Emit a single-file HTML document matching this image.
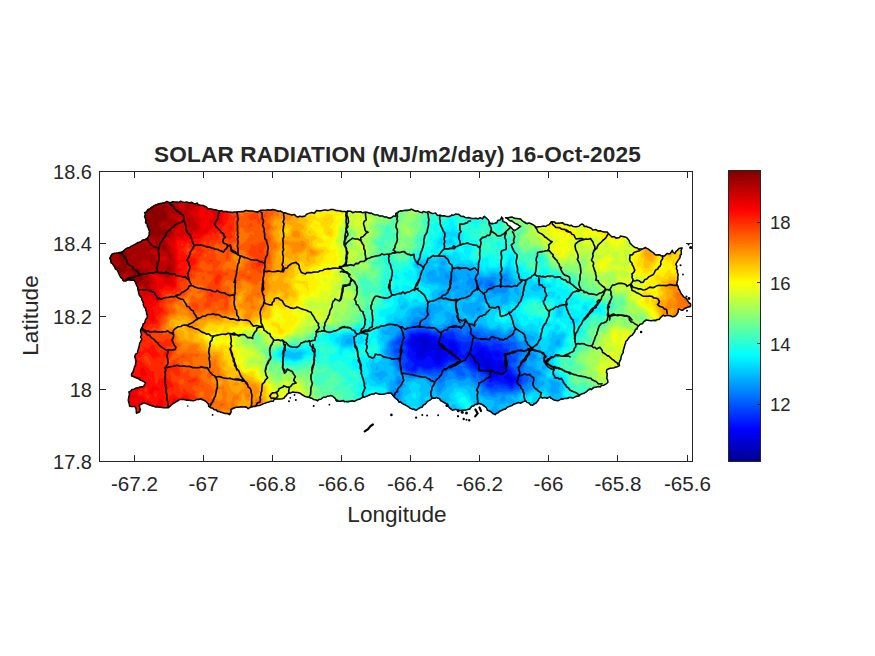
<!DOCTYPE html>
<html><head><meta charset="utf-8">
<style>
html,body{margin:0;padding:0;background:#fff;}
body{width:875px;height:656px;overflow:hidden;position:relative;font-family:"Liberation Sans",sans-serif;}
svg{position:absolute;left:0;top:0;}
text{font-family:"Liberation Sans",sans-serif;fill:#262626;}
</style></head><body>
<svg width="875" height="656" viewBox="0 0 875 656">
<defs>
<linearGradient id="jet" x1="0" y1="1" x2="0" y2="0">
<stop offset="0" stop-color="#00008f"/>
<stop offset="0.11" stop-color="#0000ff"/>
<stop offset="0.365" stop-color="#00ffff"/>
<stop offset="0.49" stop-color="#80ff80"/>
<stop offset="0.615" stop-color="#ffff00"/>
<stop offset="0.865" stop-color="#ff0000"/>
<stop offset="1" stop-color="#800000"/>
</linearGradient>
</defs>
<rect width="875" height="656" fill="#fff"/>
<clipPath id="cl"><path d="M109.9,256.7 112,254.1 120.6,252.4 130.9,246.4 139.4,242.1 147.1,237.9 149.7,234.4 148.9,229.3 146.3,222.4 144.9,216.4 146.3,211.3 151.4,207 158.3,203.6 168.6,201.9 180.6,201.9 192.6,202.7 201.1,205.3 209.7,208.7 220,210.8 232,212.1 240,212.1 246.9,210.4 257.1,211.3 265.7,210.4 274.3,209.6 282.9,212.1 289.7,214.7 298.3,216.4 306,215.6 307.7,213 313.7,213 315.4,210.8 325.7,210.4 333.4,209.6 341.1,210.8 346.3,212.1 354.9,211.3 361.7,213 366.9,212.1 375.4,214.7 384,216.4 388.6,218.1 395.4,216.4 397.1,212.1 404,210.1 411.7,209.6 419.4,212.1 428,212.1 433.1,213.9 440,215.6 448.6,216.4 455.4,214.7 462.3,216.4 469.1,218.1 476,219 482.9,218.1 484.6,215.6 487.1,219 489.7,222.4 494.9,223.3 500,219.9 501.7,216.4 503.4,220.7 506.9,224.1 510.3,226.7 513.7,230.1 517.1,229.3 520.6,226.7 515.4,223.3 508.6,219.9 505.1,217.3 512,217.3 518.9,219 524,221.6 531.4,224.1 536.6,226.7 545.1,226.7 550.3,223.3 552,221.6 560.6,223.3 569.1,225.9 577.7,226.7 582,224.1 586.3,226.7 593.1,229.3 600,231 606.8,232.6 611.8,236.8 618.5,238.4 621,235.9 626.9,237.6 630.2,243.5 635.2,247.7 640.3,249.3 645.3,246.8 650.3,251 657,255.2 663.7,256 669.6,253.5 672.1,251 674.6,253.5 678.8,248.5 681.8,248.5 681.3,253.5 678,260.2 676.3,264.4 677.1,270.3 678,277 677.1,283.7 678.8,288.7 681.3,293.7 685.5,298.8 689.7,303.8 690.6,307.1 686.4,308 683,310.5 678.8,309.7 677.1,313.8 673.8,316.4 668.8,315.5 663.7,314.7 660.4,317.2 656.2,321.4 652,320.6 647,320.6 642,322.2 638.6,325.6 634.9,331.7 629.1,337.5 625.2,343.3 623.3,351.1 620.3,358.9 619.4,365.7 613.5,367.6 606.7,369.5 606.7,375.4 607.7,382.2 603.8,385.1 594.1,388 584.4,392.9 576.6,396.7 565,398.7 556.2,400.6 549.4,397.7 540.7,396.7 535.7,403.4 532.5,405.3 525.4,400.9 518.6,402.6 510,406 501.4,410.3 494.6,414.6 489.4,411.1 485.1,406.9 479.1,403.4 475.7,404.3 470.6,407.7 465.4,410.3 458.6,410.3 450,408.6 446.6,403.4 441.4,400 436.3,397.4 431.1,399.1 422.6,405.1 415.7,411.1 405.4,405.1 396.9,400 390.6,393.1 382,394 373.4,394 363.1,397.4 356.3,400 347.7,402.6 342.6,400.9 336.6,401.7 334.9,398.3 330.6,395.7 323.7,397.4 316.9,400.9 311.7,398.3 304.9,396.6 299.7,393.1 292.9,392.3 286.9,394 284.3,398.3 277.4,399.1 267.1,402.6 256.9,406 250,407.7 248.6,408.6 245.1,406.9 236.6,406.9 231.4,409.4 229.7,414.6 222.9,412.9 216,410.3 209.1,406 205.7,400.9 197.1,399.1 188.6,400 180,399.1 173.1,403.4 168,407.7 159.4,407.7 150.9,406 144,402.6 139.7,405.1 139.7,412 137.1,412.9 135.4,406.9 129.4,406 128.6,399.1 129.4,392.3 135.4,388 144,386.3 145.7,382.9 138.9,378.6 131.1,376 133.4,370.3 136,363.4 135.1,356.6 138.6,349.7 141.1,339.4 141.1,329.1 144.6,322.3 148,315.4 145.4,308.6 142,300 139.4,294.4 136.9,285.9 134.3,280.7 127.4,279.9 123.1,280.7 119.7,275.6 116.3,268.7 111.1,261.9Z"/></clipPath>
<g clip-path="url(#cl)">
<rect x="100" y="195" width="600" height="225" fill="#0000bf"/>
<path fill="#0000d9" d="M108.8,255.8 108.8,258.8 109.8,262.2 114.8,269.2 118.2,276.8 122.2,282.2 131.2,281.8 133.8,283.2 136.2,288.2 136.2,289.8 137.8,293.2 138.2,296.2 141.8,302.8 144.2,310.8 146.8,315.2 140.2,327.8 140.2,339.2 139.8,339.8 137.8,348.8 134.2,355.2 134.8,363.8 132.2,368.8 130.2,374.8 130.2,377.8 136.8,379.8 143.2,383.2 143.8,384.2 141.8,385.8 137.8,386.2 133.2,387.8 128.2,391.2 128.2,394.2 127.8,394.8 127.8,404.2 128.2,404.8 128.2,407.8 133.8,408.2 134.8,409.2 136.2,414.2 141.2,413.8 141.2,406.8 143.8,405.2 145.2,405.2 151.2,408.2 153.8,408.2 157.2,409.2 169.8,409.2 175.2,404.2 180.8,401.2 192.2,401.8 192.8,401.2 196.2,401.2 197.2,400.8 197.8,401.2 200.2,401.2 200.8,401.8 204.8,402.2 208.8,408.2 217.2,412.8 226.2,415.8 231.2,416.2 232.2,411.8 233.8,410.2 237.8,408.2 244.2,408.2 247.8,410.2 250.2,410.2 251.8,409.2 258.8,407.8 273.8,402.8 278.2,400.8 285.8,399.8 288.2,395.8 292.2,394.2 296.8,394.2 299.8,395.2 303.8,398.2 311.2,399.8 315.8,402.2 318.8,402.2 325.2,398.8 330.8,397.8 334.2,400.2 335.8,403.2 343.2,402.8 346.2,404.2 349.8,404.2 355.2,402.2 356.8,402.2 364.2,398.8 367.2,398.2 374.2,395.8 385.8,395.8 386.2,395.2 390.2,395.2 396.2,402.2 414.8,412.8 417.2,412.8 426.8,404.8 430.2,402.8 431.8,401.2 436.2,399.2 440.8,402.2 445.2,404.2 448.8,409.8 450.8,410.8 453.2,410.8 456.8,411.8 467.2,411.8 473.2,408.8 476.2,406.2 479.2,405.2 483.8,407.8 486.2,410.8 490.2,414.2 493.8,416.2 496.2,416.2 501.8,412.2 506.8,409.8 507.8,409.8 511.2,407.8 512.2,407.8 522.8,403.2 525.2,402.8 531.8,406.8 534.2,406.8 538.2,403.8 541.8,398.8 548.8,399.2 554.8,402.2 558.8,402.2 559.2,401.8 563.2,401.2 568.2,399.8 576.8,398.8 595.2,389.8 599.8,388.2 601.2,388.2 606.2,386.2 609.2,383.8 608.2,371.8 609.2,370.8 614.2,369.8 620.8,367.2 621.8,359.8 624.8,353.2 626.2,345.8 627.2,343.8 633.2,336.2 636.8,332.8 639.8,327.8 643.8,323.8 648.2,322.2 657.8,322.8 664.2,316.8 670.2,317.2 670.8,317.8 675.2,317.8 678.8,315.2 680.2,311.8 681.2,312.2 684.8,312.2 687.8,309.8 692.2,308.8 692.2,305.8 691.2,302.8 682.2,292.2 679.2,285.2 679.8,274.8 679.2,274.2 679.2,271.2 678.2,267.8 678.2,264.2 682.8,255.8 683.2,247.8 677.8,247.8 674.8,251.2 673.8,250.2 671.2,250.2 668.8,252.8 665.8,254.2 660.8,254.8 660.2,254.2 658.8,254.2 652.2,250.8 646.8,245.8 644.2,245.8 640.8,247.8 636.8,246.8 631.2,242.2 628.8,237.2 627.2,236.2 626.2,236.2 623.2,234.8 620.2,234.8 618.2,236.8 614.8,236.2 611.8,234.8 608.2,231.8 592.8,227.8 591.2,226.8 588.8,226.2 583.8,223.2 581.2,223.2 577.8,225.2 573.2,225.2 572.8,224.8 568.2,224.2 560.8,221.8 558.2,221.8 554.8,220.8 551.2,220.8 544.2,225.8 537.8,225.8 533.2,223.2 525.2,220.8 520.8,218.2 517.8,217.2 516.2,217.2 514.2,216.2 503.8,216.2 503.2,215.2 500.8,215.2 499.2,218.8 494.8,221.8 491.2,221.2 486.2,214.8 483.8,214.8 481.8,217.2 476.2,218.2 475.8,217.8 470.2,217.2 466.2,215.8 464.8,215.8 460.2,214.2 458.2,214.2 457.8,213.8 453.2,213.8 448.8,215.2 441.2,214.8 430.2,211.2 420.2,211.2 413.8,208.8 402.8,209.2 398.8,210.8 397.2,210.8 395.8,211.8 394.8,214.2 393.2,215.8 388.8,216.8 386.2,215.2 376.2,213.8 368.8,211.2 360.8,211.8 356.8,210.2 351.8,210.2 351.2,210.8 347.8,210.8 347.2,211.2 343.2,209.8 337.2,209.2 336.8,208.8 328.8,208.8 328.2,209.2 314.2,209.8 312.8,212.2 306.8,212.2 305.2,214.8 298.8,215.2 298.2,214.8 290.8,213.8 287.8,212.2 276.2,208.8 262.8,209.2 262.2,209.8 258.8,209.8 258.2,210.2 251.2,209.8 250.8,209.2 245.2,209.2 239.8,211.2 232.2,211.2 231.8,210.8 224.2,210.2 223.8,209.8 220.8,209.8 220.2,209.2 210.8,207.8 203.2,204.2 200.2,203.8 194.8,201.8 185.8,201.2 185.2,200.8 166.8,200.8 166.2,201.2 157.2,202.8 150.2,206.2 145.2,210.2 143.8,214.8 143.8,218.8 148.2,232.2 148.2,234.2 145.8,237.2 127.8,246.2 119.8,251.2 111.2,253.2ZM424.2,339.8 426.8,341.8 426.8,344.2 425.2,345.2 424.2,345.2 422.2,343.8 422.2,341.8ZM506.2,221.2 507.2,220.8 508.2,221.8 513.8,224.2 517.8,227.2 514.8,228.8Z"/>
<path fill="#0000f2" d="M108.8,255.8 108.8,258.8 109.8,262.2 114.8,269.2 118.2,276.8 122.2,282.2 131.2,281.8 133.8,283.2 136.2,288.2 136.2,289.8 137.8,293.2 138.2,296.2 141.8,302.8 144.2,310.8 146.8,315.2 140.2,327.8 140.2,339.2 139.8,339.8 137.8,348.8 134.2,355.2 134.8,363.8 132.2,368.8 130.2,374.8 130.2,377.8 136.8,379.8 143.2,383.2 143.8,384.2 141.8,385.8 137.8,386.2 133.2,387.8 128.2,391.2 128.2,394.2 127.8,394.8 127.8,404.2 128.2,404.8 128.2,407.8 133.8,408.2 134.8,409.2 136.2,414.2 141.2,413.8 141.2,406.8 143.8,405.2 145.2,405.2 151.2,408.2 153.8,408.2 157.2,409.2 169.8,409.2 175.2,404.2 180.8,401.2 192.2,401.8 192.8,401.2 196.2,401.2 197.2,400.8 197.8,401.2 200.2,401.2 200.8,401.8 204.8,402.2 208.8,408.2 217.2,412.8 226.2,415.8 231.2,416.2 232.2,411.8 233.8,410.2 237.8,408.2 244.2,408.2 247.8,410.2 250.2,410.2 251.8,409.2 258.8,407.8 273.8,402.8 278.2,400.8 285.8,399.8 288.2,395.8 292.2,394.2 296.8,394.2 299.8,395.2 303.8,398.2 311.2,399.8 315.8,402.2 318.8,402.2 325.2,398.8 330.8,397.8 334.2,400.2 335.8,403.2 343.2,402.8 346.2,404.2 349.8,404.2 355.2,402.2 356.8,402.2 364.2,398.8 367.2,398.2 374.2,395.8 385.8,395.8 386.2,395.2 390.2,395.2 396.2,402.2 414.8,412.8 417.2,412.8 426.8,404.8 430.2,402.8 431.8,401.2 436.2,399.2 440.8,402.2 445.2,404.2 448.8,409.8 450.8,410.8 453.2,410.8 456.8,411.8 467.2,411.8 473.2,408.8 476.2,406.2 479.2,405.2 483.8,407.8 486.2,410.8 490.2,414.2 493.8,416.2 496.2,416.2 501.8,412.2 506.8,409.8 507.8,409.8 511.2,407.8 512.2,407.8 522.8,403.2 525.2,402.8 531.8,406.8 534.2,406.8 538.2,403.8 541.8,398.8 548.8,399.2 554.8,402.2 558.8,402.2 559.2,401.8 563.2,401.2 568.2,399.8 576.8,398.8 595.2,389.8 599.8,388.2 601.2,388.2 606.2,386.2 609.2,383.8 608.2,371.8 609.2,370.8 614.2,369.8 620.8,367.2 621.8,359.8 624.8,353.2 626.2,345.8 627.2,343.8 633.2,336.2 636.8,332.8 639.8,327.8 643.8,323.8 648.2,322.2 657.8,322.8 664.2,316.8 670.2,317.2 670.8,317.8 675.2,317.8 678.8,315.2 680.2,311.8 681.2,312.2 684.8,312.2 687.8,309.8 692.2,308.8 692.2,305.8 691.2,302.8 682.2,292.2 679.2,285.2 679.8,274.8 679.2,274.2 679.2,271.2 678.2,267.8 678.2,264.2 682.8,255.8 683.2,247.8 677.8,247.8 674.8,251.2 673.8,250.2 671.2,250.2 668.8,252.8 665.8,254.2 660.8,254.8 660.2,254.2 658.8,254.2 652.2,250.8 646.8,245.8 644.2,245.8 640.8,247.8 636.8,246.8 631.2,242.2 628.8,237.2 627.2,236.2 626.2,236.2 623.2,234.8 620.2,234.8 618.2,236.8 614.8,236.2 611.8,234.8 608.2,231.8 592.8,227.8 591.2,226.8 588.8,226.2 583.8,223.2 581.2,223.2 577.8,225.2 573.2,225.2 572.8,224.8 568.2,224.2 560.8,221.8 558.2,221.8 554.8,220.8 551.2,220.8 544.2,225.8 537.8,225.8 533.2,223.2 525.2,220.8 520.8,218.2 517.8,217.2 516.2,217.2 514.2,216.2 503.8,216.2 503.2,215.2 500.8,215.2 499.2,218.8 494.8,221.8 491.2,221.2 486.2,214.8 483.8,214.8 481.8,217.2 476.2,218.2 475.8,217.8 470.2,217.2 466.2,215.8 464.8,215.8 460.2,214.2 458.2,214.2 457.8,213.8 453.2,213.8 448.8,215.2 441.2,214.8 430.2,211.2 420.2,211.2 413.8,208.8 402.8,209.2 398.8,210.8 397.2,210.8 395.8,211.8 394.8,214.2 393.2,215.8 388.8,216.8 386.2,215.2 376.2,213.8 368.8,211.2 360.8,211.8 356.8,210.2 351.8,210.2 351.2,210.8 347.8,210.8 347.2,211.2 343.2,209.8 337.2,209.2 336.8,208.8 328.8,208.8 328.2,209.2 314.2,209.8 312.8,212.2 306.8,212.2 305.2,214.8 298.8,215.2 298.2,214.8 290.8,213.8 287.8,212.2 276.2,208.8 262.8,209.2 262.2,209.8 258.8,209.8 258.2,210.2 251.2,209.8 250.8,209.2 245.2,209.2 239.8,211.2 232.2,211.2 231.8,210.8 224.2,210.2 223.8,209.8 220.8,209.8 220.2,209.2 210.8,207.8 203.2,204.2 200.2,203.8 194.8,201.8 185.8,201.2 185.2,200.8 166.8,200.8 166.2,201.2 157.2,202.8 150.2,206.2 145.2,210.2 143.8,214.8 143.8,218.8 148.2,232.2 148.2,234.2 145.8,237.2 127.8,246.2 119.8,251.2 111.2,253.2ZM499.2,362.8 500.8,363.2 503.8,366.8 503.8,368.8 502.2,370.2 499.2,370.8 498.2,369.2 498.2,363.8ZM478.2,359.8 479.2,360.2 480.2,361.8 478.8,363.8 477.8,363.8 476.8,362.8 476.8,360.8ZM481.2,353.8 483.2,353.8 484.2,354.8 484.2,357.2 484.8,358.2 487.8,358.8 489.2,360.2 489.8,362.2 491.2,364.8 493.8,366.8 493.8,368.2 491.8,370.8 487.8,369.8 485.8,367.8 484.8,364.8 481.8,360.8 481.8,359.2 482.2,358.8 480.2,356.2 480.2,354.8ZM411.8,340.2 413.8,338.2 418.2,338.8 419.2,336.8 421.2,335.8 421.8,336.2 424.8,336.2 425.2,336.8 430.2,337.8 431.8,339.2 430.2,342.8 430.2,343.8 431.2,344.8 437.2,344.8 441.2,347.2 442.8,349.2 442.8,351.8 440.8,354.2 441.2,356.2 442.2,357.2 441.8,358.8 439.2,361.2 437.8,361.2 436.2,359.2 435.8,353.8 437.8,351.2 437.8,349.2 431.8,349.8 428.8,351.2 425.2,351.8 424.8,352.2 424.8,356.2 422.8,358.2 419.8,357.8 418.8,356.8 418.8,353.2 419.2,352.8 419.2,350.8 418.2,348.8 418.8,347.8 418.8,343.2 418.2,342.2 415.2,343.8 413.8,345.8 411.8,345.2 410.8,343.8 410.8,342.2ZM506.2,221.2 507.2,220.8 508.2,221.8 513.8,224.2 517.8,227.2 514.8,228.8Z"/>
<path fill="#000dff" d="M108.8,255.8 108.8,258.8 109.8,262.2 114.8,269.2 118.2,276.8 122.2,282.2 131.2,281.8 133.8,283.2 136.2,288.2 136.2,289.8 137.8,293.2 138.2,296.2 141.8,302.8 144.2,310.8 146.8,315.2 140.2,327.8 140.2,339.2 139.8,339.8 137.8,348.8 134.2,355.2 134.8,363.8 132.2,368.8 130.2,374.8 130.2,377.8 136.8,379.8 143.2,383.2 143.8,384.2 141.8,385.8 137.8,386.2 133.2,387.8 128.2,391.2 128.2,394.2 127.8,394.8 127.8,404.2 128.2,404.8 128.2,407.8 133.8,408.2 134.8,409.2 136.2,414.2 141.2,413.8 141.2,406.8 143.8,405.2 145.2,405.2 151.2,408.2 153.8,408.2 157.2,409.2 169.8,409.2 175.2,404.2 180.8,401.2 192.2,401.8 192.8,401.2 196.2,401.2 197.2,400.8 197.8,401.2 200.2,401.2 200.8,401.8 204.8,402.2 208.8,408.2 217.2,412.8 226.2,415.8 231.2,416.2 232.2,411.8 233.8,410.2 237.8,408.2 244.2,408.2 247.8,410.2 250.2,410.2 251.8,409.2 258.8,407.8 273.8,402.8 278.2,400.8 285.8,399.8 288.2,395.8 292.2,394.2 296.8,394.2 299.8,395.2 303.8,398.2 311.2,399.8 315.8,402.2 318.8,402.2 325.2,398.8 330.8,397.8 334.2,400.2 335.8,403.2 343.2,402.8 346.2,404.2 349.8,404.2 355.2,402.2 356.8,402.2 364.2,398.8 367.2,398.2 374.2,395.8 385.8,395.8 386.2,395.2 390.2,395.2 396.2,402.2 414.8,412.8 417.2,412.8 426.8,404.8 430.2,402.8 431.8,401.2 436.2,399.2 440.8,402.2 445.2,404.2 448.8,409.8 450.8,410.8 453.2,410.8 456.8,411.8 467.2,411.8 473.2,408.8 476.2,406.2 479.2,405.2 483.8,407.8 486.2,410.8 490.2,414.2 493.8,416.2 496.2,416.2 501.8,412.2 506.8,409.8 507.8,409.8 511.2,407.8 512.2,407.8 522.8,403.2 525.2,402.8 531.8,406.8 534.2,406.8 538.2,403.8 541.8,398.8 548.8,399.2 554.8,402.2 558.8,402.2 559.2,401.8 563.2,401.2 568.2,399.8 576.8,398.8 595.2,389.8 599.8,388.2 601.2,388.2 606.2,386.2 609.2,383.8 608.2,371.8 609.2,370.8 614.2,369.8 620.8,367.2 621.8,359.8 624.8,353.2 626.2,345.8 627.2,343.8 633.2,336.2 636.8,332.8 639.8,327.8 643.8,323.8 648.2,322.2 657.8,322.8 664.2,316.8 670.2,317.2 670.8,317.8 675.2,317.8 678.8,315.2 680.2,311.8 681.2,312.2 684.8,312.2 687.8,309.8 692.2,308.8 692.2,305.8 691.2,302.8 682.2,292.2 679.2,285.2 679.8,274.8 679.2,274.2 679.2,271.2 678.2,267.8 678.2,264.2 682.8,255.8 683.2,247.8 677.8,247.8 674.8,251.2 673.8,250.2 671.2,250.2 668.8,252.8 665.8,254.2 660.8,254.8 660.2,254.2 658.8,254.2 652.2,250.8 646.8,245.8 644.2,245.8 640.8,247.8 636.8,246.8 631.2,242.2 628.8,237.2 627.2,236.2 626.2,236.2 623.2,234.8 620.2,234.8 618.2,236.8 614.8,236.2 611.8,234.8 608.2,231.8 592.8,227.8 591.2,226.8 588.8,226.2 583.8,223.2 581.2,223.2 577.8,225.2 573.2,225.2 572.8,224.8 568.2,224.2 560.8,221.8 558.2,221.8 554.8,220.8 551.2,220.8 544.2,225.8 537.8,225.8 533.2,223.2 525.2,220.8 520.8,218.2 517.8,217.2 516.2,217.2 514.2,216.2 503.8,216.2 503.2,215.2 500.8,215.2 499.2,218.8 494.8,221.8 491.2,221.2 486.2,214.8 483.8,214.8 481.8,217.2 476.2,218.2 475.8,217.8 470.2,217.2 466.2,215.8 464.8,215.8 460.2,214.2 458.2,214.2 457.8,213.8 453.2,213.8 448.8,215.2 441.2,214.8 430.2,211.2 420.2,211.2 413.8,208.8 402.8,209.2 398.8,210.8 397.2,210.8 395.8,211.8 394.8,214.2 393.2,215.8 388.8,216.8 386.2,215.2 376.2,213.8 368.8,211.2 360.8,211.8 356.8,210.2 351.8,210.2 351.2,210.8 347.8,210.8 347.2,211.2 343.2,209.8 337.2,209.2 336.8,208.8 328.8,208.8 328.2,209.2 314.2,209.8 312.8,212.2 306.8,212.2 305.2,214.8 298.8,215.2 298.2,214.8 290.8,213.8 287.8,212.2 276.2,208.8 262.8,209.2 262.2,209.8 258.8,209.8 258.2,210.2 251.2,209.8 250.8,209.2 245.2,209.2 239.8,211.2 232.2,211.2 231.8,210.8 224.2,210.2 223.8,209.8 220.8,209.8 220.2,209.2 210.8,207.8 203.2,204.2 200.2,203.8 194.8,201.8 185.8,201.2 185.2,200.8 166.8,200.8 166.2,201.2 157.2,202.8 150.2,206.2 145.2,210.2 143.8,214.8 143.8,218.8 148.2,232.2 148.2,234.2 145.8,237.2 127.8,246.2 119.8,251.2 111.2,253.2ZM504.2,376.8 505.8,375.2 507.8,374.2 509.2,374.2 511.2,376.8 513.2,377.2 515.2,379.2 511.8,382.2 509.8,382.8 507.8,381.2 507.2,379.2 505.2,378.8 504.2,377.8ZM492.8,353.8 494.8,352.2 496.2,352.2 499.2,353.2 500.2,354.8 498.8,356.8 496.2,357.2 493.2,355.2ZM480.2,348.8 481.8,348.2 484.2,348.2 485.2,348.8 487.2,351.8 491.8,353.8 492.8,354.8 492.2,355.8 492.2,358.8 493.8,360.2 495.2,360.2 495.8,359.8 499.8,360.2 501.8,361.2 504.8,364.2 505.8,367.2 505.2,370.2 502.8,372.2 500.8,374.8 499.8,374.8 496.2,377.8 491.8,378.8 490.8,377.8 490.8,374.2 489.2,372.2 486.2,370.8 482.8,367.2 478.2,367.2 474.8,364.2 473.8,361.2 472.2,359.8 471.8,356.8 473.2,355.2 475.8,354.2 476.8,352.2ZM408.2,342.8 410.8,339.2 411.8,336.8 413.2,335.8 416.8,336.2 419.2,334.2 427.8,334.8 430.2,336.2 434.2,337.2 435.8,338.8 436.8,341.8 443.2,343.8 444.2,344.8 448.2,352.2 448.8,352.2 449.2,350.8 448.8,349.8 448.8,342.2 450.2,340.8 452.8,340.8 455.2,343.2 457.2,347.2 458.2,353.2 454.2,356.8 451.2,355.8 448.8,353.2 446.2,358.8 440.2,364.2 436.8,364.8 434.2,362.8 432.2,357.8 429.8,355.8 427.8,356.2 423.2,360.2 419.2,360.2 417.8,360.8 414.8,356.8 414.8,355.8 416.2,354.2 416.2,352.8 414.8,351.8 413.2,351.8 411.8,350.2 411.2,348.2 408.2,344.8ZM506.2,221.2 507.2,220.8 508.2,221.8 513.8,224.2 517.8,227.2 514.8,228.8Z"/>
<path fill="#0026ff" d="M108.8,255.8 108.8,258.8 109.8,262.2 114.8,269.2 118.2,276.8 122.2,282.2 131.2,281.8 133.8,283.2 136.2,288.2 136.2,289.8 137.8,293.2 138.2,296.2 141.8,302.8 144.2,310.8 146.8,315.2 140.2,327.8 140.2,339.2 139.8,339.8 137.8,348.8 134.2,355.2 134.8,363.8 132.2,368.8 130.2,374.8 130.2,377.8 136.8,379.8 143.2,383.2 143.8,384.2 141.8,385.8 137.8,386.2 133.2,387.8 128.2,391.2 128.2,394.2 127.8,394.8 127.8,404.2 128.2,404.8 128.2,407.8 133.8,408.2 134.8,409.2 136.2,414.2 141.2,413.8 141.2,406.8 143.8,405.2 145.2,405.2 151.2,408.2 153.8,408.2 157.2,409.2 169.8,409.2 175.2,404.2 180.8,401.2 192.2,401.8 192.8,401.2 196.2,401.2 197.2,400.8 197.8,401.2 200.2,401.2 200.8,401.8 204.8,402.2 208.8,408.2 217.2,412.8 226.2,415.8 231.2,416.2 232.2,411.8 233.8,410.2 237.8,408.2 244.2,408.2 247.8,410.2 250.2,410.2 251.8,409.2 258.8,407.8 273.8,402.8 278.2,400.8 285.8,399.8 288.2,395.8 292.2,394.2 296.8,394.2 299.8,395.2 303.8,398.2 311.2,399.8 315.8,402.2 318.8,402.2 325.2,398.8 330.8,397.8 334.2,400.2 335.8,403.2 343.2,402.8 346.2,404.2 349.8,404.2 355.2,402.2 356.8,402.2 364.2,398.8 367.2,398.2 374.2,395.8 385.8,395.8 386.2,395.2 390.2,395.2 396.2,402.2 414.8,412.8 417.2,412.8 426.8,404.8 430.2,402.8 431.8,401.2 436.2,399.2 440.8,402.2 445.2,404.2 448.8,409.8 450.8,410.8 453.2,410.8 456.8,411.8 467.2,411.8 473.2,408.8 476.2,406.2 479.2,405.2 483.8,407.8 486.2,410.8 490.2,414.2 493.8,416.2 496.2,416.2 501.8,412.2 506.8,409.8 507.8,409.8 511.2,407.8 512.2,407.8 522.8,403.2 525.2,402.8 531.8,406.8 534.2,406.8 538.2,403.8 541.8,398.8 548.8,399.2 554.8,402.2 558.8,402.2 559.2,401.8 563.2,401.2 568.2,399.8 576.8,398.8 595.2,389.8 599.8,388.2 601.2,388.2 606.2,386.2 609.2,383.8 608.2,371.8 609.2,370.8 614.2,369.8 620.8,367.2 621.8,359.8 624.8,353.2 626.2,345.8 627.2,343.8 633.2,336.2 636.8,332.8 639.8,327.8 643.8,323.8 648.2,322.2 657.8,322.8 664.2,316.8 670.2,317.2 670.8,317.8 675.2,317.8 678.8,315.2 680.2,311.8 681.2,312.2 684.8,312.2 687.8,309.8 692.2,308.8 692.2,305.8 691.2,302.8 682.2,292.2 679.2,285.2 679.8,274.8 679.2,274.2 679.2,271.2 678.2,267.8 678.2,264.2 682.8,255.8 683.2,247.8 677.8,247.8 674.8,251.2 673.8,250.2 671.2,250.2 668.8,252.8 665.8,254.2 660.8,254.8 660.2,254.2 658.8,254.2 652.2,250.8 646.8,245.8 644.2,245.8 640.8,247.8 636.8,246.8 631.2,242.2 628.8,237.2 627.2,236.2 626.2,236.2 623.2,234.8 620.2,234.8 618.2,236.8 614.8,236.2 611.8,234.8 608.2,231.8 592.8,227.8 591.2,226.8 588.8,226.2 583.8,223.2 581.2,223.2 577.8,225.2 573.2,225.2 572.8,224.8 568.2,224.2 560.8,221.8 558.2,221.8 554.8,220.8 551.2,220.8 544.2,225.8 537.8,225.8 533.2,223.2 525.2,220.8 520.8,218.2 517.8,217.2 516.2,217.2 514.2,216.2 503.8,216.2 503.2,215.2 500.8,215.2 499.2,218.8 494.8,221.8 491.2,221.2 486.2,214.8 483.8,214.8 481.8,217.2 476.2,218.2 475.8,217.8 470.2,217.2 466.2,215.8 464.8,215.8 460.2,214.2 458.2,214.2 457.8,213.8 453.2,213.8 448.8,215.2 441.2,214.8 430.2,211.2 420.2,211.2 413.8,208.8 402.8,209.2 398.8,210.8 397.2,210.8 395.8,211.8 394.8,214.2 393.2,215.8 388.8,216.8 386.2,215.2 376.2,213.8 368.8,211.2 360.8,211.8 356.8,210.2 351.8,210.2 351.2,210.8 347.8,210.8 347.2,211.2 343.2,209.8 337.2,209.2 336.8,208.8 328.8,208.8 328.2,209.2 314.2,209.8 312.8,212.2 306.8,212.2 305.2,214.8 298.8,215.2 298.2,214.8 290.8,213.8 287.8,212.2 276.2,208.8 262.8,209.2 262.2,209.8 258.8,209.8 258.2,210.2 251.2,209.8 250.8,209.2 245.2,209.2 239.8,211.2 232.2,211.2 231.8,210.8 224.2,210.2 223.8,209.8 220.8,209.8 220.2,209.2 210.8,207.8 203.2,204.2 200.2,203.8 194.8,201.8 185.8,201.2 185.2,200.8 166.8,200.8 166.2,201.2 157.2,202.8 150.2,206.2 145.2,210.2 143.8,214.8 143.8,218.8 148.2,232.2 148.2,234.2 145.8,237.2 127.8,246.2 119.8,251.2 111.2,253.2ZM405.8,343.2 409.2,338.8 410.8,334.8 412.2,333.8 415.8,333.8 417.8,332.8 420.2,332.8 420.8,333.2 428.8,333.2 432.8,335.8 435.8,335.8 438.8,337.8 444.8,335.8 445.2,336.2 444.8,337.2 445.2,338.8 453.2,338.8 454.2,339.2 460.2,345.2 460.8,346.2 460.2,349.2 461.8,354.2 463.2,355.2 464.8,355.2 467.2,351.2 470.2,350.8 473.8,346.8 475.2,343.8 476.8,342.8 477.8,342.8 481.8,345.8 485.2,345.2 487.2,346.2 489.2,350.2 490.2,350.8 491.8,350.8 493.8,349.8 497.8,349.8 502.8,352.2 503.8,353.2 503.8,354.2 502.2,356.8 502.2,358.2 502.8,359.2 505.2,361.2 507.8,368.2 510.8,370.8 512.8,374.2 514.8,376.2 518.8,378.2 519.2,380.2 517.2,382.8 514.2,383.2 511.8,386.2 507.2,383.8 499.8,382.8 496.8,380.8 493.8,380.8 490.8,382.8 489.2,381.2 488.8,379.8 488.8,374.8 487.2,372.8 485.2,372.2 481.2,369.2 477.8,369.8 476.8,369.2 474.8,366.8 473.2,366.2 471.8,364.8 471.2,362.8 469.2,360.2 469.2,357.2 468.2,356.2 466.8,356.2 465.2,358.8 462.8,358.8 460.8,357.8 459.2,357.8 456.2,360.2 450.8,360.2 448.8,359.2 442.2,366.2 438.2,367.8 435.2,366.8 432.8,366.8 431.8,367.8 429.2,368.8 428.8,368.2 423.8,368.2 420.8,366.2 417.8,366.2 416.2,367.8 416.2,368.8 414.8,370.8 412.8,370.8 411.2,368.8 414.2,365.2 414.2,362.8 410.8,360.2 408.8,358.2 407.8,356.2 407.8,353.2 407.2,352.2 408.2,350.2 408.2,347.8ZM506.2,221.2 507.2,220.8 508.2,221.8 513.8,224.2 517.8,227.2 514.8,228.8Z"/>
<path fill="#0040ff" d="M108.8,255.8 108.8,258.8 109.8,262.2 114.8,269.2 118.2,276.8 122.2,282.2 131.2,281.8 133.8,283.2 136.2,288.2 136.2,289.8 137.8,293.2 138.2,296.2 141.8,302.8 144.2,310.8 146.8,315.2 140.2,327.8 140.2,339.2 139.8,339.8 137.8,348.8 134.2,355.2 134.8,363.8 132.2,368.8 130.2,374.8 130.2,377.8 136.8,379.8 143.2,383.2 143.8,384.2 141.8,385.8 137.8,386.2 133.2,387.8 128.2,391.2 128.2,394.2 127.8,394.8 127.8,404.2 128.2,404.8 128.2,407.8 133.8,408.2 134.8,409.2 136.2,414.2 141.2,413.8 141.2,406.8 143.8,405.2 145.2,405.2 151.2,408.2 153.8,408.2 157.2,409.2 169.8,409.2 175.2,404.2 180.8,401.2 192.2,401.8 192.8,401.2 196.2,401.2 197.2,400.8 197.8,401.2 200.2,401.2 200.8,401.8 204.8,402.2 208.8,408.2 217.2,412.8 226.2,415.8 231.2,416.2 232.2,411.8 233.8,410.2 237.8,408.2 244.2,408.2 247.8,410.2 250.2,410.2 251.8,409.2 258.8,407.8 273.8,402.8 278.2,400.8 285.8,399.8 288.2,395.8 292.2,394.2 296.8,394.2 299.8,395.2 303.8,398.2 311.2,399.8 315.8,402.2 318.8,402.2 325.2,398.8 330.8,397.8 334.2,400.2 335.8,403.2 343.2,402.8 346.2,404.2 349.8,404.2 355.2,402.2 356.8,402.2 364.2,398.8 367.2,398.2 374.2,395.8 385.8,395.8 386.2,395.2 390.2,395.2 396.2,402.2 414.8,412.8 417.2,412.8 426.8,404.8 430.2,402.8 431.8,401.2 436.2,399.2 440.8,402.2 445.2,404.2 448.8,409.8 450.8,410.8 453.2,410.8 456.8,411.8 467.2,411.8 473.2,408.8 476.2,406.2 479.2,405.2 483.8,407.8 486.2,410.8 490.2,414.2 493.8,416.2 496.2,416.2 501.8,412.2 506.8,409.8 507.8,409.8 511.2,407.8 512.2,407.8 522.8,403.2 525.2,402.8 531.8,406.8 534.2,406.8 538.2,403.8 541.8,398.8 548.8,399.2 554.8,402.2 558.8,402.2 559.2,401.8 563.2,401.2 568.2,399.8 576.8,398.8 595.2,389.8 599.8,388.2 601.2,388.2 606.2,386.2 609.2,383.8 608.2,371.8 609.2,370.8 614.2,369.8 620.8,367.2 621.8,359.8 624.8,353.2 626.2,345.8 627.2,343.8 633.2,336.2 636.8,332.8 639.8,327.8 643.8,323.8 648.2,322.2 657.8,322.8 664.2,316.8 670.2,317.2 670.8,317.8 675.2,317.8 678.8,315.2 680.2,311.8 681.2,312.2 684.8,312.2 687.8,309.8 692.2,308.8 692.2,305.8 691.2,302.8 682.2,292.2 679.2,285.2 679.8,274.8 679.2,274.2 679.2,271.2 678.2,267.8 678.2,264.2 682.8,255.8 683.2,247.8 677.8,247.8 674.8,251.2 673.8,250.2 671.2,250.2 668.8,252.8 665.8,254.2 660.8,254.8 660.2,254.2 658.8,254.2 652.2,250.8 646.8,245.8 644.2,245.8 640.8,247.8 636.8,246.8 631.2,242.2 628.8,237.2 627.2,236.2 626.2,236.2 623.2,234.8 620.2,234.8 618.2,236.8 614.8,236.2 611.8,234.8 608.2,231.8 592.8,227.8 591.2,226.8 588.8,226.2 583.8,223.2 581.2,223.2 577.8,225.2 573.2,225.2 572.8,224.8 568.2,224.2 560.8,221.8 558.2,221.8 554.8,220.8 551.2,220.8 544.2,225.8 537.8,225.8 533.2,223.2 525.2,220.8 520.8,218.2 517.8,217.2 516.2,217.2 514.2,216.2 503.8,216.2 503.2,215.2 500.8,215.2 499.2,218.8 494.8,221.8 491.2,221.2 486.2,214.8 483.8,214.8 481.8,217.2 476.2,218.2 475.8,217.8 470.2,217.2 466.2,215.8 464.8,215.8 460.2,214.2 458.2,214.2 457.8,213.8 453.2,213.8 448.8,215.2 441.2,214.8 430.2,211.2 420.2,211.2 413.8,208.8 402.8,209.2 398.8,210.8 397.2,210.8 395.8,211.8 394.8,214.2 393.2,215.8 388.8,216.8 386.2,215.2 376.2,213.8 368.8,211.2 360.8,211.8 356.8,210.2 351.8,210.2 351.2,210.8 347.8,210.8 347.2,211.2 343.2,209.8 337.2,209.2 336.8,208.8 328.8,208.8 328.2,209.2 314.2,209.8 312.8,212.2 306.8,212.2 305.2,214.8 298.8,215.2 298.2,214.8 290.8,213.8 287.8,212.2 276.2,208.8 262.8,209.2 262.2,209.8 258.8,209.8 258.2,210.2 251.2,209.8 250.8,209.2 245.2,209.2 239.8,211.2 232.2,211.2 231.8,210.8 224.2,210.2 223.8,209.8 220.8,209.8 220.2,209.2 210.8,207.8 203.2,204.2 200.2,203.8 194.8,201.8 185.8,201.2 185.2,200.8 166.8,200.8 166.2,201.2 157.2,202.8 150.2,206.2 145.2,210.2 143.8,214.8 143.8,218.8 148.2,232.2 148.2,234.2 145.8,237.2 127.8,246.2 119.8,251.2 111.2,253.2ZM400.2,350.2 401.2,348.8 402.8,348.8 404.2,349.8 405.2,349.8 406.2,348.8 405.8,346.8 403.8,344.8 403.8,341.8 408.2,337.8 408.8,334.2 411.2,332.2 415.2,332.2 416.8,331.2 429.2,331.8 432.2,333.8 434.8,333.8 439.8,335.2 441.8,334.8 444.2,333.2 448.8,333.2 449.8,332.2 452.8,332.2 454.2,333.8 456.2,338.2 458.2,340.2 460.2,340.8 462.2,342.2 470.2,341.8 471.8,340.8 473.2,340.8 473.8,341.2 476.2,341.2 477.2,340.8 479.8,341.8 482.2,343.8 483.2,343.2 485.8,343.2 489.8,346.2 491.2,346.2 493.8,342.8 494.8,342.8 496.2,343.8 500.2,343.8 503.2,346.2 503.2,349.2 503.8,348.8 506.8,348.8 508.2,350.8 508.2,354.2 506.2,356.8 506.8,358.8 509.2,360.8 508.2,363.8 508.8,366.2 511.8,369.2 515.8,375.2 517.8,375.8 520.8,377.8 520.8,380.8 519.8,383.2 518.2,384.8 515.8,385.2 512.2,388.8 510.2,388.8 507.8,386.2 506.2,385.8 502.8,386.2 499.8,384.8 496.2,384.8 494.8,383.8 494.2,385.2 492.2,387.2 489.2,387.2 486.8,384.8 486.8,383.2 487.2,382.8 487.2,376.2 485.8,374.2 483.2,373.8 479.8,370.8 476.2,370.8 473.8,368.8 470.8,368.2 468.8,366.2 468.2,364.2 466.8,362.8 461.8,360.2 460.2,360.2 457.8,361.8 449.2,362.2 445.2,365.8 444.8,367.2 443.2,368.8 439.2,370.2 437.8,370.2 434.8,368.8 433.2,368.8 431.2,370.8 427.8,370.8 427.2,370.2 424.8,370.8 419.8,367.8 417.2,369.8 416.2,371.8 415.2,372.2 411.8,372.2 410.2,371.2 408.2,371.2 406.2,369.8 404.8,364.2 408.2,361.8 408.2,360.8 406.2,357.8 406.2,356.2 405.2,353.8 401.8,352.8ZM506.2,221.2 507.2,220.8 508.2,221.8 513.8,224.2 517.8,227.2 514.8,228.8Z"/>
<path fill="#0059ff" d="M108.8,255.8 108.8,258.8 109.8,262.2 114.8,269.2 118.2,276.8 122.2,282.2 131.2,281.8 133.8,283.2 136.2,288.2 136.2,289.8 137.8,293.2 138.2,296.2 141.8,302.8 144.2,310.8 146.8,315.2 140.2,327.8 140.2,339.2 139.8,339.8 137.8,348.8 134.2,355.2 134.8,363.8 132.2,368.8 130.2,374.8 130.2,377.8 136.8,379.8 143.2,383.2 143.8,384.2 141.8,385.8 137.8,386.2 133.2,387.8 128.2,391.2 128.2,394.2 127.8,394.8 127.8,404.2 128.2,404.8 128.2,407.8 133.8,408.2 134.8,409.2 136.2,414.2 141.2,413.8 141.2,406.8 143.8,405.2 145.2,405.2 151.2,408.2 153.8,408.2 157.2,409.2 169.8,409.2 175.2,404.2 180.8,401.2 192.2,401.8 192.8,401.2 196.2,401.2 197.2,400.8 197.8,401.2 200.2,401.2 200.8,401.8 204.8,402.2 208.8,408.2 217.2,412.8 226.2,415.8 231.2,416.2 232.2,411.8 233.8,410.2 237.8,408.2 244.2,408.2 247.8,410.2 250.2,410.2 251.8,409.2 258.8,407.8 273.8,402.8 278.2,400.8 285.8,399.8 288.2,395.8 292.2,394.2 296.8,394.2 299.8,395.2 303.8,398.2 311.2,399.8 315.8,402.2 318.8,402.2 325.2,398.8 330.8,397.8 334.2,400.2 335.8,403.2 343.2,402.8 346.2,404.2 349.8,404.2 355.2,402.2 356.8,402.2 364.2,398.8 367.2,398.2 374.2,395.8 385.8,395.8 386.2,395.2 390.2,395.2 396.2,402.2 414.8,412.8 417.2,412.8 426.8,404.8 430.2,402.8 431.8,401.2 436.2,399.2 440.8,402.2 445.2,404.2 448.8,409.8 450.8,410.8 453.2,410.8 456.8,411.8 467.2,411.8 473.2,408.8 476.2,406.2 479.2,405.2 483.8,407.8 486.2,410.8 490.2,414.2 493.8,416.2 496.2,416.2 501.8,412.2 506.8,409.8 507.8,409.8 511.2,407.8 512.2,407.8 522.8,403.2 525.2,402.8 531.8,406.8 534.2,406.8 538.2,403.8 541.8,398.8 548.8,399.2 554.8,402.2 558.8,402.2 559.2,401.8 563.2,401.2 568.2,399.8 576.8,398.8 595.2,389.8 599.8,388.2 601.2,388.2 606.2,386.2 609.2,383.8 608.2,371.8 609.2,370.8 614.2,369.8 620.8,367.2 621.8,359.8 624.8,353.2 626.2,345.8 627.2,343.8 633.2,336.2 636.8,332.8 639.8,327.8 643.8,323.8 648.2,322.2 657.8,322.8 664.2,316.8 670.2,317.2 670.8,317.8 675.2,317.8 678.8,315.2 680.2,311.8 681.2,312.2 684.8,312.2 687.8,309.8 692.2,308.8 692.2,305.8 691.2,302.8 682.2,292.2 679.2,285.2 679.8,274.8 679.2,274.2 679.2,271.2 678.2,267.8 678.2,264.2 682.8,255.8 683.2,247.8 677.8,247.8 674.8,251.2 673.8,250.2 671.2,250.2 668.8,252.8 665.8,254.2 660.8,254.8 660.2,254.2 658.8,254.2 652.2,250.8 646.8,245.8 644.2,245.8 640.8,247.8 636.8,246.8 631.2,242.2 628.8,237.2 627.2,236.2 626.2,236.2 623.2,234.8 620.2,234.8 618.2,236.8 614.8,236.2 611.8,234.8 608.2,231.8 592.8,227.8 591.2,226.8 588.8,226.2 583.8,223.2 581.2,223.2 577.8,225.2 573.2,225.2 572.8,224.8 568.2,224.2 560.8,221.8 558.2,221.8 554.8,220.8 551.2,220.8 544.2,225.8 537.8,225.8 533.2,223.2 525.2,220.8 520.8,218.2 517.8,217.2 516.2,217.2 514.2,216.2 503.8,216.2 503.2,215.2 500.8,215.2 499.2,218.8 494.8,221.8 491.2,221.2 486.2,214.8 483.8,214.8 481.8,217.2 476.2,218.2 475.8,217.8 470.2,217.2 466.2,215.8 464.8,215.8 460.2,214.2 458.2,214.2 457.8,213.8 453.2,213.8 448.8,215.2 441.2,214.8 430.2,211.2 420.2,211.2 413.8,208.8 402.8,209.2 398.8,210.8 397.2,210.8 395.8,211.8 394.8,214.2 393.2,215.8 388.8,216.8 386.2,215.2 376.2,213.8 368.8,211.2 360.8,211.8 356.8,210.2 351.8,210.2 351.2,210.8 347.8,210.8 347.2,211.2 343.2,209.8 337.2,209.2 336.8,208.8 328.8,208.8 328.2,209.2 314.2,209.8 312.8,212.2 306.8,212.2 305.2,214.8 298.8,215.2 298.2,214.8 290.8,213.8 287.8,212.2 276.2,208.8 262.8,209.2 262.2,209.8 258.8,209.8 258.2,210.2 251.2,209.8 250.8,209.2 245.2,209.2 239.8,211.2 232.2,211.2 231.8,210.8 224.2,210.2 223.8,209.8 220.8,209.8 220.2,209.2 210.8,207.8 203.2,204.2 200.2,203.8 194.8,201.8 185.8,201.2 185.2,200.8 166.8,200.8 166.2,201.2 157.2,202.8 150.2,206.2 145.2,210.2 143.8,214.8 143.8,218.8 148.2,232.2 148.2,234.2 145.8,237.2 127.8,246.2 119.8,251.2 111.2,253.2ZM394.8,342.8 396.2,341.8 398.2,339.2 400.8,338.2 403.2,335.8 405.8,335.8 406.8,334.2 406.8,333.2 408.8,331.2 409.8,330.8 414.8,330.8 416.8,329.2 421.2,329.2 421.8,328.8 425.8,328.8 431.8,331.8 436.8,332.2 439.8,333.8 444.2,332.2 447.8,330.2 452.2,330.2 456.2,331.8 461.2,337.2 463.8,337.2 464.2,337.8 467.2,337.2 469.2,335.2 471.2,334.2 473.2,334.2 473.8,334.8 475.8,334.8 476.8,335.8 476.2,336.8 474.8,337.2 474.8,338.8 478.8,339.2 479.2,339.8 481.2,339.8 483.8,337.8 485.8,337.8 489.2,339.8 490.8,339.8 493.2,337.8 494.2,337.8 497.8,340.8 500.2,341.2 503.2,343.2 504.8,343.8 508.8,343.2 510.2,344.8 510.2,346.8 509.8,347.2 509.8,353.2 512.2,356.8 514.8,357.8 516.2,359.8 516.2,360.8 514.8,362.2 511.8,362.2 510.8,363.8 510.8,365.2 516.2,371.8 517.2,373.8 521.2,375.2 522.8,376.8 522.8,380.2 520.8,384.8 518.2,387.2 516.2,387.2 512.2,390.2 509.8,390.2 507.2,388.8 501.8,388.8 499.8,387.2 496.8,389.8 494.8,389.8 494.2,389.2 491.8,389.2 490.8,389.8 487.8,388.2 482.8,382.8 482.8,381.8 485.2,378.8 485.2,376.8 484.2,376.2 481.2,376.2 480.2,375.2 480.2,373.8 479.2,372.2 473.8,372.2 469.2,369.2 465.8,365.8 465.2,364.2 463.8,362.8 461.8,361.8 459.2,362.2 457.8,363.2 453.8,363.8 452.2,364.8 452.2,366.8 451.2,368.2 447.8,368.2 444.2,370.8 438.8,373.2 435.8,371.8 433.8,371.8 432.8,372.8 430.2,373.8 427.8,372.8 423.8,372.8 420.8,370.2 419.2,370.2 416.8,373.2 415.2,373.2 414.8,373.8 410.8,373.2 410.2,372.8 407.8,372.8 404.2,369.8 400.8,368.2 400.8,364.8 403.2,360.8 401.2,358.8 401.2,357.8 402.2,357.2 402.8,356.2 400.8,355.2 398.8,353.2 396.2,353.8 394.8,352.8 394.2,351.2 396.2,348.8 398.2,348.2 399.8,346.2 399.2,344.8 396.2,344.8 394.8,343.8ZM506.2,221.2 507.2,220.8 508.2,221.8 513.8,224.2 517.8,227.2 514.8,228.8Z"/>
<path fill="#0073ff" d="M108.8,255.8 108.8,258.8 109.8,262.2 114.8,269.2 118.2,276.8 122.2,282.2 131.2,281.8 133.8,283.2 136.2,288.2 136.2,289.8 137.8,293.2 138.2,296.2 141.8,302.8 144.2,310.8 146.8,315.2 140.2,327.8 140.2,339.2 139.8,339.8 137.8,348.8 134.2,355.2 134.8,363.8 132.2,368.8 130.2,374.8 130.2,377.8 136.8,379.8 143.2,383.2 143.8,384.2 141.8,385.8 137.8,386.2 133.2,387.8 128.2,391.2 128.2,394.2 127.8,394.8 127.8,404.2 128.2,404.8 128.2,407.8 133.8,408.2 134.8,409.2 136.2,414.2 141.2,413.8 141.2,406.8 143.8,405.2 145.2,405.2 151.2,408.2 153.8,408.2 157.2,409.2 169.8,409.2 175.2,404.2 180.8,401.2 192.2,401.8 192.8,401.2 196.2,401.2 197.2,400.8 197.8,401.2 200.2,401.2 200.8,401.8 204.8,402.2 208.8,408.2 217.2,412.8 226.2,415.8 231.2,416.2 232.2,411.8 233.8,410.2 237.8,408.2 244.2,408.2 247.8,410.2 250.2,410.2 251.8,409.2 258.8,407.8 273.8,402.8 278.2,400.8 285.8,399.8 288.2,395.8 292.2,394.2 296.8,394.2 299.8,395.2 303.8,398.2 311.2,399.8 315.8,402.2 318.8,402.2 325.2,398.8 330.8,397.8 334.2,400.2 335.8,403.2 343.2,402.8 346.2,404.2 349.8,404.2 355.2,402.2 356.8,402.2 364.2,398.8 367.2,398.2 374.2,395.8 385.8,395.8 386.2,395.2 390.2,395.2 396.2,402.2 414.8,412.8 417.2,412.8 426.8,404.8 430.2,402.8 431.8,401.2 436.2,399.2 440.8,402.2 445.2,404.2 448.8,409.8 450.8,410.8 453.2,410.8 456.8,411.8 467.2,411.8 473.2,408.8 476.2,406.2 479.2,405.2 483.8,407.8 486.2,410.8 490.2,414.2 493.8,416.2 496.2,416.2 501.8,412.2 506.8,409.8 507.8,409.8 511.2,407.8 512.2,407.8 522.8,403.2 525.2,402.8 531.8,406.8 534.2,406.8 538.2,403.8 541.8,398.8 548.8,399.2 554.8,402.2 558.8,402.2 559.2,401.8 563.2,401.2 568.2,399.8 576.8,398.8 595.2,389.8 599.8,388.2 601.2,388.2 606.2,386.2 609.2,383.8 608.2,371.8 609.2,370.8 614.2,369.8 620.8,367.2 621.8,359.8 624.8,353.2 626.2,345.8 627.2,343.8 633.2,336.2 636.8,332.8 639.8,327.8 643.8,323.8 648.2,322.2 657.8,322.8 664.2,316.8 670.2,317.2 670.8,317.8 675.2,317.8 678.8,315.2 680.2,311.8 681.2,312.2 684.8,312.2 687.8,309.8 692.2,308.8 692.2,305.8 691.2,302.8 682.2,292.2 679.2,285.2 679.8,274.8 679.2,274.2 679.2,271.2 678.2,267.8 678.2,264.2 682.8,255.8 683.2,247.8 677.8,247.8 674.8,251.2 673.8,250.2 671.2,250.2 668.8,252.8 665.8,254.2 660.8,254.8 660.2,254.2 658.8,254.2 652.2,250.8 646.8,245.8 644.2,245.8 640.8,247.8 636.8,246.8 631.2,242.2 628.8,237.2 627.2,236.2 626.2,236.2 623.2,234.8 620.2,234.8 618.2,236.8 614.8,236.2 611.8,234.8 608.2,231.8 592.8,227.8 591.2,226.8 588.8,226.2 583.8,223.2 581.2,223.2 577.8,225.2 573.2,225.2 572.8,224.8 568.2,224.2 560.8,221.8 558.2,221.8 554.8,220.8 551.2,220.8 544.2,225.8 537.8,225.8 533.2,223.2 525.2,220.8 520.8,218.2 517.8,217.2 516.2,217.2 514.2,216.2 503.8,216.2 503.2,215.2 500.8,215.2 499.2,218.8 494.8,221.8 491.2,221.2 486.2,214.8 483.8,214.8 481.8,217.2 476.2,218.2 475.8,217.8 470.2,217.2 466.2,215.8 464.8,215.8 460.2,214.2 458.2,214.2 457.8,213.8 453.2,213.8 448.8,215.2 441.2,214.8 430.2,211.2 420.2,211.2 413.8,208.8 402.8,209.2 398.8,210.8 397.2,210.8 395.8,211.8 394.8,214.2 393.2,215.8 388.8,216.8 386.2,215.2 376.2,213.8 368.8,211.2 360.8,211.8 356.8,210.2 351.8,210.2 351.2,210.8 347.8,210.8 347.2,211.2 343.2,209.8 337.2,209.2 336.8,208.8 328.8,208.8 328.2,209.2 314.2,209.8 312.8,212.2 306.8,212.2 305.2,214.8 298.8,215.2 298.2,214.8 290.8,213.8 287.8,212.2 276.2,208.8 262.8,209.2 262.2,209.8 258.8,209.8 258.2,210.2 251.2,209.8 250.8,209.2 245.2,209.2 239.8,211.2 232.2,211.2 231.8,210.8 224.2,210.2 223.8,209.8 220.8,209.8 220.2,209.2 210.8,207.8 203.2,204.2 200.2,203.8 194.8,201.8 185.8,201.2 185.2,200.8 166.8,200.8 166.2,201.2 157.2,202.8 150.2,206.2 145.2,210.2 143.8,214.8 143.8,218.8 148.2,232.2 148.2,234.2 145.8,237.2 127.8,246.2 119.8,251.2 111.2,253.2ZM391.8,343.2 392.2,342.2 394.8,340.8 397.8,337.2 399.8,336.2 402.2,333.2 405.2,331.8 407.2,329.8 409.2,328.8 412.2,328.2 414.8,324.8 417.2,326.8 420.2,326.8 420.8,326.2 421.2,326.8 427.2,326.8 429.2,328.8 433.2,330.8 437.2,330.8 439.2,331.8 442.2,331.8 444.2,330.8 446.2,328.8 452.8,328.8 454.8,327.2 455.8,327.2 458.2,329.8 459.8,330.2 461.8,332.2 463.2,334.8 464.8,334.8 468.2,330.8 471.8,330.8 474.2,331.8 478.8,332.2 480.2,333.8 481.2,336.2 484.8,335.2 487.2,336.2 488.2,337.2 490.2,337.2 491.8,335.8 493.2,335.2 494.8,335.8 497.8,338.2 500.8,339.2 503.8,341.2 505.8,341.2 507.2,339.8 508.8,339.8 511.2,342.2 515.2,342.2 516.8,343.2 516.2,346.2 518.2,348.8 518.2,351.2 519.2,353.8 517.8,356.2 517.8,362.2 515.8,364.8 515.8,366.2 517.8,366.2 520.8,363.8 522.8,363.2 523.8,364.2 523.8,365.8 520.8,369.8 521.8,373.2 523.2,374.2 524.2,374.2 527.8,376.2 529.2,378.2 527.2,381.2 525.2,383.2 522.8,384.8 518.2,389.8 515.2,389.8 512.2,391.8 505.2,391.2 504.8,391.8 495.2,391.8 493.2,392.8 491.2,392.8 487.2,389.2 485.8,388.8 481.8,384.8 480.8,381.8 480.8,379.8 477.8,377.2 477.8,374.2 476.2,374.8 476.2,377.8 475.2,378.8 474.2,378.2 472.2,376.2 470.2,372.2 469.8,372.2 466.8,368.8 463.8,367.8 462.8,366.8 463.2,364.8 462.2,363.8 460.2,363.8 458.8,365.2 456.2,365.2 455.2,366.2 455.8,367.8 456.8,367.8 458.8,365.2 460.2,365.2 463.2,367.2 461.8,369.8 461.8,371.2 464.8,373.2 465.2,374.2 463.8,375.8 462.2,376.2 460.2,375.2 457.2,374.8 455.8,372.8 455.8,370.2 447.8,370.2 441.2,376.2 436.8,376.2 434.8,377.2 432.8,375.8 429.2,375.2 427.2,374.2 421.2,374.2 420.2,373.8 419.8,374.2 416.8,374.2 416.2,374.8 411.8,374.8 411.2,374.2 406.8,373.8 403.2,370.8 402.2,370.8 399.2,368.8 399.2,364.2 398.8,363.8 398.2,360.2 397.2,358.2 393.2,354.2 392.8,352.8 392.8,349.8 393.8,347.2 393.2,346.2 391.8,345.2ZM490.2,282.8 491.2,282.8 492.8,283.8 492.8,285.8 491.2,287.2 488.8,285.8 488.8,284.2ZM506.2,221.2 507.2,220.8 508.2,221.8 513.8,224.2 517.8,227.2 514.8,228.8Z"/>
<path fill="#008cff" d="M108.8,255.8 108.8,258.8 109.8,262.2 114.8,269.2 118.2,276.8 122.2,282.2 131.2,281.8 133.8,283.2 136.2,288.2 136.2,289.8 137.8,293.2 138.2,296.2 141.8,302.8 144.2,310.8 146.8,315.2 140.2,327.8 140.2,339.2 139.8,339.8 137.8,348.8 134.2,355.2 134.8,363.8 132.2,368.8 130.2,374.8 130.2,377.8 136.8,379.8 143.2,383.2 143.8,384.2 141.8,385.8 137.8,386.2 133.2,387.8 128.2,391.2 128.2,394.2 127.8,394.8 127.8,404.2 128.2,404.8 128.2,407.8 133.8,408.2 134.8,409.2 136.2,414.2 141.2,413.8 141.2,406.8 143.8,405.2 145.2,405.2 151.2,408.2 153.8,408.2 157.2,409.2 169.8,409.2 175.2,404.2 180.8,401.2 192.2,401.8 192.8,401.2 196.2,401.2 197.2,400.8 197.8,401.2 200.2,401.2 200.8,401.8 204.8,402.2 208.8,408.2 217.2,412.8 226.2,415.8 231.2,416.2 232.2,411.8 233.8,410.2 237.8,408.2 244.2,408.2 247.8,410.2 250.2,410.2 251.8,409.2 258.8,407.8 273.8,402.8 278.2,400.8 285.8,399.8 288.2,395.8 292.2,394.2 296.8,394.2 299.8,395.2 303.8,398.2 311.2,399.8 315.8,402.2 318.8,402.2 325.2,398.8 330.8,397.8 334.2,400.2 335.8,403.2 343.2,402.8 346.2,404.2 349.8,404.2 355.2,402.2 356.8,402.2 364.2,398.8 367.2,398.2 374.2,395.8 385.8,395.8 386.2,395.2 390.2,395.2 396.2,402.2 414.8,412.8 417.2,412.8 426.8,404.8 430.2,402.8 431.8,401.2 436.2,399.2 440.8,402.2 445.2,404.2 448.8,409.8 450.8,410.8 453.2,410.8 456.8,411.8 467.2,411.8 473.2,408.8 476.2,406.2 479.2,405.2 483.8,407.8 486.2,410.8 490.2,414.2 493.8,416.2 496.2,416.2 501.8,412.2 506.8,409.8 507.8,409.8 511.2,407.8 512.2,407.8 522.8,403.2 525.2,402.8 531.8,406.8 534.2,406.8 538.2,403.8 541.8,398.8 548.8,399.2 554.8,402.2 558.8,402.2 559.2,401.8 563.2,401.2 568.2,399.8 576.8,398.8 595.2,389.8 599.8,388.2 601.2,388.2 606.2,386.2 609.2,383.8 608.2,371.8 609.2,370.8 614.2,369.8 620.8,367.2 621.8,359.8 624.8,353.2 626.2,345.8 627.2,343.8 633.2,336.2 636.8,332.8 639.8,327.8 643.8,323.8 648.2,322.2 657.8,322.8 664.2,316.8 670.2,317.2 670.8,317.8 675.2,317.8 678.8,315.2 680.2,311.8 681.2,312.2 684.8,312.2 687.8,309.8 692.2,308.8 692.2,305.8 691.2,302.8 682.2,292.2 679.2,285.2 679.8,274.8 679.2,274.2 679.2,271.2 678.2,267.8 678.2,264.2 682.8,255.8 683.2,247.8 677.8,247.8 674.8,251.2 673.8,250.2 671.2,250.2 668.8,252.8 665.8,254.2 660.8,254.8 660.2,254.2 658.8,254.2 652.2,250.8 646.8,245.8 644.2,245.8 640.8,247.8 636.8,246.8 631.2,242.2 628.8,237.2 627.2,236.2 626.2,236.2 623.2,234.8 620.2,234.8 618.2,236.8 614.8,236.2 611.8,234.8 608.2,231.8 592.8,227.8 591.2,226.8 588.8,226.2 583.8,223.2 581.2,223.2 577.8,225.2 573.2,225.2 572.8,224.8 568.2,224.2 560.8,221.8 558.2,221.8 554.8,220.8 551.2,220.8 544.2,225.8 537.8,225.8 533.2,223.2 525.2,220.8 520.8,218.2 517.8,217.2 516.2,217.2 514.2,216.2 503.8,216.2 503.2,215.2 500.8,215.2 499.2,218.8 494.8,221.8 491.2,221.2 486.2,214.8 483.8,214.8 481.8,217.2 476.2,218.2 475.8,217.8 470.2,217.2 466.2,215.8 464.8,215.8 460.2,214.2 458.2,214.2 457.8,213.8 453.2,213.8 448.8,215.2 441.2,214.8 430.2,211.2 420.2,211.2 413.8,208.8 402.8,209.2 398.8,210.8 397.2,210.8 395.8,211.8 394.8,214.2 393.2,215.8 388.8,216.8 386.2,215.2 376.2,213.8 368.8,211.2 360.8,211.8 356.8,210.2 351.8,210.2 351.2,210.8 347.8,210.8 347.2,211.2 343.2,209.8 337.2,209.2 336.8,208.8 328.8,208.8 328.2,209.2 314.2,209.8 312.8,212.2 306.8,212.2 305.2,214.8 298.8,215.2 298.2,214.8 290.8,213.8 287.8,212.2 276.2,208.8 262.8,209.2 262.2,209.8 258.8,209.8 258.2,210.2 251.2,209.8 250.8,209.2 245.2,209.2 239.8,211.2 232.2,211.2 231.8,210.8 224.2,210.2 223.8,209.8 220.8,209.8 220.2,209.2 210.8,207.8 203.2,204.2 200.2,203.8 194.8,201.8 185.8,201.2 185.2,200.8 166.8,200.8 166.2,201.2 157.2,202.8 150.2,206.2 145.2,210.2 143.8,214.8 143.8,218.8 148.2,232.2 148.2,234.2 145.8,237.2 127.8,246.2 119.8,251.2 111.2,253.2ZM398.8,379.8 400.8,381.2 400.8,383.2 399.8,384.2 398.2,383.8 397.2,382.2ZM389.2,344.2 390.8,341.8 392.2,340.2 394.8,339.2 395.8,337.2 401.2,331.8 404.8,330.2 406.8,328.2 409.8,326.8 412.2,323.8 415.2,321.8 417.2,321.8 423.2,324.8 426.8,322.8 428.2,324.8 433.8,329.2 437.8,329.2 439.8,330.2 442.2,330.2 443.2,329.8 445.2,327.2 448.8,326.8 452.8,324.2 456.8,324.2 460.8,327.8 463.2,327.8 466.8,325.2 468.8,325.2 473.2,329.2 476.2,329.8 476.8,329.2 479.2,329.2 480.2,328.8 484.8,332.8 487.8,333.8 490.8,332.8 494.2,333.2 497.2,335.8 501.2,337.8 503.8,337.8 506.2,336.2 509.2,336.2 510.8,335.2 513.2,335.2 514.8,336.8 515.2,339.2 520.2,343.8 521.2,345.2 521.2,346.2 523.2,348.8 523.2,350.2 521.8,353.2 522.2,354.8 521.8,355.8 519.8,357.2 519.2,359.2 519.8,360.2 523.2,359.8 525.2,362.2 525.2,367.2 523.8,369.2 523.8,371.2 526.8,372.8 530.8,372.8 532.2,374.2 532.2,377.2 533.2,380.2 531.8,381.8 528.8,382.8 524.8,387.2 522.8,387.2 518.2,391.8 516.2,391.8 513.2,393.2 505.8,393.2 505.2,393.8 502.8,393.8 499.2,392.8 498.8,393.2 497.2,393.2 494.8,395.2 491.2,395.2 489.8,394.2 487.2,391.2 485.8,391.2 484.2,393.2 483.2,393.2 482.2,392.2 481.8,387.8 480.2,385.8 479.2,382.8 478.8,382.2 475.8,382.2 473.8,381.2 469.8,376.2 467.8,376.2 464.8,378.2 459.8,379.2 454.8,375.8 454.2,373.8 452.8,371.8 451.2,371.8 450.8,371.2 449.2,371.2 447.2,372.8 447.2,376.2 444.8,377.8 443.2,381.2 440.8,383.8 437.2,380.8 434.8,380.8 432.8,379.8 429.2,376.8 425.2,375.2 423.8,375.2 423.2,375.8 414.8,375.8 411.8,376.8 408.8,375.2 405.8,374.8 402.8,371.8 400.8,371.2 398.2,369.8 397.8,366.8 395.2,362.8 395.8,361.2 395.2,358.8 392.8,356.8 390.2,353.8 390.8,347.8 389.2,345.8ZM483.8,281.2 483.8,282.2 480.8,285.2 479.8,285.8 477.8,285.8 477.2,285.2 477.8,283.2 479.8,280.8 481.2,280.2ZM486.2,280.2 489.2,279.8 492.8,281.2 494.2,282.8 494.2,289.2 493.2,290.2 488.8,288.8 486.2,288.8 484.8,287.2 484.2,285.2 485.2,283.8 485.2,281.2ZM504.8,278.2 506.8,279.8 506.2,281.2 504.8,281.2 503.8,280.2 503.8,279.2ZM506.2,221.2 507.2,220.8 508.2,221.8 513.8,224.2 517.8,227.2 514.8,228.8Z"/>
<path fill="#00a6ff" d="M108.8,255.8 108.8,258.8 109.8,262.2 114.8,269.2 118.2,276.8 122.2,282.2 131.2,281.8 133.8,283.2 136.2,288.2 136.2,289.8 137.8,293.2 138.2,296.2 141.8,302.8 144.2,310.8 146.8,315.2 140.2,327.8 140.2,339.2 139.8,339.8 137.8,348.8 134.2,355.2 134.8,363.8 132.2,368.8 130.2,374.8 130.2,377.8 136.8,379.8 143.2,383.2 143.8,384.2 141.8,385.8 137.8,386.2 133.2,387.8 128.2,391.2 128.2,394.2 127.8,394.8 127.8,404.2 128.2,404.8 128.2,407.8 133.8,408.2 134.8,409.2 136.2,414.2 141.2,413.8 141.2,406.8 143.8,405.2 145.2,405.2 151.2,408.2 153.8,408.2 157.2,409.2 169.8,409.2 175.2,404.2 180.8,401.2 192.2,401.8 192.8,401.2 196.2,401.2 197.2,400.8 197.8,401.2 200.2,401.2 200.8,401.8 204.8,402.2 208.8,408.2 217.2,412.8 226.2,415.8 231.2,416.2 232.2,411.8 233.8,410.2 237.8,408.2 244.2,408.2 247.8,410.2 250.2,410.2 251.8,409.2 258.8,407.8 273.8,402.8 278.2,400.8 285.8,399.8 288.2,395.8 292.2,394.2 296.8,394.2 299.8,395.2 303.8,398.2 311.2,399.8 315.8,402.2 318.8,402.2 325.2,398.8 330.8,397.8 334.2,400.2 335.8,403.2 343.2,402.8 346.2,404.2 349.8,404.2 355.2,402.2 356.8,402.2 364.2,398.8 367.2,398.2 374.2,395.8 385.8,395.8 386.2,395.2 390.2,395.2 396.2,402.2 414.8,412.8 417.2,412.8 426.8,404.8 430.2,402.8 431.8,401.2 436.2,399.2 440.8,402.2 445.2,404.2 448.8,409.8 450.8,410.8 453.2,410.8 456.8,411.8 467.2,411.8 473.2,408.8 476.2,406.2 479.2,405.2 483.8,407.8 486.2,410.8 490.2,414.2 493.8,416.2 496.2,416.2 498.8,414.8 500.2,413.2 499.8,412.8 500.2,412.2 503.2,411.8 511.2,407.8 512.2,407.8 522.8,403.2 525.2,402.8 531.8,406.8 534.2,406.8 538.2,403.8 541.8,398.8 548.8,399.2 554.8,402.2 558.8,402.2 559.2,401.8 563.2,401.2 568.2,399.8 576.8,398.8 595.2,389.8 599.8,388.2 601.2,388.2 606.2,386.2 609.2,383.8 608.2,371.8 609.2,370.8 614.2,369.8 620.8,367.2 621.8,359.8 624.8,353.2 626.2,345.8 627.2,343.8 633.2,336.2 636.8,332.8 639.8,327.8 643.8,323.8 648.2,322.2 657.8,322.8 664.2,316.8 670.2,317.2 670.8,317.8 675.2,317.8 678.8,315.2 680.2,311.8 681.2,312.2 684.8,312.2 687.8,309.8 692.2,308.8 692.2,305.8 691.2,302.8 682.2,292.2 679.2,285.2 679.8,274.8 679.2,274.2 679.2,271.2 678.2,267.8 678.2,264.2 682.8,255.8 683.2,247.8 677.8,247.8 674.8,251.2 673.8,250.2 671.2,250.2 668.8,252.8 665.8,254.2 660.8,254.8 660.2,254.2 658.8,254.2 652.2,250.8 646.8,245.8 644.2,245.8 640.8,247.8 636.8,246.8 631.2,242.2 628.8,237.2 627.2,236.2 626.2,236.2 623.2,234.8 620.2,234.8 618.2,236.8 614.8,236.2 611.8,234.8 608.2,231.8 592.8,227.8 591.2,226.8 588.8,226.2 583.8,223.2 581.2,223.2 577.8,225.2 573.2,225.2 572.8,224.8 568.2,224.2 560.8,221.8 558.2,221.8 554.8,220.8 551.2,220.8 544.2,225.8 537.8,225.8 533.2,223.2 525.2,220.8 520.8,218.2 517.8,217.2 516.2,217.2 514.2,216.2 503.8,216.2 503.2,215.2 500.8,215.2 499.2,218.8 494.8,221.8 491.2,221.2 486.2,214.8 483.8,214.8 481.8,217.2 476.2,218.2 475.8,217.8 470.2,217.2 466.2,215.8 464.8,215.8 460.2,214.2 458.2,214.2 457.8,213.8 453.2,213.8 448.8,215.2 441.2,214.8 430.2,211.2 420.2,211.2 413.8,208.8 402.8,209.2 398.8,210.8 397.2,210.8 395.8,211.8 394.8,214.2 393.2,215.8 388.8,216.8 386.2,215.2 376.2,213.8 368.8,211.2 360.8,211.8 356.8,210.2 351.8,210.2 351.2,210.8 347.8,210.8 347.2,211.2 343.2,209.8 337.2,209.2 336.8,208.8 328.8,208.8 328.2,209.2 314.2,209.8 312.8,212.2 306.8,212.2 305.2,214.8 298.8,215.2 298.2,214.8 290.8,213.8 287.8,212.2 276.2,208.8 262.8,209.2 262.2,209.8 258.8,209.8 258.2,210.2 251.2,209.8 250.8,209.2 245.2,209.2 239.8,211.2 232.2,211.2 231.8,210.8 224.2,210.2 223.8,209.8 220.8,209.8 220.2,209.2 210.8,207.8 203.2,204.2 200.2,203.8 194.8,201.8 185.8,201.2 185.2,200.8 166.8,200.8 166.2,201.2 157.2,202.8 150.2,206.2 145.2,210.2 143.8,214.8 143.8,218.8 148.2,232.2 148.2,234.2 145.8,237.2 127.8,246.2 119.8,251.2 111.2,253.2ZM394.8,388.2 397.8,388.2 398.8,388.8 400.2,390.8 400.2,396.2 398.2,398.2 397.8,397.8 393.8,397.2 390.8,393.8 391.2,390.8ZM397.2,375.8 399.2,375.8 401.8,377.8 402.8,384.8 402.2,385.8 400.8,386.8 398.8,386.8 397.2,385.8 395.8,385.8 394.8,384.8 394.8,383.2 396.2,380.2 396.8,376.2ZM387.2,344.2 389.8,340.8 394.2,336.8 398.2,330.8 403.2,329.8 406.8,326.2 408.2,325.8 409.8,324.2 410.2,322.8 415.2,317.2 416.8,316.8 419.8,317.8 424.8,317.2 422.8,314.8 421.2,314.2 419.2,312.2 419.8,311.2 423.8,312.8 428.2,308.8 429.8,308.8 430.8,310.2 430.2,316.2 431.2,317.8 429.2,321.2 429.2,322.8 431.2,325.2 432.8,325.8 435.2,327.8 442.2,328.2 444.8,325.2 447.2,324.8 449.8,322.8 452.2,318.8 451.8,316.8 452.8,315.8 454.2,315.8 455.2,316.8 454.2,318.2 454.2,319.8 456.2,322.2 458.2,322.8 461.8,321.2 464.8,322.2 467.8,322.2 471.2,323.8 473.2,326.2 475.2,327.8 475.8,327.2 480.8,326.2 483.2,328.2 487.2,329.2 489.8,330.8 498.2,330.2 501.2,333.2 502.2,335.2 504.2,335.2 505.8,334.2 507.8,333.8 510.2,330.8 512.2,330.8 516.2,335.2 516.8,337.8 518.8,340.8 521.2,342.2 525.8,341.8 526.8,342.8 527.2,345.2 530.8,348.8 530.8,349.8 532.2,352.8 534.8,354.2 536.2,356.2 536.2,357.8 532.2,361.2 531.2,361.2 528.8,358.2 528.2,354.2 526.8,353.2 525.2,353.8 526.8,356.8 526.2,357.2 526.2,360.2 526.8,360.8 527.2,365.8 528.8,366.8 530.2,366.8 530.8,366.2 532.8,366.8 535.2,370.8 539.2,371.2 541.2,373.8 540.2,375.2 538.2,375.8 537.2,377.2 536.8,383.2 535.2,384.2 532.8,384.8 532.2,385.2 532.2,387.2 530.8,388.8 529.2,389.2 526.8,391.8 525.8,392.2 522.2,390.8 516.2,394.8 508.8,394.8 508.2,395.2 506.8,395.2 504.8,396.2 505.8,399.2 505.2,400.2 503.2,401.8 501.8,401.8 500.2,400.2 500.2,397.8 501.8,396.2 501.2,395.2 499.2,395.2 496.8,397.8 492.2,397.8 488.8,395.8 485.2,396.2 481.2,394.8 480.2,393.2 480.2,389.2 479.8,388.2 476.8,386.2 474.2,383.8 471.8,382.8 469.8,378.2 467.8,378.2 464.2,380.8 461.8,380.8 461.2,381.2 458.2,381.2 457.2,380.2 453.8,378.8 451.2,378.8 449.8,380.2 446.2,380.2 445.2,381.8 444.8,385.2 443.8,387.2 438.8,392.8 436.8,390.8 436.8,388.2 437.2,387.8 436.8,385.2 434.8,383.8 433.2,383.8 430.8,382.8 427.8,379.8 426.2,377.2 423.8,376.8 423.2,377.2 415.2,377.2 413.2,378.2 408.2,378.2 407.2,377.2 405.2,376.8 401.2,372.2 398.2,371.8 396.2,369.8 395.2,366.2 392.8,363.2 392.8,359.2 390.2,357.8 385.8,352.8 385.8,350.8 387.8,348.2ZM479.8,307.8 480.2,308.8 478.8,310.8 477.2,310.8 476.2,309.8 478.2,307.8ZM464.8,291.8 465.8,290.8 466.8,290.8 467.8,291.8 467.8,292.8 467.2,293.2 465.8,293.2ZM454.2,287.2 455.8,285.8 458.2,285.8 459.2,286.8 457.8,288.8 455.2,288.8ZM466.2,275.2 467.8,273.8 469.2,273.8 470.2,274.8 469.8,277.2 475.2,279.8 477.2,277.8 489.2,277.8 491.2,276.8 494.8,276.8 496.2,278.2 496.2,283.8 495.8,284.2 495.8,285.8 496.8,287.2 497.8,287.2 501.8,284.8 502.2,285.2 503.8,285.2 504.2,284.8 503.8,283.8 502.2,283.8 500.8,282.2 500.2,278.2 499.2,276.8 501.8,274.8 506.2,273.8 507.8,274.8 508.8,278.8 512.2,282.2 512.2,283.2 508.2,286.8 507.8,290.8 506.2,292.8 505.2,293.2 497.2,292.8 495.2,294.2 493.8,294.2 490.8,291.2 486.2,290.8 484.2,289.8 482.2,287.8 475.2,288.2 472.8,289.2 470.8,288.8 469.8,287.2 469.8,286.2 470.8,285.8 471.8,284.2 470.2,283.8 468.8,286.2 466.2,283.2 466.8,281.8 468.8,279.2 468.8,277.2ZM444.8,274.2 445.2,273.8 447.2,273.8 449.2,275.2 451.2,275.8 451.8,275.2 451.8,273.8 451.2,273.2 452.2,271.2 453.8,271.2 454.8,272.2 454.8,274.2 457.2,277.2 457.8,279.2 456.2,281.2 454.2,282.2 451.2,282.2 448.2,278.8 446.2,278.2 444.8,276.8ZM506.2,221.2 507.2,220.8 508.2,221.8 513.8,224.2 517.8,227.2 514.8,228.8Z"/>
<path fill="#00bfff" d="M513.8,403.2 509.8,403.8 506.8,402.2 503.2,403.8 500.8,403.8 498.2,405.2 497.2,408.2 499.8,409.8 504.2,409.2 506.2,410.2 513.8,406.8ZM397.2,402.8 410.8,410.2 411.8,411.2 414.8,412.8 417.2,412.8 424.8,406.2 431.8,401.2 436.2,399.2 439.8,401.2 439.8,399.8 441.2,398.8 444.2,398.8 445.8,400.2 446.2,404.8 447.8,406.8 448.8,409.8 450.8,410.8 451.8,410.8 453.8,408.2 455.8,408.2 457.8,410.8 457.2,411.8 467.2,411.8 473.2,408.8 476.2,406.2 479.2,405.2 483.8,407.8 488.8,413.2 490.2,413.8 493.8,416.2 496.2,416.2 497.2,415.8 494.8,415.2 490.8,412.8 490.8,409.2 494.2,406.2 494.2,401.2 492.8,400.2 486.2,399.8 483.2,397.2 480.2,396.2 478.2,394.2 478.2,390.2 477.8,389.8 475.8,389.8 473.8,387.2 470.2,386.2 468.8,385.2 466.2,385.2 464.8,386.2 459.2,386.2 456.8,382.8 453.2,382.8 450.2,386.8 447.8,386.2 446.2,387.8 444.8,390.8 443.8,391.2 439.8,395.8 437.8,395.8 436.2,394.2 435.8,392.2 434.2,389.8 434.2,386.8 432.2,386.8 431.8,387.2 429.8,386.8 428.2,385.2 427.2,382.2 423.2,379.2 421.8,378.8 413.8,379.2 413.2,379.8 411.8,379.8 408.8,381.8 407.2,381.8 405.2,379.8 404.2,379.8 403.8,380.2 403.8,382.2 405.2,384.2 405.8,386.2 402.2,389.2 402.8,393.8 401.8,396.2 401.2,400.8 398.8,402.8ZM486.8,293.8 486.8,294.8 489.8,294.8 489.2,293.2ZM461.8,278.8 460.2,279.8 459.2,282.8 460.8,282.8 462.2,280.8 462.2,279.2ZM108.8,255.8 108.8,258.8 109.8,262.2 114.8,269.2 118.2,276.8 122.2,282.2 131.2,281.8 133.8,283.2 136.2,288.2 136.2,289.8 137.8,293.2 138.2,296.2 141.8,302.8 144.2,310.8 146.8,315.2 140.2,327.8 140.2,339.2 139.8,339.8 137.8,348.8 134.2,355.2 134.8,363.8 132.2,368.8 130.2,374.8 130.2,377.8 136.8,379.8 143.2,383.2 143.8,384.2 141.8,385.8 137.8,386.2 133.2,387.8 128.2,391.2 128.2,394.2 127.8,394.8 127.8,404.2 128.2,404.8 128.2,407.8 133.8,408.2 134.8,409.2 136.2,414.2 141.2,413.8 141.2,406.8 143.8,405.2 145.2,405.2 151.2,408.2 153.8,408.2 157.2,409.2 169.8,409.2 175.2,404.2 180.8,401.2 192.2,401.8 192.8,401.2 196.2,401.2 197.2,400.8 197.8,401.2 203.2,401.8 205.2,402.8 208.8,408.2 211.2,409.2 212.2,410.2 222.8,414.8 224.2,414.8 228.2,416.2 231.2,416.2 232.2,411.8 233.8,410.2 237.8,408.2 244.2,408.2 247.8,410.2 250.2,410.2 251.8,409.2 258.8,407.8 273.8,402.8 278.2,400.8 285.8,399.8 288.2,395.8 292.2,394.2 298.8,394.8 303.8,398.2 311.2,399.8 315.8,402.2 318.8,402.2 325.2,398.8 330.8,397.8 334.2,400.2 335.8,403.2 343.2,402.8 346.2,404.2 349.8,404.2 355.2,402.2 356.8,402.2 364.2,398.8 367.2,398.2 374.2,395.8 385.8,395.8 386.2,395.2 388.8,395.2 388.8,392.2 390.2,387.8 389.8,385.8 388.8,384.8 388.8,383.2 390.8,379.2 391.8,379.8 391.8,381.2 393.8,380.8 394.8,379.2 394.8,376.2 393.2,372.8 393.8,372.2 393.8,368.2 391.8,365.8 388.2,364.2 388.2,363.2 389.2,362.8 390.2,361.2 390.2,360.2 384.8,355.2 383.8,352.8 383.8,351.2 385.8,347.8 385.8,342.8 389.2,338.8 389.8,336.2 388.2,335.2 386.2,335.2 382.8,333.2 381.8,332.2 381.8,330.8 382.8,329.8 383.8,329.8 385.2,330.8 386.8,330.2 390.2,326.8 396.2,323.8 396.2,323.2 398.8,321.2 401.8,321.2 404.2,323.2 406.2,322.8 406.8,322.2 406.8,318.2 407.8,316.8 409.8,316.2 410.8,315.2 410.8,312.8 411.8,310.2 412.8,309.2 416.2,307.8 418.8,307.8 419.2,307.2 425.2,307.8 430.8,303.8 434.8,304.2 435.8,304.8 437.2,306.8 437.8,306.8 438.2,305.2 439.8,304.2 443.8,307.8 443.8,309.2 442.2,310.8 440.2,311.2 437.8,313.2 435.2,313.2 434.2,314.2 434.2,317.8 433.8,319.2 431.8,321.2 431.8,323.2 434.2,324.2 435.2,325.2 441.2,324.8 445.2,322.2 445.8,319.8 446.8,318.8 448.2,318.8 448.2,318.2 446.8,318.2 444.8,315.8 444.2,313.2 445.8,311.8 447.2,311.2 451.2,313.2 455.2,313.2 457.8,314.2 463.8,319.8 468.2,320.2 470.2,321.8 474.8,322.2 478.2,323.8 481.2,323.8 483.8,325.8 487.2,326.8 489.8,329.2 491.2,329.8 494.8,329.2 499.2,327.8 500.2,328.2 503.8,332.2 505.2,332.2 510.2,328.8 516.2,329.2 517.8,330.8 517.8,334.2 518.8,336.2 518.8,338.2 519.2,339.2 520.8,340.2 522.2,340.2 524.2,338.8 525.2,338.8 524.8,337.8 523.2,337.8 522.2,336.8 522.2,335.8 523.8,334.2 528.2,334.2 533.8,336.8 534.8,338.2 534.8,339.2 533.2,340.8 530.2,340.8 529.8,341.2 529.8,343.8 534.2,346.8 533.8,350.2 537.8,352.8 538.2,356.8 539.2,357.8 540.8,357.8 542.2,355.8 544.2,354.2 546.8,354.8 547.8,356.2 547.8,357.8 545.8,359.2 541.8,359.2 539.8,360.8 537.2,360.8 536.2,361.8 536.2,363.8 537.2,364.8 537.2,367.2 536.8,368.2 537.8,369.2 540.8,369.8 542.8,371.8 543.8,373.8 543.8,375.8 542.8,376.8 540.8,377.2 539.2,379.2 539.8,380.2 542.2,380.2 544.2,381.8 544.8,383.8 539.8,388.2 533.8,389.2 529.8,391.2 529.2,392.2 527.2,393.8 525.8,393.8 523.8,392.8 521.2,392.8 515.8,397.8 514.2,397.8 512.8,396.8 510.8,396.8 510.2,397.8 513.2,399.2 514.2,400.8 514.2,401.8 519.8,401.8 522.2,403.2 525.2,402.8 531.8,406.8 534.2,406.8 536.8,405.2 541.8,398.8 548.8,399.2 554.8,402.2 558.8,402.2 565.8,400.2 578.2,398.2 595.2,389.8 604.2,387.2 609.2,383.8 608.2,371.8 609.2,370.8 614.2,369.8 620.8,367.2 621.8,359.8 624.8,353.2 626.2,345.8 627.2,343.8 633.2,336.2 636.8,332.8 639.8,327.8 643.8,323.8 648.2,322.2 657.8,322.8 664.2,316.8 670.2,317.2 670.8,317.8 675.2,317.8 678.8,315.2 680.2,311.8 681.2,312.2 684.8,312.2 687.8,309.8 692.2,308.8 692.2,305.8 691.2,302.8 682.2,292.2 679.2,285.2 679.8,274.8 679.2,274.2 679.2,271.2 678.2,267.8 678.2,264.2 682.8,255.8 683.2,247.8 677.8,247.8 674.8,251.2 673.8,250.2 671.2,250.2 668.8,252.8 665.8,254.2 660.8,254.8 660.2,254.2 658.8,254.2 652.2,250.8 646.8,245.8 644.2,245.8 640.8,247.8 636.8,246.8 631.2,242.2 628.8,237.2 627.2,236.2 626.2,236.2 623.2,234.8 620.2,234.8 618.2,236.8 614.8,236.2 611.8,234.8 608.2,231.8 592.8,227.8 591.2,226.8 588.8,226.2 583.8,223.2 581.2,223.2 577.8,225.2 573.2,225.2 572.8,224.8 568.2,224.2 560.8,221.8 558.2,221.8 554.8,220.8 551.2,220.8 544.2,225.8 537.8,225.8 533.2,223.2 525.2,220.8 520.8,218.2 517.8,217.2 516.2,217.2 514.2,216.2 503.8,216.2 503.2,215.2 500.8,215.2 499.2,218.8 494.8,221.8 491.2,221.2 486.2,214.8 483.8,214.8 481.8,217.2 476.2,218.2 475.8,217.8 470.2,217.2 466.2,215.8 464.8,215.8 460.2,214.2 458.2,214.2 457.8,213.8 453.2,213.8 448.8,215.2 441.2,214.8 430.2,211.2 420.2,211.2 413.8,208.8 402.8,209.2 398.8,210.8 397.2,210.8 395.8,211.8 394.8,214.2 393.2,215.8 388.8,216.8 386.2,215.2 376.2,213.8 368.8,211.2 360.8,211.8 356.8,210.2 351.8,210.2 351.2,210.8 347.8,210.8 347.2,211.2 343.2,209.8 337.2,209.2 336.8,208.8 328.8,208.8 328.2,209.2 314.2,209.8 312.8,212.2 306.8,212.2 305.2,214.8 298.8,215.2 298.2,214.8 290.8,213.8 287.8,212.2 276.2,208.8 262.8,209.2 262.2,209.8 258.8,209.8 258.2,210.2 251.2,209.8 250.8,209.2 245.2,209.2 239.8,211.2 232.2,211.2 231.8,210.8 224.2,210.2 223.8,209.8 220.8,209.8 220.2,209.2 210.8,207.8 203.2,204.2 200.2,203.8 194.8,201.8 185.8,201.2 185.2,200.8 166.8,200.8 166.2,201.2 157.2,202.8 150.2,206.2 145.2,210.2 143.8,214.8 143.8,218.8 148.2,232.2 148.2,234.2 145.8,237.2 127.8,246.2 119.8,251.2 111.2,253.2ZM549.8,380.2 552.8,380.2 553.2,380.8 556.8,381.2 558.8,382.2 559.8,383.8 559.8,385.2 558.8,387.8 559.2,392.2 557.8,393.8 554.8,394.2 552.8,396.2 551.8,395.2 549.8,390.8 549.8,388.2 550.8,386.2 550.8,384.2 549.2,382.8 549.2,380.8ZM383.2,370.8 385.8,371.8 387.2,373.2 387.8,374.8 386.8,376.2 383.8,377.2 381.2,380.8 380.2,380.8 378.8,379.2 378.2,377.8 374.2,374.8 374.2,373.8 375.2,372.8 377.8,373.2 380.8,370.8ZM376.8,366.8 378.2,367.8 378.2,369.2 377.8,369.8 376.2,369.8 375.8,369.2 375.8,367.8ZM542.8,365.2 545.8,365.2 546.8,367.2 545.2,369.2 543.2,369.8 541.8,368.2 541.8,366.2ZM557.8,339.2 559.2,339.2 560.2,340.8 560.2,343.8 558.8,345.2 555.8,345.2 554.8,343.8 556.2,340.2ZM345.2,341.2 347.8,338.8 350.8,338.2 352.2,339.8 352.8,342.2 351.2,343.8 345.8,343.8 345.2,343.2ZM425.8,274.2 429.2,270.8 432.8,269.8 434.8,269.8 436.2,271.2 436.2,275.2 436.8,276.2 438.8,276.8 439.8,274.8 439.2,274.2 439.2,272.2 437.8,269.8 440.8,265.8 440.2,262.2 442.2,260.2 444.8,260.2 446.2,262.2 445.2,265.2 445.2,267.8 446.2,270.8 447.8,271.8 450.8,269.2 453.2,268.8 456.2,266.8 458.2,266.8 459.8,268.2 460.8,268.2 461.8,267.2 465.2,267.2 467.2,268.8 471.8,269.2 473.2,270.2 474.2,270.2 482.2,275.8 483.8,276.2 488.2,276.2 490.2,275.2 492.2,273.2 494.8,273.2 496.2,274.2 498.2,274.2 502.2,272.8 503.8,272.8 507.8,269.8 509.2,271.2 511.2,277.2 514.2,280.8 515.2,282.8 515.2,285.8 516.2,286.2 518.8,289.2 519.2,294.8 518.8,295.2 516.8,294.8 514.2,291.8 514.2,289.2 513.8,288.2 512.2,287.2 510.8,287.2 509.2,289.8 510.2,291.8 510.2,294.8 508.2,296.8 508.2,300.8 506.8,302.2 503.8,303.8 501.8,303.8 500.2,301.8 500.2,299.8 501.2,297.8 501.2,296.2 500.8,295.8 497.2,295.8 493.8,297.8 490.8,297.8 487.8,300.8 485.8,301.8 483.2,301.8 481.2,302.8 481.2,304.2 483.8,307.2 483.8,310.2 481.8,312.2 481.8,314.2 480.8,315.2 478.2,315.2 476.2,313.8 474.8,313.8 473.8,317.2 472.2,317.8 468.2,314.2 466.2,313.8 463.8,312.2 461.8,309.2 461.8,304.8 462.2,303.2 463.8,302.2 466.8,303.8 467.8,303.8 469.2,302.8 474.8,302.8 476.8,300.8 479.2,296.2 479.2,294.8 480.8,292.2 480.8,290.8 480.2,290.2 475.8,291.2 474.2,294.2 471.8,295.8 469.8,296.2 468.8,299.8 467.8,300.8 466.2,300.8 464.8,298.2 462.2,296.8 459.8,296.8 455.8,299.2 453.8,297.8 454.8,293.2 453.8,292.2 451.8,291.8 451.2,292.2 451.8,298.2 449.8,300.2 446.8,301.2 442.2,300.2 439.2,303.8 437.8,302.2 437.8,296.8 438.2,296.2 437.8,293.2 438.8,292.2 441.2,291.8 443.2,289.8 448.8,290.2 450.2,289.2 449.8,287.2 447.2,285.2 442.2,285.2 438.8,282.8 432.2,282.8 430.8,281.8 429.8,281.8 428.2,280.2 428.2,278.8 425.8,276.2ZM506.2,221.2 507.2,220.8 508.2,221.8 513.8,224.2 517.8,227.2 514.8,228.8Z"/>
<path fill="#00d9ff" d="M480.2,405.8 483.8,407.8 487.2,411.8 488.8,410.8 488.8,407.2 487.8,406.8 487.2,407.2 484.8,407.2 482.2,405.8ZM480.8,399.2 480.2,400.8 481.2,402.2 482.2,402.2 482.8,400.8ZM427.8,396.8 425.2,396.8 423.8,398.2 423.8,398.8 426.8,401.2 425.2,403.8 425.8,405.8 432.2,401.2 431.2,399.8 431.2,398.8 430.2,397.8ZM549.8,395.2 546.2,390.2 545.8,388.2 544.2,388.2 544.2,389.8 542.2,391.2 536.8,391.2 534.8,392.2 531.2,392.2 527.2,395.8 526.2,395.8 523.8,394.2 522.2,394.2 520.2,396.2 518.8,399.2 522.8,401.2 524.2,402.8 525.2,402.8 528.2,404.2 531.8,406.8 534.2,406.8 534.8,406.2 533.2,405.2 533.2,403.2 535.2,401.2 538.8,402.8 541.8,398.8 545.8,398.8 546.2,399.2 548.8,399.2 549.8,399.8ZM449.2,394.8 449.8,397.8 451.8,400.2 449.2,401.2 448.2,402.2 448.2,404.2 449.8,405.8 451.2,405.8 453.2,403.8 454.8,404.2 456.2,406.2 460.2,409.2 460.2,411.2 459.8,411.8 467.2,411.8 473.2,408.8 476.8,406.2 476.8,405.8 475.8,405.8 474.2,404.2 473.2,401.8 471.2,399.2 471.2,396.2 467.2,392.8 467.8,390.8 462.8,388.2 457.8,388.8 456.2,387.8 454.8,387.8 453.8,389.2 453.8,391.8 452.2,393.2 450.2,393.8ZM413.2,381.2 411.2,382.8 408.8,387.2 409.2,389.2 410.2,389.2 411.2,390.2 411.2,391.8 404.2,397.2 404.2,398.2 406.2,400.8 406.2,405.8 407.2,407.8 406.8,408.2 414.8,412.8 417.2,412.8 419.2,411.2 419.2,408.8 419.8,408.2 419.2,406.8 419.8,401.2 418.8,399.8 418.8,396.8 420.8,395.2 421.8,393.2 418.8,390.8 419.2,388.8 420.8,386.8 420.8,385.2 419.2,383.8 416.8,383.2ZM548.2,351.8 548.8,353.8 550.2,353.8 550.2,352.8 549.2,351.8ZM463.8,316.8 464.8,317.8 466.2,317.8 466.8,317.2 465.8,316.2 464.2,316.2ZM448.2,303.2 447.8,305.8 450.8,306.2 451.2,305.8 451.2,303.8 450.2,302.8ZM475.2,297.2 472.2,297.8 471.8,298.2 471.8,300.2 472.2,300.8 473.8,300.8 475.2,299.2ZM437.8,263.8 436.8,263.2 434.2,263.8 433.2,265.2 433.8,266.8 435.8,267.2 437.8,266.2 438.2,265.2ZM108.8,255.8 108.8,258.8 109.8,262.2 114.8,269.2 118.2,276.8 122.2,282.2 131.2,281.8 133.8,283.2 136.2,288.2 136.2,289.8 137.8,293.2 138.2,296.2 141.8,302.8 144.2,310.8 146.8,315.2 140.2,327.8 140.2,339.2 139.8,339.8 137.8,348.8 134.2,355.2 134.8,363.8 132.2,368.8 130.2,374.8 130.2,377.8 136.8,379.8 143.2,383.2 143.8,384.2 141.8,385.8 137.8,386.2 133.2,387.8 128.2,391.2 128.2,394.2 127.8,394.8 127.8,404.2 128.2,404.8 128.2,407.8 133.8,408.2 134.8,409.2 136.2,414.2 141.2,413.8 141.2,406.8 143.8,405.2 145.2,405.2 151.2,408.2 153.8,408.2 157.2,409.2 169.8,409.2 175.2,404.2 180.8,401.2 192.2,401.8 192.8,401.2 196.2,401.2 197.2,400.8 197.8,401.2 203.2,401.8 205.2,402.8 208.8,408.2 211.2,409.2 212.2,410.2 222.8,414.8 224.2,414.8 228.2,416.2 231.2,416.2 232.2,411.8 233.8,410.2 237.8,408.2 244.2,408.2 247.8,410.2 250.2,410.2 251.8,409.2 258.8,407.8 273.8,402.8 278.2,400.8 285.8,399.8 288.2,395.8 292.2,394.2 298.8,394.8 303.8,398.2 311.2,399.8 315.8,402.2 318.8,402.2 325.2,398.8 330.8,397.8 334.2,400.2 335.8,403.2 343.2,402.8 346.2,404.2 349.8,404.2 355.2,402.2 356.8,402.2 364.2,398.8 367.2,398.2 374.2,395.8 385.8,395.8 386.8,394.8 388.2,390.2 387.2,387.2 385.8,385.8 385.8,381.8 384.8,381.8 383.8,382.8 380.2,384.2 377.8,384.8 375.8,383.2 375.2,381.2 374.8,380.8 372.8,380.8 370.8,378.8 370.2,377.2 370.2,374.8 371.8,371.2 371.8,368.2 370.8,367.2 370.2,365.2 371.8,362.8 372.2,360.8 373.2,360.2 374.2,361.2 373.8,361.8 374.2,363.2 377.8,363.2 382.8,358.8 382.8,357.2 383.2,356.8 381.8,352.2 381.8,350.2 383.8,347.2 383.8,343.2 382.8,341.8 381.8,341.8 380.2,340.2 380.2,338.8 381.8,336.2 379.8,333.2 379.8,330.2 381.8,327.2 384.2,325.8 386.2,325.2 389.8,321.8 392.8,321.8 393.8,320.8 394.2,318.2 395.2,317.2 396.8,317.2 398.2,318.8 401.2,318.8 403.2,317.8 404.2,316.8 406.8,311.2 409.2,308.2 412.8,307.2 415.8,305.2 416.2,305.8 418.2,305.8 421.8,304.8 424.8,304.8 428.2,302.2 431.2,300.8 432.2,300.8 432.2,299.2 431.8,298.8 431.8,294.2 432.2,292.8 434.2,290.2 438.8,288.8 438.2,286.2 436.8,284.8 432.8,285.8 430.2,283.8 425.8,284.2 424.2,282.8 422.8,282.2 418.8,277.8 418.8,271.2 419.2,270.8 422.8,270.8 423.2,270.2 423.2,268.2 421.8,266.8 420.2,266.8 419.8,267.8 418.2,268.8 415.2,266.2 414.8,264.2 418.8,261.2 426.8,261.2 428.8,259.2 430.8,259.2 433.8,261.2 434.2,260.8 435.8,260.8 438.2,258.8 442.2,257.2 444.2,255.2 448.8,256.8 449.8,257.8 448.2,260.2 448.2,265.2 447.8,265.8 448.2,267.2 451.8,266.8 456.8,263.8 461.8,263.8 462.2,263.2 463.8,263.2 465.8,264.8 467.8,264.8 469.2,263.2 471.2,263.2 473.8,265.8 474.8,268.8 480.2,270.8 484.8,274.8 486.8,274.2 488.2,271.2 491.2,271.2 494.8,270.2 497.8,271.8 498.8,271.8 501.2,270.8 503.2,270.8 506.2,267.2 508.2,267.2 510.2,268.8 511.8,272.8 514.2,275.8 514.8,278.2 515.8,279.2 519.2,279.2 520.8,280.8 521.8,283.2 520.8,285.8 520.8,291.2 521.2,292.8 523.2,294.2 524.2,295.8 522.2,298.8 518.8,302.2 516.8,303.2 511.8,300.2 508.8,304.8 507.8,305.2 505.2,305.2 503.2,306.2 501.2,308.8 496.8,310.2 495.2,309.2 496.2,307.8 496.2,305.8 495.2,306.2 494.2,307.8 491.2,308.2 489.8,307.8 488.8,306.2 488.8,304.2 489.2,303.8 488.8,302.8 485.8,303.2 484.8,304.2 485.2,306.8 488.2,309.8 489.2,312.8 487.8,314.2 485.8,314.8 484.8,316.2 484.8,317.2 486.8,320.2 486.8,323.2 490.2,327.8 491.8,328.2 492.2,327.8 495.2,327.2 497.8,324.8 499.2,324.8 504.2,329.2 506.8,329.2 509.8,326.8 514.2,326.8 515.2,325.8 515.8,323.8 517.2,323.2 518.2,324.8 518.2,325.8 523.2,329.8 527.8,331.2 529.8,331.2 531.2,330.2 532.8,331.2 535.2,331.8 537.2,333.2 538.8,335.8 540.2,336.2 541.8,337.8 541.8,339.8 540.8,340.8 537.8,340.8 537.8,341.8 541.2,347.2 541.2,349.2 542.2,350.8 543.2,351.2 546.8,351.2 547.8,350.2 547.8,347.2 550.2,342.8 549.2,339.2 551.8,336.8 551.8,333.2 553.2,331.8 556.8,334.8 559.2,334.8 561.8,333.2 562.8,333.2 564.8,334.8 564.8,336.8 562.2,340.8 562.2,344.2 561.8,345.2 559.8,347.2 556.2,347.8 554.2,350.2 554.2,352.8 552.8,354.8 551.8,357.8 548.8,361.2 549.2,362.8 548.8,368.2 548.2,369.8 546.2,371.8 546.2,377.2 547.2,378.2 552.2,378.2 554.8,376.2 556.2,376.2 559.2,378.2 563.8,383.2 562.8,385.2 563.2,389.8 561.8,391.8 561.2,395.2 560.8,395.8 562.8,398.2 562.8,399.8 561.2,400.8 557.8,399.8 557.8,402.2 561.2,401.2 563.2,401.2 565.8,400.2 567.8,400.2 568.2,399.8 570.8,399.8 571.2,399.2 573.8,399.2 574.2,398.8 578.2,398.2 595.2,389.8 604.2,387.2 609.2,383.8 608.2,371.8 609.2,370.8 614.2,369.8 620.8,367.2 621.8,359.8 624.8,353.2 626.2,345.8 627.2,343.8 633.2,336.2 636.8,332.8 639.8,327.8 643.8,323.8 648.2,322.2 657.8,322.8 664.2,316.8 670.2,317.2 670.8,317.8 675.2,317.8 678.8,315.2 680.2,311.8 681.2,312.2 684.8,312.2 687.8,309.8 692.2,308.8 692.2,305.8 691.2,302.8 682.2,292.2 679.2,285.2 679.8,274.8 679.2,274.2 679.2,271.2 678.2,267.8 678.2,264.2 682.8,255.8 683.2,247.8 677.8,247.8 674.8,251.2 673.8,250.2 671.2,250.2 668.8,252.8 665.8,254.2 660.8,254.8 660.2,254.2 658.8,254.2 652.2,250.8 646.8,245.8 644.2,245.8 640.8,247.8 636.8,246.8 631.2,242.2 628.8,237.2 627.2,236.2 626.2,236.2 623.2,234.8 620.2,234.8 618.2,236.8 614.8,236.2 611.8,234.8 608.2,231.8 592.8,227.8 591.2,226.8 588.8,226.2 583.8,223.2 581.2,223.2 577.8,225.2 573.2,225.2 572.8,224.8 568.2,224.2 560.8,221.8 558.2,221.8 554.8,220.8 551.2,220.8 544.2,225.8 537.8,225.8 533.2,223.2 525.2,220.8 520.8,218.2 517.8,217.2 516.2,217.2 514.2,216.2 503.8,216.2 503.2,215.2 500.8,215.2 499.2,218.8 494.8,221.8 491.2,221.2 486.2,214.8 483.8,214.8 481.8,217.2 476.2,218.2 475.8,217.8 470.2,217.2 466.2,215.8 464.8,215.8 460.2,214.2 458.2,214.2 457.8,213.8 453.2,213.8 448.8,215.2 441.2,214.8 430.2,211.2 420.2,211.2 413.8,208.8 402.8,209.2 398.8,210.8 397.2,210.8 395.8,211.8 394.8,214.2 393.2,215.8 388.8,216.8 386.2,215.2 376.2,213.8 368.8,211.2 360.8,211.8 356.8,210.2 351.8,210.2 351.2,210.8 347.8,210.8 347.2,211.2 343.2,209.8 337.2,209.2 336.8,208.8 328.8,208.8 328.2,209.2 314.2,209.8 312.8,212.2 306.8,212.2 305.2,214.8 298.8,215.2 298.2,214.8 290.8,213.8 287.8,212.2 276.2,208.8 262.8,209.2 262.2,209.8 258.8,209.8 258.2,210.2 251.2,209.8 250.8,209.2 245.2,209.2 239.8,211.2 232.2,211.2 231.8,210.8 224.2,210.2 223.8,209.8 220.8,209.8 220.2,209.2 210.8,207.8 203.2,204.2 200.2,203.8 194.8,201.8 185.8,201.2 185.2,200.8 166.8,200.8 166.2,201.2 157.2,202.8 150.2,206.2 145.2,210.2 143.8,214.8 143.8,218.8 148.2,232.2 148.2,234.2 145.8,237.2 127.8,246.2 119.8,251.2 111.2,253.2ZM282.8,354.2 282.8,353.2 285.8,350.8 289.8,350.8 293.8,353.2 295.2,353.2 297.2,351.8 300.2,351.2 301.8,351.8 302.8,353.2 301.2,356.2 301.2,357.2 300.2,358.2 297.8,358.2 295.8,359.2 292.8,359.2 287.8,356.8 285.2,356.8 284.2,356.2ZM342.8,336.2 343.8,335.2 345.8,335.2 346.2,334.8 352.2,334.8 353.8,336.2 354.2,337.8 354.2,343.8 351.8,345.8 348.2,345.8 344.8,346.8 342.2,346.2 341.2,344.8 340.8,339.8ZM559.2,309.2 561.2,310.8 561.2,313.8 560.2,314.8 558.8,314.8 557.8,313.2 557.8,310.8ZM406.2,301.8 407.8,304.8 407.8,306.8 404.2,309.2 401.2,309.2 400.2,308.2 400.2,306.2 403.8,303.8 403.8,302.2 404.2,301.8ZM530.8,288.8 531.2,286.8 533.8,284.8 541.8,284.2 543.2,285.2 543.2,287.2 541.8,288.8 540.2,289.2 537.8,292.2 531.8,290.2ZM448.8,241.2 450.2,240.2 451.8,241.2 451.8,242.2 451.2,242.8 449.2,242.8ZM506.2,221.2 507.2,220.8 508.2,221.8 513.8,224.2 517.8,227.2 514.8,228.8Z"/>
<path fill="#00f2ff" d="M413.2,406.8 414.8,408.8 415.8,408.8 416.8,407.8 416.2,406.2 413.8,406.2ZM532.2,395.8 530.8,395.8 527.8,397.8 525.2,398.2 524.8,398.8 524.8,400.2 527.2,402.2 530.8,402.2 532.2,400.2ZM539.8,395.2 540.2,400.2 540.8,400.2 541.8,398.8 548.2,399.2 548.2,397.8 545.8,396.8 543.8,393.8 540.8,393.8ZM414.8,392.2 411.8,394.8 411.8,396.8 415.2,398.8 416.2,397.8 416.2,394.8ZM457.2,392.2 454.2,396.2 456.8,397.8 456.8,401.8 457.2,402.8 463.2,408.2 463.2,410.2 463.8,410.8 468.2,411.2 472.8,408.8 472.2,404.2 469.8,400.8 468.2,397.2 460.8,392.2 459.2,391.8ZM494.8,315.2 494.8,320.8 495.2,321.8 498.8,321.8 503.2,324.2 507.2,322.2 511.2,322.8 512.2,321.2 511.8,315.2 504.8,309.8 503.2,309.8 498.2,311.8 496.8,312.8ZM108.8,255.8 108.8,258.8 109.8,262.2 114.8,269.2 118.2,276.8 122.2,282.2 131.2,281.8 133.8,283.2 136.2,288.2 136.2,289.8 137.8,293.2 138.2,296.2 141.8,302.8 144.2,310.8 146.8,315.2 140.2,327.8 140.2,339.2 139.8,339.8 137.8,348.8 134.2,355.2 134.8,363.8 132.2,368.8 130.2,374.8 130.2,377.8 136.8,379.8 143.2,383.2 143.8,384.2 141.8,385.8 137.8,386.2 133.2,387.8 128.2,391.2 128.2,394.2 127.8,394.8 127.8,404.2 128.2,404.8 128.2,407.8 133.8,408.2 134.8,409.2 136.2,414.2 141.2,413.8 141.2,406.8 143.8,405.2 145.2,405.2 151.2,408.2 153.8,408.2 157.2,409.2 169.8,409.2 175.2,404.2 180.8,401.2 192.2,401.8 192.8,401.2 196.2,401.2 197.2,400.8 197.8,401.2 203.2,401.8 205.2,402.8 208.8,408.2 211.2,409.2 212.2,410.2 222.8,414.8 224.2,414.8 228.2,416.2 231.2,416.2 232.2,411.8 233.8,410.2 237.8,408.2 244.2,408.2 247.8,410.2 250.2,410.2 251.8,409.2 258.8,407.8 273.8,402.8 278.2,400.8 285.8,399.8 288.2,395.8 292.2,394.2 298.8,394.8 303.8,398.2 311.2,399.8 315.8,402.2 318.8,402.2 325.2,398.8 330.8,397.8 334.2,400.2 335.8,403.2 343.2,402.8 346.2,404.2 349.8,404.2 355.2,402.2 356.8,402.2 364.2,398.8 367.2,398.2 374.2,395.8 384.2,395.8 384.8,393.8 386.8,390.8 385.2,388.2 381.8,386.8 376.8,387.8 373.8,386.2 370.2,386.2 368.8,384.8 368.2,382.2 367.8,383.8 366.2,385.2 365.2,385.2 363.8,383.8 364.2,378.8 365.8,376.8 367.8,377.8 368.2,377.2 368.2,374.2 368.8,373.8 368.8,370.2 365.8,366.2 365.8,363.2 366.2,362.2 368.2,361.2 370.2,358.8 372.2,357.2 375.2,357.2 377.8,359.2 378.8,359.2 380.2,358.2 381.2,356.8 381.2,354.2 379.8,351.2 380.2,345.8 378.2,342.2 377.8,338.2 377.2,337.8 377.2,335.8 378.2,332.8 378.2,329.2 381.8,325.2 384.8,324.2 386.8,321.8 386.2,315.8 387.8,314.2 393.2,313.8 395.8,311.2 396.8,306.8 398.2,304.8 398.2,302.2 397.2,300.8 397.2,299.8 400.8,295.8 401.8,295.2 402.8,295.8 405.2,298.8 406.8,299.2 408.8,301.2 409.2,303.2 410.8,305.2 411.8,304.8 411.8,301.8 412.2,300.8 415.2,298.8 417.2,299.2 419.2,302.2 420.2,302.8 423.2,302.8 425.8,298.8 427.2,298.8 429.2,297.8 430.2,288.8 429.8,288.2 427.2,288.2 426.2,288.8 422.2,285.8 420.8,286.2 419.8,285.8 419.2,283.2 416.2,279.8 416.2,277.2 416.8,276.8 416.2,269.8 413.2,265.8 413.2,263.2 419.8,258.2 421.8,259.2 424.2,259.2 426.2,257.2 430.2,257.2 430.8,257.8 435.2,258.2 437.8,256.2 439.8,255.2 441.2,255.2 443.8,253.2 445.2,253.2 448.2,254.8 450.2,254.8 450.8,255.2 452.2,254.8 455.8,251.8 457.8,253.2 458.8,255.2 460.8,257.2 460.2,258.2 460.2,260.2 460.8,260.8 461.8,260.2 469.8,260.2 474.2,263.2 475.8,263.2 477.2,262.2 478.2,262.2 479.8,264.2 480.8,267.8 484.2,271.8 485.2,270.8 485.2,267.2 485.8,266.8 487.2,266.8 489.8,268.8 496.8,268.2 498.2,267.2 502.8,267.8 504.8,266.8 506.8,264.8 508.8,260.8 510.8,258.2 511.8,257.8 512.2,258.8 511.2,260.2 510.8,265.2 516.2,272.2 517.2,275.8 519.2,275.8 519.8,275.2 521.2,275.8 522.2,276.8 523.2,279.2 524.8,280.8 525.8,280.8 528.2,278.8 530.8,278.8 532.2,279.8 533.8,282.2 535.2,282.2 537.2,281.2 539.8,277.8 541.2,277.8 542.8,279.2 543.2,282.2 544.2,283.2 546.8,284.2 549.2,284.2 551.8,285.8 551.8,286.8 550.8,287.8 545.8,288.2 543.8,290.8 543.8,292.8 544.8,293.8 545.8,293.8 547.8,291.8 554.8,291.8 555.8,292.8 555.8,294.8 553.8,297.2 551.8,297.2 548.8,296.2 547.2,297.2 547.2,298.2 545.8,300.2 542.2,300.2 541.2,299.8 538.8,296.8 535.8,296.2 533.8,297.2 527.8,297.2 527.2,297.8 525.8,297.8 524.8,298.2 517.8,305.8 515.2,306.2 512.8,304.8 511.8,305.2 510.8,307.2 510.8,309.2 512.8,313.2 514.8,313.2 516.2,314.8 516.8,317.2 519.2,320.8 519.8,323.8 521.2,325.8 525.8,326.2 529.8,323.2 532.8,323.2 536.2,326.2 537.8,326.2 538.8,324.8 538.8,321.8 539.8,321.2 540.8,322.2 540.8,323.2 539.2,327.2 537.8,328.2 537.8,329.8 539.2,331.2 540.2,334.2 541.2,334.8 544.8,338.8 548.2,333.8 549.2,330.8 551.2,328.8 553.8,328.8 554.8,327.8 554.8,325.8 556.8,324.2 558.2,324.8 559.8,326.2 559.8,328.8 559.2,329.8 558.2,330.2 557.8,331.2 558.2,331.8 559.2,331.2 563.8,331.2 566.2,332.8 566.8,335.8 564.2,340.8 564.8,342.2 564.2,344.8 560.2,349.2 559.2,349.2 557.2,350.8 556.8,353.2 552.8,360.2 552.8,362.2 553.8,363.8 553.8,365.8 551.2,367.8 551.2,371.2 548.8,373.8 548.8,375.2 549.8,376.2 550.8,376.2 551.8,375.2 551.8,372.8 552.2,372.2 554.2,372.2 558.2,375.8 561.2,376.8 565.2,381.8 565.2,383.8 564.8,384.2 565.2,389.8 562.8,393.2 563.2,395.8 565.2,398.2 565.2,400.2 564.8,400.8 578.2,398.2 595.2,389.8 604.2,387.2 609.2,383.8 608.2,371.8 609.2,370.8 614.2,369.8 620.8,367.2 621.8,359.8 624.8,353.2 626.2,345.8 627.2,343.8 633.2,336.2 636.8,332.8 639.8,327.8 643.8,323.8 648.2,322.2 657.8,322.8 664.2,316.8 670.2,317.2 670.8,317.8 675.2,317.8 678.8,315.2 680.2,311.8 681.2,312.2 684.8,312.2 687.8,309.8 692.2,308.8 692.2,305.8 691.2,302.8 682.2,292.2 679.2,285.2 679.8,274.8 679.2,274.2 679.2,271.2 678.2,267.8 678.2,264.2 682.8,255.8 683.2,247.8 677.8,247.8 674.8,251.2 673.8,250.2 671.2,250.2 668.8,252.8 665.8,254.2 660.8,254.8 660.2,254.2 658.8,254.2 652.2,250.8 646.8,245.8 644.2,245.8 640.8,247.8 636.8,246.8 631.2,242.2 628.8,237.2 627.2,236.2 626.2,236.2 623.2,234.8 620.2,234.8 618.2,236.8 614.8,236.2 611.8,234.8 608.2,231.8 592.8,227.8 591.2,226.8 588.8,226.2 583.8,223.2 581.2,223.2 577.8,225.2 573.2,225.2 572.8,224.8 568.2,224.2 560.8,221.8 558.2,221.8 554.8,220.8 551.2,220.8 544.2,225.8 537.8,225.8 533.2,223.2 525.2,220.8 520.8,218.2 517.8,217.2 516.2,217.2 514.2,216.2 503.8,216.2 503.2,215.2 500.8,215.2 499.2,218.8 494.8,221.8 491.2,221.2 486.2,214.8 483.8,214.8 481.8,217.2 476.2,218.2 475.8,217.8 470.2,217.2 466.2,215.8 464.8,215.8 460.2,214.2 458.2,214.2 457.8,213.8 453.2,213.8 448.8,215.2 441.2,214.8 430.2,211.2 420.2,211.2 413.8,208.8 402.8,209.2 398.8,210.8 397.2,210.8 395.8,211.8 394.8,214.2 393.2,215.8 388.8,216.8 386.2,215.2 376.2,213.8 368.8,211.2 360.8,211.8 356.8,210.2 351.8,210.2 351.2,210.8 347.8,210.8 347.2,211.2 343.2,209.8 337.2,209.2 336.8,208.8 328.8,208.8 328.2,209.2 314.2,209.8 312.8,212.2 306.8,212.2 305.2,214.8 298.8,215.2 298.2,214.8 290.8,213.8 287.8,212.2 276.2,208.8 262.8,209.2 262.2,209.8 258.8,209.8 258.2,210.2 251.2,209.8 250.8,209.2 245.2,209.2 239.8,211.2 232.2,211.2 231.8,210.8 224.2,210.2 223.8,209.8 220.8,209.8 220.2,209.2 210.8,207.8 203.2,204.2 200.2,203.8 194.8,201.8 185.8,201.2 185.2,200.8 166.8,200.8 166.2,201.2 157.2,202.8 150.2,206.2 145.2,210.2 143.8,214.8 143.8,218.8 148.2,232.2 148.2,234.2 145.8,237.2 127.8,246.2 119.8,251.2 111.2,253.2ZM280.2,354.2 280.8,352.8 283.2,350.2 284.2,350.2 285.8,349.2 290.2,349.2 290.8,349.8 296.8,349.2 297.2,349.8 301.2,349.8 301.8,350.2 305.2,350.8 307.2,352.2 305.2,354.8 303.8,355.2 302.8,357.8 300.8,359.8 297.8,359.8 295.8,360.8 293.2,360.8 289.8,359.2 284.8,359.2 281.8,356.8ZM361.2,334.8 363.2,336.2 363.8,341.2 363.2,342.2 361.2,343.8 358.8,343.8 357.2,342.8 357.2,341.2 359.8,338.8 359.2,335.8 360.2,334.8ZM334.8,339.8 336.8,337.8 339.2,337.2 340.2,335.2 342.8,333.2 344.8,333.2 345.2,332.8 353.8,332.8 355.2,334.2 356.2,336.8 356.8,343.2 352.8,347.8 351.2,348.2 345.8,347.8 345.2,348.2 341.8,348.8 340.2,347.2 339.2,344.2 338.2,343.2 336.2,343.2 335.8,342.8ZM545.8,324.2 547.2,323.2 549.8,323.2 550.8,324.2 550.8,325.2 549.8,326.2 547.8,326.8 545.8,325.8ZM578.8,318.2 578.8,319.8 576.2,322.8 574.2,323.8 570.8,323.8 570.2,323.2 570.2,321.2 573.2,317.2 575.8,318.2 577.2,318.2 577.8,317.8ZM584.8,304.8 586.8,306.2 587.2,307.8 587.2,310.2 585.8,311.8 583.2,308.8 583.2,306.8ZM562.8,302.8 564.2,304.2 563.8,309.8 563.2,310.2 563.2,315.8 561.2,317.2 556.2,317.2 554.8,315.8 555.8,313.8 555.8,309.8 557.2,307.8 557.2,306.8 559.2,303.2 560.8,302.2ZM558.2,294.8 559.8,294.8 560.8,296.2 560.2,298.8 559.2,300.2 557.2,298.8 557.2,295.8ZM517.8,269.2 518.8,269.8 518.2,271.2 516.8,270.8ZM442.2,237.8 443.2,239.2 444.2,243.8 443.2,244.8 440.2,245.8 439.2,247.8 438.2,248.8 437.2,248.8 436.8,248.2 436.8,246.8 437.2,246.2 437.2,241.2 439.2,238.8ZM453.2,228.2 454.8,231.2 455.8,231.8 458.8,231.8 460.2,233.2 460.8,236.2 459.2,239.2 458.2,239.2 455.8,236.8 453.2,236.8 451.8,237.8 455.8,243.2 455.8,244.8 454.8,246.2 451.8,244.8 446.8,244.8 444.8,243.2 445.2,240.8 446.2,239.8 450.8,237.8 450.2,236.8 444.2,238.8 442.8,238.2 441.8,236.2 442.2,233.8 444.2,231.8 445.2,231.2 450.2,231.8ZM506.2,221.2 507.2,220.8 508.2,221.8 513.8,224.2 517.8,227.2 514.8,228.8Z"/>
<path fill="#0dfff2" d="M461.2,397.2 459.8,398.8 459.2,401.2 461.2,402.2 463.8,404.8 465.2,407.8 467.2,409.8 468.8,409.8 470.2,407.2 470.2,404.2 464.8,397.2ZM366.8,391.2 366.8,394.2 368.8,397.2 372.2,396.8 374.2,395.8 380.2,395.8 377.2,391.2 374.8,389.8 372.8,389.2 370.2,390.8 367.2,390.8ZM555.8,320.2 555.8,321.2 556.8,322.2 559.8,322.2 561.8,326.2 564.2,328.8 566.2,328.8 566.8,326.2 564.2,322.8 563.2,322.2 560.8,322.2 559.8,321.2 559.8,320.2 558.2,319.2ZM521.2,317.8 520.8,318.8 521.8,320.2 522.2,323.2 523.2,322.8 522.8,318.2ZM502.2,312.2 500.8,312.8 499.2,314.2 497.8,317.2 497.8,318.2 501.8,321.2 503.2,321.8 508.2,319.2 508.2,317.8 507.8,317.2 505.8,317.2 505.2,316.8 505.2,313.8 504.2,312.8ZM562.8,299.2 565.2,301.2 566.8,300.8 566.8,299.8 564.2,298.8ZM555.2,301.8 554.2,300.2 550.8,298.8 548.8,298.8 548.2,300.2 546.8,301.8 541.2,301.8 537.2,299.2 536.2,299.8 530.2,299.2 525.8,300.8 521.2,304.8 520.2,307.2 520.2,309.2 518.8,310.8 518.8,311.8 521.2,312.8 523.8,314.8 526.2,315.2 527.2,316.2 528.8,319.8 529.8,320.2 532.8,320.2 535.2,317.8 540.8,317.8 541.8,318.2 544.2,321.2 551.8,321.2 553.2,320.2 553.2,317.8 552.2,315.8 553.2,312.8 552.8,309.8 554.8,306.2ZM417.2,293.8 413.2,292.2 411.2,292.8 410.8,293.2 411.2,293.8 411.2,295.8 410.2,296.8 410.2,298.2 411.8,298.2 417.2,295.2ZM453.2,250.8 452.8,249.2 451.2,247.8 449.8,247.2 447.8,248.2 443.8,248.8 442.2,250.2 440.8,250.8 440.2,252.2 441.8,252.8 443.8,251.2 445.8,251.2 448.2,252.8 451.2,253.2ZM458.8,247.2 458.2,249.2 459.2,251.2 460.2,252.2 462.2,252.8 463.8,254.2 464.2,255.8 465.8,256.2 465.2,254.8 463.8,253.2 463.8,250.8 464.2,250.2 463.8,247.8 460.8,246.8ZM108.8,255.8 108.8,258.8 109.8,262.2 114.8,269.2 118.2,276.8 122.2,282.2 131.2,281.8 133.8,283.2 136.2,288.2 136.2,289.8 137.8,293.2 138.2,296.2 141.8,302.8 144.2,310.8 146.8,315.2 140.2,327.8 140.2,339.2 139.8,339.8 137.8,348.8 134.2,355.2 134.8,363.8 132.2,368.8 130.2,374.8 130.2,377.8 136.8,379.8 143.2,383.2 143.8,384.2 141.8,385.8 137.8,386.2 133.2,387.8 128.2,391.2 128.2,394.2 127.8,394.8 127.8,404.2 128.2,404.8 128.2,407.8 133.8,408.2 134.8,409.2 136.2,414.2 141.2,413.8 141.2,406.8 143.8,405.2 145.2,405.2 151.2,408.2 153.8,408.2 157.2,409.2 169.8,409.2 175.2,404.2 180.8,401.2 192.2,401.8 192.8,401.2 196.2,401.2 197.2,400.8 197.8,401.2 203.2,401.8 205.2,402.8 208.8,408.2 211.2,409.2 212.2,410.2 222.8,414.8 224.2,414.8 228.2,416.2 231.2,416.2 232.2,411.8 233.8,410.2 237.8,408.2 244.2,408.2 247.8,410.2 250.2,410.2 251.8,409.2 258.8,407.8 273.8,402.8 278.2,400.8 285.8,399.8 288.2,395.8 292.2,394.2 298.8,394.8 303.8,398.2 311.2,399.8 315.8,402.2 318.8,402.2 325.2,398.8 330.8,397.8 334.2,400.2 335.8,403.2 343.2,402.8 346.2,404.2 349.8,404.2 355.2,402.2 358.2,401.8 364.2,398.8 361.8,395.8 362.8,391.2 364.2,389.2 364.2,387.8 361.8,385.2 361.8,382.8 362.2,382.2 361.8,374.2 357.8,368.8 356.2,367.8 353.8,367.2 351.8,364.8 352.2,363.8 352.2,360.2 353.2,359.2 358.2,359.2 360.2,357.2 361.8,357.2 363.8,358.2 366.8,358.2 368.2,356.2 369.8,355.2 378.2,354.8 378.2,352.2 377.8,351.8 378.2,346.2 375.8,338.8 374.2,337.8 371.8,338.2 370.8,340.8 370.8,342.2 368.2,345.8 366.8,345.8 364.2,344.2 358.2,347.2 357.2,347.2 355.8,350.8 353.2,352.8 349.8,351.2 347.8,349.8 345.2,349.8 343.8,350.8 342.2,354.2 341.2,355.2 339.8,355.2 338.8,354.2 338.8,347.8 337.2,346.2 334.8,345.8 332.8,342.8 329.2,339.8 329.2,335.2 332.8,332.8 334.2,332.8 338.2,334.2 341.8,332.2 343.2,332.2 343.8,331.8 350.2,331.8 351.8,331.2 355.8,327.8 358.2,327.8 361.2,330.2 361.8,332.8 365.2,334.8 366.2,337.8 367.2,338.2 370.8,337.8 371.8,336.2 372.2,332.2 373.8,330.8 375.8,330.8 376.2,330.2 376.2,327.2 376.8,326.2 379.8,324.2 383.8,322.8 384.8,321.8 384.8,319.2 383.2,316.8 380.8,316.8 379.2,315.2 379.2,312.2 379.8,311.2 382.2,309.8 387.8,308.8 389.2,307.2 390.8,306.8 394.2,303.2 392.2,297.8 393.8,296.8 395.2,294.8 394.8,293.8 392.8,292.8 391.2,290.8 394.8,288.2 395.2,286.2 397.2,284.8 398.8,286.2 398.8,290.2 399.8,291.2 401.2,291.2 402.2,290.2 401.8,286.2 403.2,284.8 405.2,284.8 406.8,285.8 411.8,286.2 413.8,288.2 415.2,287.8 415.8,285.8 413.2,283.8 412.2,281.8 413.2,280.2 413.2,278.2 412.2,279.2 412.2,281.2 411.8,281.8 407.2,280.8 405.8,279.2 405.2,276.8 403.2,274.2 403.2,272.8 403.8,272.2 405.2,272.2 406.8,273.2 409.2,269.8 410.8,269.8 413.2,271.8 413.8,276.2 414.2,276.2 414.8,275.2 414.2,273.8 414.2,269.8 411.8,265.8 411.8,262.2 412.2,261.2 414.2,260.2 415.8,258.2 419.2,255.2 425.2,255.2 425.8,254.8 427.8,254.8 429.2,255.8 434.2,255.8 434.8,255.2 433.2,253.2 431.2,252.8 430.2,251.8 430.8,249.8 433.8,247.2 433.8,244.2 432.8,241.2 438.2,236.8 440.2,232.2 444.8,227.8 446.2,227.2 448.8,225.2 449.2,224.2 448.8,223.2 448.8,220.2 450.2,218.2 452.2,218.2 453.2,219.2 453.8,223.8 455.8,226.8 456.2,229.2 459.2,230.2 463.2,235.2 463.2,241.2 464.2,242.8 467.2,242.8 468.2,243.2 471.2,246.2 471.8,247.2 471.8,249.8 470.8,251.8 470.2,254.8 469.2,256.2 469.2,257.8 472.8,260.8 474.8,261.2 476.8,260.2 482.2,260.2 484.8,258.2 487.2,258.2 488.8,260.2 488.8,263.8 489.2,264.8 491.8,266.8 495.8,266.2 497.2,263.8 498.8,263.8 501.2,265.8 503.2,265.8 504.2,265.2 505.2,263.8 505.2,262.8 508.2,257.2 508.8,255.2 511.2,253.8 512.8,253.8 514.8,256.8 514.8,259.8 513.2,262.8 514.2,266.2 516.2,267.2 517.2,266.8 520.2,266.8 522.8,268.8 522.8,270.2 523.8,271.8 527.2,272.2 528.8,273.8 529.2,275.8 534.8,279.2 539.2,275.8 542.2,275.8 543.8,277.2 545.2,281.8 547.2,282.8 550.2,282.8 551.8,280.8 552.8,277.2 554.8,276.2 555.8,277.2 555.8,279.2 556.2,279.8 555.8,286.8 556.2,287.2 559.8,286.8 563.2,289.2 566.8,289.2 567.8,289.8 572.2,294.8 571.8,297.2 575.8,299.8 578.2,300.2 579.8,302.2 579.2,303.2 577.8,304.2 574.8,304.2 571.8,305.8 569.8,305.8 569.2,306.2 569.8,307.8 572.8,308.2 575.8,310.2 577.2,310.2 580.8,311.8 581.2,311.2 581.2,307.8 582.2,304.2 585.2,302.2 590.2,302.2 592.2,303.8 591.8,304.8 589.8,305.2 588.8,306.2 588.8,307.2 590.2,309.2 594.2,308.8 596.2,305.8 598.2,305.8 601.2,307.8 601.2,311.8 600.2,312.8 598.8,312.8 596.2,311.8 593.8,312.8 588.8,312.8 586.8,314.8 585.8,316.8 580.8,321.2 577.8,325.8 574.2,325.8 572.8,326.8 569.8,333.2 569.8,335.2 567.2,337.8 566.2,339.8 566.2,340.8 567.8,343.8 567.8,346.2 566.8,347.2 564.2,347.8 561.2,351.2 559.8,351.8 558.2,353.2 557.2,356.2 554.8,360.8 555.8,363.2 555.2,368.8 556.2,370.8 559.2,374.2 563.2,375.2 566.2,379.8 566.2,386.2 567.8,389.8 567.2,390.8 564.8,392.8 564.8,394.8 567.2,398.2 567.8,399.8 567.2,400.2 578.2,398.2 595.2,389.8 604.2,387.2 609.2,383.8 608.2,371.8 609.2,370.8 614.2,369.8 620.8,367.2 621.8,359.8 624.8,353.2 626.2,345.8 627.2,343.8 633.2,336.2 636.8,332.8 639.8,327.8 643.8,323.8 648.2,322.2 657.8,322.8 664.2,316.8 670.2,317.2 670.8,317.8 675.2,317.8 678.8,315.2 680.2,311.8 681.2,312.2 684.8,312.2 687.8,309.8 692.2,308.8 692.2,305.8 691.2,302.8 682.2,292.2 679.2,285.2 679.8,274.8 679.2,274.2 679.2,271.2 678.2,267.8 678.2,264.2 682.8,255.8 683.2,247.8 677.8,247.8 674.8,251.2 673.8,250.2 671.2,250.2 668.8,252.8 665.8,254.2 660.8,254.8 660.2,254.2 658.8,254.2 652.2,250.8 646.8,245.8 644.2,245.8 640.8,247.8 636.8,246.8 631.2,242.2 628.8,237.2 627.2,236.2 626.2,236.2 623.2,234.8 620.2,234.8 618.2,236.8 614.8,236.2 611.8,234.8 608.2,231.8 592.8,227.8 591.2,226.8 588.8,226.2 583.8,223.2 581.2,223.2 577.8,225.2 573.2,225.2 572.8,224.8 568.2,224.2 560.8,221.8 558.2,221.8 554.8,220.8 551.2,220.8 544.2,225.8 537.8,225.8 533.2,223.2 525.2,220.8 520.8,218.2 517.8,217.2 516.2,217.2 514.2,216.2 503.8,216.2 503.2,215.2 500.8,215.2 499.2,218.8 494.8,221.8 491.2,221.2 485.8,214.8 483.8,214.8 481.8,217.2 476.2,218.2 475.8,217.8 470.2,217.2 466.2,215.8 464.8,215.8 460.2,214.2 458.2,214.2 457.8,213.8 453.2,213.8 448.8,215.2 441.2,214.8 430.2,211.2 420.2,211.2 413.8,208.8 402.8,209.2 398.8,210.8 397.2,210.8 395.8,211.8 394.8,214.2 393.2,215.8 388.8,216.8 386.2,215.2 376.2,213.8 368.8,211.2 360.8,211.8 356.8,210.2 351.8,210.2 351.2,210.8 347.8,210.8 347.2,211.2 343.2,209.8 337.2,209.2 336.8,208.8 328.8,208.8 328.2,209.2 314.2,209.8 312.8,212.2 306.8,212.2 305.2,214.8 298.8,215.2 298.2,214.8 290.8,213.8 287.8,212.2 276.2,208.8 262.8,209.2 262.2,209.8 258.8,209.8 258.2,210.2 251.2,209.8 250.8,209.2 245.2,209.2 239.8,211.2 232.2,211.2 231.8,210.8 224.2,210.2 223.8,209.8 220.8,209.8 220.2,209.2 210.8,207.8 203.2,204.2 200.2,203.8 194.8,201.8 185.8,201.2 185.2,200.8 166.8,200.8 166.2,201.2 157.2,202.8 150.2,206.2 145.2,210.2 143.8,214.8 143.8,218.8 148.2,232.2 148.2,234.2 145.8,237.2 127.8,246.2 119.8,251.2 111.2,253.2ZM277.8,353.8 280.8,350.2 283.8,348.8 287.2,347.8 295.8,347.2 296.2,347.8 302.8,348.2 303.2,348.8 305.8,348.8 307.8,347.8 310.2,347.8 311.8,349.2 312.2,350.8 315.2,353.2 315.2,354.8 314.8,355.2 309.2,355.2 306.2,356.2 301.2,360.8 298.2,360.8 294.8,362.2 293.2,362.2 290.8,360.8 286.8,360.8 286.2,361.2 283.8,361.2 282.8,360.8 277.8,355.2ZM391.8,297.2 391.8,298.2 388.8,301.2 385.8,301.8 384.2,300.2 384.2,298.8 388.8,295.8 389.8,295.8ZM394.2,274.2 396.2,274.2 398.2,276.2 398.8,278.8 397.8,279.8 395.2,279.2 393.2,277.2 392.8,275.8ZM506.2,221.2 507.2,220.8 508.2,221.8 513.8,224.2 517.8,227.2 514.8,228.8Z"/>
<path fill="#26ffd9" d="M376.2,345.8 374.2,342.8 370.2,348.2 367.8,349.2 365.8,349.2 362.8,348.2 362.2,348.8 362.2,351.2 361.2,352.8 357.2,352.8 354.2,354.8 347.8,354.2 345.2,356.2 345.2,357.2 347.2,356.2 349.2,357.2 356.8,357.2 360.2,353.2 361.2,353.2 364.2,354.8 367.2,351.2 370.8,351.2 372.2,350.2 375.8,350.2 376.8,348.2ZM523.2,306.2 523.2,308.2 524.8,311.2 527.2,312.8 530.8,316.8 533.8,314.8 536.2,314.8 537.8,315.8 541.8,316.2 543.8,317.2 546.2,317.2 547.8,316.2 547.2,312.8 549.8,311.2 550.8,309.8 551.2,306.2 551.8,305.8 551.8,302.2 550.2,301.2 547.8,303.2 546.2,303.8 541.2,303.8 537.8,301.2 532.2,300.8 529.8,302.2 527.2,304.8ZM402.2,278.2 401.8,278.2 401.2,281.8 402.8,281.2ZM503.2,259.2 502.2,259.2 500.8,260.8 500.8,262.2 501.2,263.2 502.2,263.8 503.2,263.2 503.8,261.8 503.8,259.8ZM455.8,218.2 455.8,221.2 457.2,224.2 457.2,226.8 457.8,227.8 460.8,228.8 463.8,232.2 465.8,232.8 469.2,236.8 470.2,239.2 471.2,240.2 474.2,240.2 474.8,239.8 476.2,240.2 479.2,244.8 479.2,245.8 476.8,249.2 474.2,250.2 473.2,251.8 473.2,253.2 471.8,256.2 471.8,257.8 473.2,259.2 475.2,259.2 478.2,258.2 482.2,255.8 482.8,256.2 486.2,256.2 489.2,254.2 492.8,254.2 494.8,256.2 495.2,258.8 497.8,258.2 498.8,257.2 501.2,251.2 503.2,248.8 502.8,242.2 503.8,241.2 504.8,241.2 507.2,243.8 507.8,247.2 509.8,250.2 510.8,250.2 512.2,248.8 513.8,248.8 514.8,250.2 514.8,253.8 517.2,261.2 516.2,263.2 516.2,264.8 516.8,265.2 518.2,265.2 518.8,264.8 523.8,265.2 524.8,266.2 524.8,267.8 525.8,269.8 530.8,271.2 533.2,273.8 539.8,273.8 541.2,272.2 541.2,268.2 541.8,267.8 547.2,268.8 549.8,271.8 548.2,273.8 546.2,274.2 545.2,275.8 545.8,278.8 547.2,280.8 548.2,281.2 549.8,280.2 550.2,277.8 552.2,274.8 554.8,273.8 556.8,273.8 558.8,276.2 558.8,278.2 562.2,281.2 562.2,283.2 563.2,283.8 565.8,286.8 570.2,288.8 572.8,291.2 574.2,293.8 576.8,296.2 578.8,296.8 582.2,300.8 583.2,301.2 586.2,299.8 593.2,300.2 597.8,303.8 602.8,304.8 604.8,306.2 605.2,307.2 603.8,309.8 603.8,310.8 605.8,312.2 604.2,313.8 602.2,314.8 598.8,314.8 597.2,313.8 595.2,313.8 593.2,314.8 590.2,314.8 589.2,315.2 588.8,317.8 586.8,319.8 581.8,322.8 580.8,324.8 580.8,327.8 583.2,331.2 581.8,333.2 579.2,333.8 576.8,336.8 572.8,336.2 570.2,337.8 568.2,339.8 568.2,341.2 570.2,345.8 569.2,350.2 567.8,351.8 565.2,350.2 563.2,352.8 559.8,353.8 558.2,356.8 557.2,368.2 558.2,370.2 560.2,372.2 564.2,372.2 565.8,373.8 567.8,379.8 567.8,383.8 569.2,386.2 570.2,393.2 572.8,394.8 574.8,396.8 576.8,395.2 579.8,394.2 581.8,394.2 583.2,395.8 595.2,389.8 604.2,387.2 609.2,383.8 608.2,371.8 609.2,370.8 614.2,369.8 620.8,367.2 621.8,359.8 624.8,353.2 626.2,345.8 627.2,343.8 633.2,336.2 636.8,332.8 639.8,327.8 643.8,323.8 648.2,322.2 657.8,322.8 664.2,316.8 670.2,317.2 670.8,317.8 675.2,317.8 678.8,315.2 680.2,311.8 681.2,312.2 684.8,312.2 687.8,309.8 692.2,308.8 692.2,305.8 691.2,302.8 682.2,292.2 679.2,285.2 679.8,274.8 679.2,274.2 679.2,271.2 678.2,267.8 678.2,264.2 682.8,255.8 683.2,247.8 677.8,247.8 674.8,251.2 673.8,250.2 671.2,250.2 668.8,252.8 665.8,254.2 660.8,254.8 660.2,254.2 658.8,254.2 652.2,250.8 646.8,245.8 644.2,245.8 640.8,247.8 636.8,246.8 631.2,242.2 628.8,237.2 627.2,236.2 626.2,236.2 623.2,234.8 620.2,234.8 618.2,236.8 614.8,236.2 611.8,234.8 608.2,231.8 592.8,227.8 591.2,226.8 588.8,226.2 583.8,223.2 581.2,223.2 577.8,225.2 573.2,225.2 572.8,224.8 568.2,224.2 560.8,221.8 558.2,221.8 554.8,220.8 551.2,220.8 544.2,225.8 537.8,225.8 533.2,223.2 525.2,220.8 520.8,218.2 516.2,217.2 514.2,216.2 503.8,216.2 503.2,215.2 500.8,215.2 500.2,216.2 500.8,220.8 499.2,223.2 497.8,223.2 495.8,221.2 494.8,221.8 491.2,221.2 489.8,219.2 484.2,219.2 482.8,220.2 481.8,220.2 481.2,218.8 482.2,217.8 482.2,216.8 479.8,217.8 477.2,217.8 477.8,218.8 480.2,219.2 480.8,220.2 479.2,222.8 479.2,226.2 478.2,227.8 476.8,228.2 473.8,227.2 473.2,226.8 473.2,224.2 472.8,223.2 470.8,222.2 468.2,223.2 465.2,222.8 464.8,222.2 465.2,218.2 463.8,216.8 463.8,215.2 459.2,214.2 458.8,215.8ZM574.2,343.8 575.8,344.8 575.8,346.8 574.8,347.8 573.2,347.2 572.2,345.8 572.8,344.8ZM540.8,257.2 542.8,258.8 542.8,259.8 541.2,261.8 539.2,262.2 537.8,260.8 537.8,258.8 538.8,257.8ZM500.2,242.2 501.2,243.8 500.8,246.8 499.2,248.2 498.2,248.2 497.2,247.2 497.2,243.8 498.8,242.2ZM469.8,227.8 471.2,228.2 471.2,229.2 470.2,230.2 468.8,229.8 468.8,228.8ZM498.8,226.2 499.8,226.8 499.8,228.2 499.2,228.8 498.2,228.2 498.2,226.8ZM460.8,222.2 462.2,222.2 463.2,223.2 462.2,226.2 461.8,226.2 460.2,224.2 460.2,222.8ZM506.2,221.2 507.2,220.8 508.2,221.8 513.8,224.2 517.8,227.2 514.8,228.8ZM128.2,407.8 133.8,408.2 134.8,409.2 136.2,414.2 139.8,414.2 141.2,413.8 141.2,406.8 143.8,405.2 145.2,405.2 151.2,408.2 153.8,408.2 157.2,409.2 169.8,409.2 175.2,404.2 180.8,401.2 192.2,401.8 192.8,401.2 196.2,401.2 197.2,400.8 197.8,401.2 200.2,401.2 200.8,401.8 204.8,402.2 208.8,408.2 217.2,412.8 226.2,415.8 231.2,416.2 232.2,411.8 233.8,410.2 237.8,408.2 244.2,408.2 247.8,410.2 250.2,410.2 251.8,409.2 258.8,407.8 273.8,402.8 278.2,400.8 285.8,399.8 288.2,395.8 292.2,394.2 298.8,394.8 303.8,398.2 311.2,399.8 315.8,402.2 318.8,402.2 325.2,398.8 328.8,398.2 329.2,397.8 330.8,397.8 333.2,399.2 335.8,403.2 343.2,402.8 346.2,404.2 349.8,404.2 357.8,401.8 356.2,400.8 356.2,399.8 357.8,398.8 359.2,396.8 358.2,394.2 358.2,392.2 359.8,388.8 359.2,387.8 356.2,385.8 356.2,384.2 357.8,382.8 358.8,382.8 360.8,381.2 360.8,379.8 359.8,378.2 359.2,375.2 357.8,372.8 355.8,370.8 351.8,370.8 348.2,366.8 347.8,364.2 346.8,362.8 343.2,362.8 342.2,361.2 340.8,360.2 337.2,359.8 333.2,362.8 331.2,362.8 329.2,360.8 329.8,355.2 330.8,354.2 334.8,353.8 336.8,351.2 336.8,348.8 334.8,347.2 328.8,345.8 327.2,343.8 327.2,341.8 326.8,341.2 325.2,341.2 324.8,341.8 319.8,341.8 317.2,343.2 316.2,343.2 315.2,341.8 316.2,339.8 317.8,338.2 321.8,338.8 323.2,337.2 323.8,335.8 326.8,332.8 328.2,332.8 330.8,331.8 335.8,331.8 338.2,332.8 342.8,330.8 349.8,330.2 352.8,327.8 355.8,326.2 359.8,326.2 361.2,327.2 363.2,327.2 365.8,325.2 366.2,323.2 369.8,319.2 375.2,319.8 376.8,318.2 376.8,314.2 377.2,313.8 377.8,310.2 380.2,308.2 382.8,308.2 385.2,307.2 388.2,304.8 387.8,303.8 386.8,303.2 384.2,303.2 383.2,302.2 382.8,298.2 384.2,296.2 387.2,294.8 387.8,293.8 387.8,291.2 387.2,290.2 389.2,288.2 391.8,287.2 394.8,282.8 394.8,281.2 390.8,277.8 389.2,275.8 389.2,274.2 391.2,272.8 394.8,271.2 398.8,271.2 399.2,271.8 400.8,271.2 401.8,270.2 402.2,268.2 403.8,266.8 409.8,266.8 410.2,265.8 410.2,263.8 409.8,263.2 410.2,261.2 412.2,257.8 414.8,255.2 419.8,252.2 422.8,252.8 423.8,251.8 424.2,248.8 425.8,246.8 430.8,247.2 431.8,245.8 430.2,242.8 429.8,238.2 427.8,234.8 429.2,232.8 430.8,232.8 433.8,234.2 435.2,232.8 436.2,229.2 434.2,230.2 431.8,230.2 430.2,228.2 430.2,225.2 431.2,224.2 435.2,223.2 436.8,221.8 437.8,222.2 441.2,222.2 441.8,221.8 445.2,221.2 447.2,219.8 448.2,217.2 450.2,215.2 451.2,215.2 452.8,214.2 451.2,214.2 448.8,215.2 441.2,214.8 430.2,211.2 420.2,211.2 413.8,208.8 407.2,208.8 406.8,209.2 402.8,209.2 398.8,210.8 397.2,210.8 395.8,211.8 394.8,214.2 393.2,215.8 388.8,216.8 386.2,215.2 376.2,213.8 368.8,211.2 360.8,211.8 356.8,210.2 351.8,210.2 351.2,210.8 347.8,210.8 347.2,211.2 345.2,210.2 341.2,209.8 340.8,209.2 328.8,208.8 328.2,209.2 314.2,209.8 312.8,212.2 306.8,212.2 305.2,214.8 298.8,215.2 298.2,214.8 290.8,213.8 287.8,212.2 276.2,208.8 262.8,209.2 262.2,209.8 258.8,209.8 258.2,210.2 251.2,209.8 250.8,209.2 245.2,209.2 239.8,211.2 232.2,211.2 231.8,210.8 224.2,210.2 223.8,209.8 220.8,209.8 220.2,209.2 210.8,207.8 203.2,204.2 200.2,203.8 194.8,201.8 185.8,201.2 185.2,200.8 166.8,200.8 163.8,201.8 158.8,202.2 150.2,206.2 145.2,210.2 143.8,214.8 143.8,218.8 144.2,219.2 144.8,222.8 148.2,232.2 148.2,234.2 146.8,236.2 142.2,239.2 127.8,246.2 119.8,251.2 111.2,253.2 108.8,255.8 108.8,258.8 109.8,262.2 114.8,269.2 118.2,276.8 122.2,282.2 131.2,281.8 133.8,283.2 136.2,288.2 136.2,289.8 137.8,293.2 138.2,296.2 141.8,302.8 144.2,310.8 146.8,315.2 140.2,327.8 140.2,339.2 139.8,339.8 137.8,348.8 134.2,355.2 134.8,363.8 132.2,368.8 130.2,374.8 130.2,377.8 136.8,379.8 143.2,383.2 143.8,384.2 141.8,385.8 134.2,387.2 128.2,391.2 128.2,394.2 127.8,394.8 127.8,404.2 128.2,404.8ZM348.2,377.2 349.8,376.8 351.8,378.8 351.8,379.8 350.8,380.8 349.2,380.8 347.8,378.2ZM319.8,352.8 319.8,354.2 318.2,355.8 318.2,356.8 316.8,358.8 315.2,358.8 313.8,357.8 311.2,357.2 307.8,358.8 305.8,358.8 302.2,361.8 297.2,362.2 294.2,363.8 290.8,363.8 288.8,362.8 283.8,362.8 277.8,357.2 275.8,356.8 274.2,355.2 274.2,354.2 280.8,348.8 281.8,348.8 285.8,346.8 293.2,345.8 293.8,345.2 296.8,346.2 299.2,346.2 302.2,344.8 307.2,345.2 309.2,342.8 311.2,342.8 315.8,346.8 314.8,349.2 318.2,350.8ZM383.8,281.8 385.2,282.8 384.2,283.8 382.8,282.8ZM387.8,259.8 389.2,260.8 390.8,263.2 392.8,263.8 394.2,265.2 394.2,267.2 393.2,268.2 390.8,267.8 389.2,265.8 387.2,264.2 386.8,263.2 386.8,260.8Z"/>
<path fill="#40ffbf" d="M345.2,368.2 346.2,370.8 348.2,372.2 351.8,376.2 353.8,377.2 355.2,377.2 356.8,376.2 356.2,374.8 354.8,373.2 348.8,372.2 346.8,369.2ZM327.2,355.8 326.8,355.2 324.8,355.8 323.2,358.2 323.8,358.8 326.2,358.2 327.2,357.2ZM330.8,349.2 330.8,350.8 331.8,351.2 333.8,351.2 334.2,350.8 334.2,349.8 332.8,348.8 331.2,348.8ZM319.8,347.2 319.8,349.2 321.2,351.2 322.8,351.8 324.8,350.2 324.8,348.2 323.8,347.2 322.2,346.8ZM573.2,339.8 571.8,339.8 570.8,340.8 570.8,341.8 571.2,342.2 573.2,340.8ZM531.8,304.2 535.2,306.8 534.8,308.8 533.2,310.2 533.2,311.8 533.8,312.2 537.2,312.2 540.8,314.8 544.2,314.8 544.8,311.2 545.8,310.2 548.2,309.8 549.2,308.8 549.2,305.8 548.8,305.2 546.2,305.2 544.8,308.8 543.2,310.2 540.2,310.2 539.2,309.2 539.2,306.2 536.8,303.2 532.8,302.8ZM486.2,241.8 483.8,243.8 482.2,246.8 485.8,248.2 486.8,249.2 488.2,249.2 490.2,246.2 490.2,244.2 489.2,242.8ZM487.2,221.2 481.8,225.2 480.2,229.8 480.2,231.8 478.8,234.2 478.8,235.2 479.8,236.2 483.2,236.2 485.8,234.2 488.8,234.8 492.2,237.8 492.8,241.8 494.8,242.8 497.8,238.8 497.8,236.8 496.8,234.8 496.8,231.8 494.8,228.8 493.2,227.2 491.8,227.8 488.8,230.2 486.8,230.2 485.2,231.8 483.8,231.2 483.8,230.2 485.8,228.8 487.2,224.8 490.2,222.8 489.8,221.2ZM500.8,215.2 503.2,218.2 502.2,221.2 502.2,231.2 502.8,232.2 505.2,232.8 507.8,236.8 509.8,237.8 511.8,239.8 509.2,243.2 509.8,245.8 510.2,246.2 511.8,246.2 513.2,245.2 514.8,246.2 517.2,250.2 516.8,254.2 518.2,258.8 521.8,260.2 522.8,261.8 523.8,262.2 525.8,262.2 527.2,264.2 527.2,267.2 528.2,268.2 530.8,268.8 535.8,271.8 538.2,271.8 538.8,270.2 536.8,267.2 535.8,263.8 535.8,260.8 533.8,256.2 536.2,253.8 537.8,253.8 539.2,255.2 541.8,255.2 545.2,258.2 545.8,261.2 544.2,263.2 544.2,264.2 546.8,265.8 552.8,272.2 555.2,272.2 555.8,271.8 558.2,272.2 560.8,274.8 561.8,277.2 564.2,279.8 566.2,280.8 567.2,280.2 571.8,280.2 574.2,281.8 574.8,284.2 573.2,286.8 573.8,289.8 574.2,290.2 579.2,289.8 581.2,292.2 581.2,294.8 582.8,298.2 583.8,298.2 584.8,296.8 587.8,296.8 590.2,298.2 594.8,299.2 598.2,302.8 601.8,302.8 605.2,304.2 609.8,304.2 611.8,305.8 611.8,307.2 609.8,309.2 609.2,311.8 606.8,314.2 603.8,316.2 599.2,317.2 596.2,315.2 594.2,315.8 591.8,317.2 591.2,318.8 587.8,321.8 586.8,323.8 586.8,325.2 585.8,326.2 585.2,334.2 583.8,336.2 581.8,336.8 580.8,337.8 580.2,341.8 578.2,344.2 577.2,346.8 577.2,348.8 575.2,350.2 574.2,349.8 571.8,349.8 570.2,353.8 566.8,356.8 564.8,357.2 562.2,355.8 560.8,355.8 559.8,357.8 560.2,359.2 560.2,363.2 560.8,363.8 560.2,368.8 561.2,369.8 566.2,370.2 568.2,372.2 568.8,373.2 568.8,380.8 569.2,381.2 569.2,382.8 571.8,386.2 571.8,391.8 572.8,392.8 580.2,392.8 583.2,391.2 587.2,393.8 595.2,389.8 604.2,387.2 609.2,383.8 608.2,371.8 609.2,370.8 614.2,369.8 620.8,367.2 621.8,359.8 624.8,353.2 626.2,345.8 627.2,343.8 633.2,336.2 636.8,332.8 639.8,327.8 643.8,323.8 648.2,322.2 657.8,322.8 664.2,316.8 670.2,317.2 670.8,317.8 675.2,317.8 678.8,315.2 680.2,311.8 681.2,312.2 684.8,312.2 687.8,309.8 692.2,308.8 692.2,305.8 691.2,302.8 682.2,292.2 679.2,285.2 679.8,274.8 679.2,274.2 679.2,271.2 678.2,267.8 678.2,264.2 682.8,255.8 683.2,247.8 677.8,247.8 674.8,251.2 673.8,250.2 671.2,250.2 668.8,252.8 665.8,254.2 660.8,254.8 660.2,254.2 658.8,254.2 652.2,250.8 646.8,245.8 644.2,245.8 640.8,247.8 636.8,246.8 631.2,242.2 628.8,237.2 627.2,236.2 626.2,236.2 623.2,234.8 620.2,234.8 618.2,236.8 614.8,236.2 611.8,234.8 608.2,231.8 592.8,227.8 591.2,226.8 588.8,226.2 583.8,223.2 581.2,223.2 577.8,225.2 573.2,225.2 572.8,224.8 568.2,224.2 560.8,221.8 558.2,221.8 554.8,220.8 551.2,220.8 544.2,225.8 537.8,225.8 533.2,223.2 525.2,220.8 520.8,218.2 516.2,217.2 514.2,216.2 503.8,216.2 503.2,215.2ZM506.2,221.2 507.2,220.8 508.2,221.8 513.8,224.2 517.8,227.2 514.8,228.8ZM446.8,215.2 443.8,214.8 443.2,215.8 443.2,218.2 444.2,218.8 446.2,217.2ZM108.8,255.8 108.8,258.8 109.8,262.2 114.8,269.2 118.2,276.8 122.2,282.2 131.2,281.8 133.8,283.2 136.2,288.2 136.2,289.8 137.8,293.2 138.2,296.2 141.8,302.8 144.2,310.8 146.8,315.2 140.2,327.8 140.2,339.2 139.8,339.8 137.8,348.8 134.2,355.2 134.8,363.8 132.2,368.8 130.2,374.8 130.2,377.8 136.8,379.8 143.2,383.2 143.8,384.2 141.8,385.8 137.8,386.2 133.2,387.8 128.2,391.2 128.2,394.2 127.8,394.8 127.8,404.2 128.2,404.8 128.2,407.8 133.8,408.2 134.8,409.2 136.2,414.2 141.2,413.8 141.2,406.8 143.8,405.2 145.2,405.2 151.2,408.2 153.8,408.2 157.2,409.2 169.8,409.2 175.2,404.2 180.8,401.2 192.2,401.8 192.8,401.2 196.2,401.2 197.2,400.8 197.8,401.2 200.2,401.2 200.8,401.8 204.8,402.2 208.8,408.2 217.2,412.8 226.2,415.8 231.2,416.2 232.2,411.8 233.8,410.2 237.8,408.2 244.2,408.2 247.8,410.2 250.2,410.2 251.8,409.2 258.8,407.8 273.8,402.8 278.2,400.8 285.8,399.8 288.2,395.8 292.2,394.2 298.8,394.8 303.8,398.2 311.2,399.8 315.8,402.2 318.8,402.2 325.2,398.8 330.8,397.8 334.2,400.2 335.8,403.2 343.2,402.8 346.2,404.2 349.8,404.2 354.8,402.8 353.8,401.8 353.8,398.2 354.8,396.8 353.8,394.8 353.8,392.2 353.2,391.2 352.2,391.2 350.2,389.8 350.2,387.2 352.8,385.2 352.8,383.2 350.8,383.2 346.8,385.2 344.2,385.2 343.2,383.2 345.2,381.8 346.2,380.2 345.2,377.8 344.2,376.8 342.2,376.8 337.8,371.2 330.2,369.2 329.8,368.8 329.8,366.2 328.2,364.8 326.2,363.8 318.2,363.8 314.8,361.8 310.2,362.8 307.2,360.8 305.8,360.8 304.2,361.8 302.8,363.8 300.2,364.2 298.2,365.8 291.2,365.8 290.8,366.2 288.8,366.2 283.8,364.2 277.8,359.2 274.2,358.2 271.8,355.8 271.2,353.8 272.2,352.8 274.2,352.2 276.8,350.8 279.2,348.2 285.2,345.8 291.2,344.8 291.8,344.2 299.2,344.8 303.8,342.8 306.2,342.8 309.2,340.8 312.8,340.2 316.8,335.8 318.8,334.8 321.8,335.2 325.2,331.8 327.8,330.8 333.8,330.2 334.2,330.8 338.8,331.2 339.8,330.2 342.2,329.2 344.2,329.8 344.8,329.2 349.2,328.8 351.8,326.8 357.8,324.2 361.8,324.2 365.8,319.8 366.8,317.8 368.8,316.8 370.2,316.8 371.2,315.8 371.2,313.2 370.8,312.8 371.2,311.2 372.2,310.2 375.8,309.2 377.2,306.8 381.2,302.8 381.8,301.2 381.2,298.2 381.8,297.8 382.2,294.2 381.2,293.2 380.2,293.2 378.8,291.8 378.8,290.8 383.8,286.8 386.8,286.8 387.8,285.8 387.8,284.8 386.8,284.8 385.2,286.2 383.8,286.8 382.8,286.2 380.8,283.8 381.2,281.2 383.2,278.8 383.2,274.8 384.2,272.8 384.2,271.2 386.8,269.2 386.8,268.2 385.8,267.2 384.2,263.8 384.2,260.2 383.8,259.2 382.2,258.8 380.8,257.2 380.8,254.8 381.8,253.8 382.8,253.8 385.2,256.2 386.8,256.2 388.8,255.2 390.8,256.8 391.2,259.2 398.2,264.8 399.8,264.2 402.2,262.2 406.8,261.8 408.2,260.8 409.8,258.8 410.2,256.2 414.2,252.2 416.2,251.2 418.8,248.8 420.8,248.2 422.2,246.8 422.2,244.8 420.8,242.2 420.8,238.8 427.8,230.2 427.8,226.8 427.2,226.2 427.2,224.8 425.8,222.2 427.2,220.8 430.2,219.8 430.2,216.8 431.2,215.8 435.2,215.8 435.8,214.2 434.8,212.8 430.2,211.2 420.2,211.2 413.8,208.8 407.2,208.8 406.8,209.2 402.8,209.2 398.8,210.8 397.2,210.8 395.8,211.8 394.8,214.2 393.2,215.8 388.8,216.8 386.2,215.2 376.2,213.8 368.8,211.2 360.8,211.8 356.8,210.2 351.8,210.2 351.2,210.8 347.8,210.8 347.2,211.2 345.2,210.2 341.2,209.8 340.8,209.2 328.8,208.8 328.2,209.2 314.2,209.8 312.8,212.2 306.8,212.2 305.2,214.8 298.8,215.2 298.2,214.8 290.8,213.8 287.8,212.2 276.2,208.8 262.8,209.2 262.2,209.8 258.8,209.8 258.2,210.2 251.2,209.8 250.8,209.2 245.2,209.2 239.8,211.2 232.2,211.2 231.8,210.8 224.2,210.2 223.8,209.8 220.8,209.8 220.2,209.2 210.8,207.8 203.2,204.2 200.2,203.8 194.8,201.8 185.8,201.2 185.2,200.8 166.8,200.8 166.2,201.2 157.2,202.8 150.2,206.2 145.2,210.2 143.8,214.8 143.8,218.8 148.2,232.2 148.2,234.2 145.8,237.2 127.8,246.2 119.8,251.2 111.2,253.2Z"/>
<path fill="#59ffa6" d="M529.8,259.2 528.8,260.2 528.8,264.8 529.2,266.2 534.2,268.8 534.8,268.2 534.8,265.2 533.2,262.8 533.2,260.8 532.8,259.8 531.8,259.2ZM504.2,216.2 504.8,217.2 504.8,223.8 505.8,226.2 505.8,229.2 509.2,235.2 512.8,236.8 516.8,239.8 516.2,246.2 521.2,251.8 522.2,254.2 526.8,254.2 527.8,254.8 529.2,253.8 533.2,253.8 536.8,250.8 539.8,251.2 545.8,256.2 547.2,258.8 547.8,261.8 550.2,267.2 552.8,269.8 553.8,270.2 556.8,269.8 558.8,270.8 565.2,276.8 571.8,277.2 572.8,276.2 574.2,276.2 577.8,279.8 577.2,284.2 579.8,283.8 580.8,284.8 581.2,287.8 582.8,290.2 582.8,293.2 583.2,294.2 587.2,294.2 590.8,295.2 594.2,297.2 598.8,301.8 610.8,301.8 613.2,303.8 614.2,305.8 613.8,308.8 611.8,310.2 610.8,312.2 608.8,314.2 607.2,314.8 604.8,317.2 605.2,320.8 602.2,322.8 601.2,325.2 600.2,326.2 598.2,326.2 597.8,325.8 596.8,322.2 593.8,322.2 592.8,321.8 590.2,323.2 590.2,327.2 587.2,330.2 586.8,332.8 587.8,335.8 590.8,339.2 589.2,340.8 586.2,339.8 584.2,341.2 584.2,343.8 583.2,344.8 580.2,345.2 579.2,346.2 578.2,350.8 573.2,355.2 573.2,356.2 571.8,358.2 571.2,360.2 572.8,363.8 572.2,366.2 570.2,367.2 568.8,365.8 565.8,360.8 564.2,360.8 563.8,361.2 563.8,365.8 564.2,367.2 565.8,368.2 568.2,368.8 571.2,372.8 571.2,376.8 570.2,378.8 570.2,381.2 570.8,382.2 574.2,385.2 575.2,385.2 578.8,387.2 579.8,386.8 581.2,384.2 583.2,383.8 584.8,384.8 586.2,387.2 589.2,387.2 591.2,388.8 591.2,390.2 590.2,392.2 595.2,389.8 599.8,388.2 601.2,388.2 606.2,386.2 609.2,383.8 608.2,371.8 609.2,370.8 614.2,369.8 620.8,367.2 621.8,359.8 624.8,353.2 626.2,345.8 627.2,343.8 633.2,336.2 636.8,332.8 639.8,327.8 643.8,323.8 648.2,322.2 657.8,322.8 664.2,316.8 670.2,317.2 670.8,317.8 675.2,317.8 678.8,315.2 680.2,311.8 681.2,312.2 684.8,312.2 687.8,309.8 692.2,308.8 692.2,305.8 691.2,302.8 682.2,292.2 679.2,285.2 679.8,274.8 679.2,274.2 679.2,271.2 678.2,267.8 678.2,264.2 682.8,255.8 683.2,247.8 677.8,247.8 674.8,251.2 673.8,250.2 671.2,250.2 668.8,252.8 665.8,254.2 660.8,254.8 660.2,254.2 658.8,254.2 652.2,250.8 646.8,245.8 644.2,245.8 640.8,247.8 636.8,246.8 631.2,242.2 628.8,237.2 627.2,236.2 626.2,236.2 623.2,234.8 620.2,234.8 618.2,236.8 614.8,236.2 611.8,234.8 608.2,231.8 592.8,227.8 591.2,226.8 588.8,226.2 583.8,223.2 581.2,223.2 577.8,225.2 573.2,225.2 572.8,224.8 568.2,224.2 560.8,221.8 558.2,221.8 554.8,220.8 551.2,220.8 544.2,225.8 537.8,225.8 533.2,223.2 525.2,220.8 520.8,218.2 516.2,217.2 514.2,216.2ZM506.2,221.2 507.2,220.8 508.2,221.8 513.8,224.2 517.8,227.2 514.8,228.8ZM108.8,255.8 108.8,258.8 109.8,262.2 114.8,269.2 118.2,276.8 122.2,282.2 131.2,281.8 133.8,283.2 136.2,288.2 136.2,289.8 137.8,293.2 138.2,296.2 141.8,302.8 144.2,310.8 146.8,315.2 140.2,327.8 140.2,339.2 139.8,339.8 137.8,348.8 134.2,355.2 134.8,363.8 132.2,368.8 130.2,374.8 130.2,377.8 136.8,379.8 143.2,383.2 143.8,384.2 141.8,385.8 137.8,386.2 133.2,387.8 128.2,391.2 128.2,394.2 127.8,394.8 127.8,404.2 128.2,404.8 128.2,407.8 133.8,408.2 134.8,409.2 136.2,414.2 141.2,413.8 141.2,406.8 143.8,405.2 145.2,405.2 151.2,408.2 153.8,408.2 157.2,409.2 169.8,409.2 175.2,404.2 180.8,401.2 192.2,401.8 192.8,401.2 196.2,401.2 197.2,400.8 197.8,401.2 200.2,401.2 200.8,401.8 204.8,402.2 208.8,408.2 217.2,412.8 226.2,415.8 231.2,416.2 232.2,411.8 233.8,410.2 237.8,408.2 244.2,408.2 247.8,410.2 250.2,410.2 251.8,409.2 258.8,407.8 273.8,402.8 278.2,400.8 285.8,399.8 288.2,395.8 292.2,394.2 298.8,394.8 303.8,398.2 311.2,399.8 315.8,402.2 318.8,402.2 325.2,398.8 330.8,397.8 334.2,400.2 335.8,403.2 339.2,403.2 338.8,400.8 340.2,398.2 342.8,397.8 345.2,398.8 345.8,397.8 343.2,394.8 342.8,392.8 340.2,390.8 335.8,391.2 334.8,389.8 335.2,386.8 339.2,383.2 339.2,380.2 338.2,378.8 338.2,376.2 332.8,372.8 329.2,372.8 329.2,375.2 329.8,375.8 329.2,378.8 327.2,380.2 325.2,380.2 324.8,380.8 324.8,384.2 324.2,384.8 322.8,384.8 322.2,385.2 321.2,384.8 316.8,384.8 315.8,384.2 314.2,382.2 314.2,380.2 314.8,379.8 314.2,376.8 314.8,375.2 318.8,371.8 319.8,372.2 322.8,372.2 325.2,370.8 326.2,370.8 326.8,369.2 325.8,367.2 323.2,369.2 318.8,370.2 316.8,367.2 315.8,367.2 313.8,365.8 311.2,365.8 310.8,366.2 306.8,365.8 304.2,367.2 301.2,367.2 298.2,368.8 294.8,368.8 294.2,368.2 291.2,368.2 290.8,367.8 285.8,367.8 282.2,364.2 277.2,360.8 272.8,360.2 268.2,354.8 268.2,352.2 270.2,350.8 271.2,351.2 274.8,350.8 277.8,347.8 285.2,344.8 286.8,344.8 290.8,343.2 299.2,343.2 304.2,341.2 305.8,341.2 308.8,339.2 310.8,338.8 312.8,336.2 314.8,335.2 318.2,332.2 321.8,331.8 326.8,329.2 334.8,329.2 335.2,329.8 337.8,329.8 341.2,326.8 348.2,327.2 351.2,325.2 355.2,324.2 360.2,320.2 361.8,317.2 364.8,314.8 364.8,313.2 363.8,311.8 363.8,309.8 365.8,308.2 368.8,304.8 369.8,304.8 371.2,306.2 372.2,306.2 375.2,303.8 376.8,303.2 378.8,301.2 379.8,297.8 379.8,296.2 378.8,296.2 378.2,296.8 378.8,299.8 377.2,301.2 375.2,301.2 374.2,300.2 374.2,298.2 375.8,295.2 375.8,293.2 373.8,291.8 372.2,291.8 369.8,292.8 367.2,296.8 364.8,296.2 362.8,294.8 362.8,292.2 364.2,290.2 364.2,288.8 361.8,286.8 359.8,282.2 360.2,280.2 362.2,278.2 364.8,278.2 371.2,282.2 372.2,283.2 372.8,285.2 371.2,286.8 369.8,287.2 369.2,288.8 370.2,289.8 370.8,289.8 373.8,286.2 375.8,286.2 378.2,285.2 380.2,279.8 379.8,278.8 379.8,275.8 380.8,273.2 381.2,267.2 375.8,265.2 374.8,264.2 374.8,263.2 377.2,260.8 378.8,257.8 379.2,252.8 380.2,251.8 382.2,251.8 384.2,253.2 386.2,253.8 388.2,252.8 390.8,249.2 392.2,249.2 393.8,251.2 392.8,252.8 392.8,253.8 395.8,256.2 395.8,259.2 399.2,260.8 404.2,260.2 406.2,259.2 407.8,257.2 408.2,254.8 411.2,251.8 414.2,250.8 416.2,248.2 419.2,245.8 416.2,243.2 416.2,241.2 416.8,239.8 422.2,232.8 425.2,230.2 425.2,227.2 423.2,224.2 423.2,219.2 424.8,217.8 426.8,217.2 428.2,215.8 428.8,213.2 426.2,211.2 420.2,211.2 413.8,208.8 407.2,208.8 406.8,209.2 402.8,209.2 398.8,210.8 397.2,210.8 395.8,211.8 394.8,214.2 393.2,215.8 388.8,216.8 386.2,215.2 376.2,213.8 368.8,211.2 360.8,211.8 356.8,210.2 351.8,210.2 351.2,210.8 347.8,210.8 347.2,211.2 345.2,210.2 341.2,209.8 340.8,209.2 328.8,208.8 328.2,209.2 314.2,209.8 312.8,212.2 306.8,212.2 305.2,214.8 298.8,215.2 298.2,214.8 290.8,213.8 287.8,212.2 276.2,208.8 262.8,209.2 262.2,209.8 258.8,209.8 258.2,210.2 251.2,209.8 250.8,209.2 245.2,209.2 239.8,211.2 232.2,211.2 231.8,210.8 224.2,210.2 223.8,209.8 220.8,209.8 220.2,209.2 210.8,207.8 203.2,204.2 200.2,203.8 194.8,201.8 185.8,201.2 185.2,200.8 166.8,200.8 166.2,201.2 157.2,202.8 150.2,206.2 145.2,210.2 143.8,214.8 143.8,218.8 148.2,232.2 148.2,234.2 145.8,237.2 127.8,246.2 119.8,251.2 111.2,253.2ZM391.2,225.8 392.2,226.8 392.2,229.2 391.2,232.2 392.2,233.2 395.2,233.2 396.2,234.2 396.2,235.2 394.2,238.2 392.2,238.8 389.2,240.8 386.8,239.8 385.2,240.2 384.8,241.2 384.8,245.8 383.2,247.8 381.8,248.8 380.8,248.8 378.8,246.8 375.8,242.2 377.2,240.8 379.2,240.2 380.2,237.8 381.8,236.2 383.8,235.8 384.2,234.8 383.8,233.2 384.2,228.2 385.8,226.8 386.8,226.8 388.2,225.8Z"/>
<path fill="#73ff8c" d="M339.2,394.2 337.2,394.8 336.2,395.8 335.2,398.2 333.8,399.2 332.2,398.8 330.2,396.2 328.2,396.8 327.2,398.2 328.8,398.2 329.2,397.8 331.8,398.2 334.2,400.2 335.8,403.2 336.8,402.2 337.2,397.8 339.2,395.2ZM372.8,295.2 371.2,294.8 370.2,295.8 370.2,298.2 371.8,298.2 372.2,297.8ZM399.8,256.2 399.8,257.8 400.8,258.2 403.2,258.2 404.2,257.2 401.2,257.2ZM505.8,216.2 506.8,217.8 507.2,220.8 508.2,221.8 513.8,224.2 517.8,227.2 515.8,228.2 516.2,228.8 516.2,230.2 517.8,231.8 519.8,231.8 520.2,229.8 521.8,228.2 523.2,229.8 522.8,232.2 521.8,232.8 519.8,235.2 519.2,239.8 517.8,243.2 517.8,246.2 520.2,248.8 521.8,249.2 524.2,251.8 526.2,251.8 528.8,250.2 533.2,250.8 535.8,248.8 537.8,248.8 540.8,249.8 546.2,254.8 548.2,258.2 548.8,261.2 552.2,266.8 553.2,267.2 555.8,267.2 560.8,270.8 564.2,270.8 566.2,272.8 567.8,273.2 571.8,273.2 575.2,274.2 579.8,279.2 583.2,282.2 583.2,286.2 584.2,287.8 587.2,287.2 588.8,288.2 590.2,290.8 591.2,291.2 594.2,291.2 595.8,292.2 595.2,295.8 598.8,300.2 604.8,299.8 607.8,298.2 610.8,295.8 613.2,296.2 614.8,297.2 616.2,299.2 616.2,300.2 615.2,301.8 615.2,303.2 617.8,305.8 617.8,306.8 616.2,309.8 610.8,314.8 608.8,315.2 606.8,316.8 606.8,318.2 608.2,320.2 608.2,321.8 601.2,328.2 600.2,328.8 597.2,328.8 594.8,326.8 593.8,326.8 593.2,327.2 593.2,330.2 592.8,330.8 590.2,330.8 588.8,331.8 589.2,334.2 591.2,335.8 593.2,338.2 593.2,341.8 592.2,343.2 589.8,345.2 589.2,346.8 587.2,348.8 584.8,349.2 581.8,351.8 579.2,352.2 574.8,359.2 574.8,360.2 576.8,363.8 576.2,364.2 576.2,365.8 579.2,364.2 581.8,365.8 581.8,367.2 576.8,371.8 574.2,372.8 572.2,378.2 572.2,380.8 575.8,383.2 578.8,383.8 581.2,381.8 584.8,381.2 587.2,384.8 594.2,384.8 595.8,386.8 595.8,389.2 595.2,389.8 599.8,388.2 601.2,388.2 606.2,386.2 609.2,383.8 608.2,371.8 609.2,370.8 614.2,369.8 620.8,367.2 621.8,359.8 624.8,353.2 626.2,345.8 627.2,343.8 633.2,336.2 636.8,332.8 639.8,327.8 643.8,323.8 648.2,322.2 657.8,322.8 664.2,316.8 670.2,317.2 670.8,317.8 675.2,317.8 678.8,315.2 680.2,311.8 681.2,312.2 684.8,312.2 687.8,309.8 692.2,308.8 692.2,305.8 691.2,302.8 682.2,292.2 679.2,285.2 679.8,274.8 679.2,274.2 679.2,271.2 678.2,267.8 678.2,264.2 682.8,255.8 683.2,247.8 677.8,247.8 674.8,251.2 673.8,250.2 671.2,250.2 668.8,252.8 665.8,254.2 660.8,254.8 660.2,254.2 658.8,254.2 652.2,250.8 646.8,245.8 644.2,245.8 640.8,247.8 636.8,246.8 631.2,242.2 628.8,237.2 627.2,236.2 626.2,236.2 623.2,234.8 620.2,234.8 618.2,236.8 614.8,236.2 611.8,234.8 608.2,231.8 592.8,227.8 591.2,226.8 588.8,226.2 583.8,223.2 581.2,223.2 577.8,225.2 573.2,225.2 572.8,224.8 568.2,224.2 560.8,221.8 558.2,221.8 554.8,220.8 551.2,220.8 544.2,225.8 537.8,225.8 533.2,223.2 525.2,220.8 520.8,218.2 517.8,217.2 516.2,217.2 514.2,216.2ZM577.2,376.8 579.2,374.8 581.2,374.8 583.2,375.8 586.8,379.8 585.8,380.8 582.8,379.8 579.2,380.2 577.2,378.8ZM622.8,298.2 623.8,299.8 623.8,303.2 623.2,304.2 621.8,305.2 619.2,305.2 618.2,304.2 618.8,301.2 621.2,298.2ZM423.2,211.2 420.2,211.2 413.8,208.8 407.2,208.8 406.8,209.2 400.8,209.8 398.8,210.8 397.2,210.8 395.8,211.8 395.2,212.8 396.8,213.2 396.8,214.8 394.2,218.2 397.8,218.2 398.8,219.8 396.2,224.2 394.8,228.8 395.2,229.8 398.8,232.8 399.2,234.2 398.8,234.8 397.8,240.2 393.2,244.2 393.8,247.2 396.2,249.8 396.8,251.8 398.8,254.8 399.8,254.8 402.8,252.2 405.2,253.2 408.8,251.8 411.2,249.2 414.2,248.2 413.8,238.2 415.8,235.8 416.2,234.2 418.8,232.2 421.2,227.8 421.2,221.8 419.8,220.2 419.2,217.8 422.2,215.2 422.8,211.8ZM145.2,210.2 144.2,212.8 143.8,218.8 148.2,232.2 148.2,234.2 146.8,236.2 142.2,239.2 127.8,246.2 119.8,251.2 111.2,253.2 108.8,255.8 108.8,258.8 109.8,262.2 114.8,269.2 118.2,276.8 122.2,282.2 131.2,281.8 133.8,283.2 136.2,288.2 136.2,289.8 137.8,293.2 138.2,296.2 141.8,302.8 144.2,310.8 146.8,315.2 140.2,327.8 140.2,339.2 139.8,339.8 137.8,348.8 134.2,355.2 134.8,363.8 132.2,368.8 130.2,374.8 130.2,377.8 136.8,379.8 143.2,383.2 143.8,384.2 141.8,385.8 134.2,387.2 128.2,391.2 128.2,394.2 127.8,394.8 127.8,404.2 128.2,404.8 128.2,407.8 133.8,408.2 134.8,409.2 136.2,414.2 139.8,414.2 141.2,413.8 141.2,406.8 143.8,405.2 145.2,405.2 151.2,408.2 153.8,408.2 157.2,409.2 169.8,409.2 175.2,404.2 180.8,401.2 192.2,401.8 192.8,401.2 196.2,401.2 197.2,400.8 197.8,401.2 200.2,401.2 200.8,401.8 204.8,402.2 208.8,408.2 217.2,412.8 226.2,415.8 231.2,416.2 232.2,411.8 233.8,410.2 237.8,408.2 244.2,408.2 247.8,410.2 250.2,410.2 251.8,409.2 258.8,407.8 273.8,402.8 278.2,400.8 285.8,399.8 288.2,395.8 292.2,394.2 298.8,394.8 303.8,398.2 311.2,399.8 315.8,402.2 318.8,402.2 322.8,400.2 322.2,399.2 322.2,394.8 322.8,393.2 325.8,389.8 324.8,388.8 323.8,388.8 323.8,391.2 322.2,392.8 319.8,392.8 318.8,391.8 318.8,388.2 318.2,387.2 315.2,386.2 312.2,382.2 312.2,380.8 311.8,380.2 312.2,372.8 308.2,368.8 306.2,368.8 303.2,370.2 300.2,370.2 296.8,372.2 294.2,372.2 290.8,369.8 285.2,369.8 282.8,367.8 282.2,366.2 279.2,363.8 274.2,363.2 272.8,364.8 271.8,364.8 270.8,363.8 270.8,361.8 269.2,358.8 266.8,355.2 266.2,351.2 268.8,348.8 274.2,349.2 278.2,346.2 282.2,345.2 285.2,343.8 286.8,343.8 289.8,342.2 291.8,342.2 293.8,341.2 300.8,341.2 305.8,339.2 307.8,336.8 309.8,336.2 311.8,334.8 312.8,334.8 316.8,331.2 320.2,330.2 324.2,327.2 333.2,327.2 336.2,328.2 337.8,327.8 340.8,324.8 348.8,325.2 351.2,323.2 353.8,323.2 356.2,321.2 357.2,319.2 357.2,315.8 360.8,313.2 361.2,309.8 363.8,307.2 365.2,304.8 365.2,302.8 364.2,301.2 364.2,298.8 363.8,297.8 362.2,297.2 358.2,292.2 358.2,289.8 358.8,289.2 358.2,281.2 359.8,277.8 361.8,275.8 364.2,274.2 365.2,274.2 366.2,275.2 366.2,276.2 367.8,278.2 370.2,279.2 371.2,280.2 372.2,280.2 373.2,278.8 376.2,276.2 377.8,273.8 377.2,269.2 376.8,268.8 375.8,268.8 373.8,271.2 372.8,271.2 371.2,269.8 371.8,265.8 370.8,263.8 370.8,262.2 376.8,256.2 377.2,255.2 377.2,251.2 377.8,250.8 377.8,247.8 374.2,243.2 373.8,240.8 374.8,239.8 377.2,238.8 381.2,234.2 381.2,230.2 380.2,228.8 379.2,228.2 378.8,226.2 379.8,225.2 386.2,224.8 389.8,223.2 391.8,219.2 391.8,218.2 390.2,216.2 388.8,216.8 386.2,215.2 376.2,213.8 368.8,211.2 360.8,211.8 356.8,210.2 351.8,210.2 351.2,210.8 347.8,210.8 347.2,211.2 343.2,209.8 337.2,209.2 336.8,208.8 328.8,208.8 328.2,209.2 314.2,209.8 312.8,212.2 306.8,212.2 305.2,214.8 301.8,214.8 301.2,215.2 298.8,215.2 298.2,214.8 290.8,213.8 287.8,212.2 276.2,208.8 262.8,209.2 262.2,209.8 258.8,209.8 258.2,210.2 251.2,209.8 250.8,209.2 245.2,209.2 239.8,211.2 232.2,211.2 231.8,210.8 224.2,210.2 223.8,209.8 220.8,209.8 217.8,208.8 212.8,208.2 208.2,206.8 203.2,204.2 200.2,203.8 196.8,202.2 191.8,201.8 191.2,201.2 185.8,201.2 185.2,200.8 166.8,200.8 163.8,201.8 158.8,202.2 150.2,206.2Z"/>
<path fill="#8cff73" d="M525.8,220.8 527.2,223.2 526.2,226.2 526.2,230.8 525.2,233.2 522.2,235.8 521.8,239.2 519.2,243.2 519.2,245.8 519.8,246.8 522.2,247.8 523.8,247.2 524.8,243.8 525.8,243.2 528.8,246.8 531.8,246.8 532.2,246.2 535.8,245.8 539.8,248.2 542.2,248.8 546.8,253.2 548.8,256.8 549.8,260.8 550.8,262.2 553.2,264.2 556.8,265.2 560.2,268.8 564.2,268.2 567.8,270.8 571.2,270.2 573.8,271.8 574.8,271.8 576.8,272.8 581.2,277.8 582.2,278.2 583.8,278.2 584.2,277.8 587.2,278.2 588.2,279.2 588.2,280.8 586.8,282.8 586.8,284.2 589.8,285.2 592.2,288.8 593.2,288.2 593.2,287.2 591.2,285.8 591.2,283.2 592.8,282.2 598.8,288.8 598.8,289.8 600.8,293.8 599.8,295.8 599.8,297.8 600.2,298.2 603.2,297.8 605.2,295.2 609.2,293.2 611.8,293.2 617.2,296.8 618.8,296.8 620.2,295.2 622.2,295.2 623.2,295.8 624.8,297.8 625.2,301.8 625.8,302.2 625.8,305.8 623.2,308.2 624.8,311.2 624.2,312.8 620.2,315.2 618.8,315.2 617.2,314.2 616.2,314.2 615.2,315.2 615.2,319.2 613.2,321.2 608.8,323.2 606.8,325.8 606.2,327.2 603.8,329.8 602.2,329.8 597.8,331.2 594.2,335.2 595.2,337.2 595.2,342.2 591.8,345.8 591.2,347.8 589.2,349.8 585.8,351.2 583.2,353.2 580.8,353.8 579.2,355.2 577.2,358.8 577.2,359.8 578.2,361.2 579.2,361.8 582.2,361.8 583.8,363.2 584.8,365.8 587.2,367.8 587.2,368.8 585.8,369.8 581.8,370.2 580.8,371.2 580.8,372.2 586.8,376.2 589.8,376.2 591.2,377.8 592.2,381.2 594.8,381.8 595.8,382.8 598.2,388.8 604.2,387.2 609.2,383.8 609.2,379.8 608.8,379.2 608.8,376.2 608.2,375.8 608.2,371.8 609.2,370.8 614.2,369.8 620.8,367.2 621.8,359.8 624.8,353.2 626.2,345.8 627.2,343.8 633.2,336.2 636.8,332.8 639.2,328.8 639.8,326.2 643.2,322.8 644.2,322.2 645.8,322.2 646.2,322.8 647.8,322.8 648.2,322.2 657.8,322.8 664.2,316.8 670.2,317.2 670.8,317.8 675.2,317.8 678.8,315.2 680.2,311.8 681.2,312.2 684.8,312.2 687.8,309.8 692.2,308.8 692.2,305.8 691.2,302.8 682.2,292.2 679.2,285.2 679.8,274.8 679.2,274.2 679.2,271.2 678.2,267.8 678.2,264.2 682.8,255.8 683.2,247.8 677.8,247.8 674.8,251.2 673.8,250.2 671.2,250.2 668.8,252.8 665.8,254.2 660.8,254.8 660.2,254.2 658.8,254.2 652.2,250.8 646.8,245.8 644.2,245.8 640.8,247.8 636.8,246.8 631.2,242.2 628.8,237.2 627.2,236.2 626.2,236.2 623.2,234.8 620.2,234.8 618.2,236.8 614.8,236.2 611.8,234.8 608.2,231.8 592.8,227.8 591.2,226.8 588.8,226.2 583.8,223.2 581.2,223.2 577.8,225.2 573.2,225.2 572.8,224.8 568.2,224.2 560.8,221.8 558.2,221.8 554.8,220.8 551.2,220.8 544.2,225.8 537.8,225.8 533.2,223.2ZM641.8,315.2 643.8,316.8 644.2,317.8 643.2,319.2 641.8,319.2 640.2,318.2 640.2,316.2ZM508.2,216.2 510.8,218.8 512.8,223.8 514.8,225.2 516.2,225.2 516.8,224.8 521.2,225.2 522.8,224.2 521.8,221.8 521.8,220.2 522.2,219.8 521.8,218.8 514.2,216.2ZM419.8,210.8 413.8,208.8 407.2,208.8 406.8,209.2 400.8,209.8 402.8,212.8 405.8,214.2 405.8,215.2 405.2,215.8 402.2,215.8 401.8,216.8 402.2,217.8 402.2,220.8 398.8,224.8 399.2,229.2 401.2,232.8 401.2,234.8 400.2,237.2 401.8,240.8 399.8,243.2 396.8,244.2 395.8,245.2 396.2,247.2 399.2,249.8 400.8,249.8 403.8,248.2 405.2,248.2 406.8,249.8 408.2,248.8 408.8,245.8 405.2,243.2 404.8,242.2 404.8,238.2 405.2,237.2 406.8,236.2 410.8,238.2 411.8,237.8 413.2,235.8 414.2,233.2 414.2,230.8 414.8,229.8 413.2,226.8 410.2,224.2 414.2,220.8 415.2,218.8 420.2,213.8 420.2,211.2ZM145.2,210.2 144.2,212.8 143.8,218.8 148.2,232.2 148.2,234.2 146.8,236.2 142.2,239.2 127.8,246.2 119.8,251.2 111.2,253.2 108.8,255.8 108.8,258.8 109.8,262.2 114.8,269.2 118.2,276.8 122.2,282.2 131.2,281.8 133.8,283.2 136.2,288.2 136.2,289.8 137.8,293.2 138.2,296.2 141.8,302.8 144.2,310.8 146.8,315.2 140.2,327.8 140.2,339.2 139.8,339.8 137.8,348.8 134.2,355.2 134.8,363.8 132.2,368.8 130.2,374.8 130.2,377.8 136.8,379.8 143.2,383.2 143.8,384.2 141.8,385.8 134.2,387.2 128.2,391.2 128.2,394.2 127.8,394.8 127.8,404.2 128.2,404.8 128.2,407.8 133.8,408.2 134.8,409.2 136.2,414.2 139.8,414.2 141.2,413.8 141.2,406.8 143.8,405.2 145.2,405.2 151.2,408.2 153.8,408.2 157.2,409.2 169.8,409.2 175.2,404.2 180.8,401.2 192.2,401.8 192.8,401.2 196.2,401.2 197.2,400.8 197.8,401.2 200.2,401.2 200.8,401.8 204.8,402.2 208.8,408.2 217.2,412.8 226.2,415.8 231.2,416.2 232.2,411.8 233.8,410.2 237.8,408.2 244.2,408.2 247.8,410.2 250.2,410.2 251.8,409.2 258.8,407.8 273.8,402.8 278.2,400.8 285.8,399.8 288.2,395.8 292.2,394.2 298.8,394.8 303.8,398.2 311.2,399.8 315.8,402.2 318.8,402.2 318.2,399.8 314.2,395.2 314.8,389.8 312.2,387.2 312.2,385.2 310.2,381.2 310.2,377.2 309.8,376.2 308.8,375.8 304.8,376.2 302.8,374.8 296.8,374.8 296.2,375.2 294.8,375.2 289.8,371.2 284.2,371.8 282.8,372.2 279.8,374.8 277.2,375.2 276.2,374.2 275.8,371.8 277.2,370.8 278.2,370.8 279.8,368.8 279.2,366.2 277.2,365.8 275.8,367.8 275.8,371.2 275.2,371.8 272.8,372.2 270.2,371.2 269.2,370.2 268.8,366.8 268.2,366.2 268.2,360.8 264.8,354.2 261.8,351.2 261.8,350.2 263.2,348.8 264.8,348.8 267.8,346.8 273.8,347.2 277.8,345.2 285.2,343.2 289.8,340.8 291.8,340.2 294.2,337.8 296.8,337.2 300.2,338.8 302.8,338.8 303.8,338.2 306.8,334.8 311.2,333.8 313.2,332.8 315.2,330.2 319.2,328.8 323.2,325.2 326.8,325.2 327.2,325.8 330.8,325.8 332.8,324.8 336.8,325.2 339.8,323.2 343.2,323.2 345.2,320.2 346.2,320.2 347.8,321.2 349.2,320.2 350.8,317.8 350.8,315.8 352.2,313.8 356.2,313.2 357.8,312.2 358.2,310.2 356.8,308.2 353.2,308.2 352.2,307.2 352.2,305.8 353.2,303.8 355.8,302.2 359.2,297.8 359.2,296.2 356.8,293.2 355.8,289.2 354.8,287.8 356.2,285.2 356.2,282.2 357.2,280.2 356.8,277.2 354.8,273.8 355.8,272.8 361.8,273.2 364.2,271.8 365.8,271.8 366.2,271.2 369.2,272.2 369.8,264.8 368.2,262.2 368.2,260.8 370.8,257.2 370.8,254.8 372.2,253.2 373.8,252.8 375.2,251.2 375.8,249.8 375.2,247.2 371.2,242.2 371.2,239.8 372.8,238.2 375.8,237.2 378.2,233.8 378.2,232.2 374.8,228.8 374.8,226.8 377.2,223.2 378.8,222.8 382.8,222.8 383.8,223.2 384.2,222.8 386.8,222.8 387.8,222.2 388.8,220.8 388.8,219.2 387.8,218.2 385.8,218.2 385.2,218.8 382.8,218.2 381.2,214.2 376.2,213.8 368.8,211.2 360.8,211.8 356.8,210.2 351.8,210.2 351.2,210.8 347.8,210.8 347.2,211.2 343.2,209.8 337.2,209.2 336.8,208.8 328.8,208.8 328.2,209.2 314.2,209.8 312.8,212.2 306.8,212.2 305.2,214.8 301.8,214.8 301.2,215.2 298.8,215.2 298.2,214.8 290.8,213.8 287.8,212.2 276.2,208.8 262.8,209.2 262.2,209.8 258.8,209.8 258.2,210.2 251.2,209.8 250.8,209.2 245.2,209.2 239.8,211.2 232.2,211.2 231.8,210.8 224.2,210.2 223.8,209.8 220.8,209.8 217.8,208.8 212.8,208.2 208.2,206.8 203.2,204.2 200.2,203.8 196.8,202.2 191.8,201.8 191.2,201.2 185.8,201.2 185.2,200.8 166.8,200.8 163.8,201.8 158.8,202.2 150.2,206.2ZM255.8,334.2 258.8,335.2 260.2,336.8 260.2,342.8 258.2,344.2 255.8,342.2 254.2,339.2 254.2,335.8ZM349.8,231.8 351.8,233.2 351.8,235.2 351.2,235.8 350.2,235.8 348.8,233.8 348.8,232.8Z"/>
<path fill="#a6ff59" d="M640.2,321.8 635.2,320.2 633.8,323.2 631.2,325.8 625.2,327.2 621.2,325.8 619.2,323.8 618.8,322.8 621.8,320.2 621.8,319.2 618.8,319.2 616.2,321.8 613.2,323.8 609.8,324.8 608.2,328.2 607.8,331.2 605.8,333.2 603.8,333.2 602.2,332.2 600.8,332.2 599.2,333.2 600.2,335.2 600.2,337.8 599.8,338.8 597.8,340.2 597.8,343.8 596.8,345.2 593.8,345.8 592.8,347.8 592.8,349.2 590.8,351.2 589.2,351.8 589.2,353.8 590.2,355.2 589.2,356.2 586.2,357.2 585.2,362.2 586.2,364.2 589.2,365.2 591.2,367.2 590.8,368.8 586.8,372.2 586.8,373.2 587.2,373.8 591.2,373.8 593.8,371.8 595.8,372.8 595.8,374.2 593.8,376.2 593.8,377.8 594.2,378.8 597.8,381.8 598.2,384.8 600.8,388.2 606.2,386.2 609.2,383.8 608.2,371.8 609.2,370.8 614.2,369.8 620.8,367.2 621.8,359.8 624.8,353.2 626.2,345.8 630.2,339.8 637.8,331.2 638.2,330.2 637.2,329.2 637.2,327.2 640.8,322.8ZM402.2,224.8 402.2,227.2 402.8,227.8 402.8,230.8 404.2,232.8 409.2,235.2 411.2,235.2 411.2,233.2 409.8,231.8 407.8,227.8 405.2,225.2ZM529.2,223.8 529.2,229.2 527.2,233.8 525.8,235.8 525.8,236.8 527.2,237.8 528.2,237.8 530.2,239.8 530.2,242.8 530.8,243.2 535.2,243.2 536.8,243.8 540.8,246.8 543.2,246.8 544.2,247.2 547.8,252.2 549.8,256.2 550.8,260.2 551.8,260.8 554.2,260.8 560.8,266.8 561.8,266.8 565.8,265.2 567.2,263.8 568.2,263.8 571.2,266.2 573.2,265.8 575.2,262.8 577.2,262.8 579.2,264.2 580.8,260.2 582.2,258.8 583.8,258.8 585.2,260.2 586.2,263.2 586.2,265.8 583.8,268.8 584.2,271.8 585.2,272.8 587.8,273.8 592.8,273.2 593.2,273.8 593.2,278.8 594.8,280.2 596.8,281.2 598.2,281.2 599.8,282.2 599.8,284.8 600.8,288.2 603.2,290.8 611.8,290.8 612.8,291.2 615.2,294.2 618.2,294.2 620.2,293.2 624.8,294.2 625.8,295.2 626.8,301.8 627.8,303.2 627.2,314.2 624.8,317.8 625.8,317.8 628.8,314.2 630.2,313.8 634.8,313.8 636.2,316.8 638.8,313.8 639.8,313.2 642.2,313.2 645.2,315.2 646.2,317.8 649.2,320.8 649.8,322.2 657.8,322.8 664.2,316.8 670.2,317.2 670.8,317.8 675.2,317.8 678.8,315.2 680.2,311.8 681.2,312.2 684.8,312.2 687.8,309.8 692.2,308.8 692.2,305.8 691.2,302.8 682.2,292.2 679.2,285.2 679.8,274.8 679.2,274.2 679.2,271.2 678.2,267.8 678.2,264.2 682.8,255.8 683.2,247.8 677.8,247.8 674.8,251.2 673.8,250.2 671.2,250.2 668.8,252.8 665.8,254.2 660.8,254.8 660.2,254.2 658.8,254.2 652.2,250.8 646.8,245.8 644.2,245.8 640.8,247.8 636.8,246.8 631.2,242.2 628.8,237.2 627.2,236.2 626.2,236.2 623.2,234.8 620.2,234.8 618.2,236.8 614.8,236.2 611.8,234.8 608.2,231.8 592.8,227.8 591.2,226.8 588.8,226.2 583.8,223.2 581.2,223.2 577.8,225.2 573.2,225.2 572.8,224.8 568.2,224.2 560.8,221.8 558.2,221.8 554.8,220.8 551.2,220.8 544.2,225.8 537.8,225.8 533.2,223.2 530.2,222.2ZM405.2,218.2 404.8,219.8 406.2,220.2 407.2,218.8ZM511.2,216.2 513.8,217.8 515.2,217.8 515.8,216.8 514.2,216.2ZM403.8,209.2 404.2,210.8 406.2,210.8 406.2,209.2ZM416.8,209.8 413.8,208.8 408.8,208.8 408.8,210.2 407.8,211.2 407.8,212.2 408.8,214.2 409.2,217.2 410.2,217.8 411.8,217.2 414.8,213.8 416.2,213.2 417.2,212.2ZM145.2,210.2 144.2,212.8 143.8,218.8 148.2,232.2 148.2,234.2 146.8,236.2 142.2,239.2 127.8,246.2 119.8,251.2 111.2,253.2 108.8,255.8 108.8,258.8 109.8,262.2 114.8,269.2 118.2,276.8 122.2,282.2 131.2,281.8 133.8,283.2 136.2,288.2 136.2,289.8 137.8,293.2 138.2,296.2 141.8,302.8 144.2,310.8 146.8,315.2 140.2,327.8 140.2,339.2 139.8,339.8 137.8,348.8 134.2,355.2 134.8,363.8 132.2,368.8 130.2,374.8 130.2,377.8 136.8,379.8 143.2,383.2 143.8,384.2 141.8,385.8 134.2,387.2 128.2,391.2 128.2,394.2 127.8,394.8 127.8,404.2 128.2,404.8 128.2,407.8 133.8,408.2 134.8,409.2 136.2,414.2 139.8,414.2 141.2,413.8 141.2,406.8 143.8,405.2 145.2,405.2 151.2,408.2 153.8,408.2 157.2,409.2 169.8,409.2 175.2,404.2 180.8,401.2 192.2,401.8 192.8,401.2 196.2,401.2 197.2,400.8 197.8,401.2 200.2,401.2 200.8,401.8 204.8,402.2 208.8,408.2 217.2,412.8 226.2,415.8 231.2,416.2 232.2,411.8 233.8,410.2 237.8,408.2 244.2,408.2 247.8,410.2 250.2,410.2 251.8,409.2 258.8,407.8 273.8,402.8 278.2,400.8 285.8,399.8 288.2,395.8 292.2,394.2 298.8,394.8 303.8,398.2 311.2,399.8 312.8,400.8 312.8,398.8 310.8,396.2 310.2,394.8 310.2,391.8 309.2,390.8 308.8,385.8 305.8,385.8 304.8,384.8 303.8,380.2 301.8,378.2 299.8,378.8 297.8,377.2 291.2,376.8 288.8,374.2 285.2,373.8 283.2,375.2 283.2,378.8 280.8,380.8 275.8,381.2 273.2,378.8 270.8,374.2 268.2,372.2 266.8,370.2 266.2,363.8 265.8,363.2 264.2,356.2 258.2,349.8 255.2,347.2 252.2,342.8 252.2,337.8 251.8,336.8 252.2,335.2 255.2,332.2 256.2,332.2 262.8,336.2 262.8,340.8 264.8,344.8 265.8,345.2 275.2,345.2 280.2,343.2 283.8,342.8 285.8,341.8 288.2,338.8 290.2,338.2 294.2,335.8 299.2,335.8 302.2,336.8 303.2,336.2 305.8,333.2 311.8,331.8 314.2,328.8 319.8,326.2 322.8,323.8 329.2,324.8 333.8,323.2 336.8,321.2 338.2,321.8 340.8,321.8 341.2,321.2 340.8,316.8 342.8,315.2 345.8,314.8 344.8,313.2 344.8,312.2 348.2,307.2 348.2,304.8 347.2,303.2 347.2,301.2 349.2,300.2 353.8,301.2 356.8,297.8 356.2,295.2 354.2,293.2 353.8,291.2 352.2,289.8 348.2,287.8 346.2,287.8 344.2,286.2 344.2,281.8 346.2,279.2 348.8,278.8 352.2,281.2 353.8,281.2 354.8,280.2 354.8,278.2 353.8,277.2 351.2,276.8 350.2,275.2 351.2,272.2 350.8,270.2 346.8,268.8 345.8,267.2 347.2,265.2 354.8,265.2 356.8,267.8 357.8,267.2 360.2,267.2 360.8,266.8 362.8,266.8 364.8,268.8 367.2,268.8 368.2,267.8 368.2,265.2 366.8,263.8 365.2,263.8 364.2,262.8 364.2,261.2 368.8,256.2 368.2,244.8 368.8,244.2 368.8,241.8 370.2,236.8 371.8,234.8 374.2,233.8 374.8,231.8 370.8,228.2 370.8,225.8 372.2,224.8 373.2,224.8 376.2,220.2 376.2,218.8 374.2,216.2 373.8,214.8 374.2,213.2 368.8,211.2 360.8,211.8 356.8,210.2 351.8,210.2 351.2,210.8 347.8,210.8 347.2,211.2 343.2,209.8 337.2,209.2 336.8,208.8 328.8,208.8 328.2,209.2 314.2,209.8 312.8,212.2 306.8,212.2 305.2,214.8 301.8,214.8 301.2,215.2 298.8,215.2 298.2,214.8 290.8,213.8 287.8,212.2 276.2,208.8 262.8,209.2 262.2,209.8 258.8,209.8 258.2,210.2 251.2,209.8 250.8,209.2 245.2,209.2 239.8,211.2 232.2,211.2 231.8,210.8 224.2,210.2 223.8,209.8 220.8,209.8 217.8,208.8 212.8,208.2 208.2,206.8 203.2,204.2 200.2,203.8 196.8,202.2 191.8,201.8 191.2,201.2 185.8,201.2 185.2,200.8 166.8,200.8 163.8,201.8 158.8,202.2 150.2,206.2ZM247.2,337.8 249.2,338.8 250.2,341.2 248.8,343.2 245.8,343.8 244.8,342.2 245.2,339.2ZM336.2,312.2 337.2,312.2 339.2,313.8 339.2,317.2 337.2,319.2 335.8,319.2 333.8,317.2 334.2,313.8ZM345.8,229.2 350.8,229.2 354.2,232.2 355.2,234.2 355.2,235.8 354.2,237.8 350.2,240.8 350.2,242.2 352.2,244.8 352.2,245.8 350.8,247.2 346.8,247.2 344.8,245.2 343.2,242.2 343.2,237.2 342.8,235.8 343.8,233.8 343.8,231.2 344.2,230.2Z"/>
<path fill="#bfff40" d="M635.8,331.2 632.8,330.8 629.2,328.2 623.8,328.2 620.2,326.8 618.8,326.8 617.2,325.8 613.8,325.8 612.2,326.2 610.8,327.8 609.8,330.8 607.2,334.8 605.8,336.2 603.8,336.8 602.8,337.8 602.8,341.8 600.2,343.8 600.2,346.8 601.2,349.2 600.8,349.8 600.8,351.2 598.8,354.2 599.8,355.8 599.8,358.2 598.8,360.2 598.2,364.2 594.8,368.2 594.8,369.8 598.8,373.2 598.8,375.2 597.2,376.8 597.2,378.2 599.8,379.8 605.2,379.2 607.8,381.2 606.2,383.8 604.2,383.8 601.8,385.2 602.8,387.8 606.2,386.2 609.2,383.8 608.2,371.8 609.2,370.8 614.2,369.8 620.8,367.2 621.8,359.8 624.8,353.2 626.2,345.8 630.2,339.8 634.8,334.8 634.8,333.2ZM342.8,302.2 342.2,302.8 342.2,304.8 344.2,307.2 345.8,306.8 346.2,305.8 345.8,303.8 344.8,302.8ZM602.2,281.2 602.2,285.8 603.2,286.8 604.8,286.8 606.8,284.8 608.8,284.8 604.8,279.8 603.2,279.8ZM532.2,224.8 531.8,231.8 534.8,232.8 535.8,234.8 535.8,236.2 540.2,239.2 541.2,241.2 541.2,243.8 542.8,244.8 544.2,244.8 546.2,246.2 548.2,250.8 549.2,251.8 550.2,254.8 552.2,256.8 554.2,257.2 557.8,261.8 559.8,262.8 562.2,261.8 564.8,262.2 566.2,261.8 568.8,259.8 570.2,259.8 571.8,261.8 573.2,261.8 574.8,260.8 578.2,259.8 583.2,254.8 587.2,252.2 588.8,253.8 588.8,255.8 589.2,256.2 588.2,258.8 588.2,260.2 589.2,262.8 589.2,265.8 589.8,266.8 588.2,269.8 594.2,270.8 596.2,272.8 597.8,276.2 597.2,277.2 598.8,275.8 603.2,275.8 604.2,274.8 609.2,272.2 614.2,271.8 614.8,272.2 614.8,276.2 615.8,278.2 615.8,281.8 616.8,283.8 616.8,286.8 615.2,289.2 615.2,291.8 616.2,292.8 617.8,292.8 620.8,291.2 623.2,291.2 625.8,289.2 628.2,295.2 627.8,295.8 628.2,300.8 629.8,302.2 632.8,302.2 638.8,308.8 643.8,311.8 646.2,314.2 647.2,316.8 651.2,320.2 651.8,322.2 657.8,322.8 664.2,316.8 670.2,317.2 670.8,317.8 675.2,317.8 678.8,315.2 680.2,311.8 681.2,312.2 684.8,312.2 687.8,309.8 692.2,308.8 692.2,305.8 691.2,302.8 682.2,292.2 679.2,285.2 679.8,274.8 679.2,274.2 679.2,271.2 678.2,267.8 678.2,264.2 682.8,255.8 683.2,247.8 677.8,247.8 674.8,251.2 673.8,250.2 671.2,250.2 668.8,252.8 665.8,254.2 660.8,254.8 660.2,254.2 658.8,254.2 652.2,250.8 646.8,245.8 644.2,245.8 640.8,247.8 636.8,246.8 631.2,242.2 628.8,237.2 627.2,236.2 626.2,236.2 623.2,234.8 620.2,234.8 618.2,236.8 614.8,236.2 611.8,234.8 608.2,231.8 592.8,227.8 591.2,226.8 588.8,226.2 583.8,223.2 581.2,223.2 577.8,225.2 573.2,225.2 572.8,224.8 568.2,224.2 560.8,221.8 558.2,221.8 554.8,220.8 551.2,220.8 544.2,225.8 537.8,225.8 534.2,223.8ZM593.8,249.8 595.2,251.2 595.8,253.8 592.8,256.8 592.2,258.2 590.8,258.2 590.2,257.8 590.8,256.2 590.8,251.2 592.2,249.8ZM145.2,210.2 144.2,212.8 143.8,218.8 148.2,232.2 148.2,234.2 146.8,236.2 142.2,239.2 127.8,246.2 119.8,251.2 111.2,253.2 108.8,255.8 108.8,258.8 109.8,262.2 114.8,269.2 118.2,276.8 122.2,282.2 131.2,281.8 133.8,283.2 136.2,288.2 136.2,289.8 137.8,293.2 138.2,296.2 141.8,302.8 144.2,310.8 146.8,315.2 140.2,327.8 140.2,339.2 139.8,339.8 137.8,348.8 134.2,355.2 134.8,363.8 132.2,368.8 130.2,374.8 130.2,377.8 136.8,379.8 143.2,383.2 143.8,384.2 141.8,385.8 134.2,387.2 128.2,391.2 128.2,394.2 127.8,394.8 127.8,404.2 128.2,404.8 128.2,407.8 133.8,408.2 134.8,409.2 136.2,414.2 139.8,414.2 141.2,413.8 141.2,406.8 143.8,405.2 145.2,405.2 151.2,408.2 153.8,408.2 157.2,409.2 169.8,409.2 175.2,404.2 180.8,401.2 192.2,401.8 192.8,401.2 196.2,401.2 197.2,400.8 197.8,401.2 200.2,401.2 200.8,401.8 204.8,402.2 208.8,408.2 217.2,412.8 226.2,415.8 231.2,416.2 232.2,411.8 233.8,410.2 237.8,408.2 244.2,408.2 247.8,410.2 250.2,410.2 251.8,409.2 258.8,407.8 273.8,402.8 278.2,400.8 285.8,399.8 288.2,395.8 292.2,394.2 298.8,394.8 303.8,398.2 309.2,399.2 308.8,398.8 308.2,395.2 306.2,392.8 305.2,389.8 302.8,386.8 301.2,381.8 299.8,381.8 295.2,379.2 293.8,379.8 292.2,382.2 291.2,381.8 290.8,380.2 289.2,379.8 285.2,379.8 281.2,382.8 279.8,383.2 277.8,385.2 276.2,385.2 275.2,383.8 270.8,379.8 268.8,374.8 265.2,371.8 263.2,370.8 263.2,367.2 258.2,363.2 255.2,363.2 254.8,362.8 251.8,362.8 250.8,363.2 250.2,362.8 250.2,360.8 252.2,359.2 254.8,359.2 257.8,360.8 261.2,360.8 262.8,359.8 263.2,357.8 261.8,355.8 258.8,354.2 257.8,352.2 255.2,349.8 250.2,346.8 246.8,346.8 241.8,342.8 241.8,339.2 240.2,337.2 240.2,335.8 243.2,334.2 247.8,335.8 249.8,335.8 253.2,331.8 256.2,330.2 259.2,332.8 264.8,334.8 265.2,335.8 264.8,336.8 264.8,340.8 267.2,343.2 274.2,344.2 278.8,341.8 283.2,341.8 284.2,341.2 285.2,339.2 287.8,336.8 292.2,335.8 296.2,333.8 301.8,334.2 302.8,331.2 304.8,329.8 305.8,327.2 306.8,326.2 311.2,326.8 314.8,324.8 318.2,324.2 322.2,322.2 324.2,322.2 326.2,323.2 330.2,323.2 331.8,322.8 333.2,321.2 333.2,319.8 331.2,317.8 331.2,314.8 333.2,311.2 333.2,309.2 331.8,307.2 331.8,304.8 336.2,302.8 335.8,299.8 336.2,299.2 340.2,299.2 343.2,296.8 345.2,296.8 347.8,298.8 353.2,299.2 354.2,298.2 354.2,297.2 350.8,291.8 348.2,291.2 345.2,289.8 342.8,289.8 340.2,288.2 339.2,286.8 339.2,285.8 341.8,283.8 344.2,277.8 344.2,276.2 343.2,274.2 340.8,272.2 341.2,270.2 345.8,263.8 354.8,262.2 356.2,260.2 356.2,256.8 357.8,254.2 357.8,252.2 356.2,250.2 354.2,250.2 353.8,249.8 351.8,249.8 348.8,248.8 345.8,248.8 342.8,246.2 340.2,240.8 341.2,238.2 341.8,230.8 342.2,229.2 347.2,225.2 353.2,228.8 356.8,232.2 356.8,236.8 353.8,240.8 353.8,241.8 355.8,243.8 356.2,247.2 358.8,248.8 361.2,251.2 363.2,252.2 364.8,252.2 366.2,250.8 366.2,245.8 365.8,244.8 362.2,241.8 361.8,239.2 363.2,234.8 365.2,233.2 366.2,233.8 366.8,236.2 367.8,236.8 367.8,234.2 366.2,233.2 366.2,230.2 368.2,227.8 368.2,224.2 368.8,223.2 370.8,221.8 371.8,220.2 371.8,217.8 370.2,217.8 367.8,215.8 368.2,214.8 368.2,211.2 360.8,211.8 356.8,210.2 351.8,210.2 351.2,210.8 347.8,210.8 347.2,211.2 343.2,209.8 337.2,209.2 336.8,208.8 319.8,209.2 319.2,209.8 314.2,209.8 312.8,212.2 306.8,212.2 305.2,214.8 298.8,215.2 298.2,214.8 290.8,213.8 287.8,212.2 276.2,208.8 262.8,209.2 262.2,209.8 258.8,209.8 258.2,210.2 251.2,209.8 250.8,209.2 245.2,209.2 239.8,211.2 232.2,211.2 231.8,210.8 224.2,210.2 223.8,209.8 220.8,209.8 220.2,209.2 210.8,207.8 203.2,204.2 200.2,203.8 194.8,201.8 185.8,201.2 185.2,200.8 166.8,200.8 163.8,201.8 158.8,202.2 150.2,206.2Z"/>
<path fill="#d9ff26" d="M628.2,329.8 618.2,329.2 616.8,328.2 613.8,328.2 611.8,329.8 608.8,335.8 610.8,338.8 610.8,342.2 609.8,343.2 609.2,342.8 606.8,342.8 605.8,345.8 605.8,347.8 606.2,348.2 608.2,348.2 610.8,345.2 614.2,347.8 615.8,350.8 615.2,351.2 612.2,351.2 611.8,351.8 608.2,352.2 605.8,350.8 604.8,348.2 603.2,349.2 603.2,351.2 604.8,353.2 603.2,356.8 603.8,357.2 607.2,357.8 608.8,359.8 608.8,362.8 608.2,363.2 606.8,363.2 603.2,361.8 602.2,360.8 601.2,360.8 600.2,361.8 599.8,365.2 597.8,367.8 597.8,369.8 601.8,373.2 608.2,375.2 608.2,371.8 609.2,370.8 614.2,369.8 620.8,367.2 620.8,365.8 619.8,364.2 619.8,363.2 617.2,360.2 616.8,358.8 617.2,357.8 619.2,356.2 619.2,353.8 622.2,350.2 624.8,350.2 625.2,350.8 626.2,345.8 627.2,343.8 633.2,336.8 632.2,333.8 630.8,331.8ZM327.2,320.2 327.2,321.2 329.2,321.8 330.2,320.8ZM327.2,305.2 326.8,306.8 328.2,309.2 328.2,310.8 327.2,312.2 327.2,313.2 327.8,313.2 330.2,311.2 330.2,309.8 329.2,308.2 329.2,307.2 328.2,305.8ZM360.2,244.2 359.8,244.8 359.8,246.2 362.2,249.2 363.8,249.8 364.8,248.8 364.2,246.2 363.2,245.2ZM359.8,233.8 358.8,235.2 359.2,236.2 360.8,235.8 360.8,234.2ZM535.8,225.8 535.2,228.2 537.8,233.8 541.2,237.2 542.8,239.8 543.2,239.8 546.2,243.2 548.2,244.2 551.2,253.2 552.2,254.2 555.2,255.2 557.2,257.2 558.8,259.8 560.2,259.8 562.2,258.8 563.2,259.2 565.8,259.2 571.8,253.2 573.8,253.2 574.8,254.2 576.2,257.2 577.8,257.2 579.2,255.8 580.2,252.2 578.2,250.8 573.8,245.8 576.8,243.2 577.2,241.2 579.2,239.2 580.2,239.2 581.8,240.8 583.2,244.8 586.8,245.8 588.2,248.2 589.8,248.2 591.2,246.8 594.2,247.2 595.8,248.8 597.8,253.2 598.8,254.2 600.2,254.8 603.2,253.8 607.2,249.2 608.8,249.2 609.8,250.2 609.8,253.2 608.8,254.2 605.8,254.2 604.8,254.8 602.8,257.2 600.8,257.8 597.2,261.8 593.2,261.8 592.2,264.2 593.2,266.8 598.8,272.2 601.8,272.2 602.2,271.8 605.2,272.2 612.2,268.8 617.2,270.2 618.8,271.8 617.8,273.8 617.8,281.2 619.2,283.2 622.2,283.2 625.8,284.2 627.2,285.2 627.8,287.2 629.2,289.8 629.2,292.2 630.8,294.8 630.8,298.8 634.2,300.8 639.8,306.8 643.2,308.2 646.8,311.8 648.2,315.8 652.8,319.8 653.8,322.8 657.8,322.8 664.2,316.8 670.2,317.2 670.8,317.8 675.2,317.8 678.8,315.2 680.2,311.8 681.2,312.2 684.8,312.2 687.8,309.8 692.2,308.8 692.2,305.8 691.2,302.8 682.2,292.2 679.2,285.2 679.8,274.8 679.2,274.2 679.2,271.2 678.2,267.8 678.2,264.2 682.8,255.8 683.2,247.8 677.8,247.8 674.8,251.2 673.8,250.2 671.2,250.2 668.8,252.8 665.8,254.2 660.8,254.8 660.2,254.2 658.8,254.2 652.2,250.8 646.8,245.8 644.2,245.8 640.8,247.8 636.8,246.8 632.8,243.8 630.2,246.8 627.8,247.2 626.2,244.8 626.2,241.2 627.8,239.8 629.8,239.8 630.2,240.2 628.2,236.8 623.2,234.8 620.2,234.8 618.2,236.8 614.8,236.2 611.8,234.8 608.2,231.8 592.8,227.8 591.2,226.8 588.8,226.2 583.8,223.2 581.2,223.2 577.8,225.2 573.2,225.2 572.8,224.8 568.2,224.2 560.8,221.8 558.2,221.8 554.8,220.8 551.2,220.8 544.2,225.8 537.8,225.8 537.2,225.2ZM635.8,278.8 637.8,280.2 636.2,282.2 635.2,282.2 633.8,281.2ZM622.8,269.2 624.8,270.8 627.2,271.2 628.8,272.8 628.8,275.2 626.2,278.2 622.2,278.2 621.2,277.8 620.2,276.2 619.2,272.2ZM611.2,253.8 613.2,251.8 614.8,251.8 615.2,252.2 618.8,251.8 619.8,253.8 617.8,257.2 617.8,259.2 619.8,262.8 621.2,262.8 621.8,262.2 625.2,261.8 627.8,259.8 629.2,261.8 629.2,263.8 627.2,265.8 623.8,266.2 623.2,266.8 621.2,265.8 619.2,263.8 612.2,265.8 610.8,263.8 613.8,260.2 614.8,258.2 614.2,257.2 611.2,254.8ZM625.8,247.8 627.8,249.2 630.2,252.8 630.2,253.8 628.2,257.8 626.8,259.2 625.2,258.8 623.2,256.8 623.2,255.8 624.8,253.2 624.8,248.8ZM605.8,242.2 607.2,243.8 607.2,246.2 605.2,249.2 603.2,249.2 602.8,248.8 602.8,247.2 603.8,245.2 603.8,243.8ZM597.2,238.2 597.2,238.8 593.2,242.2 591.8,242.2 590.2,240.8 591.8,238.8 593.2,238.8 595.8,237.8ZM145.2,210.2 144.2,212.8 143.8,218.8 148.2,232.2 148.2,234.2 146.8,236.2 142.2,239.2 127.8,246.2 119.8,251.2 111.2,253.2 108.8,255.8 108.8,258.8 109.8,262.2 114.8,269.2 118.2,276.8 122.2,282.2 131.2,281.8 133.8,283.2 136.2,288.2 136.2,289.8 137.8,293.2 138.2,296.2 141.8,302.8 144.2,310.8 146.8,315.2 140.2,327.8 140.2,339.2 139.8,339.8 137.8,348.8 134.2,355.2 134.8,363.8 132.2,368.8 130.2,374.8 130.2,377.8 136.8,379.8 143.2,383.2 143.8,384.2 141.8,385.8 134.2,387.2 128.2,391.2 128.2,394.2 127.8,394.8 127.8,404.2 128.2,404.8 128.2,407.8 133.8,408.2 134.8,409.2 136.2,414.2 139.8,414.2 141.2,413.8 141.2,406.8 143.8,405.2 145.2,405.2 151.2,408.2 153.8,408.2 157.2,409.2 169.8,409.2 175.2,404.2 180.8,401.2 192.2,401.8 192.8,401.2 196.2,401.2 197.2,400.8 197.8,401.2 200.2,401.2 200.8,401.8 204.8,402.2 208.8,408.2 217.2,412.8 226.2,415.8 231.2,416.2 232.2,411.8 233.8,410.2 237.8,408.2 244.2,408.2 247.8,410.2 250.2,410.2 251.8,409.2 258.8,407.8 273.8,402.8 278.2,400.8 285.8,399.8 288.2,395.8 292.2,394.2 298.8,394.8 302.8,397.8 305.2,398.8 305.2,396.2 303.2,392.8 302.2,388.2 297.8,383.2 296.2,382.8 292.8,386.2 292.2,388.2 290.8,389.8 287.8,389.8 286.8,388.2 289.2,385.2 288.8,383.2 286.8,381.8 284.8,381.8 283.8,382.2 281.8,384.8 281.8,386.2 282.8,387.8 282.8,388.8 279.2,391.2 277.2,391.8 275.8,388.2 274.2,386.8 272.2,383.2 269.8,382.2 268.2,380.8 267.2,376.2 266.2,375.2 265.2,375.2 263.8,376.2 262.2,375.2 260.2,370.8 260.2,368.2 258.8,366.2 256.2,365.2 253.8,365.2 250.2,367.2 247.8,366.8 246.8,365.8 246.8,364.8 247.8,363.2 247.8,358.8 248.2,357.2 249.8,356.2 252.8,355.8 254.2,354.8 255.2,353.2 254.2,351.8 248.2,349.2 245.2,349.8 242.2,345.8 241.2,345.8 238.8,347.2 237.2,347.2 235.2,345.2 235.2,344.2 238.8,341.2 238.8,339.8 237.2,338.8 236.2,337.2 240.2,333.8 242.2,332.8 244.8,332.2 246.2,331.2 247.8,331.2 248.2,331.8 251.8,331.2 254.8,329.2 257.2,328.8 260.8,331.8 266.2,331.8 267.2,332.2 268.2,333.8 268.2,336.2 266.8,338.8 269.8,337.8 270.8,338.8 271.8,341.2 273.8,342.8 275.2,342.2 278.8,339.2 282.8,339.2 287.2,335.2 289.8,335.2 292.8,334.2 298.2,328.2 299.2,327.8 299.8,328.2 301.8,328.2 303.2,326.8 303.8,324.2 306.2,321.8 307.8,317.2 310.8,313.8 311.8,313.8 313.8,316.8 313.2,320.2 311.2,322.2 311.2,323.2 312.8,323.2 316.8,320.8 321.2,320.8 323.2,319.2 323.2,317.8 321.8,314.8 322.8,312.2 322.8,310.2 321.8,309.2 317.8,309.2 317.2,309.8 313.8,308.8 312.8,309.2 309.8,309.2 306.8,305.2 306.8,303.8 309.8,300.8 311.2,300.8 313.8,302.8 316.2,302.8 316.8,303.2 319.8,303.2 321.8,301.2 322.2,301.8 323.8,301.8 325.8,303.2 327.2,303.2 327.2,302.8 329.8,301.2 331.2,299.2 329.8,294.8 331.2,293.2 332.8,293.2 337.8,296.8 339.8,296.8 341.8,295.2 342.8,292.8 340.8,291.2 337.8,291.2 335.8,292.2 334.2,292.2 333.2,291.2 333.2,286.8 334.8,285.2 335.8,285.2 339.8,282.8 341.8,280.2 341.8,276.8 338.8,275.2 337.2,273.8 337.2,272.8 341.8,266.2 343.8,262.2 342.2,258.2 342.2,256.8 343.2,255.2 347.8,253.2 348.8,252.2 348.8,251.2 342.8,250.2 341.2,248.8 340.2,245.2 338.2,242.2 338.2,239.2 339.8,236.8 339.8,233.8 340.2,233.2 340.8,228.8 342.8,225.2 343.2,221.2 344.2,219.8 346.8,217.8 349.8,220.2 353.2,220.2 354.2,222.2 354.2,224.2 355.8,226.8 356.8,226.8 358.8,225.2 364.2,224.8 366.8,220.2 366.2,219.2 363.8,218.2 362.8,217.2 359.2,216.8 358.8,215.8 360.2,214.8 361.8,214.8 363.8,213.8 365.8,211.2 360.8,211.8 356.8,210.2 353.8,210.2 355.2,215.8 357.2,216.8 357.2,217.8 355.8,219.2 353.8,219.8 352.8,217.8 349.2,214.8 347.8,210.8 347.2,211.2 343.2,209.8 337.2,209.2 336.8,208.8 328.8,208.8 328.2,209.2 314.2,209.8 312.8,212.2 306.8,212.2 305.2,214.8 298.8,215.2 298.2,214.8 290.8,213.8 287.8,212.2 276.2,208.8 262.8,209.2 262.2,209.8 258.8,209.8 258.2,210.2 251.2,209.8 250.8,209.2 245.2,209.2 239.8,211.2 232.2,211.2 231.8,210.8 224.2,210.2 223.8,209.8 220.8,209.8 220.2,209.2 210.8,207.8 203.2,204.2 200.2,203.8 194.8,201.8 185.8,201.2 185.2,200.8 166.8,200.8 163.8,201.8 158.8,202.2 150.2,206.2Z"/>
<path fill="#f2ff0d" d="M299.2,388.2 298.2,389.8 298.2,393.2 297.2,394.8 298.8,394.8 300.8,396.2 301.2,395.8 300.8,389.2ZM615.8,362.2 615.2,362.8 615.2,364.8 616.8,365.2 617.2,364.8 617.2,363.2ZM611.2,353.8 609.2,354.8 609.2,355.8 610.8,357.8 611.2,360.2 612.8,360.2 613.8,357.8 614.8,356.8 614.8,354.8 613.2,353.8ZM626.8,333.2 624.2,333.2 623.2,333.8 622.2,335.8 622.2,339.2 622.8,339.8 618.2,344.8 617.8,345.8 617.8,347.2 618.2,347.8 619.8,347.8 622.8,344.8 624.2,345.2 624.8,346.2 626.2,347.2 626.2,345.8 628.2,342.8 626.8,340.8 626.2,338.8 627.2,337.8 629.8,337.8 630.2,337.2ZM614.8,330.2 612.8,331.8 611.8,333.8 612.2,340.2 613.8,343.2 615.8,342.8 618.2,340.2 618.8,338.8 618.2,335.8 616.8,333.2 616.2,331.2ZM324.2,297.8 324.2,298.8 326.8,298.8 327.2,298.2 326.8,296.8 325.2,296.8ZM615.2,266.8 616.2,268.2 617.8,268.8 619.2,268.2 619.2,267.2 618.2,266.2ZM612.2,258.8 610.8,257.8 606.8,257.2 603.2,259.2 601.8,259.2 600.2,260.8 599.2,262.8 599.2,264.2 597.8,266.2 597.8,267.2 599.2,268.8 602.2,269.8 603.8,269.8 604.2,270.2 605.8,269.8 607.8,267.8 607.8,267.2 605.8,265.8 605.8,264.2 607.2,262.8 611.8,260.2ZM635.2,245.8 632.8,250.8 630.8,257.2 631.8,264.8 629.8,267.2 629.2,269.2 632.2,274.8 630.2,276.8 629.8,278.8 631.2,278.8 632.8,277.2 632.8,275.8 634.8,274.2 636.2,274.8 638.2,276.8 641.8,276.8 643.8,278.8 643.8,280.2 640.2,282.8 640.2,284.2 642.2,286.2 642.2,287.8 640.2,290.8 640.8,298.8 638.2,299.8 637.2,300.8 637.2,301.8 639.8,304.8 644.8,307.2 649.2,311.8 649.8,315.2 650.8,316.2 652.8,316.8 654.2,318.2 655.2,322.2 655.8,322.8 657.8,322.8 664.2,316.8 670.2,317.2 670.8,317.8 675.2,317.8 678.8,315.2 680.2,311.8 681.2,312.2 684.8,312.2 687.8,309.8 692.2,308.8 692.2,305.8 691.2,302.8 682.2,292.2 679.2,285.2 679.8,274.8 679.2,274.2 679.2,271.2 678.2,267.8 678.2,264.2 682.8,255.8 683.2,247.8 677.8,247.8 674.8,251.2 673.8,250.2 671.2,250.2 668.8,252.8 665.8,254.2 660.8,254.8 660.2,254.2 658.8,254.2 652.2,250.8 646.8,245.8 644.2,245.8 640.8,247.8 637.8,247.2ZM581.2,223.2 582.2,223.2 584.8,226.2 584.2,227.2 582.2,227.8 581.2,228.8 583.2,231.8 582.8,236.2 584.2,238.2 584.8,242.2 585.8,242.8 585.8,239.8 586.8,237.8 588.8,235.8 589.2,236.2 591.8,236.2 592.8,236.8 596.8,235.2 599.2,236.8 600.2,239.2 600.2,241.8 598.2,243.8 596.8,243.2 594.8,243.8 594.8,244.8 595.8,245.2 597.2,244.8 598.2,245.2 600.8,245.2 601.8,243.8 601.8,242.8 603.8,240.8 608.8,239.8 609.8,240.8 609.8,242.2 611.2,244.2 612.2,244.2 614.8,246.2 616.2,246.8 620.2,243.2 623.2,244.8 624.2,243.8 624.2,242.2 626.2,237.8 627.8,236.8 623.2,234.8 620.2,234.8 618.2,236.8 614.8,236.2 611.8,234.8 608.2,231.8 599.2,229.8 597.2,228.8 595.8,228.8 591.2,226.8 588.8,226.2 583.8,223.2ZM551.2,220.8 545.2,225.2 542.8,225.8 542.8,227.2 545.2,229.2 548.2,229.8 550.2,231.8 549.8,234.8 550.8,235.8 552.8,235.8 554.2,237.2 557.8,237.8 559.2,239.2 558.8,240.8 555.8,243.8 555.2,245.8 552.8,247.8 552.2,250.2 553.2,252.2 555.8,253.2 560.2,256.8 563.2,256.2 564.8,255.2 565.2,253.2 566.8,251.8 568.8,251.8 570.8,249.8 570.8,246.2 569.8,243.8 568.2,242.2 568.2,240.8 570.8,239.2 574.2,240.2 575.8,238.8 577.8,235.2 577.8,233.2 575.2,227.2 575.8,225.8 575.2,225.2 570.2,224.8 569.8,224.2 568.8,224.2 567.2,225.8 564.8,225.8 563.2,224.2 562.8,222.2 555.2,221.2 554.8,220.8ZM148.8,207.2 145.2,210.2 143.8,214.8 143.8,218.8 144.2,219.2 144.8,222.8 148.2,232.2 148.2,234.2 146.8,236.2 142.2,239.2 127.8,246.2 119.8,251.2 111.2,253.2 108.8,255.8 108.8,258.8 109.8,262.2 114.8,269.2 118.2,276.8 122.2,282.2 131.2,281.8 133.8,283.2 136.2,288.2 136.2,289.8 137.8,293.2 138.2,296.2 141.8,302.8 144.2,310.8 146.8,315.2 140.2,327.8 140.2,339.2 139.8,339.8 137.8,348.8 134.2,355.2 134.8,363.8 132.2,368.8 130.2,374.8 130.2,377.8 136.8,379.8 143.2,383.2 143.8,384.2 141.8,385.8 134.2,387.2 128.2,391.2 128.2,394.2 127.8,394.8 127.8,404.2 128.2,404.8 128.2,407.8 133.8,408.2 134.8,409.2 136.2,414.2 139.8,414.2 141.2,413.8 141.2,406.8 143.8,405.2 145.2,405.2 151.2,408.2 153.8,408.2 157.2,409.2 169.8,409.2 175.2,404.2 180.8,401.2 192.2,401.8 192.8,401.2 196.2,401.2 197.2,400.8 197.8,401.2 200.2,401.2 200.8,401.8 204.8,402.2 208.8,408.2 217.2,412.8 226.2,415.8 231.2,416.2 232.2,411.8 233.8,410.2 237.8,408.2 244.2,408.2 247.8,410.2 250.2,410.2 251.8,409.2 258.8,407.8 273.8,402.8 278.2,400.8 285.8,399.8 287.8,396.2 289.2,395.2 290.2,395.2 288.8,393.8 287.2,393.8 284.8,392.8 282.2,392.8 280.8,393.8 280.8,395.2 281.2,395.2 282.2,396.8 280.8,397.8 278.8,395.2 277.2,394.8 274.8,392.2 274.2,390.8 271.2,387.8 270.2,384.2 267.2,382.8 264.2,379.8 262.8,379.2 260.8,377.2 258.8,372.2 258.8,370.2 257.8,368.8 256.2,368.2 249.8,368.2 249.2,368.8 244.8,369.2 243.2,367.8 241.8,362.8 242.2,361.8 243.8,360.8 243.8,359.2 241.8,355.8 240.8,355.2 239.8,353.8 241.2,351.2 241.2,349.8 240.8,349.2 236.8,348.8 233.8,346.8 233.2,343.8 234.8,340.8 232.8,337.8 232.2,335.2 233.8,333.8 234.8,334.2 237.2,334.2 240.2,331.8 242.8,331.2 245.8,328.8 247.8,328.8 249.8,329.8 252.2,329.8 257.2,326.8 258.2,326.8 260.8,329.2 266.2,329.2 269.2,330.8 272.2,335.8 273.8,337.2 281.8,337.2 284.2,336.2 287.2,333.8 290.2,333.8 292.2,332.2 292.8,330.2 297.8,324.8 299.8,323.8 301.2,320.2 301.2,317.8 301.8,317.2 304.2,318.8 305.8,317.2 306.2,307.8 304.2,305.2 304.2,299.8 305.8,298.8 307.8,298.8 310.2,297.2 316.2,297.8 316.8,298.2 318.2,297.8 320.2,293.8 323.2,291.2 324.8,290.8 329.2,290.8 330.2,290.2 330.8,289.2 329.2,285.8 330.8,282.8 331.2,279.8 333.8,275.8 333.2,272.8 337.8,269.2 339.2,265.8 339.2,264.2 340.8,261.8 340.2,256.2 338.2,252.8 338.8,247.8 336.2,244.2 336.2,242.2 335.8,241.8 335.8,239.2 338.2,235.8 338.2,233.2 338.8,232.8 338.8,230.8 337.8,228.2 340.8,224.2 342.8,218.2 346.2,214.2 346.2,210.8 343.2,209.8 341.2,209.8 340.8,209.2 337.2,209.2 336.8,208.8 328.8,208.8 328.2,209.2 314.2,209.8 312.8,212.2 306.8,212.2 305.2,214.8 301.8,214.8 301.2,215.2 298.8,215.2 298.2,214.8 290.8,213.8 287.8,212.2 276.2,208.8 262.8,209.2 262.2,209.8 258.8,209.8 258.2,210.2 251.2,209.8 250.8,209.2 245.2,209.2 239.8,211.2 232.2,211.2 231.8,210.8 224.2,210.2 223.8,209.8 220.8,209.8 217.8,208.8 212.8,208.2 208.2,206.8 203.2,204.2 200.2,203.8 196.8,202.2 191.8,201.8 191.2,201.2 185.8,201.2 185.2,200.8 166.8,200.8 166.2,201.2 157.2,202.8ZM215.8,337.8 216.8,337.8 217.8,338.8 217.8,339.8 216.8,340.8 214.8,339.2ZM299.8,309.8 301.2,309.8 302.2,310.8 302.2,312.2 300.8,314.2 299.8,314.2 298.2,312.2 298.2,311.2ZM324.8,277.2 325.8,277.2 327.2,278.8 326.2,281.2 325.2,282.2 324.2,282.2 323.2,281.2 323.2,278.8Z"/>
<path fill="#fff200" d="M330.8,269.2 328.2,267.8 322.2,269.2 321.2,271.2 321.8,276.2 324.8,274.8 327.8,274.8 329.2,275.8 330.8,275.8 330.8,274.8 329.8,273.2 330.8,271.2ZM559.8,250.2 558.8,251.8 558.8,253.2 559.8,254.2 561.2,254.2 561.8,253.8 561.8,251.2 560.8,250.2ZM637.2,247.2 635.2,250.8 635.2,252.8 634.2,255.2 634.2,258.8 633.8,259.2 634.2,267.2 633.8,267.8 633.8,269.8 635.8,270.8 638.2,273.8 643.2,274.8 646.2,276.8 647.8,276.8 649.8,278.8 649.8,280.8 648.8,281.8 643.8,283.8 644.2,287.8 641.2,292.8 641.2,294.8 643.2,297.8 643.2,299.8 641.8,301.2 640.2,301.8 640.2,302.2 642.8,303.8 645.8,306.8 650.2,309.2 656.2,314.8 656.8,315.8 656.8,319.2 658.2,322.2 664.2,316.8 670.2,317.2 670.8,317.8 675.2,317.8 678.8,315.2 680.2,311.8 681.2,312.2 684.8,312.2 687.8,309.8 692.2,308.8 692.2,305.8 691.2,302.8 682.2,292.2 679.2,285.2 679.8,274.8 679.2,274.2 679.2,271.2 678.2,267.8 678.2,264.2 682.8,255.8 682.8,252.8 683.2,252.2 683.2,248.8 682.8,247.8 677.8,247.8 674.8,251.2 673.8,250.2 671.2,250.2 668.8,252.8 665.8,254.2 660.8,254.8 660.2,254.2 658.8,254.2 652.2,250.8 646.8,245.8 644.2,245.8 640.8,247.8ZM655.8,284.2 657.2,285.8 657.2,288.8 655.8,290.8 654.2,290.8 652.8,289.2 652.8,287.8 653.8,285.8ZM656.8,267.8 659.2,265.2 660.8,265.2 661.2,264.8 662.8,265.2 664.8,267.2 664.8,268.2 663.8,269.2 657.2,268.8ZM590.8,226.8 592.8,229.2 594.8,229.8 596.2,231.2 596.8,232.8 599.2,234.8 602.8,238.8 605.2,238.8 607.2,237.2 609.2,237.2 613.8,239.8 618.2,240.2 620.8,238.8 622.2,238.8 622.8,239.2 623.8,238.8 625.8,235.8 623.2,234.8 620.2,234.8 618.2,236.8 614.8,236.2 611.8,234.8 608.2,231.8 599.2,229.8ZM555.8,225.8 555.8,230.8 556.8,232.8 562.8,232.2 563.8,233.8 563.8,235.8 563.2,236.2 563.8,237.2 565.2,237.2 567.8,233.8 569.2,234.8 569.2,235.8 570.2,237.2 573.2,236.8 575.8,234.2 575.8,232.2 574.8,231.2 572.2,231.2 571.8,231.8 569.8,231.8 569.2,231.2 569.2,229.2 570.2,227.2 563.8,227.8 559.2,224.2 557.2,224.2ZM553.8,220.8 551.2,220.8 549.8,221.8 548.2,224.2 546.2,224.8 545.8,225.8 546.2,226.8 547.2,227.2 551.8,227.2 552.8,226.8 553.2,225.8 553.2,221.2ZM148.8,207.2 145.2,210.2 143.8,214.8 143.8,218.8 144.2,219.2 144.8,222.8 148.2,232.2 148.2,234.2 146.8,236.2 142.2,239.2 127.8,246.2 119.8,251.2 111.2,253.2 108.8,255.8 108.8,258.8 109.8,262.2 114.8,269.2 118.2,276.8 122.2,282.2 131.2,281.8 133.8,283.2 136.2,288.2 136.2,289.8 137.8,293.2 138.2,296.2 141.8,302.8 144.2,310.8 146.8,315.2 140.2,327.8 140.2,339.2 139.8,339.8 137.8,348.8 134.2,355.2 134.8,363.8 132.2,368.8 130.2,374.8 130.2,377.8 136.8,379.8 143.2,383.2 143.8,384.2 141.8,385.8 134.2,387.2 128.2,391.2 128.2,394.2 127.8,394.8 127.8,404.2 128.2,404.8 128.2,407.8 133.8,408.2 134.8,409.2 136.2,414.2 139.8,414.2 141.2,413.8 141.2,406.8 143.8,405.2 145.2,405.2 151.2,408.2 153.8,408.2 157.2,409.2 169.8,409.2 175.2,404.2 180.8,401.2 192.2,401.8 192.8,401.2 196.2,401.2 197.2,400.8 197.8,401.2 200.2,401.2 200.8,401.8 204.8,402.2 208.8,408.2 217.2,412.8 226.2,415.8 231.2,416.2 232.2,411.8 233.8,410.2 237.8,408.2 244.2,408.2 247.8,410.2 250.2,410.2 251.8,409.2 258.8,407.8 273.8,402.8 278.2,400.8 285.8,399.8 287.8,396.2 286.8,396.8 284.2,399.8 281.8,400.2 278.8,399.2 269.8,389.8 268.8,385.2 267.8,384.2 265.2,383.2 259.8,378.8 258.2,375.8 256.2,373.8 255.2,370.2 254.2,369.8 249.8,369.8 247.2,371.2 244.8,371.2 242.2,369.8 240.2,364.2 238.2,363.8 236.2,362.2 236.2,359.8 236.8,359.2 236.8,351.2 236.2,350.2 232.2,348.2 231.2,344.2 230.2,343.2 226.2,343.2 224.2,341.8 219.8,343.8 214.2,343.2 212.2,342.2 209.8,338.8 207.8,338.8 206.2,336.8 208.2,334.8 210.2,333.8 213.2,333.8 215.2,334.8 218.8,335.2 221.8,338.8 223.8,339.8 230.2,339.8 230.8,339.2 230.8,334.8 230.2,333.8 230.8,333.2 230.8,331.8 233.2,329.8 235.2,330.2 237.8,328.8 242.2,329.2 245.8,327.2 247.8,327.2 251.2,328.8 253.8,327.8 258.2,323.8 264.2,324.2 269.2,327.2 272.2,327.8 273.2,328.8 273.2,330.2 272.8,330.8 273.2,333.2 276.8,334.2 278.8,335.8 282.2,335.8 283.8,334.8 285.2,332.8 290.2,331.8 290.8,330.8 290.8,328.2 293.2,326.2 297.2,321.8 297.2,318.2 296.2,316.2 292.2,314.8 291.2,313.8 291.2,312.8 293.2,311.8 296.8,308.2 298.2,305.8 301.8,304.2 301.8,301.8 300.8,300.8 300.8,296.8 301.2,295.8 302.8,294.8 304.2,294.8 306.2,296.2 307.8,296.2 309.2,295.2 312.2,291.2 314.8,291.2 315.8,290.2 315.8,288.2 317.8,285.8 319.2,285.2 319.8,285.8 321.8,285.8 321.2,284.2 319.2,282.8 318.2,280.8 316.8,279.8 315.2,277.8 314.2,275.2 314.8,272.2 322.2,265.2 323.2,265.2 324.8,264.2 330.2,264.2 333.8,265.8 335.2,265.8 335.8,264.8 335.8,263.2 337.2,260.8 337.2,256.8 336.2,254.2 336.2,250.2 335.2,249.2 334.8,249.8 332.8,249.8 330.8,248.8 329.8,247.2 329.8,245.8 332.8,242.8 332.8,240.2 336.2,235.2 336.2,232.2 335.2,230.2 335.2,226.2 336.8,224.8 338.2,224.2 339.8,222.2 339.2,220.8 337.2,220.8 335.2,218.8 335.2,216.8 337.2,215.2 338.2,215.8 341.8,215.8 343.2,214.8 344.8,212.2 344.8,210.2 341.2,209.8 340.8,209.2 337.2,209.2 336.8,208.8 328.8,208.8 328.2,209.2 314.2,209.8 312.8,212.2 306.8,212.2 305.2,214.8 298.8,215.2 298.2,214.8 290.8,213.8 287.8,212.2 276.2,208.8 262.8,209.2 262.2,209.8 258.8,209.8 258.2,210.2 251.2,209.8 250.8,209.2 245.2,209.2 239.8,211.2 232.2,211.2 231.8,210.8 224.2,210.2 223.8,209.8 220.8,209.8 220.2,209.2 210.8,207.8 203.2,204.2 200.2,203.8 194.8,201.8 185.8,201.2 185.2,200.8 166.8,200.8 166.2,201.2 157.2,202.8ZM290.8,319.8 291.8,318.2 293.8,318.2 294.2,318.8 293.2,320.2 291.2,320.2ZM276.2,309.2 277.8,310.2 278.2,312.8 281.2,312.8 281.8,313.2 281.8,316.2 282.2,317.2 285.8,320.8 285.2,322.2 283.8,323.8 281.8,323.8 279.2,321.8 275.2,320.8 273.8,319.8 273.2,317.8 275.2,314.2 274.8,310.8ZM331.2,256.8 332.8,255.8 334.2,256.8 334.2,257.8 333.8,258.2 332.2,258.2ZM321.2,235.8 321.8,235.2 324.2,235.8 326.8,237.8 326.8,238.8 326.2,239.2 324.2,238.8 322.8,237.8Z"/>
<path fill="#ffd900" d="M271.2,322.8 270.8,324.2 271.8,325.2 275.8,326.8 277.8,328.8 278.2,332.8 279.8,334.2 281.8,334.2 282.8,332.8 282.8,330.8 279.8,327.2 280.2,326.2 279.8,324.8 278.8,323.8 276.2,322.8 274.2,322.8 273.8,322.2ZM644.8,291.8 643.2,293.2 643.2,294.8 645.8,297.8 645.2,301.2 646.2,303.2 647.8,303.8 649.2,301.8 648.8,297.8 650.8,294.8 650.8,293.2 647.2,292.8 646.2,291.8ZM641.2,247.2 639.8,249.8 640.2,252.8 638.8,256.2 638.2,259.8 636.8,262.2 636.8,266.2 637.2,266.8 640.2,266.8 642.2,268.8 643.2,272.2 645.2,273.8 647.2,272.8 650.8,272.2 652.2,271.2 652.8,270.2 652.8,267.8 655.8,264.8 656.2,262.2 658.2,259.8 658.8,256.8 661.2,254.8 662.8,254.8 663.8,255.8 664.8,260.2 669.8,260.2 670.8,260.8 671.8,262.2 671.8,264.8 674.2,266.8 675.8,268.8 675.8,271.2 673.8,273.8 672.2,273.8 671.2,272.8 670.8,270.8 669.8,269.8 668.8,269.8 667.2,270.8 663.8,276.2 661.2,276.2 658.8,274.8 657.2,274.8 655.2,276.2 654.8,277.8 654.8,279.8 656.8,280.2 659.8,284.8 659.8,286.8 658.2,290.2 658.2,293.2 658.8,294.2 656.2,297.2 652.8,297.8 651.2,299.2 650.8,301.2 652.8,305.8 653.8,306.8 653.8,309.2 658.2,314.8 658.2,318.8 659.2,320.8 664.2,316.8 670.2,317.2 670.8,317.8 675.2,317.8 678.8,315.2 680.2,311.8 681.2,312.2 684.8,312.2 687.8,309.8 692.2,308.8 692.2,305.8 691.2,302.8 682.2,292.2 679.2,285.2 679.8,274.8 679.2,274.2 679.2,271.2 678.2,267.8 678.2,264.2 682.8,255.8 682.8,252.8 681.2,252.8 679.8,251.2 679.2,247.8 677.8,247.8 674.8,251.2 673.8,250.2 671.2,250.2 668.8,252.8 665.8,254.2 660.8,254.8 660.2,254.2 658.8,254.2 652.2,250.8 646.8,245.8 644.2,245.8ZM603.8,232.2 603.8,234.8 604.8,235.8 605.2,235.2 607.8,235.2 614.2,237.8 618.2,237.8 624.2,235.2 623.2,234.8 620.2,234.8 618.2,236.8 617.2,236.8 616.8,236.2 613.2,235.8 608.2,231.8 604.2,230.8ZM314.2,224.8 314.2,225.8 315.2,226.2 317.8,226.2 317.2,224.8ZM328.8,208.8 330.2,209.8 332.8,210.2 335.2,212.2 336.8,212.2 338.2,209.2 336.8,208.8ZM150.2,206.2 145.2,210.2 143.8,214.8 143.8,218.8 144.2,219.2 144.8,222.8 148.2,232.2 148.2,234.2 146.8,236.2 142.2,239.2 127.8,246.2 119.8,251.2 111.2,253.2 108.8,255.8 108.8,258.8 109.8,262.2 114.8,269.2 118.2,276.8 122.2,282.2 131.2,281.8 133.8,283.2 136.2,288.2 136.2,289.8 137.8,293.2 138.2,296.2 141.8,302.8 144.2,310.8 146.8,315.2 140.2,327.8 140.2,339.2 139.8,339.8 137.8,348.8 134.2,355.2 134.8,363.8 132.2,368.8 130.2,374.8 130.2,377.8 136.8,379.8 143.2,383.2 143.8,384.2 141.8,385.8 134.2,387.2 128.2,391.2 128.2,394.2 127.8,394.8 127.8,404.2 128.2,404.8 128.2,407.8 133.8,408.2 134.8,409.2 136.2,414.2 139.8,414.2 141.2,413.8 141.2,406.8 143.8,405.2 145.2,405.2 151.2,408.2 153.8,408.2 157.2,409.2 169.8,409.2 175.2,404.2 180.8,401.2 192.2,401.8 192.8,401.2 196.2,401.2 197.2,400.8 197.8,401.2 200.2,401.2 200.8,401.8 204.8,402.2 208.8,408.2 217.2,412.8 226.2,415.8 231.2,416.2 232.2,411.8 233.8,410.2 237.8,408.2 244.2,408.2 247.8,410.2 250.2,410.2 253.2,408.8 258.8,407.8 272.2,403.2 272.8,402.8 272.8,401.2 272.2,400.8 273.8,398.2 273.2,397.8 270.8,397.8 269.2,395.8 268.8,392.8 267.2,389.2 267.2,386.2 256.8,378.2 254.2,374.8 253.8,372.2 252.8,371.2 250.2,371.2 248.2,373.2 244.8,372.8 241.8,371.2 239.8,369.2 239.8,366.8 238.8,365.8 236.2,365.2 233.8,363.2 233.8,353.8 232.2,351.8 228.8,349.8 229.8,347.8 229.8,346.2 229.2,345.8 226.8,345.8 225.8,346.2 223.2,344.8 221.2,344.8 217.2,347.2 214.8,345.2 212.2,344.2 210.2,342.2 206.2,340.8 204.2,338.2 203.2,335.2 204.8,333.8 207.2,333.2 211.2,331.2 213.2,331.2 215.2,332.2 216.8,332.2 217.2,331.8 217.2,329.2 222.2,326.2 223.8,326.2 224.2,326.8 221.8,330.8 221.8,332.2 222.8,333.8 227.2,333.8 229.2,330.2 229.2,328.8 230.2,326.2 232.2,326.2 233.8,327.2 236.2,327.2 240.8,323.8 241.8,323.8 243.8,325.8 247.8,325.8 250.8,327.2 251.8,327.2 257.2,322.2 260.8,320.8 261.8,319.8 264.2,319.8 264.8,320.2 268.2,320.2 269.2,319.8 272.8,315.2 272.2,310.2 273.8,306.2 275.8,304.8 277.2,304.8 279.2,306.8 284.2,309.2 285.2,309.2 288.2,307.2 290.2,307.2 291.2,308.2 292.8,308.2 293.2,307.8 292.8,304.2 295.2,301.8 297.8,301.2 298.2,300.2 298.2,297.8 298.8,297.2 298.8,291.2 298.2,290.2 294.2,286.8 294.2,284.2 295.2,283.2 302.2,283.8 305.8,286.8 307.8,290.8 308.8,290.2 308.8,288.8 308.2,288.2 308.2,281.8 307.2,280.8 300.8,281.2 298.8,280.2 296.2,280.2 295.2,279.2 295.8,276.8 299.2,273.2 300.8,273.8 302.2,276.2 304.2,276.8 305.8,273.2 308.2,271.2 308.2,270.2 309.8,268.2 314.8,265.8 318.2,265.8 319.2,265.2 321.2,263.2 322.2,259.8 323.8,257.8 324.2,255.8 326.8,253.2 329.8,252.2 329.8,251.2 327.2,248.8 326.2,246.8 321.2,247.2 317.8,246.2 316.8,245.2 316.8,243.8 317.8,242.8 322.8,243.2 323.8,242.2 323.8,240.8 317.8,235.8 316.8,233.2 309.8,226.8 309.8,225.2 312.8,223.2 312.8,222.2 314.2,220.2 315.2,219.8 316.8,220.2 318.8,222.2 320.2,222.2 320.8,222.8 320.2,225.8 323.8,228.2 323.8,230.8 323.2,231.2 323.8,232.8 326.2,235.2 329.8,236.8 331.8,236.8 333.8,234.2 333.2,233.8 333.2,229.8 332.8,228.8 330.2,228.2 329.8,226.8 334.2,221.8 332.8,217.2 332.8,215.8 331.8,214.8 328.8,213.8 326.2,213.8 323.8,216.8 321.8,217.8 317.2,217.8 315.2,215.8 314.8,214.2 316.2,210.8 315.8,210.2 313.8,211.2 313.2,212.2 313.8,215.2 312.8,216.2 311.8,215.2 311.8,213.8 309.8,212.2 306.8,212.2 305.2,214.8 298.8,215.2 298.2,214.8 290.8,213.8 287.8,212.2 276.2,208.8 262.8,209.2 262.2,209.8 258.8,209.8 258.2,210.2 251.2,209.8 250.8,209.2 245.2,209.2 239.8,211.2 232.2,211.2 231.8,210.8 224.2,210.2 223.8,209.8 220.8,209.8 217.8,208.8 212.8,208.2 208.2,206.8 203.2,204.2 200.2,203.8 196.8,202.2 191.8,201.8 191.2,201.2 185.8,201.2 185.2,200.8 166.8,200.8 163.8,201.8 158.8,202.2ZM225.2,349.2 226.8,348.8 227.8,349.8 227.8,350.8 226.2,351.8 225.2,350.8Z"/>
<path fill="#ffbf00" d="M679.8,275.8 677.2,276.8 672.2,276.8 669.2,275.8 668.2,279.2 666.2,280.8 664.8,280.2 661.8,280.2 661.2,280.8 661.2,282.8 662.2,284.2 662.2,286.2 660.8,288.2 660.2,290.2 663.2,292.8 663.2,294.8 660.2,296.2 659.2,297.8 654.8,301.8 654.8,304.8 656.2,307.2 656.8,309.8 659.2,313.2 659.2,318.2 660.2,319.8 664.2,316.8 670.2,317.2 670.8,317.8 675.2,317.8 678.8,315.2 680.2,311.8 681.2,312.2 684.8,312.2 687.8,309.8 692.2,308.8 692.2,305.8 691.2,302.8 682.2,292.2 680.2,288.2 679.2,285.2ZM677.2,257.2 678.2,258.2 680.8,259.2 682.8,255.2 677.8,255.2 677.2,255.8ZM676.2,250.8 674.8,251.2 673.8,250.2 671.2,250.2 668.8,252.8 666.2,253.8 666.2,255.2 670.2,257.8 671.8,257.8 672.2,255.2 673.8,253.8 676.2,253.2ZM644.2,245.8 642.8,246.8 642.8,251.8 641.2,255.2 641.2,257.8 642.2,257.8 644.2,259.2 644.2,260.8 643.8,261.2 643.8,266.8 645.2,268.2 646.8,268.2 648.8,267.2 648.8,266.2 650.2,263.8 653.2,262.8 654.8,261.2 656.2,257.2 659.8,254.2 658.8,254.2 652.2,250.8 646.8,245.8ZM329.2,231.8 327.8,232.8 327.8,233.8 328.8,234.2 330.2,233.2 330.2,232.2ZM308.2,230.8 308.2,232.8 308.8,233.2 310.2,233.2 310.8,232.8 310.8,231.2 309.2,230.2ZM330.2,218.8 328.8,217.8 327.2,218.8 324.8,219.2 324.2,220.8 324.8,221.2 325.8,220.8 325.8,220.2 327.8,218.8 330.2,219.8ZM150.2,206.2 145.2,210.2 143.8,214.8 143.8,218.8 144.2,219.2 144.8,222.8 148.2,232.2 148.2,234.2 146.8,236.2 142.2,239.2 127.8,246.2 119.8,251.2 111.2,253.2 108.8,255.8 108.8,258.8 109.8,262.2 114.8,269.2 118.2,276.8 122.2,282.2 131.2,281.8 133.8,283.2 136.2,288.2 136.2,289.8 137.8,293.2 138.2,296.2 141.8,302.8 144.2,310.8 146.8,315.2 140.2,327.8 140.2,339.2 139.8,339.8 137.8,348.8 134.2,355.2 134.8,363.8 132.2,368.8 130.2,374.8 130.2,377.8 136.8,379.8 143.2,383.2 143.8,384.2 141.8,385.8 134.2,387.2 128.2,391.2 128.2,394.2 127.8,394.8 127.8,404.2 128.2,404.8 128.2,407.8 133.8,408.2 134.8,409.2 136.2,414.2 139.8,414.2 141.2,413.8 141.2,406.8 143.8,405.2 145.2,405.2 151.2,408.2 153.8,408.2 157.2,409.2 169.8,409.2 175.2,404.2 180.8,401.2 192.2,401.8 192.8,401.2 196.2,401.2 197.2,400.8 197.8,401.2 200.2,401.2 200.8,401.8 204.8,402.2 208.8,408.2 217.2,412.8 226.2,415.8 231.2,416.2 232.2,411.8 233.8,410.2 237.8,408.2 244.2,408.2 247.8,410.2 250.2,410.2 253.2,408.8 258.8,407.8 269.2,404.2 268.2,403.8 267.2,401.8 266.8,397.8 264.8,394.8 264.8,393.8 265.8,392.2 265.8,390.2 265.2,389.8 265.2,387.8 263.8,385.8 259.8,382.2 257.8,381.8 255.2,380.2 252.8,377.2 249.2,376.8 244.8,373.8 238.2,371.2 236.2,368.2 235.2,367.8 232.8,367.8 228.8,366.2 227.8,364.8 227.8,361.8 226.2,359.8 224.8,359.8 223.8,358.8 223.8,355.8 224.2,354.8 221.8,349.8 222.2,349.2 222.2,347.2 221.2,347.8 221.2,348.8 219.8,350.2 217.8,350.2 213.8,348.8 211.8,348.8 210.2,347.8 209.2,345.8 207.8,345.2 205.8,343.2 202.8,338.8 201.8,338.2 198.8,338.2 197.8,336.2 198.2,334.8 203.8,329.8 205.2,326.8 209.2,323.2 211.8,323.2 215.2,325.2 218.2,325.2 221.8,324.2 223.2,323.2 225.8,323.2 226.2,323.8 232.8,323.2 234.8,325.2 236.2,325.2 238.2,323.2 238.8,320.2 239.8,319.2 240.8,319.2 245.8,323.8 252.2,324.8 256.2,320.2 262.8,317.2 265.2,318.2 268.2,318.2 269.8,316.8 270.8,313.8 270.2,313.2 270.2,306.2 269.8,305.2 271.2,303.8 273.2,303.2 275.8,301.2 278.2,301.2 281.8,300.2 287.8,300.2 289.2,299.2 289.2,297.8 290.8,296.2 294.2,298.2 296.2,296.8 296.2,293.2 295.2,291.2 294.8,291.2 292.2,288.2 291.8,284.2 290.2,280.8 290.2,279.8 292.8,277.8 294.8,274.2 294.8,272.2 293.8,269.2 294.2,267.8 297.8,265.2 298.8,262.2 300.2,261.2 302.2,261.2 304.2,263.8 304.2,265.8 306.8,266.8 308.2,266.8 311.8,263.8 313.8,263.8 316.8,262.2 314.8,260.2 315.2,258.2 319.2,255.8 324.2,251.2 324.2,249.8 321.2,249.8 320.8,249.2 315.8,248.2 312.8,245.8 312.2,242.8 313.2,240.8 314.8,239.2 317.2,239.2 317.2,238.2 315.2,235.8 313.8,235.2 311.2,236.2 308.2,236.2 304.8,232.2 307.2,229.8 307.2,228.2 305.8,223.8 308.2,221.8 308.2,220.8 305.8,217.8 304.8,214.8 298.8,215.2 298.2,214.8 292.8,214.2 276.2,208.8 262.8,209.2 262.2,209.8 258.8,209.8 258.2,210.2 251.2,209.8 250.8,209.2 245.2,209.2 239.8,211.2 232.2,211.2 231.8,210.8 224.2,210.2 223.8,209.8 220.8,209.8 217.8,208.8 212.8,208.2 208.2,206.8 203.2,204.2 200.2,203.8 196.8,202.2 191.8,201.8 191.2,201.2 185.8,201.2 185.2,200.8 166.8,200.8 163.8,201.8 158.8,202.2ZM279.8,293.2 280.8,294.2 280.8,295.2 276.2,298.2 275.8,297.2 277.8,294.8ZM287.2,278.2 288.8,277.2 290.2,279.2 289.8,279.8 288.2,279.8ZM288.8,228.2 289.2,228.8 289.2,231.2 287.2,233.8 283.8,233.8 282.8,232.8 282.8,231.8 285.2,229.2 287.2,228.2Z"/>
<path fill="#ffa600" d="M679.8,279.2 677.2,280.2 675.8,280.2 675.2,279.8 671.8,280.2 669.2,281.2 667.8,282.8 667.2,284.2 665.2,286.8 665.2,288.8 666.2,290.2 666.2,298.8 665.2,299.8 661.2,299.8 659.2,300.8 656.8,303.2 657.2,305.8 659.8,308.2 660.2,309.8 660.2,311.8 660.8,312.2 660.8,318.2 661.2,318.8 662.8,318.2 664.2,316.8 670.2,317.2 670.8,317.8 675.2,317.8 678.8,315.2 680.2,311.8 681.2,312.2 684.8,312.2 687.8,309.8 692.2,308.8 692.2,305.8 691.2,302.8 682.2,292.2 680.2,288.2 679.2,285.2 679.2,280.8ZM645.8,245.8 644.8,251.8 643.8,254.2 648.2,260.8 651.2,261.2 653.2,259.8 653.8,255.8 656.2,254.2 658.2,253.8 652.2,250.8 646.8,245.8ZM150.2,206.2 145.2,210.2 143.8,214.8 143.8,218.8 144.2,219.2 144.8,222.8 148.2,232.2 148.2,234.2 146.8,236.2 142.2,239.2 127.8,246.2 119.8,251.2 111.2,253.2 108.8,255.8 108.8,258.8 109.8,262.2 114.8,269.2 118.2,276.8 122.2,282.2 131.2,281.8 133.8,283.2 136.2,288.2 136.2,289.8 137.8,293.2 138.2,296.2 141.8,302.8 144.2,310.8 146.8,315.2 140.2,327.8 140.2,339.2 139.8,339.8 137.8,348.8 134.2,355.2 134.8,363.8 132.2,368.8 130.2,374.8 130.2,377.8 136.8,379.8 143.2,383.2 143.8,384.2 141.8,385.8 134.2,387.2 128.2,391.2 128.2,394.2 127.8,394.8 127.8,404.2 128.2,404.8 128.2,407.8 133.8,408.2 134.8,409.2 136.2,414.2 139.8,414.2 141.2,413.8 141.2,406.8 143.8,405.2 145.2,405.2 151.2,408.2 153.8,408.2 157.2,409.2 169.8,409.2 175.2,404.2 180.8,401.2 192.2,401.8 192.8,401.2 196.2,401.2 197.2,400.8 197.8,401.2 200.2,401.2 200.8,401.8 204.8,402.2 208.8,408.2 217.2,412.8 226.2,415.8 231.2,416.2 232.2,411.8 233.8,410.2 237.8,408.2 244.2,408.2 247.8,410.2 250.2,410.2 253.2,408.8 258.8,407.8 266.2,405.2 265.2,402.8 265.2,398.8 264.8,397.8 261.2,394.8 261.2,393.2 263.2,390.2 262.2,388.8 259.8,387.2 259.2,384.8 258.2,383.8 252.8,381.2 249.8,379.2 245.8,379.2 244.2,377.2 244.2,375.8 241.2,373.8 238.8,373.8 238.2,374.8 235.2,376.8 232.2,380.2 229.2,379.8 227.2,376.8 227.2,372.8 226.8,371.2 225.2,370.8 223.8,369.2 223.2,367.2 225.2,365.8 225.2,362.8 223.2,362.2 221.2,359.8 221.2,353.8 217.8,351.8 215.8,351.8 214.2,352.8 213.2,352.8 210.8,351.2 207.8,350.8 206.2,349.2 206.2,348.2 204.8,345.2 203.2,343.8 198.2,341.8 194.8,341.8 193.2,340.2 193.2,338.2 194.2,336.8 194.2,335.8 192.8,335.2 191.8,333.8 192.2,333.2 193.8,333.2 194.2,333.8 196.8,333.2 199.2,330.2 208.8,321.2 219.8,321.8 221.2,322.2 222.2,321.8 224.8,318.8 226.8,318.8 229.8,320.2 232.2,320.2 234.2,317.8 237.2,317.2 238.8,316.2 239.2,315.2 238.8,310.8 239.2,310.2 240.2,310.2 242.2,311.8 241.2,315.2 243.2,319.2 247.8,322.2 250.8,321.2 254.8,316.8 258.8,316.8 260.2,316.2 267.2,309.2 267.2,306.8 265.8,303.8 265.2,300.2 269.2,292.8 271.2,290.8 272.8,291.8 274.2,294.2 275.2,293.8 276.2,291.2 278.8,289.2 284.2,293.2 283.8,297.8 286.8,298.2 287.8,297.2 287.8,296.2 289.8,293.2 286.2,290.8 289.8,287.8 289.8,286.8 287.8,283.2 283.8,283.2 283.2,282.8 283.2,280.2 283.8,279.8 283.8,278.2 286.8,274.2 287.8,271.2 291.2,268.8 291.8,265.2 291.2,264.8 288.2,264.8 287.8,264.2 286.2,264.8 283.2,262.2 281.2,258.2 281.2,255.8 279.2,253.8 279.8,251.8 282.2,249.2 285.8,249.2 286.8,250.8 283.8,253.8 283.8,255.8 287.2,257.2 287.8,258.2 289.2,259.2 293.2,259.8 295.2,262.2 296.2,262.2 299.8,259.2 298.2,256.8 298.2,255.2 299.8,253.8 303.2,253.2 305.8,251.2 306.8,252.8 306.8,256.2 305.8,259.2 306.2,260.2 308.2,261.8 309.8,261.8 310.2,261.2 310.2,260.2 308.2,258.8 309.2,257.2 313.2,257.2 316.8,255.2 318.8,252.8 318.8,251.8 317.2,250.2 316.2,250.2 310.2,247.2 308.8,245.8 309.2,239.8 305.8,238.8 304.8,237.8 301.2,231.2 301.2,230.2 303.8,228.8 304.2,227.2 300.2,223.2 298.2,223.2 297.8,223.8 296.8,223.2 296.8,222.2 297.8,220.8 300.8,217.8 299.8,215.2 290.8,213.8 287.8,212.2 276.2,208.8 262.8,209.2 262.2,209.8 258.8,209.8 258.2,210.2 251.2,209.8 250.8,209.2 245.2,209.2 239.8,211.2 232.2,211.2 231.8,210.8 224.2,210.2 223.8,209.8 220.8,209.8 220.2,209.2 210.8,207.8 203.2,204.2 200.2,203.8 194.8,201.8 185.8,201.2 185.2,200.8 166.8,200.8 163.8,201.8 158.8,202.2ZM173.8,320.8 175.2,320.2 181.2,320.8 184.2,319.8 186.8,321.2 186.8,322.8 184.8,327.2 186.8,329.2 188.8,333.2 188.2,334.2 188.2,337.8 187.2,338.8 185.2,338.2 184.2,337.2 184.8,333.8 183.8,331.8 182.2,330.8 177.2,329.2 175.8,327.8 174.8,325.2 172.2,323.2 172.2,322.2ZM239.2,296.2 240.2,296.2 241.2,297.2 241.2,298.8 240.2,299.8 239.2,299.8 238.2,298.2ZM278.8,275.8 279.2,277.2 276.8,280.2 274.8,281.2 273.8,281.2 272.2,280.2 272.2,277.8 274.2,275.8 275.2,275.2 277.8,275.2ZM289.2,224.2 292.2,226.8 292.2,228.8 291.2,230.2 290.8,233.2 289.8,235.2 288.2,236.8 282.2,236.8 281.2,237.2 281.2,239.2 280.2,240.2 279.2,239.2 279.8,235.8 278.2,231.8 283.2,227.2 283.2,225.8 284.8,224.2 286.2,223.8Z"/>
<path fill="#ff8c00" d="M238.8,383.2 237.8,382.2 236.2,382.2 233.2,383.8 232.2,385.2 233.2,386.2 235.8,385.2 238.2,385.2 238.8,384.8ZM673.8,282.8 672.8,283.2 670.2,283.2 669.2,284.8 668.2,288.2 669.8,289.2 672.2,289.2 673.2,290.2 672.8,294.2 673.2,294.8 673.2,296.8 674.8,299.2 674.8,300.8 673.8,301.2 672.2,298.2 670.2,298.2 666.8,302.8 666.8,305.2 664.8,307.2 662.2,308.8 662.2,310.8 663.2,313.2 662.8,313.8 662.8,317.8 664.2,316.8 668.2,317.2 666.2,314.2 666.2,312.8 668.2,310.2 671.8,308.2 673.2,308.2 674.8,310.2 672.8,312.8 672.8,315.2 670.8,317.8 675.2,317.8 678.8,315.2 680.2,311.8 681.2,312.2 684.8,312.2 687.8,309.8 692.2,308.8 692.2,305.8 691.2,302.8 682.2,292.2 680.2,288.2 679.8,285.8 679.2,285.2 677.8,286.8 676.8,286.2 675.8,284.2ZM280.8,265.8 280.8,266.8 282.2,268.2 282.8,271.2 284.2,272.2 285.8,270.8 286.2,268.2 282.8,267.2 281.8,265.8ZM308.8,249.2 308.8,250.2 310.8,253.8 311.8,254.2 314.2,254.2 315.8,253.2 315.8,251.8 315.2,251.2 310.2,249.2ZM293.2,231.2 292.2,232.8 292.2,234.8 291.8,235.2 292.2,236.8 299.2,238.2 300.2,235.8 300.2,233.8 299.2,231.8 298.2,230.8ZM150.2,206.2 145.2,210.2 143.8,214.8 143.8,218.8 144.2,219.2 144.8,222.8 148.2,232.2 148.2,234.2 146.8,236.2 142.2,239.2 127.8,246.2 119.8,251.2 111.2,253.2 108.8,255.8 108.8,258.8 109.8,262.2 114.8,269.2 118.2,276.8 122.2,282.2 131.2,281.8 133.8,283.2 136.2,288.2 136.2,289.8 137.8,293.2 138.2,296.2 141.8,302.8 144.2,310.8 146.8,315.2 140.2,327.8 140.2,339.2 139.8,339.8 137.8,348.8 134.2,355.2 134.8,363.8 132.2,368.8 130.2,374.8 130.2,377.8 136.8,379.8 143.2,383.2 143.8,384.2 141.8,385.8 134.2,387.2 128.2,391.2 128.2,394.2 127.8,394.8 127.8,404.2 128.2,404.8 128.2,407.8 133.8,408.2 134.8,409.2 136.2,414.2 139.8,414.2 141.2,413.8 141.2,406.8 143.8,405.2 145.2,405.2 151.2,408.2 153.8,408.2 157.2,409.2 169.8,409.2 175.2,404.2 180.8,401.2 192.2,401.8 192.8,401.2 196.2,401.2 197.2,400.8 197.8,401.2 200.2,401.2 200.8,401.8 204.8,402.2 208.8,408.2 217.2,412.8 226.2,415.8 231.2,416.2 232.2,411.8 233.8,410.2 236.2,409.2 238.2,406.8 237.8,402.2 239.2,400.8 240.2,400.8 241.8,399.8 241.8,397.8 240.8,395.2 242.2,393.2 243.8,393.2 244.2,393.8 244.8,398.2 246.2,400.8 248.8,400.8 249.2,400.2 250.8,400.2 251.2,400.8 251.2,401.8 249.2,403.8 249.2,405.8 251.2,408.2 251.2,409.2 252.8,409.2 263.2,406.2 263.8,405.8 263.8,403.2 263.2,402.8 262.8,398.8 260.8,397.8 256.8,397.2 255.8,396.2 255.8,395.2 258.2,393.8 259.2,392.2 259.2,390.8 257.2,388.2 256.8,385.8 254.8,384.2 250.2,384.2 249.2,382.2 248.2,381.8 243.2,381.2 242.2,382.2 242.2,383.2 244.2,386.2 244.2,387.8 243.2,389.2 241.8,389.8 237.8,393.2 234.2,392.8 232.2,391.8 231.2,390.2 231.2,388.2 228.8,386.2 228.8,382.8 226.8,380.2 224.8,374.8 222.8,372.8 221.8,369.8 219.2,365.2 218.2,355.2 217.8,354.8 216.2,354.8 213.8,356.2 211.2,356.2 206.8,352.2 204.2,350.8 201.8,350.2 200.8,349.2 200.8,346.8 199.8,344.8 197.8,343.2 194.2,343.2 192.2,342.2 188.8,342.2 184.8,339.8 181.8,340.8 179.8,340.2 178.8,338.8 178.8,336.2 174.2,329.2 172.2,327.8 169.8,327.8 168.8,326.8 168.8,325.8 169.2,325.2 169.8,320.8 171.8,318.8 174.8,318.2 178.8,315.8 183.8,315.8 185.2,315.2 187.2,317.2 189.2,317.8 191.2,319.8 191.2,321.2 189.8,322.8 188.8,325.8 189.8,329.2 190.2,329.8 192.2,329.8 193.2,329.2 195.2,326.8 197.8,326.2 199.2,325.2 196.2,322.8 197.2,321.2 199.2,320.2 203.2,320.2 205.2,321.2 206.2,319.8 207.8,318.8 219.8,319.8 223.2,317.2 228.2,316.8 230.2,315.2 236.8,315.2 237.2,313.8 235.8,309.8 235.8,305.2 234.2,302.8 234.2,301.8 236.2,298.2 236.8,296.2 241.8,290.8 242.8,290.8 244.2,289.8 245.8,289.8 246.2,290.2 246.2,291.8 245.2,292.8 244.2,292.8 242.8,293.8 243.8,296.2 242.8,302.2 241.8,303.8 238.8,304.2 237.8,305.2 239.8,307.8 242.2,308.2 245.8,310.8 245.8,312.8 243.8,314.8 244.2,317.8 245.2,318.8 248.2,319.8 250.8,318.2 252.2,313.8 254.2,311.8 258.8,310.2 261.2,310.2 261.8,310.8 262.8,310.2 264.2,308.2 264.2,306.8 261.8,304.2 260.2,303.8 258.8,302.2 258.8,301.2 260.2,300.2 262.8,300.2 263.8,299.2 269.8,287.8 270.2,285.8 269.2,284.2 268.2,280.2 266.8,277.8 269.8,276.8 271.2,275.2 272.2,272.8 273.2,271.8 275.2,271.2 274.2,266.2 273.2,264.2 273.8,261.2 276.2,257.8 276.2,256.2 275.2,255.2 275.2,252.8 279.2,249.2 279.8,246.8 281.2,244.8 285.8,244.2 288.8,245.2 290.8,247.2 291.8,249.2 291.8,253.2 292.2,253.8 294.2,253.8 298.8,251.8 301.2,251.8 305.8,247.8 306.2,246.2 305.8,242.8 304.8,241.8 301.2,240.2 299.2,241.8 289.2,241.8 286.8,240.8 285.8,239.8 284.2,239.8 281.2,243.2 279.2,243.2 275.8,240.2 274.8,238.2 274.8,236.8 272.8,233.8 272.8,232.2 277.8,227.8 277.2,226.2 274.2,225.8 273.2,224.8 273.2,222.2 275.2,219.8 277.2,218.8 281.8,218.8 283.2,217.8 285.2,220.2 289.2,220.8 290.8,219.8 291.8,217.2 293.2,215.8 294.8,215.8 295.2,215.2 295.2,214.2 290.8,213.8 287.8,212.2 276.2,208.8 262.8,209.2 262.2,209.8 258.8,209.8 258.2,210.2 251.2,209.8 250.8,209.2 245.2,209.2 239.8,211.2 232.2,211.2 231.8,210.8 224.2,210.2 223.8,209.8 220.8,209.8 217.8,208.8 212.8,208.2 208.2,206.8 203.2,204.2 200.2,203.8 196.8,202.2 191.8,201.8 191.2,201.2 185.8,201.2 185.2,200.8 166.8,200.8 163.8,201.8 158.8,202.2ZM218.8,393.8 219.2,395.2 217.8,396.8 216.2,395.2 217.8,393.8ZM219.8,379.2 221.2,379.2 222.8,380.8 222.8,382.2 220.8,384.8 218.8,384.8 216.8,382.8 216.8,381.2Z"/>
<path fill="#ff7300" d="M221.8,412.2 221.2,414.2 226.2,415.2 226.2,413.2 225.8,412.8ZM260.2,400.2 258.2,399.2 256.8,399.2 255.2,400.2 254.2,402.8 254.2,404.2 254.8,404.8 254.2,405.8 254.2,408.8 258.8,407.8 260.8,406.8 261.8,404.8 261.8,402.8ZM249.2,393.8 247.2,393.8 246.2,395.2 247.8,397.8 248.8,397.2 250.2,395.2ZM677.8,311.2 676.8,311.8 676.2,313.8 677.8,313.8 678.2,313.2 678.2,311.8ZM676.2,292.2 675.2,293.2 675.2,295.8 677.8,301.2 677.8,302.2 676.2,304.8 676.2,306.2 678.2,308.2 683.2,308.2 684.2,308.8 685.2,310.2 685.2,311.2 686.2,311.2 687.8,309.8 692.2,308.8 692.2,305.8 691.2,304.2 691.2,302.8 682.2,291.8 681.2,292.8ZM302.2,243.2 301.2,244.8 301.8,246.2 303.2,246.8 303.8,246.2 303.8,244.2ZM157.2,202.8 148.8,207.2 145.2,210.2 144.2,212.8 143.8,218.8 148.2,232.2 148.2,234.2 146.8,236.2 142.2,239.2 127.8,246.2 119.8,251.2 111.2,253.2 108.8,255.8 108.8,258.8 109.8,262.2 114.8,269.2 118.2,276.8 122.2,282.2 131.2,281.8 133.8,283.2 136.2,288.2 136.2,289.8 137.8,293.2 138.2,296.2 141.8,302.8 144.2,310.8 146.8,315.2 140.2,327.8 140.2,339.2 139.8,339.8 137.8,348.8 134.2,355.2 134.8,363.8 132.2,368.8 130.2,374.8 130.2,377.8 136.8,379.8 143.2,383.2 143.8,384.2 141.8,385.8 134.2,387.2 128.2,391.2 128.2,394.2 127.8,394.8 127.8,404.2 128.2,404.8 128.2,407.8 133.8,408.2 134.8,409.2 136.2,414.2 139.8,414.2 141.2,413.8 141.2,406.8 143.8,405.2 145.2,405.2 151.2,408.2 153.8,408.2 157.2,409.2 169.8,409.2 175.2,404.2 180.8,401.2 192.2,401.8 192.8,401.2 196.2,401.2 197.2,400.8 197.8,401.2 200.2,401.2 200.8,401.8 204.8,402.2 208.8,408.2 217.2,412.8 219.8,411.2 222.2,408.8 223.8,408.2 225.8,408.8 227.2,410.2 233.2,409.8 235.8,406.8 235.8,405.2 233.8,403.2 233.8,401.8 234.8,400.8 237.2,399.8 238.8,398.2 238.8,396.2 237.8,395.2 234.2,395.2 233.2,396.2 231.2,401.8 231.2,406.2 230.2,407.8 229.2,407.8 228.2,406.8 227.8,402.8 225.8,399.2 226.8,396.8 226.8,392.8 224.2,390.2 224.2,386.8 223.8,386.2 221.8,386.2 220.2,387.2 219.2,387.2 216.8,385.8 215.2,383.8 212.2,382.8 211.2,381.8 211.2,380.8 215.2,376.8 215.2,375.8 216.2,374.8 216.8,374.8 218.2,376.8 221.8,376.8 221.8,375.8 219.8,372.8 218.8,368.2 216.2,365.2 216.2,358.8 215.2,358.8 213.2,361.8 211.8,361.8 210.2,360.2 209.8,357.8 207.2,354.8 204.2,353.2 201.2,353.2 196.2,349.2 197.8,347.8 197.8,345.8 196.8,344.8 190.2,344.8 188.8,345.8 188.2,347.2 186.2,349.2 185.2,349.8 182.2,349.2 181.2,348.2 181.2,346.2 182.8,342.8 179.8,342.2 177.2,340.2 177.2,337.2 173.8,331.2 171.8,329.8 167.2,329.8 165.8,329.2 164.8,327.8 167.2,324.8 168.2,318.8 169.2,317.2 171.2,315.8 174.8,315.2 177.2,313.2 177.2,309.8 174.2,306.2 175.8,304.2 177.2,304.2 179.8,306.8 186.8,309.8 187.8,311.2 188.8,314.8 190.8,315.2 192.8,317.2 193.2,318.8 194.2,319.2 196.2,318.8 198.8,315.8 201.8,316.8 203.8,315.2 208.8,314.8 211.2,316.8 214.8,317.2 216.2,316.8 220.2,313.2 223.8,314.8 227.2,314.2 230.2,312.2 231.8,312.2 233.8,313.2 234.8,312.2 233.2,309.2 233.2,306.2 231.2,303.2 231.8,300.2 235.2,296.8 235.8,295.2 237.2,293.8 237.2,291.2 235.2,291.2 233.2,292.2 231.8,290.2 233.8,288.2 236.2,288.2 237.8,289.2 241.2,288.2 241.8,286.8 240.8,283.8 241.2,282.2 242.8,280.8 244.2,280.8 249.8,284.8 252.8,286.2 252.8,288.2 251.2,290.2 251.2,293.8 250.2,294.8 247.8,295.2 246.8,296.2 245.2,301.2 245.8,302.2 249.2,301.8 251.8,303.8 250.2,306.8 250.2,308.2 251.8,309.2 255.2,308.8 255.2,306.8 253.2,304.2 253.2,302.2 253.8,301.8 253.2,301.2 252.8,297.8 253.8,296.2 254.8,296.2 257.2,297.8 260.2,297.8 260.8,298.2 262.8,297.2 264.2,293.2 264.2,291.8 263.8,291.2 264.2,290.2 264.2,287.8 265.8,285.2 265.8,281.2 263.8,278.2 263.8,276.8 266.2,274.2 267.2,274.2 269.2,272.2 269.8,270.8 272.2,267.8 271.8,261.2 272.2,260.8 272.8,249.8 274.2,248.2 276.2,248.2 277.2,247.2 277.2,245.2 273.8,242.2 272.8,238.8 272.8,236.8 270.8,234.2 270.8,231.8 273.2,228.8 273.2,227.8 271.2,224.8 271.2,220.8 274.8,216.2 275.8,215.8 276.8,216.2 278.8,215.8 278.8,212.8 280.2,210.2 276.2,208.8 269.2,208.8 268.8,209.2 262.8,209.2 262.2,209.8 258.8,209.8 258.2,210.2 251.2,209.8 250.8,209.2 245.2,209.2 239.8,211.2 232.2,211.2 231.8,210.8 224.2,210.2 223.8,209.8 220.8,209.8 217.8,208.8 212.8,208.2 201.8,203.8 200.2,203.8 194.8,201.8 191.8,201.8 191.2,201.2 185.8,201.2 185.2,200.8 166.8,200.8 166.2,201.2ZM219.8,388.8 222.2,390.2 222.2,394.8 222.8,395.2 222.8,399.2 220.2,401.2 218.2,400.8 214.8,397.8 213.8,396.2 214.8,393.8 217.2,390.8ZM208.8,364.2 210.2,364.2 211.2,365.8 211.2,367.2 209.8,368.8 207.8,368.8 206.8,367.2 206.8,366.2ZM188.2,298.8 189.2,300.8 188.2,302.8 185.8,304.8 183.2,304.2 182.2,302.8 182.8,300.2 186.8,298.2ZM236.8,253.8 241.8,254.2 243.2,256.2 243.8,261.8 242.2,265.2 239.8,267.2 237.8,267.2 236.8,266.2 236.2,262.8 232.8,258.8 232.8,256.2Z"/>
<path fill="#ff5900" d="M219.8,406.2 222.8,405.8 223.8,404.2 223.2,403.8 220.8,403.8 219.8,404.2ZM213.8,370.8 210.2,370.8 208.2,372.2 207.2,374.8 207.2,377.8 208.2,378.8 209.2,378.8 211.2,376.8 212.8,373.2 213.8,372.2ZM684.2,298.8 683.8,299.8 685.2,303.8 685.8,299.2ZM257.2,293.8 257.8,294.8 259.8,294.8 260.2,293.8 259.2,293.2 257.8,293.2ZM277.8,209.2 276.2,208.8 269.2,208.8 268.8,209.2 262.8,209.2 262.2,209.8 258.8,209.8 258.2,210.2 252.8,209.8 250.8,212.2 245.8,212.8 244.8,213.2 242.2,216.2 241.2,216.2 239.2,213.8 239.2,211.2 232.2,211.2 231.8,210.8 224.2,210.2 223.8,209.8 220.8,209.8 217.8,208.8 212.8,208.2 208.2,206.8 203.2,204.2 200.2,203.8 194.8,201.8 185.8,201.2 185.2,200.8 166.8,200.8 163.8,201.8 158.8,202.2 150.2,206.2 146.2,209.2 144.8,211.2 143.8,214.8 143.8,218.8 148.2,232.2 148.2,234.2 146.8,236.2 142.2,239.2 127.8,246.2 119.8,251.2 111.2,253.2 108.8,255.8 108.8,258.8 109.8,262.2 114.8,269.2 118.2,276.8 122.2,282.2 131.2,281.8 133.8,283.2 136.2,288.2 136.2,289.8 137.8,293.2 138.2,296.2 141.8,302.8 144.2,310.8 146.8,315.2 140.2,327.8 140.2,339.2 139.8,339.8 137.8,348.8 134.2,355.2 134.8,363.8 132.2,368.8 130.2,374.8 130.2,377.8 136.8,379.8 143.2,383.2 143.8,384.2 141.8,385.8 137.8,386.2 133.2,387.8 128.2,391.2 128.2,394.2 127.8,394.8 127.8,404.2 128.2,404.8 128.2,407.8 133.8,408.2 134.8,409.2 136.2,414.2 141.2,413.8 141.2,406.8 143.8,405.2 145.2,405.2 151.2,408.2 153.8,408.2 157.2,409.2 169.8,409.2 175.2,404.2 180.8,401.2 192.2,401.8 192.8,401.2 196.2,401.2 197.2,400.8 197.8,401.2 200.2,401.2 200.8,401.8 204.8,402.2 207.8,407.2 208.8,408.2 210.8,408.8 211.8,406.8 211.8,405.2 215.2,402.8 214.8,399.8 210.8,397.8 211.2,395.8 213.8,393.2 214.8,390.2 213.8,389.2 211.8,389.8 210.8,388.8 211.8,385.8 204.2,381.8 200.2,376.8 202.2,372.8 202.2,371.2 200.8,371.2 199.8,370.2 201.8,366.8 201.2,364.8 200.2,364.8 197.2,366.2 196.2,367.2 195.2,370.2 194.8,370.8 193.8,370.2 193.8,368.8 192.8,366.2 192.8,359.8 192.2,359.2 192.2,357.2 193.8,355.8 194.8,355.8 196.2,357.2 197.8,357.2 199.2,355.2 198.2,353.8 195.2,353.8 194.8,354.2 192.2,352.8 190.8,352.8 188.2,354.2 187.2,354.2 185.2,352.8 182.8,352.8 179.8,354.8 177.2,354.8 176.2,352.8 176.8,351.2 178.2,349.8 178.2,347.8 179.8,345.2 179.8,344.2 178.2,343.2 177.2,343.2 175.8,341.8 175.2,337.2 172.8,332.8 171.2,331.2 164.2,331.2 161.8,329.2 161.8,327.8 164.8,323.8 166.2,320.8 166.8,317.8 170.8,313.8 173.2,313.2 175.2,311.8 175.2,309.8 172.2,307.2 172.2,305.2 175.2,302.2 178.8,301.2 180.8,299.2 186.2,296.8 187.2,295.8 188.2,293.2 189.2,292.2 191.8,291.2 190.2,288.8 190.2,286.8 192.8,284.8 194.8,284.8 195.2,285.2 201.8,285.2 202.8,285.8 203.2,287.2 200.2,290.2 197.8,291.2 197.2,292.8 198.2,293.8 200.2,293.8 201.8,292.2 202.8,292.2 204.2,293.2 204.2,295.2 199.8,298.8 196.2,298.2 192.8,295.2 190.8,297.2 190.8,301.8 188.2,304.8 188.2,306.2 191.2,309.2 191.8,311.2 194.8,313.8 196.2,312.8 200.2,312.8 201.8,313.2 202.8,312.8 205.2,309.8 207.2,309.2 210.2,310.2 211.8,312.2 211.8,313.8 212.8,314.8 214.8,314.8 216.2,313.2 216.2,312.2 217.8,310.2 222.8,311.2 223.2,311.8 226.8,311.8 229.2,309.8 229.2,308.2 229.8,307.8 229.2,300.8 230.8,297.2 230.8,294.8 228.8,291.8 228.8,289.8 229.8,288.2 229.8,286.8 227.2,285.8 224.2,286.8 222.8,284.8 226.2,280.8 229.8,279.8 232.2,281.8 234.2,280.8 236.8,280.8 237.8,281.8 238.8,281.8 240.8,279.2 241.8,278.8 244.2,278.8 246.8,280.8 249.2,281.8 250.8,281.8 252.2,283.2 255.8,284.8 256.8,284.2 259.2,281.2 261.2,281.2 261.8,280.8 261.2,276.8 264.8,273.2 267.2,271.8 268.2,269.8 268.2,268.8 267.2,267.2 267.2,265.2 269.8,263.2 270.2,261.8 270.2,253.2 269.2,252.2 269.2,244.2 270.8,242.2 270.8,237.8 268.2,234.8 267.2,231.2 269.2,229.8 270.8,227.8 269.8,224.8 266.8,221.8 266.8,219.8ZM201.8,391.2 203.2,391.2 203.8,391.8 203.8,394.8 203.2,395.2 204.2,396.8 203.8,397.8 202.8,396.8 200.2,396.8 198.8,395.2 198.8,393.8ZM184.2,360.2 187.2,360.8 189.8,363.2 190.2,364.8 188.2,366.8 185.2,366.8 183.8,365.2 182.8,361.8ZM215.2,306.2 215.8,305.8 217.2,305.8 217.8,306.2 217.8,308.2 216.8,308.8ZM248.2,269.8 248.8,269.8 250.2,271.8 250.2,273.2 248.8,274.2 247.2,273.2 247.2,270.8ZM250.2,259.2 249.8,260.8 247.8,262.8 245.2,264.2 244.8,267.2 243.8,269.2 241.8,270.8 238.2,270.8 234.8,269.2 231.8,269.2 229.2,267.8 227.8,267.8 226.2,269.2 224.2,269.8 222.2,267.8 222.2,266.8 225.8,262.2 226.8,261.8 230.2,262.2 230.8,261.8 230.8,255.8 231.8,254.2 233.2,253.8 234.8,252.2 235.2,250.8 236.8,249.2 238.8,249.2 240.2,250.2 243.2,250.2 245.8,252.2 246.8,255.2 248.8,256.8ZM234.8,243.8 237.2,245.2 237.2,246.2 235.8,248.2 234.8,248.2 233.2,246.2 233.2,245.2ZM252.2,231.2 254.8,234.2 253.2,234.8 251.8,233.8 250.2,233.8 248.8,237.2 246.8,238.8 245.8,241.2 242.8,243.8 240.2,244.2 239.8,243.8 239.8,241.2 238.2,238.8 238.2,236.2 239.8,234.2 239.8,231.8 239.2,231.2 239.8,228.8 240.8,227.8 242.2,227.8 245.2,232.2 249.2,232.8 251.2,231.2ZM244.8,222.8 246.2,223.2 246.2,224.2 245.2,225.2 243.8,224.8 243.8,223.8Z"/>
<path fill="#ff4000" d="M200.8,386.2 201.2,387.2 203.8,387.2 204.2,386.8 203.8,385.8 201.2,385.8ZM193.2,302.8 191.2,304.8 191.2,305.8 193.2,307.8 194.8,310.2 197.8,310.2 198.8,309.2 198.8,307.2 197.8,304.2 196.2,302.8ZM204.2,275.8 202.8,276.2 201.8,278.2 201.8,279.8 203.8,279.2 205.2,277.8 205.2,276.8ZM241.2,274.2 241.8,275.8 244.8,276.2 248.8,279.2 249.8,279.2 251.2,278.2 250.2,276.2 246.2,276.8 244.2,274.2ZM266.8,237.8 265.8,237.8 264.8,240.2 263.8,241.2 260.2,242.2 256.8,245.2 254.2,245.8 251.8,244.2 250.8,244.2 250.2,244.8 250.8,247.8 248.8,250.2 248.8,253.8 250.8,256.2 253.2,256.8 254.2,257.8 253.2,260.8 251.2,263.2 250.8,264.8 251.2,266.8 252.8,268.8 255.8,269.2 257.2,270.2 259.2,273.2 261.8,273.2 262.8,271.8 261.2,270.2 261.2,268.2 264.8,265.2 266.2,258.8 267.2,257.2 267.2,255.8 264.2,253.8 264.2,248.8 266.2,246.8 267.2,242.2 268.2,241.2 268.2,239.2ZM251.8,222.8 250.8,222.8 249.2,226.2 247.2,228.8 248.8,228.8 249.8,227.2 252.8,225.8ZM265.8,210.8 264.2,215.2 261.8,217.8 258.8,217.8 257.8,216.2 258.2,212.8 259.8,209.8 258.2,210.2 256.2,210.2 255.8,209.8 254.2,213.2 252.8,214.2 250.2,214.8 248.2,216.2 248.2,217.2 250.8,220.8 251.8,220.8 253.8,219.2 256.2,219.2 257.2,220.2 257.2,223.2 257.8,224.2 259.2,224.2 266.8,214.8 266.8,211.8ZM235.8,212.8 232.2,212.8 231.2,211.8 231.2,210.8 220.8,209.8 220.2,209.2 210.8,207.8 203.2,204.2 200.2,203.8 196.8,202.2 191.8,201.8 191.2,201.2 185.8,201.2 185.2,200.8 166.8,200.8 166.2,201.2 157.2,202.8 148.8,207.2 145.2,210.2 144.2,212.8 143.8,218.8 148.2,232.2 148.2,234.2 146.8,236.2 142.2,239.2 127.8,246.2 119.8,251.2 111.2,253.2 108.8,255.8 108.8,258.8 109.8,262.2 114.8,269.2 118.2,276.8 122.2,282.2 131.2,281.8 133.8,283.2 136.2,288.2 136.2,289.8 137.8,293.2 138.2,296.2 141.8,302.8 144.2,310.8 146.8,315.2 140.2,327.8 140.2,339.2 139.8,339.8 137.8,348.8 134.2,355.2 134.8,363.8 132.2,368.8 130.2,374.8 130.2,377.8 136.8,379.8 143.2,383.2 143.8,384.2 141.8,385.8 137.8,386.2 133.2,387.8 128.2,391.2 128.2,394.2 127.8,394.8 127.8,404.2 128.2,404.8 128.2,407.8 133.8,408.2 134.8,409.2 136.2,414.2 141.2,413.8 141.2,406.8 143.8,405.2 145.2,405.2 151.2,408.2 153.8,408.2 157.2,409.2 169.8,409.2 175.2,404.2 180.8,401.2 185.2,401.2 185.8,401.8 192.2,401.8 192.8,401.2 196.2,401.2 196.8,400.8 198.8,401.2 198.8,399.2 195.8,394.2 195.8,391.8 192.2,388.8 192.8,386.8 194.2,385.2 197.8,385.8 198.8,384.8 199.8,382.8 199.8,380.2 198.2,377.2 196.8,375.8 195.8,375.8 192.8,377.2 190.2,376.8 189.2,375.8 189.8,369.8 188.8,369.2 187.2,369.8 184.8,372.8 183.2,371.8 181.8,366.2 180.8,364.8 178.2,363.2 177.2,360.8 180.8,357.8 181.8,358.2 184.8,357.8 184.8,356.2 183.8,355.2 181.8,355.8 179.8,357.8 177.2,357.8 175.8,359.8 172.2,359.8 169.8,363.2 168.2,363.2 167.8,362.8 167.8,361.8 171.2,358.2 171.8,356.2 173.8,353.8 173.8,349.8 174.8,347.8 174.8,345.8 173.8,343.2 173.8,340.2 171.8,337.2 170.8,334.2 169.8,333.2 166.8,333.8 164.8,335.2 163.8,335.2 160.2,331.2 159.8,328.2 161.8,324.2 161.8,323.2 163.8,320.2 164.2,317.2 165.8,315.8 167.2,315.2 169.2,312.2 169.2,310.8 166.2,306.2 166.2,303.8 168.2,302.2 169.8,303.8 171.8,303.2 174.2,301.2 176.2,298.2 180.8,295.2 181.8,295.8 184.2,295.8 185.8,293.2 185.2,292.8 185.2,291.2 187.2,288.8 188.2,283.2 191.2,279.2 192.2,278.8 194.8,278.8 195.2,278.2 195.2,274.2 195.8,273.2 197.2,272.2 202.2,272.2 203.8,272.8 204.8,271.8 198.8,266.8 198.8,265.8 199.8,264.8 200.8,262.2 202.2,260.8 204.8,261.2 207.2,264.8 208.8,264.8 209.8,263.8 211.8,263.8 212.8,265.2 212.8,270.2 211.8,271.2 206.8,270.8 205.8,271.8 209.2,274.8 212.8,274.2 213.8,275.2 213.8,276.2 211.2,281.2 209.2,283.2 205.8,288.8 205.8,290.8 207.2,292.8 206.8,301.2 204.2,303.2 203.8,304.2 203.8,306.8 209.8,307.8 210.8,307.2 210.8,302.8 211.8,301.8 214.2,301.2 216.2,302.2 217.8,302.2 218.8,301.2 218.8,300.2 219.8,298.8 223.8,298.8 225.2,300.2 224.2,302.8 224.2,307.2 225.2,308.8 226.2,308.8 227.2,307.8 227.2,306.2 228.2,303.8 228.2,301.8 227.8,301.2 228.2,296.8 227.8,295.8 224.2,294.2 222.2,292.2 221.8,290.2 220.2,287.8 220.2,285.2 220.8,284.8 220.8,282.8 223.2,278.2 223.8,276.2 224.8,275.2 227.8,275.8 228.2,274.8 228.2,271.8 227.2,271.8 224.8,273.2 221.2,270.2 218.2,270.2 216.2,271.2 214.8,270.2 214.8,269.2 219.2,265.2 221.2,261.8 220.8,261.2 217.8,261.2 215.8,258.8 215.8,253.8 214.8,251.8 215.2,250.8 215.2,248.2 214.2,246.8 214.2,245.2 215.8,243.8 218.2,243.8 220.2,244.8 222.8,244.2 224.8,241.8 226.8,241.8 227.8,242.8 228.2,244.8 226.2,246.8 226.8,251.8 225.8,252.8 225.8,257.8 225.2,258.8 225.8,259.2 227.8,259.2 228.8,258.2 228.8,252.8 232.8,251.2 232.8,248.2 231.8,246.2 231.8,243.8 232.8,242.2 236.8,241.2 236.8,239.8 234.8,236.8 234.8,234.2 237.2,231.2 237.8,224.8 236.2,223.8 236.2,222.2 238.8,219.2 238.8,216.8 237.8,214.8ZM181.8,378.8 182.8,378.8 183.8,379.8 183.8,383.2 182.2,384.8 181.2,384.8 179.2,382.8 179.2,380.8ZM172.2,295.8 173.2,296.8 173.2,298.2 172.2,299.2 169.2,300.2 168.8,299.8 168.8,296.8 170.2,295.2ZM206.2,253.8 207.2,254.8 206.2,256.2 204.2,257.8 203.8,256.2 204.2,255.2ZM210.8,250.2 211.2,250.8 210.8,252.8 209.8,253.8 208.8,253.8 208.2,253.2 209.2,250.8Z"/>
<path fill="#ff2600" d="M196.8,378.8 194.8,378.2 192.8,379.2 189.8,379.8 187.2,381.2 190.2,382.8 192.2,382.8 194.2,381.8 195.8,381.8 196.8,380.8ZM210.8,292.2 209.8,293.2 209.8,295.8 210.8,297.2 212.8,297.2 213.2,295.8 212.2,292.8ZM219.8,274.2 217.2,274.8 214.2,279.2 214.8,283.8 215.8,284.8 218.2,284.8 218.8,283.8 218.8,281.2 221.2,278.2 221.2,275.8ZM263.8,260.8 262.8,259.8 261.8,259.8 258.2,261.2 255.8,264.2 255.8,265.8 257.8,266.8 262.8,264.8 263.8,262.2ZM209.2,260.2 209.2,261.2 211.8,261.2 212.8,260.8 212.2,259.8ZM258.8,250.2 260.2,252.8 261.8,252.2 261.8,251.2 260.8,250.2ZM229.2,210.8 212.8,208.2 201.8,203.8 200.2,203.8 194.8,201.8 191.8,201.8 191.2,201.2 185.8,201.2 185.2,200.8 166.8,200.8 166.2,201.2 157.2,202.8 148.8,207.2 145.2,210.2 144.2,212.8 143.8,218.8 148.2,232.2 148.2,234.2 146.8,236.2 142.2,239.2 127.8,246.2 119.8,251.2 111.2,253.2 108.8,255.8 108.8,258.8 109.8,262.2 114.8,269.2 118.2,276.8 122.2,282.2 131.2,281.8 133.8,283.2 136.2,288.2 136.2,289.8 137.8,293.2 138.2,296.2 141.8,302.8 144.2,310.8 146.8,315.2 140.2,327.8 140.2,339.2 139.2,342.8 140.2,342.8 141.2,344.2 139.8,345.8 138.2,345.8 137.8,348.8 134.2,355.2 134.8,363.8 132.2,368.8 130.2,374.8 130.2,377.8 136.8,379.8 143.2,383.2 143.8,384.2 141.8,385.8 137.8,386.2 133.2,387.8 128.2,391.2 128.2,394.2 127.8,394.8 127.8,404.2 128.2,404.8 128.2,407.8 133.8,408.2 134.8,409.2 136.2,414.2 141.2,413.8 141.2,406.8 143.8,405.2 145.2,405.2 151.2,408.2 153.8,408.2 157.2,409.2 169.8,409.2 175.2,404.2 180.8,401.2 185.2,401.2 185.8,401.8 196.2,401.2 196.2,398.2 194.8,396.2 189.8,392.8 188.8,392.8 186.2,391.2 184.8,388.2 183.2,388.2 182.8,388.8 182.8,391.8 180.8,392.8 179.8,391.8 179.8,388.8 178.8,387.8 178.2,384.2 177.2,382.8 176.2,382.2 173.2,382.2 170.8,379.8 171.2,375.8 169.8,373.8 169.8,372.2 171.8,371.2 174.2,373.2 175.2,375.2 176.2,375.2 177.2,376.2 179.2,376.8 180.8,373.8 179.2,368.2 176.8,366.2 176.2,364.8 174.8,363.2 173.8,363.2 172.8,364.2 172.2,366.8 170.8,367.8 169.2,367.8 166.2,364.8 163.8,363.2 166.8,359.2 170.2,355.8 171.8,353.2 172.2,351.2 170.8,348.8 167.8,348.8 165.2,347.2 166.2,346.2 170.8,346.2 171.8,345.8 172.2,344.8 171.8,341.2 169.2,339.2 166.2,339.2 163.2,342.2 162.2,342.2 159.2,340.8 155.8,342.2 154.2,342.2 152.2,340.8 151.2,337.8 149.8,336.2 152.8,332.8 152.8,330.2 151.8,329.2 151.8,327.8 153.2,326.8 155.2,327.2 156.8,329.2 157.8,329.2 159.8,325.2 159.8,321.8 161.2,318.2 161.2,316.2 163.2,314.2 165.2,314.2 166.8,313.2 166.8,312.2 164.2,309.2 163.2,306.2 163.2,303.8 165.8,300.2 165.8,297.2 164.8,295.8 164.8,294.8 165.8,293.8 169.2,293.8 169.8,293.2 171.2,293.2 175.8,294.8 177.2,292.2 179.2,291.2 181.8,291.2 179.8,288.2 179.2,282.8 184.8,280.2 187.8,279.8 190.8,276.2 191.8,275.8 191.8,274.8 190.8,273.8 190.8,271.8 192.2,270.2 193.8,270.2 194.2,270.8 197.2,270.2 197.2,268.8 195.8,266.8 195.8,265.8 198.2,263.2 198.2,260.8 199.2,257.8 201.8,255.2 202.8,252.8 205.2,250.2 205.2,249.8 202.2,249.8 201.2,248.2 201.8,246.8 203.2,245.2 204.8,245.2 205.8,246.2 207.2,246.2 209.2,245.2 208.8,242.8 210.8,240.2 214.2,240.8 214.8,241.2 217.8,240.2 219.2,238.8 218.8,235.2 219.8,234.2 220.8,234.2 221.8,235.2 222.2,237.2 227.2,237.8 228.2,238.2 229.8,240.8 230.2,240.8 230.2,239.2 232.2,237.2 231.8,232.8 233.8,230.8 233.8,220.8 235.8,217.8 235.8,216.2 235.2,215.8 232.2,215.8 229.8,213.2ZM144.8,355.8 146.8,355.8 148.2,357.2 149.2,360.2 151.2,362.8 151.2,363.8 150.2,365.2 149.2,365.2 147.8,362.8 143.8,359.2 143.8,356.8ZM159.8,348.8 161.8,347.8 163.2,347.8 163.8,348.8 161.8,350.2ZM185.8,249.2 188.2,247.2 190.8,249.8 195.2,249.8 196.2,251.8 195.2,253.8 193.2,254.2 189.8,252.2 187.2,251.8 185.8,250.2ZM204.2,240.8 205.8,241.2 206.8,242.8 205.2,244.2 203.8,244.2 203.2,243.8 203.2,241.8Z"/>
<path fill="#ff0d00" d="M168.8,351.8 166.2,351.2 164.2,352.2 163.2,354.2 163.8,355.8 164.8,356.8 166.8,356.8 169.2,353.8 169.2,352.2ZM154.2,344.8 150.8,344.8 150.2,347.2 149.2,348.2 145.2,347.8 142.8,351.2 138.2,352.2 136.2,354.2 134.8,354.2 134.2,355.2 134.8,363.8 132.2,368.8 130.2,374.8 132.2,376.2 132.2,378.2 132.8,378.8 136.8,379.8 143.8,383.8 143.8,384.2 141.8,385.8 134.2,387.2 128.2,391.2 128.2,394.2 127.8,394.8 127.8,404.2 128.2,404.8 128.2,407.8 133.8,408.2 134.8,409.2 136.2,414.2 139.2,414.2 140.2,411.8 141.2,410.8 141.2,406.8 143.8,405.2 145.2,405.2 151.2,408.2 153.8,408.2 157.2,409.2 167.8,409.2 168.2,408.2 170.2,408.8 175.2,404.2 180.8,401.2 189.8,401.8 190.2,400.8 189.8,398.2 186.2,395.2 184.2,395.2 181.2,397.8 178.2,397.8 174.2,394.2 171.8,394.2 168.8,396.8 168.8,398.8 167.8,399.8 166.8,399.8 166.2,399.2 166.2,396.2 164.8,392.8 167.8,390.2 169.2,387.8 172.8,386.8 173.2,385.8 172.8,384.8 168.8,380.8 166.8,376.8 163.8,378.2 159.2,378.2 157.8,380.8 157.8,383.2 156.2,383.8 154.8,381.8 154.8,380.2 153.8,377.8 154.2,371.8 153.8,371.2 151.2,371.2 150.2,370.8 141.2,360.8 139.2,360.8 137.8,359.2 137.8,358.2 138.8,357.2 140.2,357.2 143.8,353.2 146.2,352.2 148.2,352.8 150.8,355.2 151.8,358.2 152.8,358.8 154.2,358.8 156.8,357.2 159.2,357.2 160.2,356.2 160.2,355.2 155.2,349.8 154.8,348.8 154.8,345.2ZM155.2,393.8 156.2,393.8 157.2,395.2 155.8,397.2 155.2,397.2 154.2,395.8ZM145.2,394.2 146.8,393.8 149.8,397.2 148.2,398.8 146.8,398.2 144.8,395.2ZM141.8,390.8 142.8,391.8 142.2,392.8 140.2,394.2 139.2,393.2 139.2,392.2 140.8,390.8ZM145.8,387.8 147.8,388.8 147.8,390.2 146.2,392.2 144.2,390.8 144.2,389.2ZM143.8,332.8 143.8,333.8 145.8,333.8 146.2,333.2 146.2,332.2 144.2,332.2ZM230.2,226.2 229.8,226.8 229.8,228.2 231.2,228.8 231.8,228.2 231.8,226.8ZM227.2,210.2 224.2,210.2 223.8,209.8 220.8,209.8 217.8,208.8 212.8,208.2 201.8,203.8 200.2,203.8 194.8,201.8 191.8,201.8 191.2,201.2 185.8,201.2 185.2,200.8 166.8,200.8 166.2,201.2 157.2,202.8 148.8,207.2 145.2,210.2 144.2,212.8 143.8,218.8 148.2,232.2 148.2,234.2 146.8,236.2 142.2,239.2 127.8,246.2 119.8,251.2 111.2,253.2 108.8,255.8 108.8,258.8 109.8,262.2 114.8,269.2 118.2,276.8 122.2,282.2 125.8,282.2 126.2,281.8 131.2,281.8 132.8,282.2 133.8,283.2 136.2,288.2 136.2,289.8 137.8,293.2 138.2,296.2 141.8,302.8 144.2,310.8 146.8,315.2 140.2,327.8 142.2,327.8 142.8,327.2 145.8,327.8 149.8,324.2 156.8,323.8 157.8,322.8 157.8,320.2 156.2,317.8 156.2,316.2 158.2,314.2 159.8,313.8 162.8,311.2 162.2,308.8 159.2,306.8 159.2,303.8 162.2,298.8 162.2,295.8 161.8,295.2 161.8,292.8 162.2,291.8 164.8,290.2 169.8,291.2 176.2,289.2 176.8,288.8 176.8,279.2 179.2,277.2 182.8,277.2 184.8,276.2 186.8,276.2 187.8,274.8 186.2,265.8 187.2,265.2 190.2,266.8 195.8,263.2 196.2,262.2 196.2,259.8 195.8,258.8 194.8,258.2 192.2,258.2 189.2,255.2 187.2,255.2 185.2,254.2 182.8,251.2 181.8,251.2 180.8,250.2 180.8,249.2 183.8,248.2 185.2,246.2 185.2,245.2 187.2,243.2 188.8,243.2 190.2,244.8 190.2,245.8 191.8,247.8 192.8,247.8 193.8,245.8 196.2,243.8 199.2,244.2 200.2,241.2 205.8,235.2 206.8,234.8 210.2,234.8 211.2,234.2 212.8,232.2 213.8,233.2 213.8,234.2 216.2,233.8 218.2,231.2 217.8,228.2 218.8,227.2 219.2,227.2 220.8,228.8 220.8,229.8 221.8,230.2 222.2,229.8 222.2,227.8 225.8,223.8 225.8,222.8 228.8,217.8 228.8,215.2 227.8,213.8ZM183.2,243.2 184.2,244.8 182.2,246.2 181.2,245.8 180.8,244.2 181.8,243.2Z"/>
<path fill="#f20000" d="M172.2,402.2 172.8,403.2 175.8,403.2 176.8,403.8 179.2,402.2 179.8,401.2 178.2,399.8 175.2,398.2 173.2,398.2ZM161.8,398.8 159.8,398.2 158.8,399.2 157.8,403.8 154.2,406.2 154.2,407.8 155.2,408.8 156.8,408.8 157.2,409.2 160.2,409.2 160.8,408.8 160.8,407.8 162.8,405.2 163.2,403.8 162.8,399.8ZM140.8,385.8 134.2,387.2 128.2,391.2 128.2,394.2 127.8,394.8 127.8,404.2 128.2,404.8 128.2,407.8 133.8,408.2 134.8,407.2 135.8,407.2 137.2,406.2 141.8,406.2 143.8,405.2 145.2,405.2 148.8,407.2 149.8,407.2 152.2,405.2 150.2,401.2 146.2,400.8 142.8,396.2 138.8,396.2 136.8,393.8 137.2,391.2 140.2,388.8ZM159.2,388.8 157.2,387.2 155.8,387.2 153.8,385.2 152.8,385.2 152.2,387.2 150.2,389.8 149.2,392.8 151.2,394.2 152.8,392.8 152.8,391.8 154.2,389.8 158.8,390.8 159.2,390.2ZM161.8,381.2 161.8,382.2 165.2,382.2 167.8,383.8 167.2,382.2 165.8,380.8ZM141.2,367.8 139.8,371.8 139.8,373.2 141.2,375.8 140.8,376.2 136.2,376.2 134.8,377.8 134.8,379.2 136.8,379.8 141.8,382.8 143.2,382.8 145.2,383.8 145.2,381.8 142.8,379.2 141.8,376.8 144.2,375.2 145.2,375.8 146.8,375.8 147.2,375.2 145.2,370.8 142.8,367.8ZM135.2,365.8 133.2,366.8 131.2,371.8 132.2,371.8 135.8,368.2 135.8,366.2ZM143.2,323.2 142.2,323.8 141.8,324.8 142.2,325.2 143.8,325.2 144.2,324.8ZM224.2,210.8 220.2,209.2 210.8,207.8 203.2,204.2 200.2,203.8 196.8,202.2 191.8,201.8 191.2,201.2 185.8,201.2 185.2,200.8 166.8,200.8 166.2,201.2 157.2,202.8 148.8,207.2 145.2,210.2 144.2,212.8 143.8,218.8 148.2,232.2 148.2,234.2 146.8,236.2 142.2,239.2 127.8,246.2 119.8,251.2 111.2,253.2 108.8,255.8 108.8,258.8 109.8,262.2 114.8,269.2 118.2,276.8 122.2,282.2 125.8,282.2 126.2,281.8 131.2,281.8 132.8,282.2 133.8,283.2 136.2,288.2 136.2,289.8 137.8,293.2 138.2,296.2 141.2,301.8 143.2,301.8 145.2,303.2 145.8,304.2 145.8,306.2 145.2,306.8 144.2,306.8 141.8,303.8 143.2,306.8 144.2,310.8 145.2,310.2 146.2,311.2 146.2,314.2 147.2,315.8 147.2,316.8 145.2,317.8 144.8,319.8 146.2,319.8 147.2,318.8 148.2,318.8 150.8,321.2 153.8,321.2 154.8,320.8 154.2,312.8 152.2,308.2 152.2,306.8 155.8,305.8 156.8,303.2 158.8,301.2 159.8,299.2 160.2,295.8 159.8,295.2 159.2,290.2 160.8,288.8 161.8,288.8 165.8,286.2 168.8,286.2 172.8,287.8 174.8,287.2 175.8,285.8 175.2,278.8 175.8,277.8 178.8,275.2 179.2,271.8 181.2,269.8 182.8,269.2 182.8,268.8 179.8,269.2 178.2,267.2 178.2,265.2 180.8,261.8 181.8,261.2 184.8,261.2 185.2,260.8 183.8,259.8 182.2,259.8 180.8,260.8 179.8,260.8 177.8,258.8 178.2,251.2 177.2,248.2 177.2,241.2 178.2,240.2 179.8,240.8 185.2,240.8 188.2,239.8 190.2,239.8 192.8,241.8 195.8,241.2 193.8,240.2 193.8,239.2 194.8,238.2 196.8,238.2 198.8,239.2 202.8,234.8 206.2,233.8 207.8,232.8 209.8,230.2 211.8,229.2 215.8,225.2 219.2,223.2 222.2,224.8 223.2,223.8 223.2,221.8 222.8,221.2 223.2,215.8 222.8,215.2 223.2,213.8 224.8,212.2ZM204.8,224.8 205.8,225.8 205.2,227.2 203.8,226.2ZM204.8,221.2 205.8,219.8 206.2,219.8 207.2,221.2 206.2,222.2Z"/>
<path fill="#d90000" d="M134.8,394.8 133.8,394.2 132.8,394.8 130.2,394.8 129.8,395.2 129.8,396.8 130.8,397.8 134.8,396.8ZM206.8,229.8 204.2,229.8 201.8,230.8 201.8,231.2 202.8,232.2 205.2,232.2 206.2,231.8ZM214.8,208.8 211.8,210.2 211.8,212.2 213.2,213.8 213.2,218.8 212.2,219.8 210.2,220.2 209.8,223.8 208.8,225.2 208.8,227.8 209.2,228.2 211.2,226.8 211.2,224.2 212.8,222.8 215.2,222.2 218.2,220.8 219.8,219.2 219.8,213.2 217.2,211.8 216.2,209.8ZM198.2,202.8 194.8,201.8 185.8,201.2 185.2,200.8 166.8,200.8 163.8,201.8 158.8,202.2 150.2,206.2 145.2,210.2 143.8,214.8 143.8,218.8 144.2,219.2 144.8,222.8 148.2,232.2 148.2,234.2 146.8,236.2 142.2,239.2 127.8,246.2 119.8,251.2 111.2,253.2 108.8,255.8 108.8,258.8 109.8,262.2 114.8,269.2 118.2,276.8 122.2,282.2 125.8,282.2 126.2,281.8 131.2,281.8 132.8,282.2 133.8,283.2 136.2,288.2 137.8,294.8 139.8,298.8 141.8,297.8 143.2,295.2 145.2,296.8 148.8,295.8 153.8,300.2 154.8,300.2 155.2,299.2 157.8,297.2 157.8,293.2 156.8,289.8 156.8,282.2 154.2,278.2 153.8,275.2 154.2,274.8 156.8,275.2 157.8,276.2 162.2,278.2 163.8,279.8 163.8,281.2 162.8,282.2 159.8,282.2 158.8,283.2 158.8,285.8 161.2,286.2 164.2,284.2 170.2,284.2 172.8,285.8 174.2,284.8 174.2,282.8 172.2,280.2 172.2,279.2 176.2,274.8 176.2,272.8 176.8,272.2 176.2,265.8 177.2,263.8 177.2,261.2 175.8,258.8 176.2,254.2 174.8,251.8 174.8,250.2 175.2,249.8 174.8,240.2 177.8,236.2 180.8,237.8 181.8,237.8 184.8,235.8 185.8,235.8 187.2,236.8 188.8,236.8 193.2,234.2 197.8,234.2 198.8,233.8 199.8,231.2 200.8,230.2 200.2,228.8 200.2,223.8 201.2,222.2 201.2,220.2 198.8,217.8 197.8,215.2 197.8,212.2 199.8,208.8 199.8,206.2ZM140.2,290.2 141.8,290.8 141.8,292.8 141.2,293.2 140.2,293.2 139.2,292.2 139.2,291.2Z"/>
<path fill="#bf0000" d="M180.2,231.8 180.2,233.2 181.2,233.8 183.8,232.8 182.2,230.8 181.2,230.8ZM194.8,201.8 185.8,201.2 184.8,203.2 184.2,207.2 182.8,208.8 181.2,208.8 178.8,206.8 178.8,204.8 179.2,204.2 178.8,202.2 179.8,200.8 175.2,200.8 174.8,201.2 174.2,200.8 166.8,200.8 166.2,201.2 157.2,202.8 150.2,206.2 145.2,210.2 143.8,214.8 143.8,218.8 148.2,232.2 148.2,234.2 146.8,236.2 142.2,239.2 127.8,246.2 119.8,251.2 111.2,253.2 108.8,255.8 108.8,258.8 110.8,264.2 114.8,269.2 118.2,276.8 122.2,282.2 131.2,281.8 133.8,283.2 136.2,288.2 136.2,289.8 139.8,286.8 142.2,286.2 143.8,287.8 144.8,290.8 147.8,290.8 149.2,289.8 150.2,289.8 153.2,292.2 153.8,291.8 153.8,289.8 150.2,287.2 150.2,285.2 150.8,284.2 153.2,282.2 153.2,280.8 150.2,276.8 149.8,275.2 152.8,271.8 154.2,271.2 156.2,271.8 158.8,274.2 163.2,276.2 166.2,278.8 169.2,278.2 173.2,275.2 175.2,269.2 175.2,266.2 174.8,265.8 175.8,262.2 174.2,259.2 174.2,255.8 171.2,251.8 171.8,248.2 169.2,245.2 167.8,242.8 167.2,240.8 169.2,239.2 170.8,239.2 173.2,238.2 173.8,237.2 173.8,234.2 175.2,230.8 175.2,229.2 178.8,226.2 179.2,225.2 178.8,221.2 177.8,219.8 178.2,218.2 182.2,218.8 183.8,219.8 184.8,221.8 184.8,223.8 182.8,226.2 183.8,226.2 184.8,225.2 186.2,225.2 188.8,228.8 188.8,230.8 186.8,232.8 187.2,233.8 189.2,233.8 191.8,231.2 193.8,230.2 195.2,230.2 197.2,228.2 197.8,227.2 197.8,222.2 196.2,221.2 194.8,221.2 194.2,220.8 194.8,218.8 191.8,215.8 189.2,215.2 188.2,214.2 196.2,205.8 196.2,204.2ZM167.2,258.2 167.2,259.2 165.8,260.8 161.2,260.8 159.2,259.2 159.8,257.8 162.2,256.8 163.8,255.2 164.8,255.2Z"/>
<path fill="#a60000" d="M169.2,263.2 168.2,263.2 167.2,264.2 167.2,266.8 164.8,270.2 165.2,274.8 166.2,276.2 168.8,276.2 169.8,275.8 171.2,273.8 171.2,271.2 173.2,269.2 173.2,266.8ZM187.2,217.8 186.2,219.2 187.2,221.2 189.2,221.8 190.2,220.8 190.2,219.2 189.8,218.2ZM188.2,205.2 186.8,205.2 186.8,210.8 188.2,209.8 188.2,208.2 188.8,207.8 188.8,205.8ZM171.8,200.8 166.8,200.8 163.8,201.8 161.2,201.8 159.2,204.2 155.2,203.8 148.8,207.2 146.2,209.2 144.8,211.2 143.8,214.8 143.8,218.8 148.2,232.2 148.2,234.2 146.8,235.8 146.2,237.2 151.2,238.2 153.8,239.8 154.8,239.8 155.8,240.8 155.2,244.2 153.8,245.8 152.2,245.8 150.2,243.8 148.2,243.8 146.8,244.8 144.8,244.8 142.8,242.2 142.8,239.8 141.8,239.2 127.8,246.2 119.8,251.2 111.2,253.2 108.8,255.8 108.8,258.8 110.8,264.2 114.8,269.2 118.2,276.8 122.2,282.2 125.8,282.2 126.2,281.8 131.2,281.8 132.8,282.2 133.8,283.2 135.2,286.8 137.2,286.2 139.8,284.2 142.2,284.2 144.2,285.8 145.8,288.8 147.2,288.8 147.8,288.2 148.8,284.8 148.8,280.8 147.8,279.2 146.8,273.8 148.8,271.2 149.2,269.8 148.2,267.8 146.8,267.8 144.2,269.8 142.8,269.2 141.2,267.8 140.2,265.8 140.2,264.2 141.2,262.2 143.2,260.2 146.2,260.2 148.8,261.2 152.2,264.2 153.2,265.8 153.8,268.2 154.8,268.8 157.2,268.8 157.8,268.2 157.2,263.8 155.8,259.2 155.8,255.8 150.8,254.2 149.2,252.8 149.8,251.8 152.8,249.2 156.8,249.8 158.2,247.8 159.8,247.2 162.2,250.8 165.8,252.2 166.8,253.2 170.2,259.2 171.2,260.2 172.2,259.8 171.8,258.8 171.8,256.2 168.8,251.8 168.8,249.2 167.8,245.8 164.2,240.8 164.2,238.8 166.2,237.2 169.8,237.2 171.2,235.2 171.8,230.2 169.2,228.8 167.2,226.2 169.8,225.2 175.8,225.8 177.2,224.8 177.2,222.8 173.8,218.8 171.2,218.8 170.2,218.2 169.2,216.8 170.8,214.8 173.8,213.8 175.8,213.8 179.2,215.2 181.2,215.2 181.2,214.2 180.8,213.8 180.8,211.8 179.8,210.2 172.2,203.2ZM123.8,274.2 125.2,274.2 128.2,275.8 127.8,279.2 126.2,280.8 122.8,279.8 121.8,278.2 121.8,276.2ZM163.8,222.2 165.8,223.8 166.2,224.8 165.8,225.8 163.2,225.8 162.2,224.8Z"/>
<path fill="#8c0000" d="M108.8,256.8 108.8,258.8 109.8,262.2 111.8,265.2 111.2,262.8 112.8,260.2 110.2,257.2ZM113.2,252.8 113.8,253.8 114.8,254.2 115.2,253.8 117.8,253.8 119.2,255.8 118.8,257.2 117.2,258.2 119.8,261.8 118.2,266.2 116.2,268.2 113.8,268.2 113.2,267.8 114.8,269.2 119.2,278.2 119.8,275.8 123.8,271.8 125.2,271.2 131.8,271.2 133.8,272.8 133.8,273.8 132.2,276.8 130.8,278.2 129.8,281.8 131.2,281.8 135.8,283.2 139.2,282.2 143.2,279.8 143.8,278.2 142.8,276.2 142.8,274.2 140.2,269.8 138.8,268.2 132.8,267.2 130.8,268.2 127.8,268.8 126.2,267.2 126.8,264.8 127.8,263.2 127.8,258.8 127.2,258.2 127.8,254.8 126.2,251.8 124.8,250.8 121.2,250.2 118.2,251.8ZM137.2,248.8 135.8,247.8 134.2,248.2 133.2,249.8 134.2,250.8 135.8,250.8ZM163.2,245.2 162.8,245.8 162.8,247.8 163.8,249.2 165.2,249.2 165.8,248.8 165.8,246.8 164.8,245.2ZM166.2,205.2 162.8,204.8 160.2,207.2 157.8,207.2 155.2,205.8 152.2,205.2 150.2,206.2 150.8,208.2 149.8,209.2 147.8,209.2 147.2,208.8 145.2,210.2 143.8,214.8 143.8,218.8 144.8,222.2 147.2,223.8 147.2,229.8 148.2,232.2 148.2,234.2 147.8,234.8 148.2,235.8 153.2,235.8 156.2,237.8 157.8,237.8 160.2,234.8 161.8,234.8 163.2,235.8 166.2,235.8 168.8,234.8 169.2,233.8 168.8,232.8 164.8,229.8 164.2,230.2 161.8,230.2 158.2,224.8 158.8,223.2 162.8,219.8 164.2,219.2 167.2,219.8 167.2,217.8 166.8,217.2 167.2,214.2 163.8,210.2 163.8,208.8 164.2,207.8 166.2,206.2Z"/>
</g>
<path clip-path="url(#cl)" d="M169.2,201.7 170.0,203.6 171.0,204.9 172.7,205.8 174.4,208.3 175.2,209.5 177.5,211.0 179.2,212.0 181.4,214.1 183.2,215.0 184.1,217.6 183.6,220.3 184.0,221.0 184.5,222.6 185.8,225.2 185.8,227.6 186.1,229.3 186.6,230.7 188.0,233.6 190.2,235.0 190.8,237.1 191.8,238.9 191.9,240.6 193.6,244.3 194.3,245.6M183.2,220.5 181.9,221.9 179.3,223.0 177.3,223.8 174.9,225.2 173.7,227.0 171.9,227.3 170.2,230.1 168.4,230.7 166.8,232.3 165.9,234.0 165.3,236.0 163.5,238.4 162.9,239.8 161.3,242.1 159.9,243.2 159.4,246.3 158.3,248.1M147.3,237.5 147.9,239.3 148.7,241.8 150.3,243.3 151.6,245.0 153.1,246.4 155.5,247.3 158.3,248.1M159.1,248.5 158.4,250.2 158.5,252.9 159.3,254.5 158.9,256.9 158.8,259.3 158.5,261.3 157.3,263.7 157.8,265.9 157.0,267.9 157.4,269.8 157.4,272.1M120.3,253.1 121.7,253.6 123.4,255.5 124.4,257.2 125.9,258.6 126.9,261.1 127.2,263.4 128.9,264.9 130.4,265.4 132.6,266.9 133.5,268.9 135.5,270.4 137.1,271.3 138.3,273.0 140.3,274.7M125.6,279.5 127.8,278.4 130.0,277.5 132.1,277.6 134.7,277.1 135.7,276.1 138.7,275.7 139.9,274.9 143.3,273.7 145.2,274.3 147.1,273.7 149.3,272.7 151.3,272.9 153.5,272.9 155.1,272.3 157.8,272.4 159.2,272.6 161.7,272.6 164.2,273.1 166.4,272.1 168.1,273.3 170.5,273.9 172.8,273.7 175.2,274.2 176.0,275.8 178.1,275.8 181.5,276.2 182.8,277.1 185.2,276.8 187.3,278.9 189.3,280.2 189.8,281.9 190.9,284.1M193.9,245.5 193.4,247.5 192.2,249.4 190.6,251.6 189.9,253.9 189.2,256.5 188.2,257.9 187.0,260.2 188.5,262.1 189.1,265.0 190.0,266.8 189.5,269.3 188.4,272.0 187.9,273.7 187.8,276.0 188.5,277.1 189.1,279.9M194.8,245.6 196.7,245.1 199.1,245.3 200.7,245.0 202.8,245.5 204.8,246.3 207.0,247.0 208.9,246.7 211.1,247.9 213.6,248.5 214.5,249.0 217.8,249.5 219.1,250.3 221.2,251.1 223.4,252.1 225.0,249.6 226.5,248.5 227.5,246.3 229.4,245.1 230.9,246.5 231.3,249.8 234.0,251.1 235.6,252.0 236.6,254.1 238.9,255.0M219.3,211.3 219.1,212.9 217.8,215.7 218.1,217.3 217.4,219.0 216.3,221.1 214.9,223.2 215.2,224.9 216.1,227.0 217.0,227.4 218.5,229.0 220.5,231.1 221.0,232.3 223.7,233.8 223.6,235.6 225.4,237.1 223.5,238.7 222.8,241.3 223.7,243.2 226.3,244.1 227.7,245.6M137.7,290.4 140.0,289.8 142.8,289.7 145.2,289.7 147.4,290.2 150.4,290.6 151.5,291.4 153.9,292.1 155.4,294.7 156.7,296.2 158.0,299.3 159.0,298.0 161.1,299.2 162.6,298.5 165.6,297.5 168.2,297.5 169.9,297.1 171.9,296.5 174.2,296.8 176.0,295.6 178.3,294.7 179.9,294.8 181.7,292.6 182.9,292.3 185.1,290.8 187.2,289.4 188.5,287.9 188.8,286.3 191.3,285.5M191.3,285.4 193.3,286.1 195.0,287.2 196.5,287.4 198.2,288.3 200.9,288.4 203.6,289.0 205.0,289.2 206.5,289.8 209.2,289.7 211.7,290.7 213.5,291.5 215.7,291.8 217.1,290.4 219.6,292.2 221.8,292.6 224.4,292.7 225.8,293.9 228.0,294.8 229.3,295.6 231.6,295.1 234.5,294.4M176.0,296.3 178.2,297.9 180.8,298.9 183.3,299.6 184.7,302.1 185.9,303.8 187.0,306.4 189.4,307.1 190.1,308.7 191.6,310.3 193.1,310.5 193.8,313.0 195.4,314.9 196.6,317.3 197.5,319.1M198.2,318.0 199.3,318.3 201.3,317.2 202.6,316.2 205.3,316.1 207.1,314.8 209.2,314.5 211.4,314.2 213.0,313.7 214.9,314.6 217.8,314.5 219.6,315.3 221.9,316.7 223.5,317.2 225.4,317.1 227.4,317.8 229.6,318.5 231.9,319.2 234.9,319.2 236.4,320.2 239.3,320.5M197.9,319.0 195.4,320.3 194.9,320.7 192.9,322.4 190.5,323.6 188.5,324.5 187.7,325.3 184.6,325.0 182.1,325.5 181.0,326.5 178.1,326.8 176.3,327.9 174.4,329.3 173.5,330.4 172.9,333.4 173.6,334.3 173.6,336.3 173.0,338.4 171.8,339.9 172.9,341.9 174.0,344.5 174.5,345.7 176.0,347.1 175.2,349.4 171.9,350.1 170.2,350.0 168.0,349.9M140.7,328.6 142.8,329.0 144.4,329.7 145.9,331.0 148.5,330.7 149.7,332.2 153.0,331.8 154.9,331.4 158.3,332.1 160.1,332.1 162.2,331.9 163.8,331.7 166.0,331.7 167.7,330.8 169.9,332.6 171.3,332.8 172.8,334.2M141.9,329.9 144.5,331.8 146.1,332.9 147.2,334.6 149.9,335.8 151.1,337.3 152.8,338.6 154.0,339.5 155.9,341.6 157.8,343.0 158.4,344.0 159.1,345.2 161.3,346.8 163.9,348.7 165.6,349.8 168.0,350.2M168.1,350.6 167.7,352.8 167.2,354.8 167.1,356.8 167.8,358.7 167.7,360.7 168.3,361.8 167.5,364.4 166.3,366.1 165.9,367.8M167.5,367.6 170.3,366.7 173.3,366.3 175.4,365.7 177.4,365.2 179.7,366.2 182.1,366.3 183.8,365.8 186.2,366.5 188.7,366.4 190.9,366.7 192.7,367.6 194.5,367.5 197.4,367.8 199.3,367.5 201.9,366.9 203.0,367.4 206.2,367.9 207.8,367.8M187.1,325.5 189.6,326.7 191.5,326.7 193.6,328.1 196.0,328.9 197.7,329.2 199.6,330.4 201.8,332.1 203.9,332.6 206.8,334.3 208.4,333.7 211.0,335.8 213.7,336.0 215.1,335.7 217.7,335.1 219.4,334.8 221.6,334.3 223.7,334.3 225.5,334.4 228.1,333.2 230.1,333.7 231.9,334.5 234.4,334.9 236.3,334.5 238.8,336.0 240.0,335.5M213.5,336.6 212.4,337.6 211.8,340.5 210.5,341.5 209.8,344.0 210.2,345.8 209.0,349.1 209.1,350.2 208.6,351.9 209.4,354.5 209.5,357.1 209.0,358.8 209.7,361.2 209.7,362.8 210.0,365.2 209.8,367.8M236.7,212.1 237.7,215.4 237.4,216.3 238.4,219.1 237.5,220.9 237.3,224.1 237.6,225.6 237.5,228.6 237.5,230.5 237.8,232.6 237.4,235.0 238.4,236.9 237.5,238.7 237.9,241.3 237.8,243.7 237.3,246.2 238.0,248.1 238.0,250.7 238.0,252.3 238.0,254.9M230.4,245.1 230.2,246.5 230.9,248.5 231.2,250.9 233.0,252.2 234.8,252.6 236.2,253.6 238.2,254.9 239.7,255.9 241.8,256.1 243.1,257.1 246.1,257.8 248.1,258.4 250.5,259.7 252.8,259.8 255.0,260.2 257.5,260.1 260.0,261.6 262.3,262.1 264.3,263.1M240.2,255.8 240.1,257.5 239.1,260.2 239.1,262.4 237.9,263.9 237.4,266.9 237.2,269.2 236.4,271.6 236.6,273.6 235.7,276.7 235.4,278.0 234.9,279.9 234.1,282.3M260.9,212.2 262.1,213.2 262.2,216.9 262.2,218.4 263.5,220.4 263.3,222.6 262.5,224.8 263.4,227.1 264.4,229.1 264.0,231.4 264.7,234.0 264.6,235.6 264.9,238.6 266.3,240.2 266.8,242.3 267.4,244.4 268.2,247.2 268.2,248.4 267.5,251.2 267.5,252.9 267.3,255.5 266.1,256.6 265.3,259.2 265.3,260.8 264.7,263.3 264.7,264.9 265.1,266.8 264.0,270.2 264.3,271.3M283.8,212.8 283.6,215.1 284.1,217.6 284.0,219.4 283.1,221.8 284.2,224.2 283.5,226.3 283.4,228.1 283.0,230.2 283.5,232.4 283.7,235.3 283.8,236.7 283.0,238.7 282.9,241.1 283.3,243.3 283.2,245.5 283.0,247.3 283.7,250.1 282.6,251.5 282.7,254.1 283.4,256.6 283.2,258.8 283.2,260.8 282.9,262.6 282.0,264.8 283.3,266.8 282.3,269.5 282.5,271.3M264.3,271.1 267.2,271.6 269.1,271.1 271.3,271.5 273.7,271.8 276.1,271.4 278.2,270.9 280.5,271.6 282.5,271.3M264.1,271.0 263.9,273.3 263.7,276.2 262.9,278.5 263.3,281.3 263.5,283.1 263.1,285.3 263.7,288.6 263.6,290.0M283.1,271.9 284.2,269.3 284.8,268.4 287.2,267.8 288.3,265.8 290.6,264.3 291.9,263.5 294.3,262.7 296.3,262.4 297.5,264.0 298.3,264.1 299.2,265.9 299.2,268.1 300.0,269.5 301.2,272.2 303.2,273.3 305.5,273.9 306.8,272.6 309.7,272.5 311.7,272.7 313.5,272.1 315.9,272.0 318.4,272.0 319.9,270.7 322.8,270.5 324.1,269.4 326.3,269.0 327.9,268.6 329.9,268.9 331.6,268.4 334.2,268.1 335.6,268.0 337.4,268.3 339.3,268.2 341.9,266.7 343.4,266.3 344.8,265.7 347.5,265.8 350.0,265.1M347.0,212.6 346.9,215.7 347.9,217.1 348.4,220.5 348.4,222.5 347.3,224.7 347.9,226.8 346.4,229.1 346.1,230.5 345.8,232.2 345.2,234.6 345.0,237.0 344.9,238.5 344.8,241.5 345.0,243.3 344.7,245.6 345.9,248.2 346.2,249.7 347.8,252.7 347.7,253.3 346.8,255.0 347.0,258.3 346.6,260.3 346.6,262.1 346.0,264.2 345.2,265.8M339.8,268.1 341.6,268.6 343.6,270.4 345.1,271.6 347.1,272.0 348.3,273.4 350.0,274.7M342.1,290.1 342.5,287.7 343.2,285.8 345.6,286.3 347.5,285.4 350.0,285.0M165.0,367.6 165.9,370.5 165.0,372.0 165.5,374.3 165.2,376.1 165.1,379.0 165.0,380.3 165.1,382.6 165.5,384.5 165.6,386.6 166.5,387.8 165.8,390.0 166.2,392.0 166.8,394.7 166.7,396.5 167.0,398.9 167.3,400.6 167.7,402.3 168.2,403.7 168.0,406.9M207.2,367.5 208.6,369.7 209.8,372.0 211.6,373.8 212.6,374.9 215.1,376.1 215.2,377.3 218.4,376.5 220.9,377.0 222.9,377.8 224.9,378.2 227.0,378.4 229.5,378.5 232.5,379.0 233.4,379.2 235.6,379.6 238.0,380.0 240.0,380.1 242.7,381.2 245.1,381.3M215.8,376.8 216.5,379.5 217.3,380.9 217.3,382.7 217.3,385.4 217.4,387.8 216.6,389.0 216.3,391.5 215.8,393.7 215.4,396.0 214.4,397.7 213.4,399.8 212.0,402.9 211.0,403.8 210.0,406.9M235.4,280.4 235.4,282.1 235.3,284.0 235.0,286.8 235.3,288.0 235.0,291.3 235.1,292.9 234.4,295.6 234.4,297.2 234.5,300.0 233.9,302.3 234.4,305.4 234.9,307.0 235.2,309.0 236.5,310.3 236.7,313.2 236.9,315.1 238.5,316.8 238.9,319.8M229.8,319.1 232.6,318.8 234.9,319.5 237.1,320.0 239.0,320.0 240.6,319.5 243.2,320.2 246.3,319.9 248.1,320.4 250.0,321.7 251.3,323.8 252.4,324.9 253.4,326.3 256.2,325.4 258.8,326.1 260.5,326.2 262.9,326.6M263.0,280.0 263.0,281.9 262.4,284.3 262.5,286.6 262.1,288.2 262.1,290.9 262.4,292.4 262.9,294.5 263.9,295.8 263.7,297.8 264.6,300.4 263.7,302.4 263.4,305.3 262.4,306.4 260.8,309.4 260.4,311.0 260.0,312.9 260.6,315.9 260.6,317.7 261.0,319.9 260.9,321.0 261.2,323.4 262.0,324.2 262.8,326.6 263.9,329.1 264.0,330.4 266.0,331.4 267.9,333.2 269.8,333.6 270.7,336.4 272.1,337.9 273.4,339.2 273.5,341.1 272.6,342.6 272.1,344.0 271.1,345.7 270.2,347.6 270.0,348.8 269.6,351.2 269.8,352.8 270.5,356.1 270.7,358.3 269.1,360.0 268.3,362.7 267.5,363.9 266.4,365.3 266.1,368.1 265.7,370.0M264.5,302.7 265.9,303.7 268.5,304.6 271.9,305.0 272.4,302.4 274.0,301.1 274.3,298.9 275.9,298.1 277.9,297.8 280.2,299.7 282.3,300.7 283.5,303.2 284.6,304.7 285.5,305.7 288.2,306.7 291.0,308.4 291.1,307.7 293.5,308.5 295.8,307.8 296.7,307.1 298.5,307.5 301.9,309.1 303.6,309.5 307.0,310.5 308.5,311.5 311.1,312.3 311.6,313.7 312.8,315.2 314.2,317.4 315.1,319.5 316.3,321.0 316.9,322.1 318.6,323.6 318.2,325.3 319.2,327.5 318.6,328.8 316.7,330.6 316.8,332.1 316.1,334.2 316.5,335.7 315.2,337.4 315.0,340.3M273.8,340.3 276.2,340.1 278.2,339.7 280.3,340.6 282.6,340.1 284.6,342.0 286.2,342.7 287.9,345.0 289.8,346.4 291.1,346.6 292.5,347.2 295.5,347.2 296.9,347.4 299.1,346.0 300.2,344.4 301.3,342.8 302.3,342.7 305.2,341.4 306.7,341.5 308.2,341.4 309.7,341.4 312.7,340.5 315.0,340.3M282.8,340.9 283.5,342.0 283.8,344.1 284.8,346.1 284.1,348.5 284.2,350.6 283.9,352.2 283.5,354.6 283.1,357.5 283.2,359.6 282.6,361.4 283.0,364.1 282.7,365.7 282.5,367.8 284.9,370.0M309.2,340.6 310.1,343.3 310.3,345.5 312.3,347.3 312.5,350.3 313.7,351.6 314.9,354.3 314.7,356.8 313.6,359.3 314.2,361.0 314.2,362.9 313.4,365.7 312.8,367.9 312.3,370.0M315.8,331.7 317.8,331.8 321.5,331.3 321.8,330.7 325.0,331.0 326.5,331.8 329.2,332.4 330.7,332.2 334.0,331.0 336.2,330.6 338.4,329.5 340.3,328.6 341.8,327.5 344.9,327.1 346.1,327.2 347.7,327.6 350.0,328.0M324.5,331.1 324.1,328.0 324.0,327.4 324.9,325.6 324.7,323.3 325.9,321.5 327.0,319.1 328.0,318.0 328.2,316.2 329.5,314.3 329.5,312.8 329.9,310.9 331.2,308.5 332.0,307.1 332.1,304.6 333.0,301.4 334.6,300.3 335.0,298.9 337.4,300.1 339.4,301.1 340.7,298.0 341.2,296.1 341.7,292.9 342.3,291.4 343.0,288.7 343.1,285.3 345.3,285.0 348.0,285.3 350.0,284.8M262.9,326.8 261.2,327.2 259.4,327.3 256.9,328.1 256.6,330.4 254.6,332.3 253.6,334.3 252.6,336.3 252.7,338.6 250.5,337.6 247.6,337.6 246.4,336.4 245.0,335.1 243.5,334.5 240.2,334.7 238.1,335.2 236.0,334.6 234.3,333.1 231.3,333.9 230.0,333.5M230.0,333.9 230.5,335.3 231.0,337.8 231.3,340.1 231.3,341.9 230.6,343.6 231.7,346.1 230.4,348.1 231.0,350.5 231.9,352.8 232.4,354.5 232.7,357.3 233.4,359.0 233.3,361.1 234.9,363.5 234.4,365.0 236.1,367.5 236.9,370.0M229.8,349.2 230.9,351.2 231.3,353.1 231.9,355.3 232.5,356.6 234.1,358.9 234.3,361.2 235.1,363.5 236.0,365.8 236.4,368.4 238.4,370.4 239.1,371.7 240.1,374.2 241.0,376.3 242.3,378.0 243.5,379.4 245.2,381.5 246.6,382.7 247.5,384.7 248.2,387.0 250.2,388.4 251.0,390.6 251.3,393.0 251.7,393.8 252.0,396.2 251.7,398.4 251.6,401.1 251.8,403.7 251.3,406.0M229.7,378.1 231.7,378.9 234.4,379.6 235.6,379.1 238.1,379.1 240.1,379.6 241.8,379.9 243.8,381.0 245.7,381.8 246.0,383.3 247.8,384.8M270.8,345.4 270.4,346.8 269.7,348.5 269.8,351.0 269.9,352.9 269.9,354.6 270.8,357.1 270.3,359.3 268.5,360.9 267.6,363.2 267.1,364.2 266.3,366.4 265.6,368.5 265.2,371.1 265.7,373.3 266.1,375.3 267.7,377.6 265.0,380.5 264.5,382.2 262.3,384.2 262.0,386.5 261.8,389.3 261.8,390.7 261.0,393.3 261.0,395.0 259.9,397.4 260.4,398.9 260.2,401.9 257.6,402.7 256.1,405.3M285.3,344.8 285.0,346.6 285.1,350.4 283.2,351.1 283.2,354.0 283.6,356.2 282.9,357.3 283.0,360.4 282.8,362.2 283.2,364.1 282.8,366.4 282.9,368.8 283.8,370.9 284.6,373.2 286.1,371.6 287.3,369.0 289.3,370.2 290.7,370.8 292.4,371.8 293.6,374.1 295.4,376.6 294.2,378.8 293.7,380.4 296.1,383.1 292.6,384.0 291.6,385.2 290.8,386.3 289.3,387.3 288.8,390.5 288.7,392.9 287.6,395.7M288.5,387.1 286.8,387.0 283.7,385.7 283.5,386.8 280.6,388.1 279.0,388.7 278.3,390.9 276.6,392.3M269.7,396.2 271.1,394.2 272.5,392.9 274.7,392.7 276.3,392.4 277.1,393.8 277.9,396.1 276.7,397.6 275.8,398.4 272.9,398.0 271.2,398.5 269.8,395.7M312.9,344.5 313.5,347.7 315.0,349.6 315.0,351.3 314.5,353.5 314.3,355.6 313.9,358.0 314.5,360.3 313.8,362.5 313.7,363.6 312.7,365.8 311.9,368.4 311.9,370.9 312.4,372.6 311.2,374.4 310.9,376.7 311.0,378.8 311.5,381.0 312.4,383.4 312.2,384.2 311.2,386.9 310.8,388.7 310.8,391.2 310.5,394.7 309.5,396.4M346.1,213.1 345.8,215.6 346.3,217.6 346.1,221.2 346.1,222.2 346.5,224.8 346.4,226.8 345.8,229.1 346.7,230.5 347.7,233.2 347.9,235.1 346.2,237.3 345.4,239.7 344.2,241.2 344.1,243.4 344.2,245.0 346.0,247.3 346.6,248.9 346.3,251.2 346.7,252.9 346.5,253.7 346.2,256.3 345.8,258.8 346.3,260.5 345.5,263.0 344.8,265.1M365.6,213.2 365.5,215.0 365.9,217.8 366.3,219.8 364.2,221.4 363.5,223.5 363.8,224.7 364.6,227.3 364.9,229.6 365.6,231.0 368.0,232.3 366.2,233.1 364.5,235.2 363.1,236.5 360.8,237.4 360.9,238.8 361.0,240.4 361.6,242.3 362.7,244.0 363.8,245.5 363.8,248.5 364.7,250.0 365.1,251.3 365.1,254.2 365.6,256.3 365.7,258.7 365.4,260.3M345.2,245.3 346.6,243.1 347.9,241.7 349.8,240.1 352.4,238.3 355.4,239.0 357.9,239.0 360.6,240.5M339.4,266.6 342.5,266.2 345.0,264.5 347.5,265.3 349.6,265.0 351.2,264.8 353.6,265.6 355.9,263.4 358.2,263.6 360.4,261.5 363.5,261.5 365.2,260.6 367.1,258.8 369.9,257.9 371.8,256.9 373.9,256.5 374.9,256.2 377.6,255.7 379.8,255.4 381.9,253.9 384.1,254.7 386.3,254.2 389.3,254.1 391.2,253.8 392.3,252.9 394.8,252.9 397.3,252.3 400.0,252.6 401.7,251.9 404.5,251.5 405.2,252.8 407.8,254.4 409.2,254.4 410.7,255.4 414.0,254.3 414.2,257.1 414.6,258.8 416.1,261.9 418.2,263.8M397.0,214.1 397.5,216.4 396.8,219.1 397.6,220.9 396.6,223.0 396.1,225.0 396.0,227.3 397.3,229.7 397.5,232.0 397.0,234.2 397.1,236.6 397.4,239.5 397.1,240.7 396.1,243.7 395.1,245.4 394.9,247.8 393.2,250.0 395.2,251.3 395.5,252.8M427.6,213.1 428.2,214.7 428.4,217.5 428.9,220.0 428.4,222.0 428.6,224.4 428.3,226.5 427.5,228.9 427.3,231.3 426.6,233.0 424.6,236.0 424.5,237.7 423.9,239.4 423.9,242.5 423.8,243.3 423.3,246.2 422.8,247.3 422.0,250.5 421.1,251.7 420.7,253.0 420.1,256.2 420.0,257.7 418.7,260.0 417.7,262.3 418.2,263.8M440.0,216.4 439.5,218.8 440.3,220.7 440.1,223.2 440.9,225.9 441.2,226.5 442.5,228.8 442.9,230.5 444.6,232.7 444.9,235.4 444.5,237.1 444.1,239.5 444.8,241.1 444.0,244.5 444.6,245.9 444.2,248.7M388.1,254.1 389.2,256.1 388.6,258.1 389.0,260.9 389.2,262.5 390.5,264.7 391.0,267.5 391.7,269.6 392.4,271.2 392.2,273.3 392.1,275.6 391.4,277.2 391.3,280.1 389.7,281.5 389.9,284.5 390.1,286.6 389.4,288.3 389.4,290.0M417.6,263.9 420.4,264.7 421.8,266.1 423.7,267.8 422.6,269.8 421.8,271.1 421.1,273.6 420.3,276.1 419.6,279.0 418.8,279.9 417.9,282.1 416.8,283.3 415.6,285.9 415.3,288.1 414.1,290.0M423.7,267.4 424.5,265.3 426.3,263.5 427.3,260.9 427.9,258.6 430.0,257.9 431.0,257.0 433.4,255.4 434.6,256.4 437.0,255.8 438.2,256.2 441.0,256.1 442.0,256.3 444.7,256.1 445.5,257.5 447.2,258.9 448.3,259.8 449.1,262.8 451.7,264.8 452.3,266.3 452.5,268.7 452.1,271.3 451.3,272.5 451.3,274.5 451.4,276.1 451.2,279.2 450.6,281.5 451.0,283.1 450.0,285.2 449.6,287.3 449.0,290.0M438.5,255.8 439.9,253.9 441.8,251.3 443.0,250.1 444.2,249.2 447.0,248.8 449.0,249.0 451.0,248.2 454.0,248.7 455.2,247.6M452.3,268.1 455.2,268.2 457.7,267.6 460.0,267.9M340.5,271.9 341.3,271.3 343.4,272.1 344.8,272.1 346.8,273.1 348.5,274.0 349.1,276.5 351.3,278.8 350.4,281.5 350.1,283.5 348.5,284.9 347.9,285.3 344.9,286.0 342.7,287.0 342.7,288.5 342.1,290.0M350.8,278.6 353.2,280.5 354.9,282.6 355.4,283.9 356.8,286.0 357.4,287.5 356.5,290.0M340.3,300.4 341.3,298.6 341.6,296.6 342.2,293.5 342.9,291.6 343.0,289.3 343.2,286.6 344.1,285.9 346.7,285.3 347.6,285.0 349.7,283.7 350.7,281.7 352.3,280.0M353.2,280.5 354.6,281.6 355.4,283.7 356.7,285.6 356.8,288.1 357.0,290.4 357.2,292.3 356.6,295.1 355.8,297.2 354.4,299.3 355.7,300.9 356.3,304.4 357.9,305.0 359.4,308.0 360.6,310.6 363.1,311.9 363.3,313.8 364.4,315.9 364.5,317.8 365.5,319.9 364.8,321.8 365.0,323.6 364.8,324.8 363.7,327.7 361.5,329.4 361.0,331.0 360.6,332.8M389.8,280.3 390.2,282.4 389.0,284.7 388.5,287.6 390.0,288.9 390.4,290.2 390.7,292.1 392.1,295.1M392.0,295.3 389.9,296.9 388.1,297.7 386.4,298.1 385.0,298.1 382.9,297.6 380.9,297.3 379.2,296.9 377.9,296.2 375.5,296.2 374.0,298.0 372.8,300.6 372.2,301.8 371.8,304.5 370.9,305.7 371.0,309.1 372.4,310.8 371.9,313.4 372.5,315.8 372.5,317.7 372.8,320.1 372.4,322.4 372.3,324.0 372.4,326.7 369.8,327.8 369.1,329.0 368.2,329.8 365.1,330.3 362.3,331.7 360.6,332.8M392.1,295.0 394.6,294.9 397.1,294.1 399.2,293.4 401.2,293.6 402.9,291.8 404.9,293.7 407.2,292.1 409.5,291.9 411.9,290.4 413.6,289.5 415.7,289.0 418.2,288.2M414.6,290.4 414.9,287.8 415.6,286.5 417.4,284.9 418.3,282.3 419.5,280.0M417.4,289.3 419.2,291.0 420.1,291.2 421.9,293.1 423.7,294.4 424.8,295.7 425.5,297.4 426.5,299.6 427.8,301.9M427.9,303.2 429.5,301.4 432.6,301.0 435.2,300.2 437.2,299.1 439.5,298.3 441.6,296.9 442.6,295.6 445.4,294.7 447.2,293.2 448.1,292.3 448.0,290.2 450.4,287.9 450.3,286.2 450.4,284.0 449.9,281.9 450.4,280.0M441.3,297.6 443.4,298.7 445.8,298.3 448.0,299.4 449.8,299.6 453.2,300.1 455.0,299.6 457.7,299.6 460.0,299.2M457.1,300.6 456.2,302.3 456.0,305.2 456.3,307.5 457.1,310.2 457.0,311.6 457.7,314.2 457.9,316.8 458.7,319.3 458.7,321.0 460.0,322.5M427.9,301.6 427.6,303.9 427.8,305.5 427.4,309.1 427.3,310.8 427.6,312.9 428.4,314.3 427.0,316.1 425.2,318.6 422.5,319.9 420.7,321.4 420.2,322.5 419.7,325.3 418.6,326.1 416.8,326.6M339.7,328.3 341.8,327.2 344.5,326.6 345.2,327.4 347.8,327.4 350.1,327.8 351.9,329.8 354.7,330.7 355.5,332.9 357.6,334.0 358.6,334.0 360.4,332.9 362.8,332.5 364.6,331.7 367.4,331.5 370.1,330.7 372.2,329.6 374.8,328.5 376.5,327.4 378.5,327.6 381.1,325.9 383.4,325.9 385.3,325.4 387.9,324.6 390.6,324.3 393.0,324.5 394.8,325.1 396.8,325.1 398.5,326.0 399.8,326.9 402.2,326.8 403.6,328.3 405.3,329.5 407.2,328.3 408.5,327.7 411.1,327.5 413.2,327.0 415.8,327.1 416.5,326.8 417.5,326.6 420.9,326.9 422.3,326.9 424.9,327.3 426.8,327.7 429.7,327.6 430.8,327.9 433.8,327.8 435.4,328.5 437.2,330.0 438.4,331.5 440.8,332.8M440.9,332.7 443.0,331.2 444.3,330.0 447.3,329.7 448.4,327.6 451.2,326.9 453.5,326.0 456.2,325.9 457.9,327.0 460.0,326.6M441.1,332.2 441.2,334.9 440.2,337.4 439.5,339.1 439.4,340.9 438.2,342.8 440.6,343.7 442.7,345.5 444.5,347.7 446.0,348.8 447.5,349.7 448.6,351.2 450.9,351.8 452.9,354.6 454.6,355.9 456.1,356.4 458.0,358.0 460.0,360.2M399.9,327.0 401.3,328.6 402.2,331.1 403.3,334.1 403.1,334.8 404.1,338.0 403.5,338.6 402.6,341.2 402.4,343.4 402.0,345.5 401.2,347.6 401.8,350.8 401.5,352.4 401.1,354.6 400.4,356.6 399.5,358.1 399.3,360.2 400.0,362.3 400.4,365.5 400.5,367.1 401.0,370.0M356.8,334.2 356.1,335.9 353.7,337.1 354.3,340.1 354.5,342.2 354.8,344.7 356.5,346.9 357.1,349.0 357.6,351.0 357.9,353.6 358.3,356.3 358.8,358.7 359.5,360.4 359.9,362.1 361.2,364.8 360.8,368.2 361.3,370.0M360.2,332.6 362.8,333.0 365.2,333.8 367.7,334.1 367.5,336.1 367.2,338.7 366.1,340.3 367.0,341.5 366.0,344.1 367.2,346.1 367.0,347.6 366.4,349.5 365.7,351.1 367.3,353.0 368.1,355.0 368.7,356.4 371.2,357.5 373.1,358.3 374.4,356.9 375.4,354.1 377.7,354.8 379.6,354.5 381.9,355.6 383.3,356.9 385.2,357.2 387.9,357.8 390.2,358.1 392.2,359.3 394.8,358.8 397.3,358.7 399.7,358.2M460.0,360.4 458.3,362.1 456.5,362.8 454.8,363.9 453.9,364.2 452.2,365.1 449.4,366.5 447.2,368.5 445.6,370.0M354.6,344.0 355.0,347.0 356.8,349.2 357.6,352.1 357.7,354.2 357.8,356.8 359.0,358.3 358.1,360.5 359.9,363.3 360.4,365.4 360.2,368.3 361.5,370.6 361.2,373.2 362.1,375.7 362.6,377.7 363.2,378.9 363.8,382.2 364.5,383.3 364.2,386.1 365.2,387.4 364.5,389.1 363.5,391.7 362.4,393.7 362.8,395.5 362.6,397.8M401.4,345.3 401.2,347.5 400.3,350.2 400.3,351.5 400.7,354.1 400.3,356.0 400.6,358.7 400.3,360.1 400.1,363.2 400.3,365.3 401.1,368.4 401.2,370.7 401.5,372.9 402.1,374.5 402.9,376.8 403.1,378.8 403.8,380.4 402.4,382.2 402.0,383.7 400.3,386.4 398.8,387.6 397.7,389.1 397.3,391.5 395.3,392.9 394.6,394.7 393.5,396.4M401.3,373.3 403.6,373.4 406.3,373.7 408.5,374.2 411.6,374.6 412.9,374.8 414.3,375.4 416.6,375.7 419.0,376.4 422.0,377.0 423.6,377.2 426.1,377.2 427.1,378.3 429.8,379.2 430.8,380.6 432.7,381.0 434.6,382.0M460.1,361.4 457.4,361.8 457.0,362.7 455.6,364.1 452.9,365.4 449.9,366.1 447.9,367.6 447.0,368.6 444.6,369.1 442.6,370.9 441.8,373.0 441.5,374.6 440.2,375.9 438.9,377.8 436.6,379.3 435.7,381.0 434.7,382.0 434.3,384.2 432.6,386.5 431.8,388.5 431.6,390.8 430.7,391.9 430.9,394.8 431.5,396.4 431.9,397.8M439.4,345.1 441.4,346.3 442.5,347.7 444.8,349.3 447.6,350.6 449.4,352.6 451.7,353.2 452.9,355.4 454.8,355.3 456.0,357.5 457.8,358.1 460.0,359.4M470.5,221.0 468.2,221.5 467.0,222.9 465.0,223.4 463.1,224.2 461.8,224.1 459.8,224.1 459.8,226.6 459.9,229.6 461.1,231.6 459.5,233.2 459.2,235.1 458.6,237.6 459.1,239.2 459.9,241.3 460.3,243.9M449.3,248.4 452.5,248.0 453.5,245.8 455.2,246.8 457.1,246.5 458.8,245.4 461.0,244.7 462.7,244.1 465.6,243.5 467.3,243.0 469.7,244.0 472.7,244.7 474.8,245.2 476.6,245.2 478.3,246.9 480.2,247.3M488.9,222.9 489.5,225.0 491.0,227.6 491.5,230.3 490.6,231.0 490.5,233.6 489.5,235.4 487.3,235.3 485.8,236.7 483.9,237.4 482.9,237.2 481.1,238.8 480.2,240.0 481.0,242.5 480.6,245.3 479.5,247.5 480.1,250.3 479.7,252.5 479.6,254.7 479.9,257.3 479.7,259.1 479.4,260.6 478.5,263.4 478.5,265.0 478.5,266.6 478.3,269.4 478.0,270.9 478.2,273.5 476.7,275.2 475.9,276.8 475.3,279.2 476.5,281.9 476.7,284.0 477.3,285.2 477.1,287.9 477.4,290.0M492.1,231.9 492.9,232.1 495.8,234.2 497.0,235.6 497.9,235.9 500.4,235.7 502.3,234.6 504.1,233.6 505.9,231.6 508.4,229.3 509.7,228.1M506.1,231.6 506.1,233.3 505.0,235.4 504.6,237.2 505.4,238.8 506.1,241.1 505.7,242.7 506.2,244.7 506.2,247.5 506.2,249.2 503.3,250.3 501.4,251.1 501.1,253.8 501.6,255.8 501.7,258.5 501.1,260.6 501.0,262.2 501.1,264.5 501.3,267.1 502.2,268.8 501.6,270.4 500.3,272.7 501.0,275.3 501.7,276.9 501.3,279.3 500.8,281.2 500.9,283.6 500.4,284.2 500.7,287.1M512.5,231.9 513.5,233.2 514.0,235.0 514.7,236.8 513.8,239.2 513.5,240.1 514.1,242.6 511.9,244.4 511.3,245.1 512.4,247.9 513.1,249.3 513.7,251.0 515.0,252.8 517.0,254.5 516.9,257.6 516.5,259.3 516.1,261.3 516.4,263.8 516.7,265.3 517.3,267.0 517.6,269.8 517.4,272.3 518.8,274.2 518.7,275.8 519.3,278.0 520.2,280.0 522.0,280.9M535.1,225.3 535.6,227.8 537.0,229.2 537.7,231.6 539.4,232.9 542.3,234.3 544.0,235.8 544.8,237.0 546.8,237.9 547.9,239.2 550.2,240.9 552.2,241.7 550.1,243.6 548.6,245.0 549.1,247.6 548.4,250.6 546.2,250.8 544.1,251.3 542.1,251.6 539.9,251.9 537.6,252.6 537.4,255.8 536.5,257.6 536.0,260.3 536.8,262.3 536.5,263.6 536.3,266.7 536.2,268.0 535.7,270.8 535.3,272.9 533.6,275.3 532.0,275.8 530.7,277.7 528.4,278.4 527.0,279.7 523.9,280.2 522.1,279.7 519.9,279.5M547.9,249.9 549.6,250.9 551.1,252.9 553.2,254.8 552.9,256.4 555.8,259.6 557.1,260.6 557.5,262.2 559.3,264.2 559.4,266.2 561.4,267.9M535.3,274.7 536.9,276.2 539.5,275.7 541.2,276.8 543.4,276.4 545.2,276.9 547.6,276.1 550.3,276.4 550.9,276.0 552.5,276.0 555.6,277.4 557.7,276.8 560.0,276.9 561.3,278.5 563.6,279.7 565.6,279.9 566.4,281.1 567.8,282.5 570.0,282.3M525.4,279.9 525.6,283.2 524.8,284.6 523.8,287.2 523.4,290.0M538.8,277.8 539.2,280.4 539.1,282.3M551.7,221.6 552.5,224.3 553.4,225.0 555.3,226.9 555.8,227.5 557.6,227.5 560.1,227.9 561.5,229.3 564.6,229.4 566.5,231.3 568.4,231.9 570.0,232.2M452.4,268.4 454.7,268.5 457.3,267.6 458.9,268.6 462.2,268.1 464.2,267.7 466.0,268.0 468.5,268.8 470.1,270.0 472.6,268.8 474.7,267.8 476.6,269.8 478.1,271.3M476.7,280.5 476.5,281.9 477.2,284.4 478.0,286.3 479.0,289.5 480.9,291.3 482.8,292.9 484.6,294.8 485.1,298.2 486.1,299.8 486.6,302.5 487.6,303.5 488.6,305.3 489.3,307.3 491.4,307.6 493.1,307.6 495.1,308.1 496.6,307.1 498.6,306.5 499.2,308.1 499.5,309.5 499.9,311.6 499.9,313.5 500.4,315.9 501.5,316.5 502.6,315.9 504.4,315.4 506.6,314.7 509.0,312.9M484.5,292.7 486.5,292.1 487.2,290.1 489.6,288.6 492.0,288.4 493.5,287.1 494.5,286.5 496.8,286.3 498.1,285.8 500.6,286.3 502.6,286.3 504.8,286.5 507.4,286.4 509.0,286.4 511.5,286.8 513.4,286.2 515.1,285.4 517.3,286.0 518.2,284.4 521.0,282.2 522.7,280.0M500.4,279.9 500.8,282.0 501.0,284.1 500.1,286.2M526.4,279.8 525.5,281.7 525.4,284.3 524.8,285.0 524.1,287.3 524.0,290.1 523.0,292.2 523.0,294.8 521.8,297.2 521.5,299.0 520.4,301.6 518.8,303.0 518.2,304.6 517.3,306.2 515.8,307.4 514.7,309.0 512.5,310.3 511.5,311.9 509.0,312.9M509.0,312.2 510.1,315.0 511.3,316.2 511.6,318.2 512.3,319.6 512.9,321.9 513.6,324.5 513.9,325.8 514.9,327.8 516.7,329.3 517.9,330.0 520.0,331.4 521.6,332.4 523.4,333.5 524.6,334.8 524.7,336.6 525.6,338.0 525.4,340.8 526.9,342.1 527.7,344.6 528.8,345.2 530.4,346.8 531.6,348.6M538.6,279.9 539.3,282.2 539.0,284.6 542.0,285.3 543.2,287.0 544.8,287.8 544.7,291.0 545.6,292.6 546.7,295.5 545.6,297.0 544.6,300.2 543.2,301.3 544.3,304.4 545.4,306.2 546.1,308.2 548.2,310.8 549.6,311.4 549.0,313.5 549.0,315.0 548.6,316.7 547.6,318.5 546.4,321.4 546.2,322.9 544.8,324.0 543.3,326.3 542.3,328.9 542.0,331.2 541.3,333.4 540.5,336.2 540.7,338.5 539.1,340.5 538.1,342.6 536.9,344.5 535.2,345.7 532.7,347.6 531.6,348.6M549.7,310.5 551.0,309.6 552.5,309.2 554.1,308.3 556.0,306.5 557.9,307.0 559.7,305.6 561.1,305.4 563.8,304.9 567.1,304.6 566.3,301.9M531.9,348.5 533.5,349.6 536.1,350.4 537.8,351.0 539.0,351.8 541.4,352.3 543.6,353.0 544.3,354.8 546.1,356.7 544.1,358.6 543.9,361.2 544.8,362.4 546.5,365.0 547.9,366.9 550.4,368.4 551.9,369.0 554.2,370.0M546.3,360.9 548.0,359.0 549.5,358.5 551.3,356.7 553.1,357.4 555.2,355.9 556.7,354.9 559.3,355.3 561.4,356.2 564.2,356.3 565.2,356.1 568.4,356.1 570.0,356.8M532.1,348.5 531.0,350.2 529.3,351.8 529.4,353.9 527.5,356.2 526.4,357.6 526.2,359.6 524.7,360.9 522.0,362.4 521.3,363.6 520.1,366.0 518.6,368.3 518.6,370.0M532.4,348.7 529.6,348.6 528.0,348.9 526.6,350.5 523.8,350.9 521.4,350.2 519.8,350.2 517.3,350.6 515.9,351.6 514.1,352.8 511.4,352.9 509.1,354.1 507.0,354.4 505.3,355.2 506.0,357.4 505.1,359.8 504.9,361.7 505.2,364.1 505.1,365.7 506.3,368.3 506.2,370.0M450.1,300.2 451.9,300.1 453.4,300.4 455.9,300.1 457.6,300.2 459.7,298.9 462.6,298.3 463.8,298.1 466.2,297.4 468.6,296.2 470.3,295.6 471.7,293.4 472.8,291.6 474.1,290.9 476.3,289.3 477.4,288.2M456.4,300.8 455.7,303.4 455.8,304.4 455.7,307.1 456.3,309.9 456.7,312.1 458.0,313.7 457.0,316.0 457.9,318.7 458.6,319.9 460.2,319.7 461.8,321.0 463.8,319.9 465.1,319.3 466.2,320.6 467.4,322.9 469.1,324.1 472.2,324.4 474.7,325.9M474.5,326.3 474.6,323.3 475.3,321.6 477.2,319.5 478.0,317.8 480.3,316.2 481.7,316.3 483.3,315.0 485.6,314.5 486.5,312.7 488.3,311.1 489.8,309.5M449.4,327.5 451.5,326.8 453.3,327.1 455.5,326.7 457.0,326.5 459.7,327.1 461.1,328.4 462.2,326.3 463.6,325.6 464.5,323.6 465.1,321.1M469.1,323.7 469.4,325.6 470.3,327.5 470.9,329.1 470.8,331.8 470.4,333.2 472.3,335.3 473.2,336.1 474.0,337.0 476.9,338.5 479.9,338.8 481.3,339.1 483.2,338.9 485.6,338.9 488.9,339.8 490.5,338.1 491.8,336.6 494.9,337.8 496.5,338.0 498.6,338.2 499.7,339.8 501.3,339.3 503.3,340.2 505.2,338.8 507.0,338.6 508.6,337.0 510.9,335.7 513.3,334.0 513.8,331.8 515.1,329.4M473.4,338.0 472.8,339.2 472.3,342.1 471.9,344.6 471.3,347.1 470.9,349.5 470.1,350.4 469.1,354.1 468.4,354.7 467.6,356.3 466.5,358.2 465.4,360.0 462.9,361.1 461.2,361.8 459.5,362.9 457.6,364.1 455.8,365.5 453.9,365.7 451.7,367.0 450.0,367.8M470.4,353.9 471.9,355.7 473.5,357.5 474.7,359.2 475.4,361.6 477.8,363.0 479.1,365.1 478.7,367.9 479.5,370.0M449.2,352.6 452.1,353.6 454.2,355.2 455.9,356.7 457.3,358.1 459.6,359.7 460.3,360.9M479.2,365.8 478.9,367.9 478.9,370.7 481.9,370.6 484.2,370.6 486.2,370.6 488.1,370.6 491.1,371.1M491.1,370.5 490.2,373.2 490.4,375.1 490.2,376.8 488.2,377.8 486.6,378.3 484.2,380.4 482.8,381.1 480.5,382.6 478.7,383.0 478.8,385.5 478.0,387.4 476.5,390.4 478.1,391.7 477.2,395.0 477.5,397.1 477.4,398.8 477.9,401.6 477.4,403.3M491.3,370.2 493.6,371.5 495.0,372.7 497.1,372.4 498.9,373.3 500.1,373.9 501.4,373.9 503.6,373.7 504.5,372.2 506.3,371.1 506.3,369.0 506.9,365.3 507.0,362.1 506.5,360.7 506.1,358.6 504.3,355.7 504.6,354.1 507.0,353.5 508.7,353.2 510.9,352.6 512.7,351.5 515.1,351.4 517.2,350.8 519.1,350.6 521.9,350.8 524.5,351.4 525.7,350.4 527.7,350.0 529.5,349.8M529.4,349.4 528.9,351.9 527.8,354.2 525.9,356.0 525.3,357.8 524.3,359.3 523.2,359.9 520.9,362.6 521.0,363.7 519.9,366.1 518.1,367.4 518.9,369.9 519.7,372.4 519.6,374.2 518.1,376.3 518.4,379.3 516.9,380.6 517.2,383.0 518.6,384.7 520.4,385.6 520.8,388.2 522.8,389.6 523.0,391.8 524.2,393.4 523.8,396.5 524.5,398.0 524.7,400.5M519.3,376.0 522.0,375.3 524.1,373.8 527.0,374.7 529.6,374.5 531.6,376.6 533.5,377.5 533.8,380.1 533.1,382.6 532.9,384.7 533.9,386.9 535.2,388.5 536.6,389.3 539.0,391.6 541.3,392.8 540.5,395.4 540.8,397.3 540.5,399.2M529.5,349.6 531.6,350.1 533.6,350.3 534.5,350.8 536.9,350.9 537.5,351.1 540.6,351.6 542.7,353.8 544.6,354.9 544.4,357.1 543.8,358.0 544.8,361.1 546.6,362.1 548.2,364.0 550.1,365.3 551.6,366.0 553.6,367.4 554.1,369.4 553.2,371.8 553.3,374.3 554.4,376.0 555.2,378.0 557.7,377.8 559.5,379.0 561.4,378.4 562.8,380.7 563.7,382.8 565.2,384.8M553.8,367.3 555.8,368.1 558.1,368.4 560.0,369.0 562.0,369.2 563.4,370.3 565.2,371.2 567.1,372.0 568.6,372.8 570.0,373.8M566.3,229.9 568.7,231.5 570.6,232.1 571.9,234.3 573.7,234.7 574.9,237.2 575.9,238.9 577.7,238.8 579.7,238.5 581.8,238.6 584.3,239.4 585.9,239.1 588.2,239.3 590.7,238.6 591.1,239.4 593.0,241.9 593.4,243.5 594.3,245.6 594.9,246.4 594.7,249.5 593.6,251.0M607.9,234.4 606.9,236.0 606.0,237.7 604.4,239.2 602.7,240.5 601.4,242.0 599.3,243.9 598.2,244.9 597.2,247.1 596.8,248.2 595.2,249.6 593.6,251.0M583.9,239.6 581.9,240.3 580.0,240.7 577.9,241.8 575.9,243.7 575.4,243.9 575.1,246.3 575.5,248.6 575.7,249.9 576.7,251.5 577.5,253.4 578.2,255.7 578.1,257.9 577.3,259.4 578.5,261.5 579.5,263.5 580.1,265.3 580.5,267.4 580.7,269.6 580.8,271.1 580.8,273.3 580.2,274.4 580.0,276.7 580.1,279.2 579.3,281.6 578.7,283.8 579.3,285.9 580.6,288.6 580.8,290.2M594.1,250.9 592.7,253.6 593.1,255.5 592.5,258.2 591.4,260.2 593.5,262.5 593.6,264.4 593.0,265.3 593.8,268.1 594.4,269.9 595.7,272.8 595.4,273.8 596.4,276.5 595.9,280.1 598.3,280.7 598.5,282.3 600.0,284.0 601.7,285.4 603.1,286.5 604.3,287.2 605.6,289.4M581.1,290.1 583.8,291.0 583.9,292.4 586.5,292.2 588.8,293.9 591.5,293.7 592.9,294.3 594.6,294.4 596.7,295.0 599.6,293.1 601.8,292.7 604.1,290.9 605.5,289.4 607.8,289.6 610.4,290.2M610.1,289.1 611.2,287.2 612.5,285.1 614.4,285.0 617.2,283.8 618.8,283.2 621.5,283.4 624.0,283.8 626.0,284.7 626.9,286.3 628.7,285.2 630.7,284.3 632.0,282.5 632.8,281.4M632.7,281.3 633.0,279.4 631.9,277.3 632.3,275.5 631.8,274.2 633.7,272.4 634.8,270.4 634.0,268.4 633.0,265.7 632.1,264.7 632.0,263.0 630.4,261.6 629.6,259.8 629.9,257.0 630.0,255.1 632.6,254.6 633.5,253.0 635.2,251.9 637.5,251.3 639.0,250.9 641.6,249.4M632.8,281.0 635.7,280.7 636.8,280.3 639.3,280.8 640.9,282.4 643.3,282.2 644.9,279.5 646.8,279.0 648.6,277.0 651.2,275.6 652.7,275.0 653.9,273.8 654.9,271.4 655.5,270.1 657.5,269.2 658.9,267.0 660.2,266.0 660.9,264.1 660.7,262.0 661.6,260.2 662.7,258.6 662.4,257.0 664.0,255.8M630.8,284.1 632.2,285.9 633.0,287.2 636.3,288.0 638.4,288.9 640.1,288.7 643.4,290.0 645.2,289.8 647.4,288.6 649.7,287.1 652.7,287.6 654.2,287.4 656.5,285.9 658.7,285.3 661.1,285.5 663.2,285.5 665.8,285.6 667.9,285.4 669.6,284.6 672.1,284.9 674.0,285.4 675.7,285.4 677.6,285.4M630.6,284.2 631.1,286.9 631.8,288.8 631.9,290.2 634.8,291.5 636.4,292.7 638.1,293.3 640.2,294.4 642.2,295.7 643.5,296.3 645.3,296.3 647.7,296.3 649.6,296.0 652.5,296.6 653.6,297.9 656.6,298.3 658.0,299.0 659.4,301.3 658.8,303.1 657.5,304.5 658.6,305.5 660.1,306.5 662.8,307.2 664.4,309.0 666.5,309.6 666.9,311.6 667.2,313.4M604.9,290.0 604.9,291.1 603.9,293.1 603.5,294.6 601.7,296.6 601.4,298.9 600.1,301.0 598.8,302.8 597.3,305.0 596.4,305.9 596.1,307.5 593.2,308.8 592.6,311.1 590.5,313.0 588.9,314.5 587.8,316.2 585.9,318.1 584.0,320.0M610.5,290.8 611.2,292.5 610.8,294.1 611.8,296.6 611.4,298.7 610.4,300.7 609.8,303.0 608.1,305.0 609.4,307.0 608.3,308.3 608.2,311.1 608.1,311.9 607.3,315.1 610.0,316.9 609.6,320.0M609.4,315.8 611.9,315.9 613.3,315.3 615.8,315.3 618.2,315.6 619.5,315.0 621.7,315.4 623.7,315.3 625.9,315.7 628.6,316.7 629.9,317.5 632.0,320.0M580.2,290.3 578.5,291.4 576.7,291.0 574.7,291.8 573.0,292.2 571.0,294.8 570.1,296.2 568.7,298.1 566.9,299.6 566.4,301.4M560.2,267.7 561.0,269.9 562.2,272.2 563.2,273.6 565.0,275.3 567.5,275.9 569.4,277.2 569.8,279.0 569.5,281.3 570.6,283.6 573.0,285.1 574.5,286.7 576.6,288.4 579.1,290.1 580.8,290.2M566.1,301.5 566.0,304.1 566.1,306.5 566.5,307.6 566.9,309.7 568.0,311.5 568.6,313.7 569.5,314.8 570.2,316.5 571.5,318.8 573.0,319.8 573.3,321.8 573.8,323.7 574.3,326.3 574.4,328.4 573.9,330.6 574.3,333.0 574.6,335.2 574.6,336.4 575.1,338.3 574.9,340.7 575.3,342.4 576.0,344.4M599.0,299.8 597.2,301.5 597.5,303.7 595.3,305.9 594.5,307.1 592.4,308.6 591.2,309.7 589.6,311.7 588.9,313.7 587.6,314.5 587.0,315.5 585.5,317.3 583.6,319.6 582.8,320.9 581.6,323.8 580.5,325.2 579.0,327.2 578.3,329.2 577.2,331.8 575.5,333.6 575.4,335.9 574.4,338.5M610.1,300.6 609.5,302.2 608.5,304.3 607.8,306.7 607.5,308.2 608.1,310.8 608.3,313.2 608.7,315.3 608.0,316.5 607.2,320.1 606.2,321.8 603.5,323.0 601.3,323.4 599.6,325.4 598.8,327.0 598.0,329.5 597.7,330.7 596.9,332.7 596.8,334.4 595.4,336.6 595.0,337.8 594.4,340.1 593.5,341.9 592.9,344.2 592.0,345.3M608.9,316.2 611.0,315.1 613.5,314.0 616.1,315.3 618.2,314.8 620.2,315.2 622.1,315.0 624.6,316.2 626.6,315.6 629.1,316.8 629.4,318.1 629.3,319.8 631.2,322.0 633.3,322.5 635.1,324.0 637.2,325.1M576.2,344.5 578.3,343.4 580.0,344.0 581.5,343.6 583.9,343.7 585.9,344.9 588.8,345.7 590.6,345.8 591.5,346.0 593.5,347.7 595.0,347.3 596.6,349.0 598.4,348.0 600.1,347.3 600.6,348.4 602.2,350.2 602.5,352.5 604.4,353.3 607.5,355.9 608.7,355.9 609.9,357.2 612.0,359.2 614.1,360.4 615.2,361.7 617.4,363.2 617.9,364.5M576.0,344.3 575.6,347.0 574.3,348.5 573.9,350.9 572.5,351.7 570.6,352.6 567.7,354.3 566.4,354.5 564.0,355.7 561.8,356.2 560.0,355.8 557.1,355.8 555.5,355.1 553.9,356.7 551.6,357.5 549.8,358.9 548.0,361.1 545.9,362.0M544.9,361.6 547.1,363.6 548.5,364.5 550.2,366.0 552.2,367.0 554.6,366.5 556.1,367.6 558.4,367.6 560.9,369.0 563.1,370.4 565.0,371.6 567.3,372.2 569.7,372.3 570.8,373.3 573.8,374.6 575.4,374.6 577.1,375.5 579.8,376.0 582.2,376.4 584.6,376.7 586.9,377.5 588.4,378.0 591.1,378.3 591.7,379.5 593.7,380.5 596.0,381.5 597.2,382.5 598.2,383.7 600.2,384.0 602.0,383.8M565.6,384.6 566.4,386.8 568.6,388.0 569.7,390.0 571.7,390.9 574.3,392.1 576.7,393.0 578.5,394.7" fill="none" stroke="#000" stroke-width="1.6" stroke-linejoin="round" stroke-linecap="round"/>
<path d="M110.3,257.1 111.2,255.9 111.9,254.1 114.6,253.2 116.2,253.1 118.3,252.7 119.5,252.4 122.4,251.9 124.4,250.1 125.6,249.0 127.3,248.1 129.6,247.5 131.1,246.2 132.5,245.7 133.9,244.9 136.4,243.6 137.7,242.6 140.1,242.3 141.8,240.9 142.9,239.9 145.8,239.7 147.4,237.9 148.6,236.6 149.2,234.8 149.1,232.8 149.5,231.1 148.9,229.9 148.1,227.4 147.2,225.9 147.3,224.1 145.5,222.6 146.1,220.0 145.3,218.4 144.6,216.5 145.4,214.2 144.6,212.6 146.9,211.8 147.9,209.4 150.3,208.7 151.9,207.8 153.3,206.2 154.5,205.4 156.1,204.9 158.2,204.3 160.2,203.5 162.1,203.3 164.1,203.2 166.8,201.4 168.0,202.0 170.6,202.8 172.2,201.8 174.6,202.0 177.4,201.9 177.9,202.6 180.8,201.3 182.3,201.9 184.7,202.5 186.5,202.1 188.2,202.4 190.6,202.8 191.7,202.3 194.9,204.1 197.3,203.0 198.1,204.9 201.1,205.3 203.7,205.5 205.1,206.7 206.0,206.4 207.5,208.7 209.7,209.1 212.0,209.1 214.2,209.7 215.8,209.8 217.6,210.5 219.9,211.3 221.9,210.6 223.2,211.6 227.1,211.4 227.0,212.1 229.7,212.2 232.2,212.4 234.1,212.0 236.5,212.0 238.5,211.8 240.1,211.8 242.1,211.4 243.1,211.7 245.3,210.8 246.5,210.4 249.1,210.9 250.7,211.0 252.2,211.0 254.7,211.4 256.9,212.3 259.3,211.2 260.4,210.2 264.0,210.3 266.2,210.1 268.1,209.8 270.2,210.3 272.5,209.5 273.7,209.8 276.5,210.5 278.1,211.2 280.7,211.0 282.7,212.5 284.7,212.8 286.3,213.2 288.5,214.1 289.1,214.1 291.6,215.0 294.3,214.4 296.5,216.5 298.1,217.0 299.9,216.1 301.9,216.7 304.6,216.3 305.5,215.6 306.3,214.4 307.9,213.6 309.6,213.1 311.6,212.5 314.4,213.2 316.0,211.2 316.9,210.4 319.8,211.0 321.9,210.6 324.0,210.0 325.6,209.9 328.1,210.4 329.9,209.9 330.3,209.4 333.5,209.6 335.7,210.4 337.0,210.6 338.4,210.8 340.2,211.0 341.8,211.5 345.3,211.6 346.6,212.6 347.2,211.0 350.6,211.2 352.6,212.7 355.7,211.6 356.3,212.0 358.5,212.1 360.8,211.7 362.4,212.8 364.0,212.6 364.9,212.1 367.0,212.3 370.4,213.5 371.1,212.9 373.3,214.3 374.6,214.7 378.2,214.9 379.0,215.9 382.6,215.9 384.1,217.0 386.6,217.0 388.5,218.1 390.3,218.2 391.6,217.5 393.7,215.9 395.8,216.5 395.7,213.5 397.6,212.9 398.9,211.5 400.9,210.8 402.1,211.1 403.5,210.6 406.1,210.6 407.0,210.5 409.8,210.0 411.3,209.1 414.2,210.5 415.8,211.2 417.8,210.8 419.3,212.0 422.5,212.7 423.3,211.4 426.2,212.4 428.7,211.6 430.5,212.8 432.0,213.5 432.9,213.6 435.5,212.9 437.1,215.1 438.0,215.6 440.0,215.0 442.0,216.1 444.3,215.7 446.8,216.6 449.2,216.5 451.0,215.7 451.8,214.9 453.7,215.2 455.4,214.1 457.6,214.3 458.4,214.2 461.1,216.3 462.2,216.6 463.4,216.3 465.2,217.4 467.2,217.8 468.6,217.5 471.6,218.5 473.9,218.4 476.1,218.3 477.8,218.9 480.2,217.8 482.5,218.9 483.6,217.0 484.5,216.7 485.8,217.8 487.5,219.2 488.4,220.0 490.0,223.4 491.7,223.7 493.5,223.5 494.7,223.3 496.8,222.7 497.8,220.4 500.0,219.9 501.1,219.0 501.5,217.3 502.8,218.6 502.6,221.4 506.0,222.6 507.2,223.9 507.7,225.1 509.6,226.1 511.6,228.1 514.0,230.7 515.3,230.1 516.9,229.2 519.0,227.7 520.7,226.5 518.5,225.3 517.8,224.5 515.2,223.4 513.3,222.2 511.8,220.8 510.2,220.9 508.7,219.8 507.3,218.2 505.6,217.7 507.5,218.0 509.3,217.4 511.9,216.9 513.6,217.9 515.6,218.4 516.9,218.5 518.8,218.7 520.6,218.9 521.8,220.5 523.8,221.9 525.6,223.0 527.0,223.7 529.1,222.9 531.1,223.8 533.0,224.7 535.1,226.2 536.1,227.2 538.8,226.7 541.2,226.6 543.6,226.1 545.6,226.5 547.2,225.4 549.3,224.6 550.6,222.8 551.3,221.7 554.8,222.1 555.6,223.2 558.2,223.2 560.2,223.0 562.8,222.8 564.4,224.4 566.8,224.5 569.6,225.8 571.2,225.2 573.3,226.6 575.9,226.7 577.6,226.6 579.2,226.1 580.4,224.8 582.1,223.9 583.5,225.0 584.4,226.5 586.6,226.3 587.5,227.1 589.4,227.5 591.5,228.5 592.6,229.9 594.6,229.8 595.9,229.6 597.8,230.9 600.3,230.8 602.1,231.6 604.1,231.9 607.2,232.1 608.7,233.9 610.2,235.3 612.1,237.1 614.2,236.6 616.3,238.3 618.0,237.7 619.6,237.5 620.4,236.0 622.8,236.4 625.1,236.9 626.6,237.6 628.6,239.8 629.4,241.1 629.9,242.9 632.2,245.3 633.7,246.6 635.0,247.5 637.4,248.0 639.0,249.5 639.7,248.9 642.7,248.9 644.3,248.3 645.1,247.7 647.5,248.6 648.7,249.4 649.9,250.3 651.6,251.7 653.7,252.8 654.5,254.2 656.1,255.0 659.5,254.7 660.9,255.7 664.3,255.9 665.4,255.2 666.8,253.6 669.9,253.8 671.1,252.3 672.3,250.2 672.8,252.0 675.0,253.6 676.0,251.3 677.4,250.3 679.0,248.4 681.2,248.0 682.2,247.9 681.0,250.5 681.3,251.5 681.3,254.6 680.2,255.0 680.2,256.6 679.9,257.9 677.9,260.6 677.0,262.1 675.7,264.3 676.9,266.2 676.4,268.9 677.5,270.5 677.3,272.1 678.2,274.8 677.8,276.9 677.9,279.6 677.4,281.3 676.6,283.6 677.6,285.5 678.2,286.8 678.7,289.0 679.6,290.3 680.3,291.9 681.4,294.0 682.5,295.3 684.3,297.4 686.1,298.2 687.3,300.2 688.6,302.5 690.5,303.6 690.6,304.4 690.6,306.1 688.2,307.0 685.7,308.0 684.2,308.7 682.6,310.2 681.1,309.9 678.4,308.9 678.2,311.9 677.4,313.5 676.0,315.3 674.8,316.2 672.5,316.8 670.3,315.8 668.6,315.4 667.4,315.3 664.9,316.0 663.4,315.2 662.1,316.2 660.6,317.5 659.3,319.4 657.3,319.4 655.4,320.5 654.3,320.2 651.3,320.7 649.4,320.6 645.8,320.0 644.6,321.1 643.6,321.8 642.5,323.7 640.0,324.2 639.0,325.5 637.2,327.5 637.1,328.9 635.5,329.2 634.4,332.2 634.0,332.7 632.1,335.2 631.1,335.6 629.0,337.5 627.3,340.2 625.7,341.5 625.6,343.5 625.0,344.2 624.3,347.3 623.9,348.5 623.2,350.7 623.2,352.7 621.7,354.9 620.9,357.7 620.9,359.1 619.8,361.0 618.9,363.5 619.5,365.6 617.0,366.9 615.8,367.0 614.2,367.7 612.6,368.0 610.2,368.3 608.8,368.8 606.9,369.6 606.4,372.5 607.2,373.3 607.1,375.6 606.8,378.5 607.7,380.2 607.9,382.5 606.1,383.8 603.9,385.2 601.2,385.6 600.5,387.0 598.1,386.5 596.5,387.1 593.7,387.4 591.3,389.8 590.3,388.7 587.9,390.2 586.7,391.6 584.1,393.2 583.2,393.5 580.5,394.4 579.0,395.9 576.6,396.3 575.3,396.9 573.3,397.9 570.3,397.6 569.0,397.5 566.9,398.5 564.3,398.6 563.4,398.9 561.2,398.8 559.7,399.9 557.9,400.8 556.2,400.4 555.3,400.2 553.3,399.7 550.9,398.0 550.1,396.8 547.0,398.2 544.8,397.5 542.5,398.0 540.7,397.1 538.9,398.7 538.5,399.8 537.3,401.6 535.9,403.2 533.9,403.8 532.7,405.2 530.4,404.9 529.0,403.0 526.9,402.4 525.5,400.5 523.6,401.6 522.1,402.3 520.8,403.2 518.3,402.6 516.8,403.2 515.2,403.8 513.8,404.1 511.8,405.6 510.5,406.0 508.4,406.9 506.8,407.7 505.2,409.2 504.1,409.3 501.8,410.4 499.9,411.2 498.1,412.7 496.3,413.4 495.2,414.7 492.8,413.5 491.1,411.9 489.6,411.0 487.4,410.2 486.4,407.7 485.1,406.6 483.2,405.2 480.9,403.8 478.5,403.4 477.1,404.5 475.4,404.4 473.4,406.1 472.3,405.9 470.7,407.5 469.8,409.0 466.8,409.7 465.6,410.1 463.0,410.2 460.4,410.4 458.4,410.3 456.3,409.6 455.2,409.6 452.4,410.2 450.0,408.3 448.1,406.2 448.0,404.5 445.7,403.4 444.8,403.0 442.5,401.6 440.4,400.6 439.8,398.7 438.5,398.3 436.6,397.4 435.1,398.3 432.4,398.1 430.7,399.5 429.7,400.4 427.6,401.2 426.2,403.1 424.6,404.6 423.4,404.9 422.4,407.0 420.0,407.7 418.7,408.5 416.8,409.9 415.5,409.8 414.3,409.3 412.4,409.0 410.3,408.4 408.5,406.7 407.3,406.2 405.1,404.8 403.4,404.2 402.2,403.4 400.3,401.6 398.9,402.2 397.6,399.5 396.0,398.6 394.3,397.1 392.8,395.2 392.1,394.0 390.4,392.9 388.5,393.1 386.2,393.4 384.3,393.9 382.7,394.3 379.6,394.3 378.1,393.8 375.3,393.0 374.1,394.1 372.0,394.0 368.2,395.5 366.9,396.1 364.8,397.1 363.0,397.3 361.6,397.9 359.5,399.3 358.0,399.5 356.5,400.1 354.4,401.5 352.5,400.7 348.9,401.6 346.7,401.4 345.5,401.6 344.4,401.7 343.6,400.6 340.3,401.3 339.1,401.3 336.2,400.5 336.1,399.9 335.6,399.1 334.3,397.6 332.4,396.0 330.8,395.5 329.3,395.9 327.1,396.2 326.2,397.0 323.3,397.2 321.4,398.8 320.9,399.2 318.7,399.4 317.6,400.9 316.1,399.8 313.6,399.6 312.1,398.3 310.5,398.1 308.3,397.0 307.2,397.0 305.1,396.6 303.3,395.3 302.6,395.1 300.0,393.2 297.7,392.5 295.4,392.5 292.7,392.0 290.6,393.1 288.9,393.1 287.1,394.1 286.0,396.1 285.1,396.3 284.4,397.9 282.4,398.8 279.6,399.1 277.2,398.9 274.6,398.9 273.1,401.3 270.7,401.2 268.9,402.1 266.7,402.6 265.2,403.1 263.0,403.9 261.2,404.9 259.3,405.5 256.5,405.8 255.4,406.4 253.8,406.3 251.3,406.9 250.1,407.4 248.2,408.7 246.7,407.3 245.3,406.8 243.2,407.1 240.6,406.8 238.7,407.2 236.6,407.3 234.6,407.7 233.7,408.0 230.8,409.7 231.2,411.6 230.6,413.3 229.5,414.6 228.2,413.6 225.7,413.5 225.0,413.6 222.3,412.6 220.9,412.3 219.5,411.6 217.3,411.4 216.4,409.8 214.2,409.7 212.7,408.3 210.6,407.7 208.6,406.4 208.7,404.0 207.4,403.0 205.4,401.0 204.2,400.3 201.2,398.8 198.5,399.4 197.0,399.3 195.3,400.2 193.1,400.8 191.1,400.4 188.3,400.2 186.9,400.2 184.1,399.5 181.6,399.5 179.6,399.5 178.4,400.5 176.8,401.4 175.2,402.4 172.4,404.0 171.1,405.2 169.9,406.4 168.1,407.8 165.9,407.7 163.7,407.8 161.8,407.5 159.5,407.1 156.9,406.5 155.0,407.0 153.3,405.8 151.3,405.6 149.0,404.9 148.1,404.4 146.6,403.9 143.9,402.8 142.4,403.5 139.5,405.1 139.6,407.3 140.4,409.8 139.6,411.8 136.5,413.2 136.3,412.4 136.2,408.7 134.9,406.7 133.6,406.4 131.7,406.6 129.6,406.2 129.1,403.4 128.3,400.7 128.4,399.4 128.9,396.4 129.5,394.2 128.9,391.9 130.6,391.2 131.9,389.5 134.1,389.2 135.6,388.3 137.6,388.3 139.6,387.1 142.4,386.9 143.9,386.3 144.3,384.9 145.6,383.1 144.6,382.2 142.4,380.9 140.7,380.4 138.1,378.4 136.6,378.1 134.9,377.3 133.9,376.8 131.5,375.8 131.6,373.7 133.2,371.7 133.2,371.3 134.2,368.6 134.6,366.4 135.5,365.6 135.6,363.2 136.4,361.0 135.7,359.8 134.7,356.6 135.6,353.9 137.4,353.4 137.6,351.6 138.4,349.1 138.8,347.3 139.2,346.0 139.7,343.1 140.7,341.7 141.8,339.5 140.5,337.0 141.5,335.0 141.3,334.0 140.5,330.5 141.0,329.1 142.4,326.7 143.1,325.6 143.0,323.9 144.8,323.1 145.2,320.9 145.7,319.3 147.2,317.8 147.4,314.9 146.6,314.5 146.5,311.2 145.7,310.7 145.7,308.8 144.1,306.8 143.2,304.5 143.6,303.8 142.6,300.9 141.6,299.8 141.8,297.8 139.6,295.7 139.0,294.2 138.7,293.1 137.9,289.2 138.0,287.7 136.6,285.6 136.2,284.2 135.4,282.3 134.3,280.2 131.5,280.2 129.5,279.4 126.9,280.4 125.7,281.0 123.6,281.1 122.7,279.3 120.7,277.2 119.8,275.8 118.8,273.7 118.0,271.8 118.1,270.6 115.4,269.1 114.6,266.9 113.7,265.7 112.4,263.7 111.0,262.9 110.7,259.8 109.7,258.4Z" fill="none" stroke="#000" stroke-width="1.5" stroke-linejoin="round"/>
<g fill="#000"><circle cx="391.4" cy="414.9" r="1.3"/><circle cx="416.1" cy="417.7" r="1.1"/><circle cx="422.3" cy="414.9" r="1"/><circle cx="427.1" cy="415.6" r="1"/><circle cx="438.1" cy="415.2" r="1"/><circle cx="457.9" cy="416.3" r="1"/><circle cx="458.2" cy="410.8" r="1.5"/><circle cx="462.3" cy="412.2" r="1.5"/><circle cx="466.5" cy="412.9" r="1.5"/><circle cx="463.7" cy="419" r="1.2"/><circle cx="469.2" cy="420.2" r="1.2"/><circle cx="458.2" cy="416.3" r="1"/><circle cx="466.5" cy="419.8" r="1"/><circle cx="289" cy="401.2" r="1"/><circle cx="290.3" cy="397.8" r="0.9"/><circle cx="294.5" cy="395" r="0.9"/><circle cx="295.8" cy="399.9" r="1"/><circle cx="313.7" cy="406" r="1"/><circle cx="329.4" cy="404.7" r="0.9"/><circle cx="212.6" cy="414.9" r="0.9"/><circle cx="187.7" cy="406" r="0.8"/><circle cx="230" cy="413.6" r="1"/><circle cx="641.1" cy="332" r="1.3"/><circle cx="680.5" cy="265.2" r="1"/><circle cx="683" cy="274.5" r="0.9"/><circle cx="690.8" cy="247.5" r="1.6"/><circle cx="688.5" cy="244.5" r="1"/><circle cx="689" cy="298.5" r="1.4"/><circle cx="686.5" cy="296.5" r="1"/><circle cx="687" cy="310.8" r="1"/><circle cx="447" cy="405.5" r="1.6"/><circle cx="337" cy="400.5" r="1.2"/></g>
<path d="M364.7,431.4 368,429.2 370.5,426 372.9,424.5M475.4,409.5 477.6,413.4 475.2,416.4M479.5,407.5 481,411" fill="none" stroke="#000" stroke-width="2.2" stroke-linecap="round"/>
<!-- axes frame -->
<g stroke="#262626" stroke-width="1" fill="none" shape-rendering="crispEdges">
<rect x="99.5" y="171.5" width="593" height="290"/>
<path d="M134.5 461v-6M203.5 461v-6M272.5 461v-6M341.5 461v-6M410.5 461v-6M479.5 461v-6M548.5 461v-6M617.5 461v-6M687.5 461v-6"/>
<path d="M134.5 172v6M203.5 172v6M272.5 172v6M341.5 172v6M410.5 172v6M479.5 172v6M548.5 172v6M617.5 172v6M687.5 172v6"/>
<path d="M100 243.5h6M100 316.5h6M100 389.5h6M692 243.5h-6M692 316.5h-6M692 389.5h-6"/>
</g>
<!-- colorbar -->
<rect x="728.5" y="170.5" width="32" height="291" fill="url(#jet)" stroke="#262626" stroke-width="1" shape-rendering="crispEdges"/>
<path d="M760 222.5h-3M760 282.5h-3M760 343.5h-3M760 404.5h-3" stroke="#262626" stroke-width="1" shape-rendering="crispEdges"/>
<g font-size="18.5">
<text x="770" y="229">18</text>
<text x="770" y="289.5">16</text>
<text x="770" y="350.5">14</text>
<text x="770" y="411">12</text>
</g>
<!-- y labels -->
<g font-size="20" text-anchor="end">
<text x="92" y="178.5">18.6</text>
<text x="92" y="250.7">18.4</text>
<text x="92" y="323.6">18.2</text>
<text x="92" y="396.6">18</text>
<text x="92" y="468.5">17.8</text>
</g>
<g font-size="20.6" text-anchor="middle">
<text x="134.5" y="491">-67.2</text>
<text x="203.5" y="491">-67</text>
<text x="272.5" y="491">-66.8</text>
<text x="341.5" y="491">-66.6</text>
<text x="410.5" y="491">-66.4</text>
<text x="479.5" y="491">-66.2</text>
<text x="548.5" y="491">-66</text>
<text x="618" y="491">-65.8</text>
<text x="687.5" y="491">-65.6</text>
</g>
<text x="397" y="521.5" font-size="22.6" text-anchor="middle">Longitude</text>
<text transform="translate(37.8 315.5) rotate(-90)" font-size="22.6" text-anchor="middle">Latitude</text>
<text x="397.5" y="161.6" font-size="22.6" font-weight="bold" text-anchor="middle" fill="#000" letter-spacing="0.17">SOLAR RADIATION (MJ/m2/day) 16-Oct-2025</text>
</svg>
</body></html>
